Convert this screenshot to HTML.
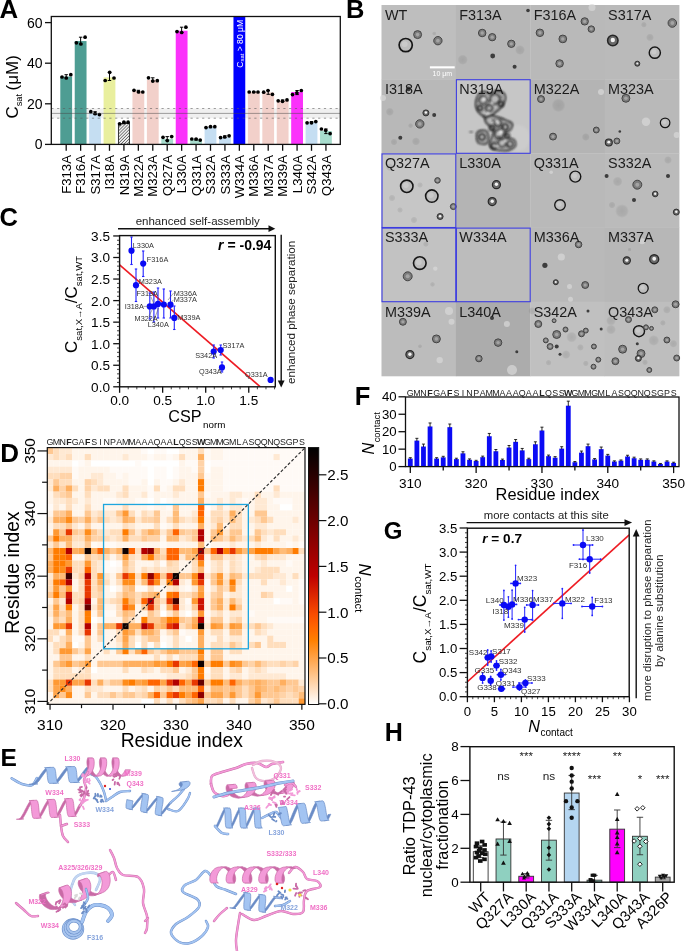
<!DOCTYPE html>
<html><head><meta charset="utf-8"><style>
html,body{margin:0;padding:0;background:#fff;}
body{width:685px;height:951px;overflow:hidden;}
svg{display:block;font-family:"Liberation Sans", sans-serif;will-change:transform;}
</style></head><body>
<svg width="685" height="951" viewBox="0 0 685 951">
<rect width="685" height="951" fill="#fff"/>
<text x="-0.60" y="17.80" font-size="25.8" font-weight="bold" fill="#000">A</text>
<rect x="51.30" y="108.50" width="289.00" height="9.70" fill="#f0f0f0"/>
<defs><pattern id="hatch" width="2.2" height="2.2" patternUnits="userSpaceOnUse" patternTransform="rotate(45)"><rect width="2.2" height="2.2" fill="#eeeeee"/><line x1="0" y1="0" x2="0" y2="2.2" stroke="#2a2a2a" stroke-width="1.05"/></pattern></defs>
<rect x="60.30" y="76.60" width="11.80" height="67.80" fill="#4e9d93"/>
<line x1="66.20" y1="74.70" x2="66.20" y2="78.00" stroke="#000" stroke-width="1.0"/>
<line x1="64.50" y1="74.70" x2="67.90" y2="74.70" stroke="#000" stroke-width="1.0"/>
<line x1="64.50" y1="78.00" x2="67.90" y2="78.00" stroke="#000" stroke-width="1.0"/>
<circle cx="62.00" cy="77.00" r="1.85" fill="#000"/>
<circle cx="66.30" cy="78.00" r="1.85" fill="#000"/>
<circle cx="70.80" cy="74.70" r="1.85" fill="#000"/>
<rect x="74.73" y="41.07" width="11.80" height="103.33" fill="#4e9d93"/>
<line x1="80.63" y1="37.20" x2="80.63" y2="44.00" stroke="#000" stroke-width="1.0"/>
<line x1="78.93" y1="37.20" x2="82.33" y2="37.20" stroke="#000" stroke-width="1.0"/>
<line x1="78.93" y1="44.00" x2="82.33" y2="44.00" stroke="#000" stroke-width="1.0"/>
<circle cx="76.40" cy="42.80" r="1.85" fill="#000"/>
<circle cx="80.90" cy="44.00" r="1.85" fill="#000"/>
<circle cx="85.10" cy="37.20" r="1.85" fill="#000"/>
<rect x="89.16" y="113.14" width="11.80" height="31.26" fill="#c5def2"/>
<line x1="95.06" y1="111.70" x2="95.06" y2="114.60" stroke="#000" stroke-width="1.0"/>
<line x1="93.36" y1="111.70" x2="96.76" y2="111.70" stroke="#000" stroke-width="1.0"/>
<line x1="93.36" y1="114.60" x2="96.76" y2="114.60" stroke="#000" stroke-width="1.0"/>
<circle cx="90.80" cy="111.70" r="1.85" fill="#000"/>
<circle cx="95.10" cy="113.60" r="1.85" fill="#000"/>
<circle cx="99.40" cy="114.60" r="1.85" fill="#000"/>
<rect x="103.59" y="77.41" width="11.80" height="66.99" fill="#e9ef9e"/>
<line x1="109.49" y1="72.30" x2="109.49" y2="80.50" stroke="#000" stroke-width="1.0"/>
<line x1="107.79" y1="72.30" x2="111.19" y2="72.30" stroke="#000" stroke-width="1.0"/>
<line x1="107.79" y1="80.50" x2="111.19" y2="80.50" stroke="#000" stroke-width="1.0"/>
<circle cx="105.20" cy="80.50" r="1.85" fill="#000"/>
<circle cx="109.70" cy="72.30" r="1.85" fill="#000"/>
<circle cx="114.00" cy="78.00" r="1.85" fill="#000"/>
<rect x="118.42" y="123.49" width="11.00" height="20.91" fill="url(#hatch)" stroke="#222" stroke-width="0.9"/>
<line x1="123.92" y1="122.20" x2="123.92" y2="123.80" stroke="#000" stroke-width="1.0"/>
<line x1="122.22" y1="122.20" x2="125.62" y2="122.20" stroke="#000" stroke-width="1.0"/>
<line x1="122.22" y1="123.80" x2="125.62" y2="123.80" stroke="#000" stroke-width="1.0"/>
<circle cx="119.60" cy="123.80" r="1.85" fill="#000"/>
<circle cx="123.90" cy="122.20" r="1.85" fill="#000"/>
<circle cx="128.10" cy="122.20" r="1.85" fill="#000"/>
<rect x="132.45" y="91.01" width="11.80" height="53.39" fill="#f2d0ca"/>
<line x1="138.35" y1="90.30" x2="138.35" y2="92.00" stroke="#000" stroke-width="1.0"/>
<line x1="136.65" y1="90.30" x2="140.05" y2="90.30" stroke="#000" stroke-width="1.0"/>
<line x1="136.65" y1="92.00" x2="140.05" y2="92.00" stroke="#000" stroke-width="1.0"/>
<circle cx="134.00" cy="90.30" r="1.85" fill="#000"/>
<circle cx="138.60" cy="92.00" r="1.85" fill="#000"/>
<circle cx="142.80" cy="92.00" r="1.85" fill="#000"/>
<rect x="146.88" y="79.85" width="11.80" height="64.55" fill="#f2d0ca"/>
<line x1="152.78" y1="77.80" x2="152.78" y2="81.10" stroke="#000" stroke-width="1.0"/>
<line x1="151.08" y1="77.80" x2="154.48" y2="77.80" stroke="#000" stroke-width="1.0"/>
<line x1="151.08" y1="81.10" x2="154.48" y2="81.10" stroke="#000" stroke-width="1.0"/>
<circle cx="148.50" cy="77.80" r="1.85" fill="#000"/>
<circle cx="152.80" cy="81.10" r="1.85" fill="#000"/>
<circle cx="157.30" cy="80.70" r="1.85" fill="#000"/>
<rect x="161.31" y="138.92" width="11.80" height="5.48" fill="#a7dccd"/>
<line x1="167.21" y1="136.60" x2="167.21" y2="140.60" stroke="#000" stroke-width="1.0"/>
<line x1="165.51" y1="136.60" x2="168.91" y2="136.60" stroke="#000" stroke-width="1.0"/>
<line x1="165.51" y1="140.60" x2="168.91" y2="140.60" stroke="#000" stroke-width="1.0"/>
<circle cx="163.00" cy="137.30" r="1.85" fill="#000"/>
<circle cx="167.30" cy="140.60" r="1.85" fill="#000"/>
<circle cx="171.70" cy="136.60" r="1.85" fill="#000"/>
<rect x="175.74" y="30.72" width="11.80" height="113.68" fill="#fb32fb"/>
<line x1="181.64" y1="27.20" x2="181.64" y2="32.50" stroke="#000" stroke-width="1.0"/>
<line x1="179.94" y1="27.20" x2="183.34" y2="27.20" stroke="#000" stroke-width="1.0"/>
<line x1="179.94" y1="32.50" x2="183.34" y2="32.50" stroke="#000" stroke-width="1.0"/>
<circle cx="177.00" cy="31.60" r="1.85" fill="#000"/>
<circle cx="181.70" cy="32.50" r="1.85" fill="#000"/>
<circle cx="185.90" cy="27.20" r="1.85" fill="#000"/>
<rect x="190.17" y="139.33" width="11.80" height="5.07" fill="#a7dccd"/>
<line x1="196.07" y1="139.00" x2="196.07" y2="140.10" stroke="#000" stroke-width="1.0"/>
<line x1="194.37" y1="139.00" x2="197.77" y2="139.00" stroke="#000" stroke-width="1.0"/>
<line x1="194.37" y1="140.10" x2="197.77" y2="140.10" stroke="#000" stroke-width="1.0"/>
<circle cx="191.80" cy="139.00" r="1.85" fill="#000"/>
<circle cx="196.10" cy="139.00" r="1.85" fill="#000"/>
<circle cx="200.20" cy="140.10" r="1.85" fill="#000"/>
<rect x="204.60" y="127.35" width="11.80" height="17.05" fill="#c5def2"/>
<line x1="210.50" y1="126.70" x2="210.50" y2="127.60" stroke="#000" stroke-width="1.0"/>
<line x1="208.80" y1="126.70" x2="212.20" y2="126.70" stroke="#000" stroke-width="1.0"/>
<line x1="208.80" y1="127.60" x2="212.20" y2="127.60" stroke="#000" stroke-width="1.0"/>
<circle cx="206.00" cy="127.60" r="1.85" fill="#000"/>
<circle cx="210.50" cy="126.70" r="1.85" fill="#000"/>
<circle cx="214.80" cy="126.70" r="1.85" fill="#000"/>
<rect x="219.03" y="137.30" width="11.80" height="7.10" fill="#c5def2"/>
<line x1="224.93" y1="135.80" x2="224.93" y2="137.60" stroke="#000" stroke-width="1.0"/>
<line x1="223.23" y1="135.80" x2="226.63" y2="135.80" stroke="#000" stroke-width="1.0"/>
<line x1="223.23" y1="137.60" x2="226.63" y2="137.60" stroke="#000" stroke-width="1.0"/>
<circle cx="220.60" cy="137.60" r="1.85" fill="#000"/>
<circle cx="224.70" cy="137.00" r="1.85" fill="#000"/>
<circle cx="229.10" cy="135.80" r="1.85" fill="#000"/>
<rect x="233.46" y="16.50" width="11.80" height="127.90" fill="#0000ff"/>
<text x="242.56" y="19.80" font-size="8.6" text-anchor="end" fill="#fff" transform="rotate(-90 242.55999999999997 19.8)">C<tspan font-size="5.8" dy="1.6">sat</tspan><tspan dy="-1.6"> &gt; 80 μM</tspan></text>
<rect x="247.89" y="92.03" width="11.80" height="52.37" fill="#f2d0ca"/>
<line x1="253.79" y1="92.00" x2="253.79" y2="92.00" stroke="#000" stroke-width="1.0"/>
<line x1="252.09" y1="92.00" x2="255.49" y2="92.00" stroke="#000" stroke-width="1.0"/>
<line x1="252.09" y1="92.00" x2="255.49" y2="92.00" stroke="#000" stroke-width="1.0"/>
<circle cx="249.20" cy="92.00" r="1.85" fill="#000"/>
<circle cx="253.70" cy="92.00" r="1.85" fill="#000"/>
<circle cx="258.00" cy="92.00" r="1.85" fill="#000"/>
<rect x="262.32" y="92.43" width="11.80" height="51.97" fill="#f2d0ca"/>
<line x1="268.22" y1="90.50" x2="268.22" y2="94.30" stroke="#000" stroke-width="1.0"/>
<line x1="266.52" y1="90.50" x2="269.92" y2="90.50" stroke="#000" stroke-width="1.0"/>
<line x1="266.52" y1="94.30" x2="269.92" y2="94.30" stroke="#000" stroke-width="1.0"/>
<circle cx="263.70" cy="92.20" r="1.85" fill="#000"/>
<circle cx="268.00" cy="90.50" r="1.85" fill="#000"/>
<circle cx="272.40" cy="94.30" r="1.85" fill="#000"/>
<rect x="276.75" y="100.55" width="11.80" height="43.85" fill="#f2d0ca"/>
<line x1="282.65" y1="99.90" x2="282.65" y2="101.30" stroke="#000" stroke-width="1.0"/>
<line x1="280.95" y1="99.90" x2="284.35" y2="99.90" stroke="#000" stroke-width="1.0"/>
<line x1="280.95" y1="101.30" x2="284.35" y2="101.30" stroke="#000" stroke-width="1.0"/>
<circle cx="278.20" cy="100.80" r="1.85" fill="#000"/>
<circle cx="282.50" cy="101.30" r="1.85" fill="#000"/>
<circle cx="287.00" cy="99.90" r="1.85" fill="#000"/>
<rect x="291.18" y="92.03" width="11.80" height="52.37" fill="#fb32fb"/>
<line x1="297.08" y1="90.50" x2="297.08" y2="94.60" stroke="#000" stroke-width="1.0"/>
<line x1="295.38" y1="90.50" x2="298.78" y2="90.50" stroke="#000" stroke-width="1.0"/>
<line x1="295.38" y1="94.60" x2="298.78" y2="94.60" stroke="#000" stroke-width="1.0"/>
<circle cx="292.50" cy="94.60" r="1.85" fill="#000"/>
<circle cx="296.90" cy="92.80" r="1.85" fill="#000"/>
<circle cx="301.30" cy="90.50" r="1.85" fill="#000"/>
<rect x="305.61" y="122.27" width="11.80" height="22.13" fill="#c5def2"/>
<line x1="311.51" y1="121.60" x2="311.51" y2="122.80" stroke="#000" stroke-width="1.0"/>
<line x1="309.81" y1="121.60" x2="313.21" y2="121.60" stroke="#000" stroke-width="1.0"/>
<line x1="309.81" y1="122.80" x2="313.21" y2="122.80" stroke="#000" stroke-width="1.0"/>
<circle cx="307.10" cy="122.80" r="1.85" fill="#000"/>
<circle cx="311.50" cy="122.80" r="1.85" fill="#000"/>
<circle cx="315.80" cy="121.60" r="1.85" fill="#000"/>
<rect x="320.04" y="131.00" width="11.80" height="13.40" fill="#a7dccd"/>
<line x1="325.94" y1="129.00" x2="325.94" y2="133.60" stroke="#000" stroke-width="1.0"/>
<line x1="324.24" y1="129.00" x2="327.64" y2="129.00" stroke="#000" stroke-width="1.0"/>
<line x1="324.24" y1="133.60" x2="327.64" y2="133.60" stroke="#000" stroke-width="1.0"/>
<circle cx="321.40" cy="129.00" r="1.85" fill="#000"/>
<circle cx="325.70" cy="130.30" r="1.85" fill="#000"/>
<circle cx="330.10" cy="133.60" r="1.85" fill="#000"/>
<line x1="51.30" y1="108.50" x2="340.30" y2="108.50" stroke="rgba(90,90,90,0.65)" stroke-width="0.9" stroke-dasharray="2.2 3.6"/>
<line x1="51.30" y1="118.20" x2="340.30" y2="118.20" stroke="rgba(90,90,90,0.65)" stroke-width="0.9" stroke-dasharray="2.2 3.6"/>
<line x1="51.30" y1="113.40" x2="340.30" y2="113.40" stroke="rgba(70,70,70,0.55)" stroke-width="0.9"/>
<rect x="51.3" y="16.5" width="289.0" height="127.9" fill="none" stroke="#111" stroke-width="1.3"/>
<line x1="45.00" y1="144.40" x2="51.30" y2="144.40" stroke="#111" stroke-width="1.3"/>
<text x="42.60" y="149.40" font-size="14" text-anchor="end" fill="#000">0</text>
<line x1="45.00" y1="103.80" x2="51.30" y2="103.80" stroke="#111" stroke-width="1.3"/>
<text x="42.60" y="108.80" font-size="14" text-anchor="end" fill="#000">20</text>
<line x1="45.00" y1="63.20" x2="51.30" y2="63.20" stroke="#111" stroke-width="1.3"/>
<text x="42.60" y="68.20" font-size="14" text-anchor="end" fill="#000">40</text>
<line x1="45.00" y1="22.60" x2="51.30" y2="22.60" stroke="#111" stroke-width="1.3"/>
<text x="42.60" y="27.60" font-size="14" text-anchor="end" fill="#000">60</text>
<line x1="66.20" y1="144.40" x2="66.20" y2="150.80" stroke="#111" stroke-width="1.3"/>
<text x="70.90" y="155.00" font-size="13.2" text-anchor="end" fill="#000" transform="rotate(-90 70.9 155.0)">F313A</text>
<line x1="80.63" y1="144.40" x2="80.63" y2="150.80" stroke="#111" stroke-width="1.3"/>
<text x="85.33" y="155.00" font-size="13.2" text-anchor="end" fill="#000" transform="rotate(-90 85.33 155.0)">F316A</text>
<line x1="95.06" y1="144.40" x2="95.06" y2="150.80" stroke="#111" stroke-width="1.3"/>
<text x="99.76" y="155.00" font-size="13.2" text-anchor="end" fill="#000" transform="rotate(-90 99.76 155.0)">S317A</text>
<line x1="109.49" y1="144.40" x2="109.49" y2="150.80" stroke="#111" stroke-width="1.3"/>
<text x="114.19" y="155.00" font-size="13.2" text-anchor="end" fill="#000" transform="rotate(-90 114.19000000000001 155.0)">I318A</text>
<line x1="123.92" y1="144.40" x2="123.92" y2="150.80" stroke="#111" stroke-width="1.3"/>
<text x="128.62" y="155.00" font-size="13.2" text-anchor="end" fill="#000" transform="rotate(-90 128.62 155.0)">N319A</text>
<line x1="138.35" y1="144.40" x2="138.35" y2="150.80" stroke="#111" stroke-width="1.3"/>
<text x="143.05" y="155.00" font-size="13.2" text-anchor="end" fill="#000" transform="rotate(-90 143.04999999999998 155.0)">M322A</text>
<line x1="152.78" y1="144.40" x2="152.78" y2="150.80" stroke="#111" stroke-width="1.3"/>
<text x="157.48" y="155.00" font-size="13.2" text-anchor="end" fill="#000" transform="rotate(-90 157.48 155.0)">M323A</text>
<line x1="167.21" y1="144.40" x2="167.21" y2="150.80" stroke="#111" stroke-width="1.3"/>
<text x="171.91" y="155.00" font-size="13.2" text-anchor="end" fill="#000" transform="rotate(-90 171.91 155.0)">Q327A</text>
<line x1="181.64" y1="144.40" x2="181.64" y2="150.80" stroke="#111" stroke-width="1.3"/>
<text x="186.34" y="155.00" font-size="13.2" text-anchor="end" fill="#000" transform="rotate(-90 186.34 155.0)">L330A</text>
<line x1="196.07" y1="144.40" x2="196.07" y2="150.80" stroke="#111" stroke-width="1.3"/>
<text x="200.77" y="155.00" font-size="13.2" text-anchor="end" fill="#000" transform="rotate(-90 200.77 155.0)">Q331A</text>
<line x1="210.50" y1="144.40" x2="210.50" y2="150.80" stroke="#111" stroke-width="1.3"/>
<text x="215.20" y="155.00" font-size="13.2" text-anchor="end" fill="#000" transform="rotate(-90 215.20000000000002 155.0)">S332A</text>
<line x1="224.93" y1="144.40" x2="224.93" y2="150.80" stroke="#111" stroke-width="1.3"/>
<text x="229.63" y="155.00" font-size="13.2" text-anchor="end" fill="#000" transform="rotate(-90 229.62999999999997 155.0)">S333A</text>
<line x1="239.36" y1="144.40" x2="239.36" y2="150.80" stroke="#111" stroke-width="1.3"/>
<text x="244.06" y="155.00" font-size="13.2" text-anchor="end" fill="#000" transform="rotate(-90 244.05999999999997 155.0)">W334A</text>
<line x1="253.79" y1="144.40" x2="253.79" y2="150.80" stroke="#111" stroke-width="1.3"/>
<text x="258.49" y="155.00" font-size="13.2" text-anchor="end" fill="#000" transform="rotate(-90 258.49 155.0)">M336A</text>
<line x1="268.22" y1="144.40" x2="268.22" y2="150.80" stroke="#111" stroke-width="1.3"/>
<text x="272.92" y="155.00" font-size="13.2" text-anchor="end" fill="#000" transform="rotate(-90 272.91999999999996 155.0)">M337A</text>
<line x1="282.65" y1="144.40" x2="282.65" y2="150.80" stroke="#111" stroke-width="1.3"/>
<text x="287.35" y="155.00" font-size="13.2" text-anchor="end" fill="#000" transform="rotate(-90 287.34999999999997 155.0)">M339A</text>
<line x1="297.08" y1="144.40" x2="297.08" y2="150.80" stroke="#111" stroke-width="1.3"/>
<text x="301.78" y="155.00" font-size="13.2" text-anchor="end" fill="#000" transform="rotate(-90 301.78 155.0)">L340A</text>
<line x1="311.51" y1="144.40" x2="311.51" y2="150.80" stroke="#111" stroke-width="1.3"/>
<text x="316.21" y="155.00" font-size="13.2" text-anchor="end" fill="#000" transform="rotate(-90 316.21 155.0)">S342A</text>
<line x1="325.94" y1="144.40" x2="325.94" y2="150.80" stroke="#111" stroke-width="1.3"/>
<text x="330.64" y="155.00" font-size="13.2" text-anchor="end" fill="#000" transform="rotate(-90 330.64 155.0)">Q343A</text>
<text x="17.5" y="118.5" font-size="17" transform="rotate(-90 17.5 118.5)">C<tspan font-size="9.2" dy="4.6">sat</tspan><tspan dy="-4.6" dx="3.5">(μM)</tspan></text>
<text x="346.00" y="17.90" font-size="25.5" font-weight="bold" fill="#000">B</text>
<defs><radialGradient id="blob"><stop offset="0" stop-color="#000" stop-opacity="0.10"/><stop offset="0.7" stop-color="#000" stop-opacity="0.07"/><stop offset="1" stop-color="#000" stop-opacity="0"/></radialGradient><radialGradient id="blobL"><stop offset="0" stop-color="#fff" stop-opacity="0.25"/><stop offset="1" stop-color="#fff" stop-opacity="0"/></radialGradient><filter id="soft" x="-50%" y="-50%" width="200%" height="200%"><feGaussianBlur stdDeviation="0.5"/></filter><filter id="soft2" x="-50%" y="-50%" width="200%" height="200%"><feGaussianBlur stdDeviation="0.8"/></filter></defs>
<rect x="381.50" y="5.00" width="74.70" height="74.50" fill="#bebebe"/>
<rect x="455.90" y="5.00" width="74.70" height="74.50" fill="#b7b7b7"/>
<rect x="530.30" y="5.00" width="74.70" height="74.50" fill="#b9b9b9"/>
<rect x="604.70" y="5.00" width="74.70" height="74.50" fill="#bababa"/>
<rect x="381.50" y="79.20" width="74.70" height="74.50" fill="#b8b8b8"/>
<rect x="455.90" y="79.20" width="74.70" height="74.50" fill="#c6c6c6"/>
<rect x="530.30" y="79.20" width="74.70" height="74.50" fill="#b4b4b4"/>
<rect x="604.70" y="79.20" width="74.70" height="74.50" fill="#b9b9b9"/>
<rect x="381.50" y="153.40" width="74.70" height="74.50" fill="#c6c6c6"/>
<rect x="455.90" y="153.40" width="74.70" height="74.50" fill="#b4b4b4"/>
<rect x="530.30" y="153.40" width="74.70" height="74.50" fill="#b9b9b9"/>
<rect x="604.70" y="153.40" width="74.70" height="74.50" fill="#bbbbbb"/>
<rect x="381.50" y="227.60" width="74.70" height="74.50" fill="#c2c2c2"/>
<rect x="455.90" y="227.60" width="74.70" height="74.50" fill="#bcbcbc"/>
<rect x="530.30" y="227.60" width="74.70" height="74.50" fill="#b9b9b9"/>
<rect x="604.70" y="227.60" width="74.70" height="74.50" fill="#b7b7b7"/>
<rect x="381.50" y="301.80" width="74.70" height="74.50" fill="#bcbcbc"/>
<rect x="455.90" y="301.80" width="74.70" height="74.50" fill="#acacac"/>
<rect x="530.30" y="301.80" width="74.70" height="74.50" fill="#c0c0c0"/>
<rect x="604.70" y="301.80" width="74.70" height="74.50" fill="#bebebe"/>
<circle cx="405.70" cy="45.10" r="7.50" fill="rgba(255,255,255,0.15)" filter="url(#soft)"/>
<circle cx="405.70" cy="45.10" r="6.60" fill="#bdbdbd" stroke="#181818" stroke-width="1.72" filter="url(#soft)"/>
<circle cx="404.71" cy="44.11" r="2.97" fill="rgba(255,255,255,0.2)" filter="url(#soft)"/>
<circle cx="417.60" cy="34.60" r="4.80" fill="rgba(255,255,255,0.15)" filter="url(#soft)"/>
<circle cx="417.60" cy="34.60" r="4.00" fill="#7c7c7c" stroke="#3a3a3a" stroke-width="0.9" filter="url(#soft)"/>
<circle cx="417.60" cy="34.60" r="1.80" fill="#a4a4a4" filter="url(#soft)"/>
<circle cx="437.90" cy="40.70" r="5.00" fill="rgba(255,255,255,0.15)" filter="url(#soft)"/>
<circle cx="437.90" cy="40.70" r="4.20" fill="#7c7c7c" stroke="#3a3a3a" stroke-width="0.9" filter="url(#soft)"/>
<circle cx="437.90" cy="40.70" r="1.89" fill="#a4a4a4" filter="url(#soft)"/>
<circle cx="434.20" cy="33.50" r="2.20" fill="url(#blob)"/>
<circle cx="482.20" cy="33.00" r="4.60" fill="rgba(255,255,255,0.15)" filter="url(#soft)"/>
<circle cx="482.20" cy="33.00" r="3.80" fill="#7c7c7c" stroke="#3a3a3a" stroke-width="0.9" filter="url(#soft)"/>
<circle cx="482.20" cy="33.00" r="1.71" fill="#a4a4a4" filter="url(#soft)"/>
<circle cx="492.20" cy="37.20" r="4.50" fill="rgba(255,255,255,0.15)" filter="url(#soft)"/>
<circle cx="492.20" cy="37.20" r="3.70" fill="#7c7c7c" stroke="#3a3a3a" stroke-width="0.9" filter="url(#soft)"/>
<circle cx="492.20" cy="37.20" r="1.67" fill="#a4a4a4" filter="url(#soft)"/>
<circle cx="511.30" cy="43.80" r="4.50" fill="rgba(255,255,255,0.15)" filter="url(#soft)"/>
<circle cx="511.30" cy="43.80" r="3.70" fill="#7c7c7c" stroke="#3a3a3a" stroke-width="0.9" filter="url(#soft)"/>
<circle cx="511.30" cy="43.80" r="1.67" fill="#a4a4a4" filter="url(#soft)"/>
<circle cx="492.70" cy="56.00" r="2.40" fill="#3c3c3c" filter="url(#soft)"/>
<circle cx="514.60" cy="66.70" r="2.00" fill="#3c3c3c" filter="url(#soft)"/>
<circle cx="462.70" cy="59.70" r="5.20" fill="url(#blob)"/>
<circle cx="528.00" cy="10.50" r="1.80" fill="#3c3c3c" filter="url(#soft)"/>
<circle cx="520.00" cy="50.00" r="5.00" fill="url(#blob)"/>
<circle cx="539.90" cy="32.80" r="4.60" fill="rgba(255,255,255,0.15)" filter="url(#soft)"/>
<circle cx="539.90" cy="32.80" r="3.80" fill="#7c7c7c" stroke="#3a3a3a" stroke-width="0.9" filter="url(#soft)"/>
<circle cx="539.90" cy="32.80" r="1.71" fill="#a4a4a4" filter="url(#soft)"/>
<circle cx="562.80" cy="38.90" r="4.70" fill="rgba(255,255,255,0.15)" filter="url(#soft)"/>
<circle cx="562.80" cy="38.90" r="3.90" fill="#7c7c7c" stroke="#3a3a3a" stroke-width="0.9" filter="url(#soft)"/>
<circle cx="562.80" cy="38.90" r="1.75" fill="#a4a4a4" filter="url(#soft)"/>
<circle cx="584.70" cy="21.40" r="4.50" fill="rgba(255,255,255,0.15)" filter="url(#soft)"/>
<circle cx="584.70" cy="21.40" r="3.70" fill="#7c7c7c" stroke="#3a3a3a" stroke-width="0.9" filter="url(#soft)"/>
<circle cx="584.70" cy="21.40" r="1.67" fill="#a4a4a4" filter="url(#soft)"/>
<circle cx="591.30" cy="29.10" r="4.10" fill="rgba(255,255,255,0.15)" filter="url(#soft)"/>
<circle cx="591.30" cy="29.10" r="3.30" fill="#7c7c7c" stroke="#3a3a3a" stroke-width="0.9" filter="url(#soft)"/>
<circle cx="591.30" cy="29.10" r="1.48" fill="#a4a4a4" filter="url(#soft)"/>
<circle cx="559.60" cy="63.50" r="4.60" fill="rgba(255,255,255,0.15)" filter="url(#soft)"/>
<circle cx="559.60" cy="63.50" r="3.80" fill="#7c7c7c" stroke="#3a3a3a" stroke-width="0.9" filter="url(#soft)"/>
<circle cx="559.60" cy="63.50" r="1.71" fill="#a4a4a4" filter="url(#soft)"/>
<circle cx="592.00" cy="7.50" r="3.50" fill="#d8d8d8" fill-opacity="0.7" filter="url(#soft)"/>
<circle cx="612.80" cy="40.50" r="5.20" fill="#6a6a6a" stroke="#262626" stroke-width="1.56" filter="url(#soft)"/>
<circle cx="612.80" cy="39.98" r="2.18" fill="#f2f2f2" filter="url(#soft)"/>
<circle cx="654.80" cy="52.70" r="6.50" fill="rgba(255,255,255,0.15)" filter="url(#soft)"/>
<circle cx="654.80" cy="52.70" r="5.60" fill="#bdbdbd" stroke="#181818" stroke-width="1.46" filter="url(#soft)"/>
<circle cx="653.96" cy="51.86" r="2.52" fill="rgba(255,255,255,0.2)" filter="url(#soft)"/>
<circle cx="672.30" cy="23.00" r="5.10" fill="rgba(255,255,255,0.15)" filter="url(#soft)"/>
<circle cx="672.30" cy="23.00" r="4.30" fill="#7c7c7c" stroke="#3a3a3a" stroke-width="0.9" filter="url(#soft)"/>
<circle cx="672.30" cy="23.00" r="1.94" fill="#a4a4a4" filter="url(#soft)"/>
<circle cx="643.90" cy="24.70" r="3.00" fill="url(#blob)"/>
<circle cx="650.00" cy="37.40" r="4.00" fill="url(#blob)"/>
<circle cx="637.30" cy="63.70" r="2.50" fill="#6a6a6a" stroke="#262626" stroke-width="0.90" filter="url(#soft)"/>
<circle cx="637.30" cy="63.45" r="1.05" fill="#f2f2f2" filter="url(#soft)"/>
<circle cx="419.80" cy="123.90" r="5.00" fill="rgba(255,255,255,0.15)" filter="url(#soft)"/>
<circle cx="419.80" cy="123.90" r="4.20" fill="#7c7c7c" stroke="#3a3a3a" stroke-width="0.9" filter="url(#soft)"/>
<circle cx="419.80" cy="123.90" r="1.89" fill="#a4a4a4" filter="url(#soft)"/>
<circle cx="425.90" cy="112.90" r="3.00" fill="#6a6a6a" stroke="#262626" stroke-width="0.90" filter="url(#soft)"/>
<circle cx="425.90" cy="112.60" r="1.26" fill="#f2f2f2" filter="url(#soft)"/>
<circle cx="434.20" cy="115.10" r="2.00" fill="#3c3c3c" filter="url(#soft)"/>
<circle cx="410.60" cy="125.60" r="2.60" fill="url(#blob)"/>
<circle cx="400.30" cy="137.70" r="2.00" fill="#3c3c3c" filter="url(#soft)"/>
<circle cx="408.40" cy="88.90" r="2.40" fill="#3c3c3c" filter="url(#soft)"/>
<circle cx="389.80" cy="111.80" r="4.20" fill="url(#blob)"/>
<circle cx="416.00" cy="141.40" r="4.20" fill="url(#blob)"/>
<circle cx="394.00" cy="142.00" r="3.50" fill="url(#blob)"/>
<circle cx="383.00" cy="98.00" r="3.00" fill="#d8d8d8" fill-opacity="0.7" filter="url(#soft)"/>
<circle cx="541.00" cy="99.10" r="4.30" fill="rgba(255,255,255,0.15)" filter="url(#soft)"/>
<circle cx="541.00" cy="99.10" r="3.50" fill="#7c7c7c" stroke="#3a3a3a" stroke-width="0.9" filter="url(#soft)"/>
<circle cx="541.00" cy="99.10" r="1.57" fill="#a4a4a4" filter="url(#soft)"/>
<circle cx="553.00" cy="136.60" r="4.30" fill="rgba(255,255,255,0.15)" filter="url(#soft)"/>
<circle cx="553.00" cy="136.60" r="3.50" fill="#7c7c7c" stroke="#3a3a3a" stroke-width="0.9" filter="url(#soft)"/>
<circle cx="553.00" cy="136.60" r="1.57" fill="#a4a4a4" filter="url(#soft)"/>
<circle cx="596.30" cy="130.00" r="3.80" fill="rgba(255,255,255,0.15)" filter="url(#soft)"/>
<circle cx="596.30" cy="130.00" r="3.00" fill="#7c7c7c" stroke="#3a3a3a" stroke-width="0.9" filter="url(#soft)"/>
<circle cx="596.30" cy="130.00" r="1.35" fill="#a4a4a4" filter="url(#soft)"/>
<circle cx="558.50" cy="105.30" r="7.00" fill="url(#blob)"/>
<circle cx="585.80" cy="137.00" r="4.00" fill="url(#blob)"/>
<circle cx="601.00" cy="92.00" r="3.00" fill="#d8d8d8" fill-opacity="0.7" filter="url(#soft)"/>
<circle cx="625.90" cy="98.30" r="4.80" fill="rgba(255,255,255,0.15)" filter="url(#soft)"/>
<circle cx="625.90" cy="98.30" r="4.00" fill="#7c7c7c" stroke="#3a3a3a" stroke-width="0.9" filter="url(#soft)"/>
<circle cx="625.90" cy="98.30" r="1.80" fill="#a4a4a4" filter="url(#soft)"/>
<circle cx="665.10" cy="122.80" r="5.70" fill="rgba(255,255,255,0.15)" filter="url(#soft)"/>
<circle cx="665.10" cy="122.80" r="4.80" fill="#bdbdbd" stroke="#181818" stroke-width="1.25" filter="url(#soft)"/>
<circle cx="664.38" cy="122.08" r="2.16" fill="rgba(255,255,255,0.2)" filter="url(#soft)"/>
<circle cx="646.00" cy="121.70" r="4.20" fill="#d8d8d8" fill-opacity="0.7" filter="url(#soft)"/>
<circle cx="608.80" cy="142.50" r="3.50" fill="#6a6a6a" stroke="#262626" stroke-width="1.05" filter="url(#soft)"/>
<circle cx="608.80" cy="142.15" r="1.47" fill="#f2f2f2" filter="url(#soft)"/>
<circle cx="616.90" cy="141.00" r="3.80" fill="rgba(255,255,255,0.15)" filter="url(#soft)"/>
<circle cx="616.90" cy="141.00" r="3.00" fill="#7c7c7c" stroke="#3a3a3a" stroke-width="0.9" filter="url(#soft)"/>
<circle cx="616.90" cy="141.00" r="1.35" fill="#a4a4a4" filter="url(#soft)"/>
<circle cx="619.80" cy="131.50" r="1.30" fill="#3c3c3c" filter="url(#soft)"/>
<circle cx="676.70" cy="135.00" r="3.00" fill="#d8d8d8" fill-opacity="0.7" filter="url(#soft)"/>
<circle cx="406.80" cy="186.30" r="7.10" fill="rgba(255,255,255,0.15)" filter="url(#soft)"/>
<circle cx="406.80" cy="186.30" r="6.20" fill="#bdbdbd" stroke="#181818" stroke-width="1.61" filter="url(#soft)"/>
<circle cx="405.87" cy="185.37" r="2.79" fill="rgba(255,255,255,0.2)" filter="url(#soft)"/>
<circle cx="431.80" cy="196.10" r="7.10" fill="rgba(255,255,255,0.15)" filter="url(#soft)"/>
<circle cx="431.80" cy="196.10" r="6.20" fill="#bdbdbd" stroke="#181818" stroke-width="1.61" filter="url(#soft)"/>
<circle cx="430.87" cy="195.17" r="2.79" fill="rgba(255,255,255,0.2)" filter="url(#soft)"/>
<circle cx="437.50" cy="180.40" r="3.60" fill="rgba(255,255,255,0.15)" filter="url(#soft)"/>
<circle cx="437.50" cy="180.40" r="2.80" fill="#7c7c7c" stroke="#3a3a3a" stroke-width="0.9" filter="url(#soft)"/>
<circle cx="437.50" cy="180.40" r="1.26" fill="#a4a4a4" filter="url(#soft)"/>
<circle cx="440.10" cy="216.50" r="3.00" fill="#6a6a6a" stroke="#262626" stroke-width="0.90" filter="url(#soft)"/>
<circle cx="440.10" cy="216.20" r="1.26" fill="#f2f2f2" filter="url(#soft)"/>
<circle cx="453.30" cy="206.60" r="3.80" fill="rgba(255,255,255,0.15)" filter="url(#soft)"/>
<circle cx="453.30" cy="206.60" r="3.00" fill="#7c7c7c" stroke="#3a3a3a" stroke-width="0.9" filter="url(#soft)"/>
<circle cx="453.30" cy="206.60" r="1.35" fill="#a4a4a4" filter="url(#soft)"/>
<circle cx="389.80" cy="167.20" r="4.00" fill="url(#blob)"/>
<circle cx="392.00" cy="198.00" r="3.50" fill="url(#blob)"/>
<circle cx="414.00" cy="220.00" r="3.50" fill="url(#blob)"/>
<circle cx="420.00" cy="185.00" r="3.00" fill="url(#blob)"/>
<circle cx="400.00" cy="210.00" r="3.00" fill="url(#blob)"/>
<circle cx="496.40" cy="184.70" r="4.00" fill="#6a6a6a" stroke="#262626" stroke-width="1.20" filter="url(#soft)"/>
<circle cx="496.40" cy="184.30" r="1.68" fill="#f2f2f2" filter="url(#soft)"/>
<circle cx="492.20" cy="201.60" r="4.00" fill="#6a6a6a" stroke="#262626" stroke-width="1.20" filter="url(#soft)"/>
<circle cx="492.20" cy="201.20" r="1.68" fill="#f2f2f2" filter="url(#soft)"/>
<circle cx="575.30" cy="176.60" r="6.40" fill="rgba(255,255,255,0.15)" filter="url(#soft)"/>
<circle cx="575.30" cy="176.60" r="5.50" fill="#bdbdbd" stroke="#181818" stroke-width="1.43" filter="url(#soft)"/>
<circle cx="574.47" cy="175.78" r="2.48" fill="rgba(255,255,255,0.2)" filter="url(#soft)"/>
<circle cx="560.00" cy="205.10" r="6.20" fill="rgba(255,255,255,0.15)" filter="url(#soft)"/>
<circle cx="560.00" cy="205.10" r="5.30" fill="#bdbdbd" stroke="#181818" stroke-width="1.38" filter="url(#soft)"/>
<circle cx="559.21" cy="204.31" r="2.38" fill="rgba(255,255,255,0.2)" filter="url(#soft)"/>
<circle cx="551.20" cy="172.30" r="1.80" fill="#d8d8d8" fill-opacity="0.7" filter="url(#soft)"/>
<circle cx="637.30" cy="184.70" r="5.30" fill="rgba(255,255,255,0.15)" filter="url(#soft)"/>
<circle cx="637.30" cy="184.70" r="4.50" fill="#7c7c7c" stroke="#3a3a3a" stroke-width="0.9" filter="url(#soft)"/>
<circle cx="637.30" cy="184.70" r="2.02" fill="#a4a4a4" filter="url(#soft)"/>
<circle cx="655.20" cy="194.00" r="2.80" fill="#6a6a6a" stroke="#262626" stroke-width="0.90" filter="url(#soft)"/>
<circle cx="655.20" cy="193.72" r="1.18" fill="#f2f2f2" filter="url(#soft)"/>
<circle cx="606.60" cy="176.00" r="2.00" fill="#3c3c3c" filter="url(#soft)"/>
<circle cx="668.00" cy="176.00" r="2.00" fill="#3c3c3c" filter="url(#soft)"/>
<circle cx="634.00" cy="200.00" r="2.00" fill="#3c3c3c" filter="url(#soft)"/>
<circle cx="676.30" cy="212.10" r="3.00" fill="#6a6a6a" stroke="#262626" stroke-width="0.90" filter="url(#soft)"/>
<circle cx="676.30" cy="211.80" r="1.26" fill="#f2f2f2" filter="url(#soft)"/>
<circle cx="617.60" cy="181.50" r="5.00" fill="url(#blob)"/>
<circle cx="622.00" cy="211.00" r="7.00" fill="url(#blob)"/>
<circle cx="612.00" cy="205.00" r="3.50" fill="url(#blob)"/>
<circle cx="668.00" cy="160.00" r="4.00" fill="url(#blob)"/>
<circle cx="419.80" cy="263.10" r="7.20" fill="rgba(255,255,255,0.15)" filter="url(#soft)"/>
<circle cx="419.80" cy="263.10" r="6.30" fill="#bdbdbd" stroke="#181818" stroke-width="1.64" filter="url(#soft)"/>
<circle cx="418.86" cy="262.16" r="2.83" fill="rgba(255,255,255,0.2)" filter="url(#soft)"/>
<circle cx="407.70" cy="276.30" r="5.30" fill="rgba(255,255,255,0.15)" filter="url(#soft)"/>
<circle cx="407.70" cy="276.30" r="4.50" fill="#7c7c7c" stroke="#3a3a3a" stroke-width="0.9" filter="url(#soft)"/>
<circle cx="407.70" cy="276.30" r="2.02" fill="#a4a4a4" filter="url(#soft)"/>
<circle cx="435.30" cy="268.60" r="2.20" fill="#d8d8d8" fill-opacity="0.7" filter="url(#soft)"/>
<circle cx="432.50" cy="284.40" r="2.60" fill="url(#blob)"/>
<circle cx="425.90" cy="244.10" r="3.00" fill="url(#blob)"/>
<circle cx="578.60" cy="244.50" r="4.10" fill="rgba(255,255,255,0.15)" filter="url(#soft)"/>
<circle cx="578.60" cy="244.50" r="3.30" fill="#7c7c7c" stroke="#3a3a3a" stroke-width="0.9" filter="url(#soft)"/>
<circle cx="578.60" cy="244.50" r="1.48" fill="#a4a4a4" filter="url(#soft)"/>
<circle cx="544.90" cy="265.30" r="2.60" fill="#3c3c3c" filter="url(#soft)"/>
<circle cx="585.20" cy="285.00" r="4.30" fill="rgba(255,255,255,0.15)" filter="url(#soft)"/>
<circle cx="585.20" cy="285.00" r="3.50" fill="#7c7c7c" stroke="#3a3a3a" stroke-width="0.9" filter="url(#soft)"/>
<circle cx="585.20" cy="285.00" r="1.57" fill="#a4a4a4" filter="url(#soft)"/>
<circle cx="561.30" cy="257.00" r="3.60" fill="#d8d8d8" fill-opacity="0.7" filter="url(#soft)"/>
<circle cx="555.80" cy="282.20" r="2.50" fill="#6a6a6a" stroke="#262626" stroke-width="0.90" filter="url(#soft)"/>
<circle cx="555.80" cy="281.95" r="1.05" fill="#f2f2f2" filter="url(#soft)"/>
<circle cx="570.50" cy="299.30" r="2.50" fill="#d8d8d8" fill-opacity="0.7" filter="url(#soft)"/>
<circle cx="569.50" cy="286.50" r="2.50" fill="#d8d8d8" fill-opacity="0.7" filter="url(#soft)"/>
<circle cx="626.80" cy="260.50" r="3.60" fill="#6a6a6a" stroke="#262626" stroke-width="1.08" filter="url(#soft)"/>
<circle cx="626.80" cy="260.14" r="1.51" fill="#f2f2f2" filter="url(#soft)"/>
<circle cx="654.20" cy="259.20" r="4.50" fill="#6a6a6a" stroke="#262626" stroke-width="1.35" filter="url(#soft)"/>
<circle cx="654.20" cy="258.75" r="1.89" fill="#f2f2f2" filter="url(#soft)"/>
<circle cx="643.20" cy="288.30" r="5.90" fill="rgba(255,255,255,0.15)" filter="url(#soft)"/>
<circle cx="643.20" cy="288.30" r="5.00" fill="#bdbdbd" stroke="#181818" stroke-width="1.30" filter="url(#soft)"/>
<circle cx="642.45" cy="287.55" r="2.25" fill="rgba(255,255,255,0.2)" filter="url(#soft)"/>
<circle cx="629.60" cy="249.60" r="2.00" fill="url(#blob)"/>
<circle cx="642.10" cy="241.20" r="3.00" fill="#d8d8d8" fill-opacity="0.7" filter="url(#soft)"/>
<circle cx="402.90" cy="321.80" r="4.30" fill="rgba(255,255,255,0.15)" filter="url(#soft)"/>
<circle cx="402.90" cy="321.80" r="3.50" fill="#7c7c7c" stroke="#3a3a3a" stroke-width="0.9" filter="url(#soft)"/>
<circle cx="402.90" cy="321.80" r="1.57" fill="#a4a4a4" filter="url(#soft)"/>
<circle cx="436.40" cy="338.90" r="4.80" fill="rgba(255,255,255,0.15)" filter="url(#soft)"/>
<circle cx="436.40" cy="338.90" r="4.00" fill="#7c7c7c" stroke="#3a3a3a" stroke-width="0.9" filter="url(#soft)"/>
<circle cx="436.40" cy="338.90" r="1.80" fill="#a4a4a4" filter="url(#soft)"/>
<circle cx="409.90" cy="354.60" r="4.00" fill="#6a6a6a" stroke="#262626" stroke-width="1.20" filter="url(#soft)"/>
<circle cx="409.90" cy="354.20" r="1.68" fill="#f2f2f2" filter="url(#soft)"/>
<circle cx="439.70" cy="360.10" r="3.20" fill="#d8d8d8" fill-opacity="0.7" filter="url(#soft)"/>
<circle cx="420.00" cy="346.30" r="2.20" fill="url(#blob)"/>
<circle cx="451.50" cy="321.80" r="3.00" fill="#d8d8d8" fill-opacity="0.7" filter="url(#soft)"/>
<circle cx="449.00" cy="311.00" r="4.00" fill="#d8d8d8" fill-opacity="0.7" filter="url(#soft)"/>
<circle cx="498.10" cy="342.60" r="4.60" fill="rgba(255,255,255,0.15)" filter="url(#soft)"/>
<circle cx="498.10" cy="342.60" r="3.80" fill="#7c7c7c" stroke="#3a3a3a" stroke-width="0.9" filter="url(#soft)"/>
<circle cx="498.10" cy="342.60" r="1.71" fill="#a4a4a4" filter="url(#soft)"/>
<circle cx="478.90" cy="358.60" r="4.10" fill="rgba(255,255,255,0.15)" filter="url(#soft)"/>
<circle cx="478.90" cy="358.60" r="3.30" fill="#7c7c7c" stroke="#3a3a3a" stroke-width="0.9" filter="url(#soft)"/>
<circle cx="478.90" cy="358.60" r="1.48" fill="#a4a4a4" filter="url(#soft)"/>
<circle cx="506.90" cy="324.00" r="3.00" fill="#d8d8d8" fill-opacity="0.7" filter="url(#soft)"/>
<circle cx="492.00" cy="318.10" r="2.00" fill="#3c3c3c" filter="url(#soft)"/>
<circle cx="516.80" cy="351.80" r="1.50" fill="#3c3c3c" filter="url(#soft)"/>
<circle cx="512.00" cy="370.00" r="5.00" fill="#d8d8d8" fill-opacity="0.7" filter="url(#soft)"/>
<circle cx="538.30" cy="324.00" r="4.30" fill="rgba(255,255,255,0.15)" filter="url(#soft)"/>
<circle cx="538.30" cy="324.00" r="3.50" fill="#7c7c7c" stroke="#3a3a3a" stroke-width="0.9" filter="url(#soft)"/>
<circle cx="538.30" cy="324.00" r="1.57" fill="#a4a4a4" filter="url(#soft)"/>
<circle cx="556.70" cy="334.50" r="4.80" fill="rgba(255,255,255,0.15)" filter="url(#soft)"/>
<circle cx="556.70" cy="334.50" r="4.00" fill="#7c7c7c" stroke="#3a3a3a" stroke-width="0.9" filter="url(#soft)"/>
<circle cx="556.70" cy="334.50" r="1.80" fill="#a4a4a4" filter="url(#soft)"/>
<circle cx="545.80" cy="340.40" r="3.30" fill="rgba(255,255,255,0.15)" filter="url(#soft)"/>
<circle cx="545.80" cy="340.40" r="2.50" fill="#7c7c7c" stroke="#3a3a3a" stroke-width="0.9" filter="url(#soft)"/>
<circle cx="545.80" cy="340.40" r="1.12" fill="#a4a4a4" filter="url(#soft)"/>
<circle cx="550.10" cy="346.50" r="3.80" fill="rgba(255,255,255,0.15)" filter="url(#soft)"/>
<circle cx="550.10" cy="346.50" r="3.00" fill="#7c7c7c" stroke="#3a3a3a" stroke-width="0.9" filter="url(#soft)"/>
<circle cx="550.10" cy="346.50" r="1.35" fill="#a4a4a4" filter="url(#soft)"/>
<circle cx="556.70" cy="346.50" r="2.00" fill="#3c3c3c" filter="url(#soft)"/>
<circle cx="565.50" cy="329.50" r="3.30" fill="rgba(255,255,255,0.15)" filter="url(#soft)"/>
<circle cx="565.50" cy="329.50" r="2.50" fill="#7c7c7c" stroke="#3a3a3a" stroke-width="0.9" filter="url(#soft)"/>
<circle cx="565.50" cy="329.50" r="1.12" fill="#a4a4a4" filter="url(#soft)"/>
<circle cx="571.60" cy="337.10" r="5.50" fill="url(#blob)"/>
<circle cx="581.50" cy="333.80" r="3.80" fill="rgba(255,255,255,0.15)" filter="url(#soft)"/>
<circle cx="581.50" cy="333.80" r="3.00" fill="#7c7c7c" stroke="#3a3a3a" stroke-width="0.9" filter="url(#soft)"/>
<circle cx="581.50" cy="333.80" r="1.35" fill="#a4a4a4" filter="url(#soft)"/>
<circle cx="585.80" cy="330.60" r="3.30" fill="rgba(255,255,255,0.15)" filter="url(#soft)"/>
<circle cx="585.80" cy="330.60" r="2.50" fill="#7c7c7c" stroke="#3a3a3a" stroke-width="0.9" filter="url(#soft)"/>
<circle cx="585.80" cy="330.60" r="1.12" fill="#a4a4a4" filter="url(#soft)"/>
<circle cx="580.40" cy="347.40" r="3.50" fill="url(#blob)"/>
<circle cx="593.90" cy="346.50" r="3.30" fill="rgba(255,255,255,0.15)" filter="url(#soft)"/>
<circle cx="593.90" cy="346.50" r="2.50" fill="#7c7c7c" stroke="#3a3a3a" stroke-width="0.9" filter="url(#soft)"/>
<circle cx="593.90" cy="346.50" r="1.12" fill="#a4a4a4" filter="url(#soft)"/>
<circle cx="566.10" cy="354.60" r="4.50" fill="url(#blob)"/>
<circle cx="560.00" cy="354.20" r="1.50" fill="#3c3c3c" filter="url(#soft)"/>
<circle cx="598.30" cy="359.70" r="3.30" fill="rgba(255,255,255,0.15)" filter="url(#soft)"/>
<circle cx="598.30" cy="359.70" r="2.50" fill="#7c7c7c" stroke="#3a3a3a" stroke-width="0.9" filter="url(#soft)"/>
<circle cx="598.30" cy="359.70" r="1.12" fill="#a4a4a4" filter="url(#soft)"/>
<circle cx="593.50" cy="366.70" r="3.30" fill="rgba(255,255,255,0.15)" filter="url(#soft)"/>
<circle cx="593.50" cy="366.70" r="2.50" fill="#7c7c7c" stroke="#3a3a3a" stroke-width="0.9" filter="url(#soft)"/>
<circle cx="593.50" cy="366.70" r="1.12" fill="#a4a4a4" filter="url(#soft)"/>
<circle cx="548.60" cy="362.70" r="3.00" fill="url(#blob)"/>
<circle cx="585.80" cy="363.40" r="3.00" fill="url(#blob)"/>
<circle cx="554.10" cy="320.70" r="2.80" fill="rgba(255,255,255,0.15)" filter="url(#soft)"/>
<circle cx="554.10" cy="320.70" r="2.00" fill="#7c7c7c" stroke="#3a3a3a" stroke-width="0.9" filter="url(#soft)"/>
<circle cx="554.10" cy="320.70" r="0.90" fill="#a4a4a4" filter="url(#soft)"/>
<circle cx="601.20" cy="329.00" r="1.50" fill="#3c3c3c" filter="url(#soft)"/>
<circle cx="588.00" cy="310.90" r="1.50" fill="#3c3c3c" filter="url(#soft)"/>
<circle cx="532.20" cy="310.90" r="4.00" fill="url(#blob)"/>
<circle cx="639.00" cy="331.20" r="6.40" fill="rgba(255,255,255,0.15)" filter="url(#soft)"/>
<circle cx="639.00" cy="331.20" r="5.50" fill="#bdbdbd" stroke="#181818" stroke-width="1.43" filter="url(#soft)"/>
<circle cx="638.17" cy="330.38" r="2.48" fill="rgba(255,255,255,0.2)" filter="url(#soft)"/>
<circle cx="622.60" cy="349.20" r="4.80" fill="rgba(255,255,255,0.15)" filter="url(#soft)"/>
<circle cx="622.60" cy="349.20" r="4.00" fill="#7c7c7c" stroke="#3a3a3a" stroke-width="0.9" filter="url(#soft)"/>
<circle cx="622.60" cy="349.20" r="1.80" fill="#a4a4a4" filter="url(#soft)"/>
<circle cx="641.00" cy="353.60" r="4.80" fill="rgba(255,255,255,0.15)" filter="url(#soft)"/>
<circle cx="641.00" cy="353.60" r="4.00" fill="#7c7c7c" stroke="#3a3a3a" stroke-width="0.9" filter="url(#soft)"/>
<circle cx="641.00" cy="353.60" r="1.80" fill="#a4a4a4" filter="url(#soft)"/>
<circle cx="638.40" cy="358.40" r="3.00" fill="#6a6a6a" stroke="#262626" stroke-width="0.90" filter="url(#soft)"/>
<circle cx="638.40" cy="358.10" r="1.26" fill="#f2f2f2" filter="url(#soft)"/>
<circle cx="615.40" cy="361.20" r="4.30" fill="rgba(255,255,255,0.15)" filter="url(#soft)"/>
<circle cx="615.40" cy="361.20" r="3.50" fill="#7c7c7c" stroke="#3a3a3a" stroke-width="0.9" filter="url(#soft)"/>
<circle cx="615.40" cy="361.20" r="1.57" fill="#a4a4a4" filter="url(#soft)"/>
<circle cx="646.00" cy="327.30" r="3.30" fill="rgba(255,255,255,0.15)" filter="url(#soft)"/>
<circle cx="646.00" cy="327.30" r="2.50" fill="#7c7c7c" stroke="#3a3a3a" stroke-width="0.9" filter="url(#soft)"/>
<circle cx="646.00" cy="327.30" r="1.12" fill="#a4a4a4" filter="url(#soft)"/>
<circle cx="651.50" cy="328.40" r="2.80" fill="rgba(255,255,255,0.15)" filter="url(#soft)"/>
<circle cx="651.50" cy="328.40" r="2.00" fill="#7c7c7c" stroke="#3a3a3a" stroke-width="0.9" filter="url(#soft)"/>
<circle cx="651.50" cy="328.40" r="0.90" fill="#a4a4a4" filter="url(#soft)"/>
<circle cx="666.90" cy="340.00" r="3.80" fill="rgba(255,255,255,0.15)" filter="url(#soft)"/>
<circle cx="666.90" cy="340.00" r="3.00" fill="#7c7c7c" stroke="#3a3a3a" stroke-width="0.9" filter="url(#soft)"/>
<circle cx="666.90" cy="340.00" r="1.35" fill="#a4a4a4" filter="url(#soft)"/>
<circle cx="662.90" cy="322.90" r="3.00" fill="url(#blob)"/>
<circle cx="653.70" cy="340.40" r="5.50" fill="url(#blob)"/>
<circle cx="675.60" cy="304.30" r="4.30" fill="rgba(255,255,255,0.15)" filter="url(#soft)"/>
<circle cx="675.60" cy="304.30" r="3.50" fill="#7c7c7c" stroke="#3a3a3a" stroke-width="0.9" filter="url(#soft)"/>
<circle cx="675.60" cy="304.30" r="1.57" fill="#a4a4a4" filter="url(#soft)"/>
<circle cx="666.90" cy="309.80" r="4.00" fill="url(#blob)"/>
<circle cx="654.80" cy="309.80" r="3.80" fill="rgba(255,255,255,0.15)" filter="url(#soft)"/>
<circle cx="654.80" cy="309.80" r="3.00" fill="#7c7c7c" stroke="#3a3a3a" stroke-width="0.9" filter="url(#soft)"/>
<circle cx="654.80" cy="309.80" r="1.35" fill="#a4a4a4" filter="url(#soft)"/>
<circle cx="628.50" cy="319.60" r="3.80" fill="rgba(255,255,255,0.15)" filter="url(#soft)"/>
<circle cx="628.50" cy="319.60" r="3.00" fill="#7c7c7c" stroke="#3a3a3a" stroke-width="0.9" filter="url(#soft)"/>
<circle cx="628.50" cy="319.60" r="1.35" fill="#a4a4a4" filter="url(#soft)"/>
<circle cx="611.00" cy="320.70" r="5.00" fill="url(#blob)"/>
<circle cx="611.00" cy="329.50" r="5.00" fill="url(#blob)"/>
<circle cx="645.00" cy="362.30" r="3.00" fill="url(#blob)"/>
<circle cx="649.30" cy="370.00" r="3.30" fill="rgba(255,255,255,0.15)" filter="url(#soft)"/>
<circle cx="649.30" cy="370.00" r="2.50" fill="#7c7c7c" stroke="#3a3a3a" stroke-width="0.9" filter="url(#soft)"/>
<circle cx="649.30" cy="370.00" r="1.12" fill="#a4a4a4" filter="url(#soft)"/>
<circle cx="673.40" cy="343.70" r="4.00" fill="url(#blob)"/>
<circle cx="676.70" cy="358.00" r="3.80" fill="rgba(255,255,255,0.15)" filter="url(#soft)"/>
<circle cx="676.70" cy="358.00" r="3.00" fill="#7c7c7c" stroke="#3a3a3a" stroke-width="0.9" filter="url(#soft)"/>
<circle cx="676.70" cy="358.00" r="1.35" fill="#a4a4a4" filter="url(#soft)"/>
<circle cx="637.30" cy="343.70" r="1.50" fill="#3c3c3c" filter="url(#soft)"/>
<path d="M478,96 C479.3,93.8 481.8,92.3 484.0,92.0 C486.2,91.7 489.0,94.2 491.0,94.0 C493.0,93.8 494.0,91.2 496.0,91.0 C498.0,90.8 501.5,91.7 503.0,93.0 C504.5,94.3 505.2,96.8 505.0,99.0 C504.8,101.2 503.2,104.2 502.0,106.0 C500.8,107.8 499.3,108.8 498.0,110.0 C496.7,111.2 495.3,111.7 494.0,113.0 C492.7,114.3 491.3,117.2 490.0,118.0 C488.7,118.8 487.3,118.5 486.0,118.0 C484.7,117.5 483.3,116.2 482.0,115.0 C480.7,113.8 479.0,112.7 478.0,111.0 C477.0,109.3 476.0,107.5 476.0,105.0 C476.0,102.5 476.7,98.2 478.0,96.0 Z" fill="#b8b8b8" stroke="#111" stroke-width="1.9" filter="url(#soft2)"/>
<path d="M486,118 C487.0,117.0 489.7,116.0 492.0,116.0 C494.3,116.0 497.5,117.2 500.0,118.0 C502.5,118.8 505.0,120.0 507.0,121.0 C509.0,122.0 511.5,122.5 512.0,124.0 C512.5,125.5 511.2,128.7 510.0,130.0 C508.8,131.3 505.3,130.7 505.0,132.0 C504.7,133.3 506.5,136.7 508.0,138.0 C509.5,139.3 512.8,138.7 514.0,140.0 C515.2,141.3 516.0,144.3 515.0,146.0 C514.0,147.7 510.5,149.3 508.0,150.0 C505.5,150.7 502.3,150.2 500.0,150.0 C497.7,149.8 495.7,149.8 494.0,149.0 C492.3,148.2 490.3,146.8 490.0,145.0 C489.7,143.2 491.3,140.3 492.0,138.0 C492.7,135.7 494.3,133.0 494.0,131.0 C493.7,129.0 491.3,127.5 490.0,126.0 C488.7,124.5 486.7,123.3 486.0,122.0 C485.3,120.7 485.0,119.0 486.0,118.0 Z" fill="#b8b8b8" stroke="#111" stroke-width="1.9" filter="url(#soft2)"/>
<path d="M478,132 C479.5,130.8 484.3,130.2 486.0,131.0 C487.7,131.8 487.8,135.0 488.0,137.0 C488.2,139.0 488.5,142.0 487.0,143.0 C485.5,144.0 480.7,143.8 479.0,143.0 C477.3,142.2 477.2,139.8 477.0,138.0 C476.8,136.2 476.5,133.2 478.0,132.0 Z" fill="#b8b8b8" stroke="#111" stroke-width="1.9" filter="url(#soft2)"/>
<circle cx="487.00" cy="106.00" r="3.00" fill="#9a9a9a" filter="url(#soft2)"/>
<circle cx="500.00" cy="128.00" r="3.00" fill="#9a9a9a" filter="url(#soft2)"/>
<circle cx="496.00" cy="140.00" r="2.50" fill="#9a9a9a" filter="url(#soft2)"/>
<circle cx="508.00" cy="146.00" r="2.20" fill="#9a9a9a" filter="url(#soft2)"/>
<circle cx="480.00" cy="97.00" r="2.20" fill="#9a9a9a" filter="url(#soft2)"/>
<circle cx="502.00" cy="97.00" r="2.50" fill="#9a9a9a" filter="url(#soft2)"/>
<circle cx="483" cy="100" r="4" fill="none" stroke="#1a1a1a" stroke-width="1.5" filter="url(#soft2)"/>
<circle cx="495" cy="99" r="5" fill="none" stroke="#1a1a1a" stroke-width="1.5" filter="url(#soft2)"/>
<circle cx="489" cy="108" r="3.5" fill="none" stroke="#1a1a1a" stroke-width="1.5" filter="url(#soft2)"/>
<circle cx="498" cy="123" r="3.5" fill="none" stroke="#1a1a1a" stroke-width="1.5" filter="url(#soft2)"/>
<circle cx="505" cy="127" r="3" fill="none" stroke="#1a1a1a" stroke-width="1.5" filter="url(#soft2)"/>
<circle cx="499" cy="134" r="4.5" fill="none" stroke="#1a1a1a" stroke-width="1.5" filter="url(#soft2)"/>
<circle cx="502" cy="143" r="4" fill="none" stroke="#1a1a1a" stroke-width="1.5" filter="url(#soft2)"/>
<circle cx="510" cy="144" r="3" fill="none" stroke="#1a1a1a" stroke-width="1.5" filter="url(#soft2)"/>
<circle cx="494" cy="146" r="3" fill="none" stroke="#1a1a1a" stroke-width="1.5" filter="url(#soft2)"/>
<circle cx="482" cy="137" r="3" fill="none" stroke="#1a1a1a" stroke-width="1.5" filter="url(#soft2)"/>
<circle cx="480" cy="108" r="2.5" fill="none" stroke="#1a1a1a" stroke-width="1.5" filter="url(#soft2)"/>
<circle cx="501" cy="104" r="2.5" fill="none" stroke="#1a1a1a" stroke-width="1.5" filter="url(#soft2)"/>
<circle cx="492" cy="128" r="2.5" fill="none" stroke="#1a1a1a" stroke-width="1.5" filter="url(#soft2)"/>
<circle cx="507" cy="136" r="2.5" fill="none" stroke="#1a1a1a" stroke-width="1.5" filter="url(#soft2)"/>
<circle cx="484.00" cy="99.00" r="1.60" fill="#f4f4f4" filter="url(#soft2)"/>
<circle cx="492.00" cy="103.00" r="1.40" fill="#f4f4f4" filter="url(#soft2)"/>
<circle cx="497.00" cy="121.00" r="1.60" fill="#f4f4f4" filter="url(#soft2)"/>
<circle cx="501.00" cy="132.00" r="2.00" fill="#f4f4f4" filter="url(#soft2)"/>
<circle cx="505.00" cy="141.00" r="1.60" fill="#f4f4f4" filter="url(#soft2)"/>
<circle cx="497.00" cy="146.00" r="1.50" fill="#f4f4f4" filter="url(#soft2)"/>
<circle cx="488.00" cy="113.00" r="1.20" fill="#f4f4f4" filter="url(#soft2)"/>
<circle cx="489.00" cy="101.00" r="1.00" fill="#2a2a2a" filter="url(#soft2)"/>
<circle cx="493.00" cy="120.00" r="1.00" fill="#2a2a2a" filter="url(#soft2)"/>
<circle cx="503.00" cy="127.00" r="1.00" fill="#2a2a2a" filter="url(#soft2)"/>
<circle cx="499.00" cy="137.00" r="1.00" fill="#2a2a2a" filter="url(#soft2)"/>
<circle cx="484.00" cy="116.00" r="1.00" fill="#2a2a2a" filter="url(#soft2)"/>
<rect x="469.5" y="131.2" width="3.2" height="1.4" fill="#444" filter="url(#soft2)"/>
<ellipse cx="518" cy="138" rx="12" ry="13" fill="#fff" fill-opacity="0.10" filter="url(#soft2)"/>
<rect x="429.90" y="66.30" width="24.80" height="2.10" fill="#fff"/>
<text x="442.30" y="75.60" font-size="7" text-anchor="middle" fill="#fff">10 μm</text>
<text x="384.90" y="19.80" font-size="14.4" fill="#1c1c1c">WT</text>
<text x="459.30" y="19.80" font-size="14.4" fill="#1c1c1c">F313A</text>
<text x="533.70" y="19.80" font-size="14.4" fill="#1c1c1c">F316A</text>
<text x="608.10" y="19.80" font-size="14.4" fill="#1c1c1c">S317A</text>
<text x="384.90" y="94.00" font-size="14.4" fill="#1c1c1c">I318A</text>
<text x="459.30" y="94.00" font-size="14.4" fill="#1c1c1c">N319A</text>
<text x="533.70" y="94.00" font-size="14.4" fill="#1c1c1c">M322A</text>
<text x="608.10" y="94.00" font-size="14.4" fill="#1c1c1c">M323A</text>
<text x="384.90" y="168.20" font-size="14.4" fill="#1c1c1c">Q327A</text>
<text x="459.30" y="168.20" font-size="14.4" fill="#1c1c1c">L330A</text>
<text x="533.70" y="168.20" font-size="14.4" fill="#1c1c1c">Q331A</text>
<text x="608.10" y="168.20" font-size="14.4" fill="#1c1c1c">S332A</text>
<text x="384.90" y="242.40" font-size="14.4" fill="#1c1c1c">S333A</text>
<text x="459.30" y="242.40" font-size="14.4" fill="#1c1c1c">W334A</text>
<text x="533.70" y="242.40" font-size="14.4" fill="#1c1c1c">M336A</text>
<text x="608.10" y="242.40" font-size="14.4" fill="#1c1c1c">M337A</text>
<text x="384.90" y="316.60" font-size="14.4" fill="#1c1c1c">M339A</text>
<text x="459.30" y="316.60" font-size="14.4" fill="#1c1c1c">L340A</text>
<text x="533.70" y="316.60" font-size="14.4" fill="#1c1c1c">S342A</text>
<text x="608.10" y="316.60" font-size="14.4" fill="#1c1c1c">Q343A</text>
<rect x="456.40" y="79.70" width="73.80" height="73.60" fill="none" stroke="#3d3de0" stroke-width="1.1"/>
<rect x="382.00" y="153.90" width="73.80" height="73.60" fill="none" stroke="#3d3de0" stroke-width="1.1"/>
<rect x="382.00" y="228.10" width="73.80" height="73.60" fill="none" stroke="#3d3de0" stroke-width="1.1"/>
<rect x="456.40" y="228.10" width="73.80" height="73.60" fill="none" stroke="#3d3de0" stroke-width="1.1"/>
<text x="-0.60" y="226.00" font-size="25.5" font-weight="bold" fill="#000">C</text>
<clipPath id="clipC"><rect x="119.6" y="235.6" width="155.70000000000002" height="151.20000000000002"/></clipPath>
<line x1="119.60" y1="264.90" x2="260.30" y2="386.80" stroke="#ee1c24" stroke-width="1.6" clip-path="url(#clipC)"/>
<line x1="131.50" y1="237.00" x2="131.50" y2="264.50" stroke="#2222ff" stroke-width="1.1"/>
<line x1="130.30" y1="237.00" x2="132.70" y2="237.00" stroke="#2222ff" stroke-width="1.1"/>
<line x1="130.30" y1="264.50" x2="132.70" y2="264.50" stroke="#2222ff" stroke-width="1.1"/>
<line x1="143.20" y1="251.00" x2="143.20" y2="276.50" stroke="#2222ff" stroke-width="1.1"/>
<line x1="142.00" y1="251.00" x2="144.40" y2="251.00" stroke="#2222ff" stroke-width="1.1"/>
<line x1="142.00" y1="276.50" x2="144.40" y2="276.50" stroke="#2222ff" stroke-width="1.1"/>
<line x1="136.00" y1="269.00" x2="136.00" y2="301.50" stroke="#2222ff" stroke-width="1.1"/>
<line x1="134.80" y1="269.00" x2="137.20" y2="269.00" stroke="#2222ff" stroke-width="1.1"/>
<line x1="134.80" y1="301.50" x2="137.20" y2="301.50" stroke="#2222ff" stroke-width="1.1"/>
<line x1="149.80" y1="293.00" x2="149.80" y2="319.00" stroke="#2222ff" stroke-width="1.1"/>
<line x1="148.60" y1="293.00" x2="151.00" y2="293.00" stroke="#2222ff" stroke-width="1.1"/>
<line x1="148.60" y1="319.00" x2="151.00" y2="319.00" stroke="#2222ff" stroke-width="1.1"/>
<line x1="153.90" y1="292.00" x2="153.90" y2="322.00" stroke="#2222ff" stroke-width="1.1"/>
<line x1="152.70" y1="292.00" x2="155.10" y2="292.00" stroke="#2222ff" stroke-width="1.1"/>
<line x1="152.70" y1="322.00" x2="155.10" y2="322.00" stroke="#2222ff" stroke-width="1.1"/>
<line x1="158.00" y1="288.00" x2="158.00" y2="318.00" stroke="#2222ff" stroke-width="1.1"/>
<line x1="156.80" y1="288.00" x2="159.20" y2="288.00" stroke="#2222ff" stroke-width="1.1"/>
<line x1="156.80" y1="318.00" x2="159.20" y2="318.00" stroke="#2222ff" stroke-width="1.1"/>
<line x1="163.80" y1="289.00" x2="163.80" y2="318.00" stroke="#2222ff" stroke-width="1.1"/>
<line x1="162.60" y1="289.00" x2="165.00" y2="289.00" stroke="#2222ff" stroke-width="1.1"/>
<line x1="162.60" y1="318.00" x2="165.00" y2="318.00" stroke="#2222ff" stroke-width="1.1"/>
<line x1="170.50" y1="291.00" x2="170.50" y2="318.00" stroke="#2222ff" stroke-width="1.1"/>
<line x1="169.30" y1="291.00" x2="171.70" y2="291.00" stroke="#2222ff" stroke-width="1.1"/>
<line x1="169.30" y1="318.00" x2="171.70" y2="318.00" stroke="#2222ff" stroke-width="1.1"/>
<line x1="174.30" y1="306.00" x2="174.30" y2="329.50" stroke="#2222ff" stroke-width="1.1"/>
<line x1="173.10" y1="306.00" x2="175.50" y2="306.00" stroke="#2222ff" stroke-width="1.1"/>
<line x1="173.10" y1="329.50" x2="175.50" y2="329.50" stroke="#2222ff" stroke-width="1.1"/>
<line x1="220.70" y1="345.00" x2="220.70" y2="355.00" stroke="#2222ff" stroke-width="1.1"/>
<line x1="219.50" y1="345.00" x2="221.90" y2="345.00" stroke="#2222ff" stroke-width="1.1"/>
<line x1="219.50" y1="355.00" x2="221.90" y2="355.00" stroke="#2222ff" stroke-width="1.1"/>
<line x1="213.70" y1="345.00" x2="213.70" y2="358.00" stroke="#2222ff" stroke-width="1.1"/>
<line x1="212.50" y1="345.00" x2="214.90" y2="345.00" stroke="#2222ff" stroke-width="1.1"/>
<line x1="212.50" y1="358.00" x2="214.90" y2="358.00" stroke="#2222ff" stroke-width="1.1"/>
<line x1="222.00" y1="362.00" x2="222.00" y2="372.00" stroke="#2222ff" stroke-width="1.1"/>
<line x1="220.80" y1="362.00" x2="223.20" y2="362.00" stroke="#2222ff" stroke-width="1.1"/>
<line x1="220.80" y1="372.00" x2="223.20" y2="372.00" stroke="#2222ff" stroke-width="1.1"/>
<line x1="270.60" y1="379.00" x2="270.60" y2="381.00" stroke="#2222ff" stroke-width="1.1"/>
<line x1="269.40" y1="379.00" x2="271.80" y2="379.00" stroke="#2222ff" stroke-width="1.1"/>
<line x1="269.40" y1="381.00" x2="271.80" y2="381.00" stroke="#2222ff" stroke-width="1.1"/>
<circle cx="131.50" cy="250.70" r="3.10" fill="#0a0af5"/>
<circle cx="143.20" cy="263.60" r="3.10" fill="#0a0af5"/>
<circle cx="136.00" cy="285.20" r="3.10" fill="#0a0af5"/>
<circle cx="149.80" cy="306.40" r="3.10" fill="#0a0af5"/>
<circle cx="153.90" cy="306.40" r="3.10" fill="#0a0af5"/>
<circle cx="158.00" cy="303.90" r="3.10" fill="#0a0af5"/>
<circle cx="163.80" cy="304.50" r="3.10" fill="#0a0af5"/>
<circle cx="170.50" cy="304.70" r="3.10" fill="#0a0af5"/>
<circle cx="174.30" cy="317.90" r="3.10" fill="#0a0af5"/>
<circle cx="220.70" cy="350.00" r="3.10" fill="#0a0af5"/>
<circle cx="213.70" cy="351.60" r="3.10" fill="#0a0af5"/>
<circle cx="222.00" cy="367.40" r="3.10" fill="#0a0af5"/>
<circle cx="270.60" cy="379.90" r="3.10" fill="#0a0af5"/>
<line x1="143.40" y1="306.40" x2="149.00" y2="306.40" stroke="#555" stroke-width="0.5"/>
<line x1="151.00" y1="297.00" x2="153.50" y2="303.00" stroke="#555" stroke-width="0.5"/>
<line x1="149.00" y1="316.00" x2="152.50" y2="309.00" stroke="#555" stroke-width="0.5"/>
<line x1="154.00" y1="320.00" x2="158.50" y2="308.00" stroke="#555" stroke-width="0.5"/>
<line x1="173.50" y1="293.10" x2="168.00" y2="300.00" stroke="#555" stroke-width="0.5"/>
<line x1="173.50" y1="299.80" x2="171.50" y2="302.00" stroke="#555" stroke-width="0.5"/>
<text x="132.80" y="247.90" font-size="7.3" fill="#333">L330A</text>
<text x="146.80" y="262.30" font-size="7.3" fill="#333">F316A</text>
<text x="138.70" y="284.20" font-size="7.3" fill="#333">M323A</text>
<text x="136.40" y="295.90" font-size="7.3" fill="#333">F313A</text>
<text x="173.70" y="295.60" font-size="7.3" fill="#333">M336A</text>
<text x="173.70" y="302.30" font-size="7.3" fill="#333">M337A</text>
<text x="124.70" y="308.90" font-size="7.3" fill="#333">I318A</text>
<text x="134.60" y="321.00" font-size="7.3" fill="#333">M322A</text>
<text x="147.70" y="327.40" font-size="7.3" fill="#333">L340A</text>
<text x="177.20" y="320.40" font-size="7.3" fill="#333">M339A</text>
<text x="222.50" y="347.60" font-size="7.3" fill="#333">S317A</text>
<text x="195.20" y="357.50" font-size="7.3" fill="#333">S342A</text>
<text x="199.00" y="373.50" font-size="7.3" fill="#333">Q343A</text>
<text x="245.00" y="376.60" font-size="7.3" fill="#333">Q331A</text>
<rect x="119.6" y="235.6" width="155.70000000000002" height="151.20000000000002" fill="none" stroke="#111" stroke-width="1.4"/>
<line x1="113.20" y1="386.80" x2="119.60" y2="386.80" stroke="#111" stroke-width="1.3"/>
<text x="110.00" y="391.70" font-size="13.6" text-anchor="end" fill="#000">0.0</text>
<line x1="117.00" y1="382.49" x2="119.60" y2="382.49" stroke="#111" stroke-width="0.8"/>
<line x1="117.00" y1="378.18" x2="119.60" y2="378.18" stroke="#111" stroke-width="0.8"/>
<line x1="117.00" y1="373.87" x2="119.60" y2="373.87" stroke="#111" stroke-width="0.8"/>
<line x1="117.00" y1="369.56" x2="119.60" y2="369.56" stroke="#111" stroke-width="0.8"/>
<line x1="113.20" y1="365.25" x2="119.60" y2="365.25" stroke="#111" stroke-width="1.3"/>
<text x="110.00" y="370.15" font-size="13.6" text-anchor="end" fill="#000">0.5</text>
<line x1="117.00" y1="360.94" x2="119.60" y2="360.94" stroke="#111" stroke-width="0.8"/>
<line x1="117.00" y1="356.63" x2="119.60" y2="356.63" stroke="#111" stroke-width="0.8"/>
<line x1="117.00" y1="352.32" x2="119.60" y2="352.32" stroke="#111" stroke-width="0.8"/>
<line x1="117.00" y1="348.01" x2="119.60" y2="348.01" stroke="#111" stroke-width="0.8"/>
<line x1="113.20" y1="343.70" x2="119.60" y2="343.70" stroke="#111" stroke-width="1.3"/>
<text x="110.00" y="348.60" font-size="13.6" text-anchor="end" fill="#000">1.0</text>
<line x1="117.00" y1="339.39" x2="119.60" y2="339.39" stroke="#111" stroke-width="0.8"/>
<line x1="117.00" y1="335.08" x2="119.60" y2="335.08" stroke="#111" stroke-width="0.8"/>
<line x1="117.00" y1="330.77" x2="119.60" y2="330.77" stroke="#111" stroke-width="0.8"/>
<line x1="117.00" y1="326.46" x2="119.60" y2="326.46" stroke="#111" stroke-width="0.8"/>
<line x1="113.20" y1="322.15" x2="119.60" y2="322.15" stroke="#111" stroke-width="1.3"/>
<text x="110.00" y="327.05" font-size="13.6" text-anchor="end" fill="#000">1.5</text>
<line x1="117.00" y1="317.84" x2="119.60" y2="317.84" stroke="#111" stroke-width="0.8"/>
<line x1="117.00" y1="313.53" x2="119.60" y2="313.53" stroke="#111" stroke-width="0.8"/>
<line x1="117.00" y1="309.22" x2="119.60" y2="309.22" stroke="#111" stroke-width="0.8"/>
<line x1="117.00" y1="304.91" x2="119.60" y2="304.91" stroke="#111" stroke-width="0.8"/>
<line x1="113.20" y1="300.60" x2="119.60" y2="300.60" stroke="#111" stroke-width="1.3"/>
<text x="110.00" y="305.50" font-size="13.6" text-anchor="end" fill="#000">2.0</text>
<line x1="117.00" y1="296.29" x2="119.60" y2="296.29" stroke="#111" stroke-width="0.8"/>
<line x1="117.00" y1="291.98" x2="119.60" y2="291.98" stroke="#111" stroke-width="0.8"/>
<line x1="117.00" y1="287.67" x2="119.60" y2="287.67" stroke="#111" stroke-width="0.8"/>
<line x1="117.00" y1="283.36" x2="119.60" y2="283.36" stroke="#111" stroke-width="0.8"/>
<line x1="113.20" y1="279.05" x2="119.60" y2="279.05" stroke="#111" stroke-width="1.3"/>
<text x="110.00" y="283.95" font-size="13.6" text-anchor="end" fill="#000">2.5</text>
<line x1="117.00" y1="274.74" x2="119.60" y2="274.74" stroke="#111" stroke-width="0.8"/>
<line x1="117.00" y1="270.43" x2="119.60" y2="270.43" stroke="#111" stroke-width="0.8"/>
<line x1="117.00" y1="266.12" x2="119.60" y2="266.12" stroke="#111" stroke-width="0.8"/>
<line x1="117.00" y1="261.81" x2="119.60" y2="261.81" stroke="#111" stroke-width="0.8"/>
<line x1="113.20" y1="257.50" x2="119.60" y2="257.50" stroke="#111" stroke-width="1.3"/>
<text x="110.00" y="262.40" font-size="13.6" text-anchor="end" fill="#000">3.0</text>
<line x1="117.00" y1="253.19" x2="119.60" y2="253.19" stroke="#111" stroke-width="0.8"/>
<line x1="117.00" y1="248.88" x2="119.60" y2="248.88" stroke="#111" stroke-width="0.8"/>
<line x1="117.00" y1="244.57" x2="119.60" y2="244.57" stroke="#111" stroke-width="0.8"/>
<line x1="117.00" y1="240.26" x2="119.60" y2="240.26" stroke="#111" stroke-width="0.8"/>
<line x1="113.20" y1="235.95" x2="119.60" y2="235.95" stroke="#111" stroke-width="1.3"/>
<text x="110.00" y="240.85" font-size="13.6" text-anchor="end" fill="#000">3.5</text>
<line x1="119.60" y1="386.80" x2="119.60" y2="392.80" stroke="#111" stroke-width="1.3"/>
<text x="119.60" y="404.90" font-size="13.6" text-anchor="middle" fill="#000">0.0</text>
<line x1="128.21" y1="386.80" x2="128.21" y2="389.30" stroke="#111" stroke-width="0.8"/>
<line x1="136.82" y1="386.80" x2="136.82" y2="389.30" stroke="#111" stroke-width="0.8"/>
<line x1="145.43" y1="386.80" x2="145.43" y2="389.30" stroke="#111" stroke-width="0.8"/>
<line x1="154.04" y1="386.80" x2="154.04" y2="389.30" stroke="#111" stroke-width="0.8"/>
<line x1="162.65" y1="386.80" x2="162.65" y2="392.80" stroke="#111" stroke-width="1.3"/>
<text x="162.65" y="404.90" font-size="13.6" text-anchor="middle" fill="#000">0.5</text>
<line x1="171.26" y1="386.80" x2="171.26" y2="389.30" stroke="#111" stroke-width="0.8"/>
<line x1="179.87" y1="386.80" x2="179.87" y2="389.30" stroke="#111" stroke-width="0.8"/>
<line x1="188.48" y1="386.80" x2="188.48" y2="389.30" stroke="#111" stroke-width="0.8"/>
<line x1="197.09" y1="386.80" x2="197.09" y2="389.30" stroke="#111" stroke-width="0.8"/>
<line x1="205.70" y1="386.80" x2="205.70" y2="392.80" stroke="#111" stroke-width="1.3"/>
<text x="205.70" y="404.90" font-size="13.6" text-anchor="middle" fill="#000">1.0</text>
<line x1="214.31" y1="386.80" x2="214.31" y2="389.30" stroke="#111" stroke-width="0.8"/>
<line x1="222.92" y1="386.80" x2="222.92" y2="389.30" stroke="#111" stroke-width="0.8"/>
<line x1="231.53" y1="386.80" x2="231.53" y2="389.30" stroke="#111" stroke-width="0.8"/>
<line x1="240.14" y1="386.80" x2="240.14" y2="389.30" stroke="#111" stroke-width="0.8"/>
<line x1="248.75" y1="386.80" x2="248.75" y2="392.80" stroke="#111" stroke-width="1.3"/>
<text x="248.75" y="404.90" font-size="13.6" text-anchor="middle" fill="#000">1.5</text>
<line x1="257.36" y1="386.80" x2="257.36" y2="389.30" stroke="#111" stroke-width="0.8"/>
<line x1="265.97" y1="386.80" x2="265.97" y2="389.30" stroke="#111" stroke-width="0.8"/>
<line x1="274.58" y1="386.80" x2="274.58" y2="389.30" stroke="#111" stroke-width="0.8"/>
<text x="168.30" y="422.30" font-size="16.2" fill="#000">CSP<tspan font-size="9.8" dy="6.0" dx="1.4">norm</tspan></text>
<text x="77.2" y="352.9" font-size="17" transform="rotate(-90 77.2 352.9)">C<tspan font-size="9.5" dy="4.5">sat,X→A</tspan><tspan dy="-4.5">/C</tspan><tspan font-size="9.5" dy="4.5">sat,WT</tspan></text>
<line x1="118.00" y1="228.70" x2="270.00" y2="228.70" stroke="#111" stroke-width="1.4"/>
<path d="M268.5,225.3 L275.3,228.7 L268.5,232.1 Z" fill="#111"/>
<text x="197.70" y="224.80" font-size="11.5" text-anchor="middle" fill="#222">enhanced self-assembly</text>
<line x1="281.20" y1="234.70" x2="281.20" y2="382.00" stroke="#111" stroke-width="1.4"/>
<path d="M277.8,380.5 L281.2,387.4 L284.6,380.5 Z" fill="#111"/>
<text x="295.30" y="312.40" font-size="11.6" text-anchor="middle" fill="#222" transform="rotate(-90 295.3 312.4)">enhanced phase separation</text>
<text x="271.4" y="249.8" font-size="14" font-weight="bold" text-anchor="end"><tspan font-style="italic">r</tspan> = -0.94</text>
<text x="0.20" y="461.60" font-size="26.0" font-weight="bold" fill="#000">D</text>
<rect x="46.90" y="447.80" width="6.34" height="6.31" fill="#ffc892"/>
<rect x="53.20" y="447.80" width="6.34" height="6.31" fill="#ffdebd"/>
<rect x="59.49" y="447.80" width="6.34" height="6.31" fill="#ffe9d3"/>
<rect x="65.78" y="447.80" width="6.34" height="6.31" fill="#ffe9d3"/>
<rect x="72.08" y="447.80" width="6.34" height="6.31" fill="#fff5eb"/>
<rect x="78.38" y="447.80" width="6.34" height="6.31" fill="#fff5eb"/>
<rect x="84.67" y="447.80" width="6.34" height="6.31" fill="#fff5eb"/>
<rect x="90.97" y="447.80" width="6.34" height="6.31" fill="#fff5eb"/>
<rect x="97.26" y="447.80" width="6.34" height="6.31" fill="#fff5eb"/>
<rect x="103.56" y="447.80" width="6.34" height="6.31" fill="#fff5eb"/>
<rect x="109.85" y="447.80" width="6.34" height="6.31" fill="#fff5eb"/>
<rect x="116.15" y="447.80" width="6.34" height="6.31" fill="#fff5eb"/>
<rect x="122.44" y="447.80" width="6.34" height="6.31" fill="#fff5eb"/>
<rect x="128.73" y="447.80" width="6.34" height="6.31" fill="#fff5eb"/>
<rect x="135.03" y="447.80" width="6.34" height="6.31" fill="#fff5eb"/>
<rect x="141.32" y="447.80" width="6.34" height="6.31" fill="#fffaf6"/>
<rect x="153.91" y="447.80" width="6.34" height="6.31" fill="#fffaf6"/>
<rect x="160.21" y="447.80" width="6.34" height="6.31" fill="#fffaf6"/>
<rect x="179.09" y="447.80" width="6.34" height="6.31" fill="#fff5eb"/>
<rect x="185.39" y="447.80" width="6.34" height="6.31" fill="#fff5eb"/>
<rect x="191.69" y="447.80" width="6.34" height="6.31" fill="#fff5eb"/>
<rect x="197.98" y="447.80" width="6.34" height="6.31" fill="#ffdebd"/>
<rect x="204.28" y="447.80" width="6.34" height="6.31" fill="#fffaf6"/>
<rect x="210.57" y="447.80" width="6.34" height="6.31" fill="#fff5eb"/>
<rect x="216.87" y="447.80" width="6.34" height="6.31" fill="#fff5eb"/>
<rect x="223.16" y="447.80" width="6.34" height="6.31" fill="#fffaf6"/>
<rect x="229.46" y="447.80" width="6.34" height="6.31" fill="#fffaf6"/>
<rect x="235.75" y="447.80" width="6.34" height="6.31" fill="#fffaf6"/>
<rect x="242.05" y="447.80" width="6.34" height="6.31" fill="#fffaf6"/>
<rect x="248.34" y="447.80" width="6.34" height="6.31" fill="#fffaf6"/>
<rect x="254.63" y="447.80" width="6.34" height="6.31" fill="#fffaf6"/>
<rect x="260.93" y="447.80" width="6.34" height="6.31" fill="#fffaf6"/>
<rect x="267.22" y="447.80" width="6.34" height="6.31" fill="#fffaf6"/>
<rect x="273.52" y="447.80" width="6.34" height="6.31" fill="#fffaf6"/>
<rect x="279.81" y="447.80" width="6.34" height="6.31" fill="#fffaf6"/>
<rect x="286.11" y="447.80" width="6.34" height="6.31" fill="#fffaf6"/>
<rect x="292.40" y="447.80" width="6.34" height="6.31" fill="#fffaf6"/>
<rect x="298.70" y="447.80" width="6.34" height="6.31" fill="#fffaf6"/>
<rect x="46.90" y="454.06" width="6.34" height="6.31" fill="#ffe9d3"/>
<rect x="53.20" y="454.06" width="6.34" height="6.31" fill="#ffdebd"/>
<rect x="59.49" y="454.06" width="6.34" height="6.31" fill="#ffe9d3"/>
<rect x="65.78" y="454.06" width="6.34" height="6.31" fill="#ffdebd"/>
<rect x="72.08" y="454.06" width="6.34" height="6.31" fill="#fff5eb"/>
<rect x="78.38" y="454.06" width="6.34" height="6.31" fill="#fff5eb"/>
<rect x="84.67" y="454.06" width="6.34" height="6.31" fill="#ffdebd"/>
<rect x="90.97" y="454.06" width="6.34" height="6.31" fill="#fff5eb"/>
<rect x="97.26" y="454.06" width="6.34" height="6.31" fill="#fff5eb"/>
<rect x="103.56" y="454.06" width="6.34" height="6.31" fill="#fff5eb"/>
<rect x="109.85" y="454.06" width="6.34" height="6.31" fill="#fff5eb"/>
<rect x="116.15" y="454.06" width="6.34" height="6.31" fill="#fff5eb"/>
<rect x="122.44" y="454.06" width="6.34" height="6.31" fill="#ffe9d3"/>
<rect x="128.73" y="454.06" width="6.34" height="6.31" fill="#fff5eb"/>
<rect x="135.03" y="454.06" width="6.34" height="6.31" fill="#fff5eb"/>
<rect x="141.32" y="454.06" width="6.34" height="6.31" fill="#fff5eb"/>
<rect x="147.62" y="454.06" width="6.34" height="6.31" fill="#fffaf6"/>
<rect x="153.91" y="454.06" width="6.34" height="6.31" fill="#fff5eb"/>
<rect x="160.21" y="454.06" width="6.34" height="6.31" fill="#fff5eb"/>
<rect x="166.50" y="454.06" width="6.34" height="6.31" fill="#fffaf6"/>
<rect x="172.80" y="454.06" width="6.34" height="6.31" fill="#fff5eb"/>
<rect x="179.09" y="454.06" width="6.34" height="6.31" fill="#ffdebd"/>
<rect x="185.39" y="454.06" width="6.34" height="6.31" fill="#fff5eb"/>
<rect x="191.69" y="454.06" width="6.34" height="6.31" fill="#fff5eb"/>
<rect x="197.98" y="454.06" width="6.34" height="6.31" fill="#ffaf5f"/>
<rect x="204.28" y="454.06" width="6.34" height="6.31" fill="#fffaf6"/>
<rect x="210.57" y="454.06" width="6.34" height="6.31" fill="#fff5eb"/>
<rect x="216.87" y="454.06" width="6.34" height="6.31" fill="#fff5eb"/>
<rect x="223.16" y="454.06" width="6.34" height="6.31" fill="#fffaf6"/>
<rect x="229.46" y="454.06" width="6.34" height="6.31" fill="#fffaf6"/>
<rect x="235.75" y="454.06" width="6.34" height="6.31" fill="#fffaf6"/>
<rect x="242.05" y="454.06" width="6.34" height="6.31" fill="#fffaf6"/>
<rect x="248.34" y="454.06" width="6.34" height="6.31" fill="#fffaf6"/>
<rect x="254.63" y="454.06" width="6.34" height="6.31" fill="#fffaf6"/>
<rect x="260.93" y="454.06" width="6.34" height="6.31" fill="#fffaf6"/>
<rect x="267.22" y="454.06" width="6.34" height="6.31" fill="#fffaf6"/>
<rect x="273.52" y="454.06" width="6.34" height="6.31" fill="#ffe9d3"/>
<rect x="279.81" y="454.06" width="6.34" height="6.31" fill="#fffaf6"/>
<rect x="286.11" y="454.06" width="6.34" height="6.31" fill="#fffaf6"/>
<rect x="292.40" y="454.06" width="6.34" height="6.31" fill="#fffaf6"/>
<rect x="298.70" y="454.06" width="6.34" height="6.31" fill="#fffaf6"/>
<rect x="46.90" y="460.32" width="6.34" height="6.31" fill="#fff5eb"/>
<rect x="53.20" y="460.32" width="6.34" height="6.31" fill="#fff5eb"/>
<rect x="59.49" y="460.32" width="6.34" height="6.31" fill="#fff5eb"/>
<rect x="65.78" y="460.32" width="6.34" height="6.31" fill="#fff5eb"/>
<rect x="78.38" y="460.32" width="6.34" height="6.31" fill="#fffaf6"/>
<rect x="84.67" y="460.32" width="6.34" height="6.31" fill="#fff5eb"/>
<rect x="135.03" y="460.32" width="6.34" height="6.31" fill="#fffaf6"/>
<rect x="179.09" y="460.32" width="6.34" height="6.31" fill="#fff5eb"/>
<rect x="185.39" y="460.32" width="6.34" height="6.31" fill="#fffaf6"/>
<rect x="191.69" y="460.32" width="6.34" height="6.31" fill="#fffaf6"/>
<rect x="197.98" y="460.32" width="6.34" height="6.31" fill="#ffd3a8"/>
<rect x="210.57" y="460.32" width="6.34" height="6.31" fill="#fffaf6"/>
<rect x="216.87" y="460.32" width="6.34" height="6.31" fill="#fffaf6"/>
<rect x="223.16" y="460.32" width="6.34" height="6.31" fill="#fffaf6"/>
<rect x="229.46" y="460.32" width="6.34" height="6.31" fill="#fffaf6"/>
<rect x="235.75" y="460.32" width="6.34" height="6.31" fill="#fffaf6"/>
<rect x="242.05" y="460.32" width="6.34" height="6.31" fill="#fffaf6"/>
<rect x="248.34" y="460.32" width="6.34" height="6.31" fill="#fffaf6"/>
<rect x="254.63" y="460.32" width="6.34" height="6.31" fill="#fffaf6"/>
<rect x="260.93" y="460.32" width="6.34" height="6.31" fill="#fffaf6"/>
<rect x="267.22" y="460.32" width="6.34" height="6.31" fill="#fffaf6"/>
<rect x="273.52" y="460.32" width="6.34" height="6.31" fill="#fffaf6"/>
<rect x="279.81" y="460.32" width="6.34" height="6.31" fill="#fffaf6"/>
<rect x="286.11" y="460.32" width="6.34" height="6.31" fill="#fffaf6"/>
<rect x="292.40" y="460.32" width="6.34" height="6.31" fill="#fffaf6"/>
<rect x="298.70" y="460.32" width="6.34" height="6.31" fill="#fffaf6"/>
<rect x="46.90" y="466.59" width="6.34" height="6.31" fill="#ffe9d3"/>
<rect x="53.20" y="466.59" width="6.34" height="6.31" fill="#ffe9d3"/>
<rect x="59.49" y="466.59" width="6.34" height="6.31" fill="#ffe9d3"/>
<rect x="65.78" y="466.59" width="6.34" height="6.31" fill="#ffe9d3"/>
<rect x="72.08" y="466.59" width="6.34" height="6.31" fill="#fffaf6"/>
<rect x="78.38" y="466.59" width="6.34" height="6.31" fill="#fff5eb"/>
<rect x="84.67" y="466.59" width="6.34" height="6.31" fill="#fff5eb"/>
<rect x="90.97" y="466.59" width="6.34" height="6.31" fill="#fff5eb"/>
<rect x="97.26" y="466.59" width="6.34" height="6.31" fill="#fff5eb"/>
<rect x="103.56" y="466.59" width="6.34" height="6.31" fill="#fff5eb"/>
<rect x="109.85" y="466.59" width="6.34" height="6.31" fill="#fffaf6"/>
<rect x="116.15" y="466.59" width="6.34" height="6.31" fill="#fffaf6"/>
<rect x="122.44" y="466.59" width="6.34" height="6.31" fill="#fffaf6"/>
<rect x="128.73" y="466.59" width="6.34" height="6.31" fill="#fffaf6"/>
<rect x="135.03" y="466.59" width="6.34" height="6.31" fill="#fffaf6"/>
<rect x="141.32" y="466.59" width="6.34" height="6.31" fill="#fffaf6"/>
<rect x="153.91" y="466.59" width="6.34" height="6.31" fill="#fffaf6"/>
<rect x="160.21" y="466.59" width="6.34" height="6.31" fill="#fffaf6"/>
<rect x="172.80" y="466.59" width="6.34" height="6.31" fill="#fffaf6"/>
<rect x="179.09" y="466.59" width="6.34" height="6.31" fill="#fff5eb"/>
<rect x="185.39" y="466.59" width="6.34" height="6.31" fill="#fff5eb"/>
<rect x="191.69" y="466.59" width="6.34" height="6.31" fill="#fffaf6"/>
<rect x="197.98" y="466.59" width="6.34" height="6.31" fill="#ffd3a8"/>
<rect x="210.57" y="466.59" width="6.34" height="6.31" fill="#fff5eb"/>
<rect x="216.87" y="466.59" width="6.34" height="6.31" fill="#fff5eb"/>
<rect x="223.16" y="466.59" width="6.34" height="6.31" fill="#fffaf6"/>
<rect x="229.46" y="466.59" width="6.34" height="6.31" fill="#fffaf6"/>
<rect x="235.75" y="466.59" width="6.34" height="6.31" fill="#fffaf6"/>
<rect x="242.05" y="466.59" width="6.34" height="6.31" fill="#fffaf6"/>
<rect x="248.34" y="466.59" width="6.34" height="6.31" fill="#fffaf6"/>
<rect x="254.63" y="466.59" width="6.34" height="6.31" fill="#fffaf6"/>
<rect x="260.93" y="466.59" width="6.34" height="6.31" fill="#fffaf6"/>
<rect x="267.22" y="466.59" width="6.34" height="6.31" fill="#fffaf6"/>
<rect x="273.52" y="466.59" width="6.34" height="6.31" fill="#fffaf6"/>
<rect x="279.81" y="466.59" width="6.34" height="6.31" fill="#fffaf6"/>
<rect x="286.11" y="466.59" width="6.34" height="6.31" fill="#fffaf6"/>
<rect x="292.40" y="466.59" width="6.34" height="6.31" fill="#fffaf6"/>
<rect x="298.70" y="466.59" width="6.34" height="6.31" fill="#fffaf6"/>
<rect x="46.90" y="472.85" width="6.34" height="6.31" fill="#ffdebd"/>
<rect x="53.20" y="472.85" width="6.34" height="6.31" fill="#ffdebd"/>
<rect x="59.49" y="472.85" width="6.34" height="6.31" fill="#ffd3a8"/>
<rect x="65.78" y="472.85" width="6.34" height="6.31" fill="#ffd3a8"/>
<rect x="72.08" y="472.85" width="6.34" height="6.31" fill="#fffaf6"/>
<rect x="78.38" y="472.85" width="6.34" height="6.31" fill="#fff5eb"/>
<rect x="84.67" y="472.85" width="6.34" height="6.31" fill="#fff5eb"/>
<rect x="90.97" y="472.85" width="6.34" height="6.31" fill="#ffe9d3"/>
<rect x="97.26" y="472.85" width="6.34" height="6.31" fill="#ffe9d3"/>
<rect x="103.56" y="472.85" width="6.34" height="6.31" fill="#fff5eb"/>
<rect x="109.85" y="472.85" width="6.34" height="6.31" fill="#fff5eb"/>
<rect x="116.15" y="472.85" width="6.34" height="6.31" fill="#fffaf6"/>
<rect x="122.44" y="472.85" width="6.34" height="6.31" fill="#fff5eb"/>
<rect x="128.73" y="472.85" width="6.34" height="6.31" fill="#fffaf6"/>
<rect x="135.03" y="472.85" width="6.34" height="6.31" fill="#fffaf6"/>
<rect x="141.32" y="472.85" width="6.34" height="6.31" fill="#fffaf6"/>
<rect x="153.91" y="472.85" width="6.34" height="6.31" fill="#fffaf6"/>
<rect x="160.21" y="472.85" width="6.34" height="6.31" fill="#fffaf6"/>
<rect x="172.80" y="472.85" width="6.34" height="6.31" fill="#fffaf6"/>
<rect x="179.09" y="472.85" width="6.34" height="6.31" fill="#fff5eb"/>
<rect x="185.39" y="472.85" width="6.34" height="6.31" fill="#fff5eb"/>
<rect x="191.69" y="472.85" width="6.34" height="6.31" fill="#fff5eb"/>
<rect x="197.98" y="472.85" width="6.34" height="6.31" fill="#ffc892"/>
<rect x="204.28" y="472.85" width="6.34" height="6.31" fill="#fffaf6"/>
<rect x="210.57" y="472.85" width="6.34" height="6.31" fill="#fff5eb"/>
<rect x="216.87" y="472.85" width="6.34" height="6.31" fill="#fff5eb"/>
<rect x="223.16" y="472.85" width="6.34" height="6.31" fill="#fffaf6"/>
<rect x="229.46" y="472.85" width="6.34" height="6.31" fill="#fffaf6"/>
<rect x="235.75" y="472.85" width="6.34" height="6.31" fill="#fffaf6"/>
<rect x="242.05" y="472.85" width="6.34" height="6.31" fill="#fffaf6"/>
<rect x="248.34" y="472.85" width="6.34" height="6.31" fill="#fffaf6"/>
<rect x="254.63" y="472.85" width="6.34" height="6.31" fill="#fffaf6"/>
<rect x="260.93" y="472.85" width="6.34" height="6.31" fill="#fffaf6"/>
<rect x="267.22" y="472.85" width="6.34" height="6.31" fill="#fffaf6"/>
<rect x="273.52" y="472.85" width="6.34" height="6.31" fill="#fffaf6"/>
<rect x="279.81" y="472.85" width="6.34" height="6.31" fill="#fffaf6"/>
<rect x="286.11" y="472.85" width="6.34" height="6.31" fill="#fffaf6"/>
<rect x="292.40" y="472.85" width="6.34" height="6.31" fill="#fffaf6"/>
<rect x="298.70" y="472.85" width="6.34" height="6.31" fill="#fffaf6"/>
<rect x="46.90" y="479.11" width="6.34" height="6.31" fill="#ffe9d3"/>
<rect x="53.20" y="479.11" width="6.34" height="6.31" fill="#ffc892"/>
<rect x="59.49" y="479.11" width="6.34" height="6.31" fill="#ffdebd"/>
<rect x="65.78" y="479.11" width="6.34" height="6.31" fill="#ffdebd"/>
<rect x="72.08" y="479.11" width="6.34" height="6.31" fill="#fff5eb"/>
<rect x="78.38" y="479.11" width="6.34" height="6.31" fill="#fff5eb"/>
<rect x="84.67" y="479.11" width="6.34" height="6.31" fill="#ffd3a8"/>
<rect x="90.97" y="479.11" width="6.34" height="6.31" fill="#ffdebd"/>
<rect x="97.26" y="479.11" width="6.34" height="6.31" fill="#ffe9d3"/>
<rect x="103.56" y="479.11" width="6.34" height="6.31" fill="#fff5eb"/>
<rect x="109.85" y="479.11" width="6.34" height="6.31" fill="#fff5eb"/>
<rect x="116.15" y="479.11" width="6.34" height="6.31" fill="#fff5eb"/>
<rect x="122.44" y="479.11" width="6.34" height="6.31" fill="#fff5eb"/>
<rect x="128.73" y="479.11" width="6.34" height="6.31" fill="#fffaf6"/>
<rect x="135.03" y="479.11" width="6.34" height="6.31" fill="#fffaf6"/>
<rect x="141.32" y="479.11" width="6.34" height="6.31" fill="#fff5eb"/>
<rect x="153.91" y="479.11" width="6.34" height="6.31" fill="#fff5eb"/>
<rect x="160.21" y="479.11" width="6.34" height="6.31" fill="#fffaf6"/>
<rect x="166.50" y="479.11" width="6.34" height="6.31" fill="#fffaf6"/>
<rect x="172.80" y="479.11" width="6.34" height="6.31" fill="#fff5eb"/>
<rect x="179.09" y="479.11" width="6.34" height="6.31" fill="#ffe9d3"/>
<rect x="185.39" y="479.11" width="6.34" height="6.31" fill="#fff5eb"/>
<rect x="191.69" y="479.11" width="6.34" height="6.31" fill="#fff5eb"/>
<rect x="197.98" y="479.11" width="6.34" height="6.31" fill="#ff7c00"/>
<rect x="204.28" y="479.11" width="6.34" height="6.31" fill="#fff5eb"/>
<rect x="210.57" y="479.11" width="6.34" height="6.31" fill="#fff5eb"/>
<rect x="216.87" y="479.11" width="6.34" height="6.31" fill="#fff5eb"/>
<rect x="223.16" y="479.11" width="6.34" height="6.31" fill="#fffaf6"/>
<rect x="229.46" y="479.11" width="6.34" height="6.31" fill="#fffaf6"/>
<rect x="235.75" y="479.11" width="6.34" height="6.31" fill="#fffaf6"/>
<rect x="242.05" y="479.11" width="6.34" height="6.31" fill="#fffaf6"/>
<rect x="248.34" y="479.11" width="6.34" height="6.31" fill="#fffaf6"/>
<rect x="254.63" y="479.11" width="6.34" height="6.31" fill="#fffaf6"/>
<rect x="260.93" y="479.11" width="6.34" height="6.31" fill="#fffaf6"/>
<rect x="267.22" y="479.11" width="6.34" height="6.31" fill="#fffaf6"/>
<rect x="273.52" y="479.11" width="6.34" height="6.31" fill="#fffaf6"/>
<rect x="279.81" y="479.11" width="6.34" height="6.31" fill="#fffaf6"/>
<rect x="286.11" y="479.11" width="6.34" height="6.31" fill="#fffaf6"/>
<rect x="292.40" y="479.11" width="6.34" height="6.31" fill="#fffaf6"/>
<rect x="298.70" y="479.11" width="6.34" height="6.31" fill="#fffaf6"/>
<rect x="46.90" y="485.38" width="6.34" height="6.31" fill="#ffe9d3"/>
<rect x="53.20" y="485.38" width="6.34" height="6.31" fill="#ffaf5f"/>
<rect x="59.49" y="485.38" width="6.34" height="6.31" fill="#ffd3a8"/>
<rect x="65.78" y="485.38" width="6.34" height="6.31" fill="#ffaf5f"/>
<rect x="72.08" y="485.38" width="6.34" height="6.31" fill="#ffdebd"/>
<rect x="78.38" y="485.38" width="6.34" height="6.31" fill="#fff5eb"/>
<rect x="84.67" y="485.38" width="6.34" height="6.31" fill="#ffd3a8"/>
<rect x="90.97" y="485.38" width="6.34" height="6.31" fill="#ffe9d3"/>
<rect x="97.26" y="485.38" width="6.34" height="6.31" fill="#ffdebd"/>
<rect x="103.56" y="485.38" width="6.34" height="6.31" fill="#ffdebd"/>
<rect x="109.85" y="485.38" width="6.34" height="6.31" fill="#fff5eb"/>
<rect x="116.15" y="485.38" width="6.34" height="6.31" fill="#fff5eb"/>
<rect x="122.44" y="485.38" width="6.34" height="6.31" fill="#ffdebd"/>
<rect x="128.73" y="485.38" width="6.34" height="6.31" fill="#fff5eb"/>
<rect x="135.03" y="485.38" width="6.34" height="6.31" fill="#fff5eb"/>
<rect x="141.32" y="485.38" width="6.34" height="6.31" fill="#fff5eb"/>
<rect x="147.62" y="485.38" width="6.34" height="6.31" fill="#fffaf6"/>
<rect x="153.91" y="485.38" width="6.34" height="6.31" fill="#ffdebd"/>
<rect x="160.21" y="485.38" width="6.34" height="6.31" fill="#fffaf6"/>
<rect x="166.50" y="485.38" width="6.34" height="6.31" fill="#fff5eb"/>
<rect x="172.80" y="485.38" width="6.34" height="6.31" fill="#ffdebd"/>
<rect x="179.09" y="485.38" width="6.34" height="6.31" fill="#ffdebd"/>
<rect x="185.39" y="485.38" width="6.34" height="6.31" fill="#fff5eb"/>
<rect x="191.69" y="485.38" width="6.34" height="6.31" fill="#fff5eb"/>
<rect x="197.98" y="485.38" width="6.34" height="6.31" fill="#ff7c00"/>
<rect x="204.28" y="485.38" width="6.34" height="6.31" fill="#fff5eb"/>
<rect x="210.57" y="485.38" width="6.34" height="6.31" fill="#fff5eb"/>
<rect x="216.87" y="485.38" width="6.34" height="6.31" fill="#fff5eb"/>
<rect x="223.16" y="485.38" width="6.34" height="6.31" fill="#fffaf6"/>
<rect x="229.46" y="485.38" width="6.34" height="6.31" fill="#fffaf6"/>
<rect x="235.75" y="485.38" width="6.34" height="6.31" fill="#fffaf6"/>
<rect x="242.05" y="485.38" width="6.34" height="6.31" fill="#fffaf6"/>
<rect x="248.34" y="485.38" width="6.34" height="6.31" fill="#fffaf6"/>
<rect x="254.63" y="485.38" width="6.34" height="6.31" fill="#fffaf6"/>
<rect x="260.93" y="485.38" width="6.34" height="6.31" fill="#fffaf6"/>
<rect x="267.22" y="485.38" width="6.34" height="6.31" fill="#fffaf6"/>
<rect x="273.52" y="485.38" width="6.34" height="6.31" fill="#ffdebd"/>
<rect x="279.81" y="485.38" width="6.34" height="6.31" fill="#fffaf6"/>
<rect x="286.11" y="485.38" width="6.34" height="6.31" fill="#fffaf6"/>
<rect x="292.40" y="485.38" width="6.34" height="6.31" fill="#fffaf6"/>
<rect x="298.70" y="485.38" width="6.34" height="6.31" fill="#fffaf6"/>
<rect x="46.90" y="491.64" width="6.34" height="6.31" fill="#fff5eb"/>
<rect x="53.20" y="491.64" width="6.34" height="6.31" fill="#ffdebd"/>
<rect x="59.49" y="491.64" width="6.34" height="6.31" fill="#ffd3a8"/>
<rect x="65.78" y="491.64" width="6.34" height="6.31" fill="#ffc892"/>
<rect x="72.08" y="491.64" width="6.34" height="6.31" fill="#fff5eb"/>
<rect x="78.38" y="491.64" width="6.34" height="6.31" fill="#fff5eb"/>
<rect x="84.67" y="491.64" width="6.34" height="6.31" fill="#ffdebd"/>
<rect x="90.97" y="491.64" width="6.34" height="6.31" fill="#fff5eb"/>
<rect x="97.26" y="491.64" width="6.34" height="6.31" fill="#fff5eb"/>
<rect x="103.56" y="491.64" width="6.34" height="6.31" fill="#fff5eb"/>
<rect x="109.85" y="491.64" width="6.34" height="6.31" fill="#fff5eb"/>
<rect x="116.15" y="491.64" width="6.34" height="6.31" fill="#ffe9d3"/>
<rect x="122.44" y="491.64" width="6.34" height="6.31" fill="#ffdebd"/>
<rect x="128.73" y="491.64" width="6.34" height="6.31" fill="#fff5eb"/>
<rect x="135.03" y="491.64" width="6.34" height="6.31" fill="#fff5eb"/>
<rect x="141.32" y="491.64" width="6.34" height="6.31" fill="#ffe9d3"/>
<rect x="147.62" y="491.64" width="6.34" height="6.31" fill="#fffaf6"/>
<rect x="153.91" y="491.64" width="6.34" height="6.31" fill="#fff5eb"/>
<rect x="160.21" y="491.64" width="6.34" height="6.31" fill="#fff5eb"/>
<rect x="166.50" y="491.64" width="6.34" height="6.31" fill="#fff5eb"/>
<rect x="172.80" y="491.64" width="6.34" height="6.31" fill="#ffe9d3"/>
<rect x="179.09" y="491.64" width="6.34" height="6.31" fill="#fff5eb"/>
<rect x="185.39" y="491.64" width="6.34" height="6.31" fill="#fff5eb"/>
<rect x="191.69" y="491.64" width="6.34" height="6.31" fill="#fff5eb"/>
<rect x="197.98" y="491.64" width="6.34" height="6.31" fill="#ffc892"/>
<rect x="204.28" y="491.64" width="6.34" height="6.31" fill="#fffaf6"/>
<rect x="210.57" y="491.64" width="6.34" height="6.31" fill="#fff5eb"/>
<rect x="216.87" y="491.64" width="6.34" height="6.31" fill="#fff5eb"/>
<rect x="223.16" y="491.64" width="6.34" height="6.31" fill="#fff5eb"/>
<rect x="229.46" y="491.64" width="6.34" height="6.31" fill="#ffe9d3"/>
<rect x="235.75" y="491.64" width="6.34" height="6.31" fill="#ffe9d3"/>
<rect x="242.05" y="491.64" width="6.34" height="6.31" fill="#fff5eb"/>
<rect x="248.34" y="491.64" width="6.34" height="6.31" fill="#fff5eb"/>
<rect x="254.63" y="491.64" width="6.34" height="6.31" fill="#ffdebd"/>
<rect x="260.93" y="491.64" width="6.34" height="6.31" fill="#fff5eb"/>
<rect x="267.22" y="491.64" width="6.34" height="6.31" fill="#fff5eb"/>
<rect x="273.52" y="491.64" width="6.34" height="6.31" fill="#ffe9d3"/>
<rect x="279.81" y="491.64" width="6.34" height="6.31" fill="#fff5eb"/>
<rect x="286.11" y="491.64" width="6.34" height="6.31" fill="#fff5eb"/>
<rect x="292.40" y="491.64" width="6.34" height="6.31" fill="#fff5eb"/>
<rect x="298.70" y="491.64" width="6.34" height="6.31" fill="#fff5eb"/>
<rect x="46.90" y="497.90" width="6.34" height="6.31" fill="#fff5eb"/>
<rect x="53.20" y="497.90" width="6.34" height="6.31" fill="#ffe9d3"/>
<rect x="59.49" y="497.90" width="6.34" height="6.31" fill="#ffe9d3"/>
<rect x="65.78" y="497.90" width="6.34" height="6.31" fill="#ffdebd"/>
<rect x="72.08" y="497.90" width="6.34" height="6.31" fill="#ffe9d3"/>
<rect x="78.38" y="497.90" width="6.34" height="6.31" fill="#fff5eb"/>
<rect x="84.67" y="497.90" width="6.34" height="6.31" fill="#ffe9d3"/>
<rect x="90.97" y="497.90" width="6.34" height="6.31" fill="#fff5eb"/>
<rect x="97.26" y="497.90" width="6.34" height="6.31" fill="#fff5eb"/>
<rect x="103.56" y="497.90" width="6.34" height="6.31" fill="#fffaf6"/>
<rect x="109.85" y="497.90" width="6.34" height="6.31" fill="#fffaf6"/>
<rect x="116.15" y="497.90" width="6.34" height="6.31" fill="#fff5eb"/>
<rect x="122.44" y="497.90" width="6.34" height="6.31" fill="#fff5eb"/>
<rect x="128.73" y="497.90" width="6.34" height="6.31" fill="#fff5eb"/>
<rect x="135.03" y="497.90" width="6.34" height="6.31" fill="#fffaf6"/>
<rect x="141.32" y="497.90" width="6.34" height="6.31" fill="#fffaf6"/>
<rect x="153.91" y="497.90" width="6.34" height="6.31" fill="#fff5eb"/>
<rect x="166.50" y="497.90" width="6.34" height="6.31" fill="#fffaf6"/>
<rect x="172.80" y="497.90" width="6.34" height="6.31" fill="#fff5eb"/>
<rect x="179.09" y="497.90" width="6.34" height="6.31" fill="#fff5eb"/>
<rect x="185.39" y="497.90" width="6.34" height="6.31" fill="#fff5eb"/>
<rect x="191.69" y="497.90" width="6.34" height="6.31" fill="#fff5eb"/>
<rect x="197.98" y="497.90" width="6.34" height="6.31" fill="#ffaf5f"/>
<rect x="204.28" y="497.90" width="6.34" height="6.31" fill="#fff5eb"/>
<rect x="210.57" y="497.90" width="6.34" height="6.31" fill="#fff5eb"/>
<rect x="216.87" y="497.90" width="6.34" height="6.31" fill="#ffe9d3"/>
<rect x="223.16" y="497.90" width="6.34" height="6.31" fill="#fff5eb"/>
<rect x="229.46" y="497.90" width="6.34" height="6.31" fill="#ffe9d3"/>
<rect x="235.75" y="497.90" width="6.34" height="6.31" fill="#fff5eb"/>
<rect x="242.05" y="497.90" width="6.34" height="6.31" fill="#fffaf6"/>
<rect x="248.34" y="497.90" width="6.34" height="6.31" fill="#fff5eb"/>
<rect x="254.63" y="497.90" width="6.34" height="6.31" fill="#ffe9d3"/>
<rect x="260.93" y="497.90" width="6.34" height="6.31" fill="#ffe9d3"/>
<rect x="267.22" y="497.90" width="6.34" height="6.31" fill="#fff5eb"/>
<rect x="273.52" y="497.90" width="6.34" height="6.31" fill="#fffaf6"/>
<rect x="279.81" y="497.90" width="6.34" height="6.31" fill="#fffaf6"/>
<rect x="286.11" y="497.90" width="6.34" height="6.31" fill="#fffaf6"/>
<rect x="292.40" y="497.90" width="6.34" height="6.31" fill="#fff5eb"/>
<rect x="298.70" y="497.90" width="6.34" height="6.31" fill="#fff5eb"/>
<rect x="46.90" y="504.16" width="6.34" height="6.31" fill="#fffaf6"/>
<rect x="53.20" y="504.16" width="6.34" height="6.31" fill="#ffe9d3"/>
<rect x="59.49" y="504.16" width="6.34" height="6.31" fill="#fff5eb"/>
<rect x="65.78" y="504.16" width="6.34" height="6.31" fill="#ffdebd"/>
<rect x="72.08" y="504.16" width="6.34" height="6.31" fill="#fff5eb"/>
<rect x="78.38" y="504.16" width="6.34" height="6.31" fill="#fff5eb"/>
<rect x="84.67" y="504.16" width="6.34" height="6.31" fill="#ffdebd"/>
<rect x="90.97" y="504.16" width="6.34" height="6.31" fill="#fff5eb"/>
<rect x="97.26" y="504.16" width="6.34" height="6.31" fill="#fff5eb"/>
<rect x="103.56" y="504.16" width="6.34" height="6.31" fill="#fff5eb"/>
<rect x="109.85" y="504.16" width="6.34" height="6.31" fill="#fff5eb"/>
<rect x="116.15" y="504.16" width="6.34" height="6.31" fill="#fff5eb"/>
<rect x="122.44" y="504.16" width="6.34" height="6.31" fill="#ffdebd"/>
<rect x="128.73" y="504.16" width="6.34" height="6.31" fill="#fff5eb"/>
<rect x="135.03" y="504.16" width="6.34" height="6.31" fill="#fff5eb"/>
<rect x="141.32" y="504.16" width="6.34" height="6.31" fill="#fff5eb"/>
<rect x="147.62" y="504.16" width="6.34" height="6.31" fill="#fffaf6"/>
<rect x="153.91" y="504.16" width="6.34" height="6.31" fill="#fff5eb"/>
<rect x="160.21" y="504.16" width="6.34" height="6.31" fill="#fff5eb"/>
<rect x="166.50" y="504.16" width="6.34" height="6.31" fill="#fffaf6"/>
<rect x="172.80" y="504.16" width="6.34" height="6.31" fill="#ffc892"/>
<rect x="179.09" y="504.16" width="6.34" height="6.31" fill="#fff5eb"/>
<rect x="185.39" y="504.16" width="6.34" height="6.31" fill="#fff5eb"/>
<rect x="191.69" y="504.16" width="6.34" height="6.31" fill="#fff5eb"/>
<rect x="197.98" y="504.16" width="6.34" height="6.31" fill="#ff6400"/>
<rect x="210.57" y="504.16" width="6.34" height="6.31" fill="#fff5eb"/>
<rect x="216.87" y="504.16" width="6.34" height="6.31" fill="#ffdebd"/>
<rect x="223.16" y="504.16" width="6.34" height="6.31" fill="#fff5eb"/>
<rect x="229.46" y="504.16" width="6.34" height="6.31" fill="#ffe9d3"/>
<rect x="235.75" y="504.16" width="6.34" height="6.31" fill="#ffe9d3"/>
<rect x="242.05" y="504.16" width="6.34" height="6.31" fill="#fff5eb"/>
<rect x="248.34" y="504.16" width="6.34" height="6.31" fill="#fff5eb"/>
<rect x="254.63" y="504.16" width="6.34" height="6.31" fill="#ffe9d3"/>
<rect x="260.93" y="504.16" width="6.34" height="6.31" fill="#ffe9d3"/>
<rect x="267.22" y="504.16" width="6.34" height="6.31" fill="#fff5eb"/>
<rect x="273.52" y="504.16" width="6.34" height="6.31" fill="#fff5eb"/>
<rect x="292.40" y="504.16" width="6.34" height="6.31" fill="#fff5eb"/>
<rect x="298.70" y="504.16" width="6.34" height="6.31" fill="#fff5eb"/>
<rect x="46.90" y="510.43" width="6.34" height="6.31" fill="#fff5eb"/>
<rect x="53.20" y="510.43" width="6.34" height="6.31" fill="#ffc892"/>
<rect x="59.49" y="510.43" width="6.34" height="6.31" fill="#ffc892"/>
<rect x="65.78" y="510.43" width="6.34" height="6.31" fill="#ffaf5f"/>
<rect x="72.08" y="510.43" width="6.34" height="6.31" fill="#fff5eb"/>
<rect x="78.38" y="510.43" width="6.34" height="6.31" fill="#fff5eb"/>
<rect x="84.67" y="510.43" width="6.34" height="6.31" fill="#ffc892"/>
<rect x="90.97" y="510.43" width="6.34" height="6.31" fill="#ffe9d3"/>
<rect x="97.26" y="510.43" width="6.34" height="6.31" fill="#ffdebd"/>
<rect x="103.56" y="510.43" width="6.34" height="6.31" fill="#ffe9d3"/>
<rect x="109.85" y="510.43" width="6.34" height="6.31" fill="#ffe9d3"/>
<rect x="116.15" y="510.43" width="6.34" height="6.31" fill="#ffc892"/>
<rect x="122.44" y="510.43" width="6.34" height="6.31" fill="#ff9933"/>
<rect x="128.73" y="510.43" width="6.34" height="6.31" fill="#ffdebd"/>
<rect x="135.03" y="510.43" width="6.34" height="6.31" fill="#fff5eb"/>
<rect x="141.32" y="510.43" width="6.34" height="6.31" fill="#ffdebd"/>
<rect x="147.62" y="510.43" width="6.34" height="6.31" fill="#ffe9d3"/>
<rect x="153.91" y="510.43" width="6.34" height="6.31" fill="#ffc892"/>
<rect x="160.21" y="510.43" width="6.34" height="6.31" fill="#fff5eb"/>
<rect x="166.50" y="510.43" width="6.34" height="6.31" fill="#fff5eb"/>
<rect x="172.80" y="510.43" width="6.34" height="6.31" fill="#ffbc78"/>
<rect x="179.09" y="510.43" width="6.34" height="6.31" fill="#fff5eb"/>
<rect x="185.39" y="510.43" width="6.34" height="6.31" fill="#fff5eb"/>
<rect x="191.69" y="510.43" width="6.34" height="6.31" fill="#ffe9d3"/>
<rect x="197.98" y="510.43" width="6.34" height="6.31" fill="#ff6400"/>
<rect x="204.28" y="510.43" width="6.34" height="6.31" fill="#fffaf6"/>
<rect x="210.57" y="510.43" width="6.34" height="6.31" fill="#ffdebd"/>
<rect x="216.87" y="510.43" width="6.34" height="6.31" fill="#ffdebd"/>
<rect x="223.16" y="510.43" width="6.34" height="6.31" fill="#ffe9d3"/>
<rect x="229.46" y="510.43" width="6.34" height="6.31" fill="#ffaf5f"/>
<rect x="235.75" y="510.43" width="6.34" height="6.31" fill="#ffdebd"/>
<rect x="242.05" y="510.43" width="6.34" height="6.31" fill="#fff5eb"/>
<rect x="248.34" y="510.43" width="6.34" height="6.31" fill="#fff5eb"/>
<rect x="254.63" y="510.43" width="6.34" height="6.31" fill="#ffc892"/>
<rect x="260.93" y="510.43" width="6.34" height="6.31" fill="#ffc892"/>
<rect x="267.22" y="510.43" width="6.34" height="6.31" fill="#fff5eb"/>
<rect x="273.52" y="510.43" width="6.34" height="6.31" fill="#fff5eb"/>
<rect x="279.81" y="510.43" width="6.34" height="6.31" fill="#fff5eb"/>
<rect x="286.11" y="510.43" width="6.34" height="6.31" fill="#fff5eb"/>
<rect x="292.40" y="510.43" width="6.34" height="6.31" fill="#fff5eb"/>
<rect x="298.70" y="510.43" width="6.34" height="6.31" fill="#fff5eb"/>
<rect x="46.90" y="516.69" width="6.34" height="6.31" fill="#ffe9d3"/>
<rect x="53.20" y="516.69" width="6.34" height="6.31" fill="#ffaf5f"/>
<rect x="59.49" y="516.69" width="6.34" height="6.31" fill="#ffaf5f"/>
<rect x="65.78" y="516.69" width="6.34" height="6.31" fill="#ff8c1a"/>
<rect x="72.08" y="516.69" width="6.34" height="6.31" fill="#ffc892"/>
<rect x="78.38" y="516.69" width="6.34" height="6.31" fill="#ffd3a8"/>
<rect x="84.67" y="516.69" width="6.34" height="6.31" fill="#ffaf5f"/>
<rect x="90.97" y="516.69" width="6.34" height="6.31" fill="#ffdebd"/>
<rect x="97.26" y="516.69" width="6.34" height="6.31" fill="#ffc892"/>
<rect x="103.56" y="516.69" width="6.34" height="6.31" fill="#ffdebd"/>
<rect x="109.85" y="516.69" width="6.34" height="6.31" fill="#ffe9d3"/>
<rect x="116.15" y="516.69" width="6.34" height="6.31" fill="#ffdebd"/>
<rect x="122.44" y="516.69" width="6.34" height="6.31" fill="#ffaf5f"/>
<rect x="128.73" y="516.69" width="6.34" height="6.31" fill="#ffbc78"/>
<rect x="135.03" y="516.69" width="6.34" height="6.31" fill="#ffe9d3"/>
<rect x="141.32" y="516.69" width="6.34" height="6.31" fill="#ffd3a8"/>
<rect x="147.62" y="516.69" width="6.34" height="6.31" fill="#ffd3a8"/>
<rect x="153.91" y="516.69" width="6.34" height="6.31" fill="#ffc892"/>
<rect x="160.21" y="516.69" width="6.34" height="6.31" fill="#fff5eb"/>
<rect x="166.50" y="516.69" width="6.34" height="6.31" fill="#ffdebd"/>
<rect x="172.80" y="516.69" width="6.34" height="6.31" fill="#ffbc78"/>
<rect x="179.09" y="516.69" width="6.34" height="6.31" fill="#ffdebd"/>
<rect x="185.39" y="516.69" width="6.34" height="6.31" fill="#ffe9d3"/>
<rect x="191.69" y="516.69" width="6.34" height="6.31" fill="#ffdebd"/>
<rect x="197.98" y="516.69" width="6.34" height="6.31" fill="#ff7c00"/>
<rect x="204.28" y="516.69" width="6.34" height="6.31" fill="#fff5eb"/>
<rect x="210.57" y="516.69" width="6.34" height="6.31" fill="#ffdebd"/>
<rect x="216.87" y="516.69" width="6.34" height="6.31" fill="#ffd3a8"/>
<rect x="223.16" y="516.69" width="6.34" height="6.31" fill="#ffe9d3"/>
<rect x="229.46" y="516.69" width="6.34" height="6.31" fill="#ffbc78"/>
<rect x="235.75" y="516.69" width="6.34" height="6.31" fill="#ffdebd"/>
<rect x="242.05" y="516.69" width="6.34" height="6.31" fill="#fff5eb"/>
<rect x="248.34" y="516.69" width="6.34" height="6.31" fill="#ffe9d3"/>
<rect x="254.63" y="516.69" width="6.34" height="6.31" fill="#ffdebd"/>
<rect x="260.93" y="516.69" width="6.34" height="6.31" fill="#ffc892"/>
<rect x="267.22" y="516.69" width="6.34" height="6.31" fill="#ffdebd"/>
<rect x="273.52" y="516.69" width="6.34" height="6.31" fill="#fff5eb"/>
<rect x="279.81" y="516.69" width="6.34" height="6.31" fill="#fff5eb"/>
<rect x="286.11" y="516.69" width="6.34" height="6.31" fill="#fff5eb"/>
<rect x="292.40" y="516.69" width="6.34" height="6.31" fill="#ffe9d3"/>
<rect x="298.70" y="516.69" width="6.34" height="6.31" fill="#fff5eb"/>
<rect x="46.90" y="522.95" width="6.34" height="6.31" fill="#fff5eb"/>
<rect x="53.20" y="522.95" width="6.34" height="6.31" fill="#ffdebd"/>
<rect x="59.49" y="522.95" width="6.34" height="6.31" fill="#ffdebd"/>
<rect x="65.78" y="522.95" width="6.34" height="6.31" fill="#ffc892"/>
<rect x="72.08" y="522.95" width="6.34" height="6.31" fill="#ffe9d3"/>
<rect x="78.38" y="522.95" width="6.34" height="6.31" fill="#fff5eb"/>
<rect x="84.67" y="522.95" width="6.34" height="6.31" fill="#ffd3a8"/>
<rect x="90.97" y="522.95" width="6.34" height="6.31" fill="#fff5eb"/>
<rect x="97.26" y="522.95" width="6.34" height="6.31" fill="#fff5eb"/>
<rect x="103.56" y="522.95" width="6.34" height="6.31" fill="#fff5eb"/>
<rect x="109.85" y="522.95" width="6.34" height="6.31" fill="#fff5eb"/>
<rect x="116.15" y="522.95" width="6.34" height="6.31" fill="#fff5eb"/>
<rect x="122.44" y="522.95" width="6.34" height="6.31" fill="#ffdebd"/>
<rect x="128.73" y="522.95" width="6.34" height="6.31" fill="#ffe9d3"/>
<rect x="135.03" y="522.95" width="6.34" height="6.31" fill="#fff5eb"/>
<rect x="141.32" y="522.95" width="6.34" height="6.31" fill="#fff5eb"/>
<rect x="147.62" y="522.95" width="6.34" height="6.31" fill="#fff5eb"/>
<rect x="153.91" y="522.95" width="6.34" height="6.31" fill="#ffdebd"/>
<rect x="160.21" y="522.95" width="6.34" height="6.31" fill="#fffaf6"/>
<rect x="166.50" y="522.95" width="6.34" height="6.31" fill="#fff5eb"/>
<rect x="172.80" y="522.95" width="6.34" height="6.31" fill="#ffdebd"/>
<rect x="179.09" y="522.95" width="6.34" height="6.31" fill="#fff5eb"/>
<rect x="185.39" y="522.95" width="6.34" height="6.31" fill="#fff5eb"/>
<rect x="191.69" y="522.95" width="6.34" height="6.31" fill="#fff5eb"/>
<rect x="197.98" y="522.95" width="6.34" height="6.31" fill="#ffaf5f"/>
<rect x="204.28" y="522.95" width="6.34" height="6.31" fill="#fff5eb"/>
<rect x="210.57" y="522.95" width="6.34" height="6.31" fill="#ffe9d3"/>
<rect x="216.87" y="522.95" width="6.34" height="6.31" fill="#ffbc78"/>
<rect x="223.16" y="522.95" width="6.34" height="6.31" fill="#fff5eb"/>
<rect x="229.46" y="522.95" width="6.34" height="6.31" fill="#ffdebd"/>
<rect x="235.75" y="522.95" width="6.34" height="6.31" fill="#ffdebd"/>
<rect x="242.05" y="522.95" width="6.34" height="6.31" fill="#fff5eb"/>
<rect x="248.34" y="522.95" width="6.34" height="6.31" fill="#fff5eb"/>
<rect x="254.63" y="522.95" width="6.34" height="6.31" fill="#ffe9d3"/>
<rect x="260.93" y="522.95" width="6.34" height="6.31" fill="#ffe9d3"/>
<rect x="267.22" y="522.95" width="6.34" height="6.31" fill="#fff5eb"/>
<rect x="273.52" y="522.95" width="6.34" height="6.31" fill="#fff5eb"/>
<rect x="279.81" y="522.95" width="6.34" height="6.31" fill="#fff5eb"/>
<rect x="286.11" y="522.95" width="6.34" height="6.31" fill="#fff5eb"/>
<rect x="292.40" y="522.95" width="6.34" height="6.31" fill="#fff5eb"/>
<rect x="298.70" y="522.95" width="6.34" height="6.31" fill="#fff5eb"/>
<rect x="46.90" y="529.21" width="6.34" height="6.31" fill="#fff5eb"/>
<rect x="53.20" y="529.21" width="6.34" height="6.31" fill="#ff9933"/>
<rect x="59.49" y="529.21" width="6.34" height="6.31" fill="#ffc892"/>
<rect x="65.78" y="529.21" width="6.34" height="6.31" fill="#e83700"/>
<rect x="72.08" y="529.21" width="6.34" height="6.31" fill="#ffc892"/>
<rect x="78.38" y="529.21" width="6.34" height="6.31" fill="#ffd3a8"/>
<rect x="84.67" y="529.21" width="6.34" height="6.31" fill="#ff8c1a"/>
<rect x="90.97" y="529.21" width="6.34" height="6.31" fill="#ffc892"/>
<rect x="97.26" y="529.21" width="6.34" height="6.31" fill="#ffdebd"/>
<rect x="103.56" y="529.21" width="6.34" height="6.31" fill="#ffe9d3"/>
<rect x="109.85" y="529.21" width="6.34" height="6.31" fill="#ffdebd"/>
<rect x="116.15" y="529.21" width="6.34" height="6.31" fill="#ffdebd"/>
<rect x="122.44" y="529.21" width="6.34" height="6.31" fill="#ff7c00"/>
<rect x="128.73" y="529.21" width="6.34" height="6.31" fill="#ffc892"/>
<rect x="135.03" y="529.21" width="6.34" height="6.31" fill="#ffe9d3"/>
<rect x="141.32" y="529.21" width="6.34" height="6.31" fill="#ffc892"/>
<rect x="147.62" y="529.21" width="6.34" height="6.31" fill="#ffaf5f"/>
<rect x="153.91" y="529.21" width="6.34" height="6.31" fill="#ffbc78"/>
<rect x="160.21" y="529.21" width="6.34" height="6.31" fill="#ffe9d3"/>
<rect x="166.50" y="529.21" width="6.34" height="6.31" fill="#ffc892"/>
<rect x="172.80" y="529.21" width="6.34" height="6.31" fill="#ff6400"/>
<rect x="179.09" y="529.21" width="6.34" height="6.31" fill="#ffc892"/>
<rect x="185.39" y="529.21" width="6.34" height="6.31" fill="#ffd3a8"/>
<rect x="191.69" y="529.21" width="6.34" height="6.31" fill="#ffc892"/>
<rect x="197.98" y="529.21" width="6.34" height="6.31" fill="#b20000"/>
<rect x="204.28" y="529.21" width="6.34" height="6.31" fill="#fff5eb"/>
<rect x="210.57" y="529.21" width="6.34" height="6.31" fill="#ffc892"/>
<rect x="216.87" y="529.21" width="6.34" height="6.31" fill="#ff9933"/>
<rect x="223.16" y="529.21" width="6.34" height="6.31" fill="#ffe9d3"/>
<rect x="229.46" y="529.21" width="6.34" height="6.31" fill="#ffc892"/>
<rect x="235.75" y="529.21" width="6.34" height="6.31" fill="#ffc892"/>
<rect x="242.05" y="529.21" width="6.34" height="6.31" fill="#fff5eb"/>
<rect x="248.34" y="529.21" width="6.34" height="6.31" fill="#fff5eb"/>
<rect x="254.63" y="529.21" width="6.34" height="6.31" fill="#ffc892"/>
<rect x="260.93" y="529.21" width="6.34" height="6.31" fill="#ffdebd"/>
<rect x="267.22" y="529.21" width="6.34" height="6.31" fill="#ffe9d3"/>
<rect x="273.52" y="529.21" width="6.34" height="6.31" fill="#ffdebd"/>
<rect x="279.81" y="529.21" width="6.34" height="6.31" fill="#ffdebd"/>
<rect x="286.11" y="529.21" width="6.34" height="6.31" fill="#fff5eb"/>
<rect x="292.40" y="529.21" width="6.34" height="6.31" fill="#fff5eb"/>
<rect x="298.70" y="529.21" width="6.34" height="6.31" fill="#fff5eb"/>
<rect x="46.90" y="535.48" width="6.34" height="6.31" fill="#ffc892"/>
<rect x="53.20" y="535.48" width="6.34" height="6.31" fill="#ff7c00"/>
<rect x="59.49" y="535.48" width="6.34" height="6.31" fill="#ffaf5f"/>
<rect x="65.78" y="535.48" width="6.34" height="6.31" fill="#ffaf5f"/>
<rect x="72.08" y="535.48" width="6.34" height="6.31" fill="#ffdebd"/>
<rect x="78.38" y="535.48" width="6.34" height="6.31" fill="#ffdebd"/>
<rect x="84.67" y="535.48" width="6.34" height="6.31" fill="#ffaf5f"/>
<rect x="90.97" y="535.48" width="6.34" height="6.31" fill="#ffd3a8"/>
<rect x="97.26" y="535.48" width="6.34" height="6.31" fill="#ffd3a8"/>
<rect x="103.56" y="535.48" width="6.34" height="6.31" fill="#ffdebd"/>
<rect x="109.85" y="535.48" width="6.34" height="6.31" fill="#ffe9d3"/>
<rect x="116.15" y="535.48" width="6.34" height="6.31" fill="#ffdebd"/>
<rect x="122.44" y="535.48" width="6.34" height="6.31" fill="#ffaf5f"/>
<rect x="128.73" y="535.48" width="6.34" height="6.31" fill="#ffdebd"/>
<rect x="135.03" y="535.48" width="6.34" height="6.31" fill="#ffdebd"/>
<rect x="141.32" y="535.48" width="6.34" height="6.31" fill="#ffc892"/>
<rect x="147.62" y="535.48" width="6.34" height="6.31" fill="#ffd3a8"/>
<rect x="153.91" y="535.48" width="6.34" height="6.31" fill="#ffd3a8"/>
<rect x="160.21" y="535.48" width="6.34" height="6.31" fill="#fff5eb"/>
<rect x="166.50" y="535.48" width="6.34" height="6.31" fill="#ffbc78"/>
<rect x="172.80" y="535.48" width="6.34" height="6.31" fill="#ffbc78"/>
<rect x="179.09" y="535.48" width="6.34" height="6.31" fill="#ffe9d3"/>
<rect x="185.39" y="535.48" width="6.34" height="6.31" fill="#ffdebd"/>
<rect x="191.69" y="535.48" width="6.34" height="6.31" fill="#ffc892"/>
<rect x="197.98" y="535.48" width="6.34" height="6.31" fill="#b20000"/>
<rect x="204.28" y="535.48" width="6.34" height="6.31" fill="#fff5eb"/>
<rect x="210.57" y="535.48" width="6.34" height="6.31" fill="#ffbc78"/>
<rect x="216.87" y="535.48" width="6.34" height="6.31" fill="#ffc892"/>
<rect x="223.16" y="535.48" width="6.34" height="6.31" fill="#ffdebd"/>
<rect x="229.46" y="535.48" width="6.34" height="6.31" fill="#ffbc78"/>
<rect x="235.75" y="535.48" width="6.34" height="6.31" fill="#ffd3a8"/>
<rect x="242.05" y="535.48" width="6.34" height="6.31" fill="#ffe9d3"/>
<rect x="248.34" y="535.48" width="6.34" height="6.31" fill="#ffdebd"/>
<rect x="254.63" y="535.48" width="6.34" height="6.31" fill="#ffbc78"/>
<rect x="260.93" y="535.48" width="6.34" height="6.31" fill="#ffe9d3"/>
<rect x="267.22" y="535.48" width="6.34" height="6.31" fill="#fff5eb"/>
<rect x="273.52" y="535.48" width="6.34" height="6.31" fill="#ffdebd"/>
<rect x="279.81" y="535.48" width="6.34" height="6.31" fill="#fff5eb"/>
<rect x="286.11" y="535.48" width="6.34" height="6.31" fill="#fff5eb"/>
<rect x="292.40" y="535.48" width="6.34" height="6.31" fill="#ffe9d3"/>
<rect x="298.70" y="535.48" width="6.34" height="6.31" fill="#fff5eb"/>
<rect x="46.90" y="541.74" width="6.34" height="6.31" fill="#ffe9d3"/>
<rect x="53.20" y="541.74" width="6.34" height="6.31" fill="#ffc892"/>
<rect x="59.49" y="541.74" width="6.34" height="6.31" fill="#ffe9d3"/>
<rect x="65.78" y="541.74" width="6.34" height="6.31" fill="#ffbc78"/>
<rect x="72.08" y="541.74" width="6.34" height="6.31" fill="#ffe9d3"/>
<rect x="78.38" y="541.74" width="6.34" height="6.31" fill="#ffe9d3"/>
<rect x="84.67" y="541.74" width="6.34" height="6.31" fill="#ffc892"/>
<rect x="90.97" y="541.74" width="6.34" height="6.31" fill="#fffaf6"/>
<rect x="97.26" y="541.74" width="6.34" height="6.31" fill="#fff5eb"/>
<rect x="103.56" y="541.74" width="6.34" height="6.31" fill="#fffaf6"/>
<rect x="109.85" y="541.74" width="6.34" height="6.31" fill="#fffaf6"/>
<rect x="116.15" y="541.74" width="6.34" height="6.31" fill="#fff5eb"/>
<rect x="122.44" y="541.74" width="6.34" height="6.31" fill="#fff5eb"/>
<rect x="128.73" y="541.74" width="6.34" height="6.31" fill="#fff5eb"/>
<rect x="135.03" y="541.74" width="6.34" height="6.31" fill="#fff5eb"/>
<rect x="141.32" y="541.74" width="6.34" height="6.31" fill="#fff5eb"/>
<rect x="147.62" y="541.74" width="6.34" height="6.31" fill="#fff5eb"/>
<rect x="153.91" y="541.74" width="6.34" height="6.31" fill="#fff5eb"/>
<rect x="160.21" y="541.74" width="6.34" height="6.31" fill="#fffaf6"/>
<rect x="166.50" y="541.74" width="6.34" height="6.31" fill="#fff5eb"/>
<rect x="172.80" y="541.74" width="6.34" height="6.31" fill="#fff5eb"/>
<rect x="179.09" y="541.74" width="6.34" height="6.31" fill="#fff5eb"/>
<rect x="185.39" y="541.74" width="6.34" height="6.31" fill="#fff5eb"/>
<rect x="191.69" y="541.74" width="6.34" height="6.31" fill="#fff5eb"/>
<rect x="197.98" y="541.74" width="6.34" height="6.31" fill="#ffbc78"/>
<rect x="210.57" y="541.74" width="6.34" height="6.31" fill="#fff5eb"/>
<rect x="216.87" y="541.74" width="6.34" height="6.31" fill="#fff5eb"/>
<rect x="223.16" y="541.74" width="6.34" height="6.31" fill="#fff5eb"/>
<rect x="229.46" y="541.74" width="6.34" height="6.31" fill="#ffe9d3"/>
<rect x="235.75" y="541.74" width="6.34" height="6.31" fill="#fff5eb"/>
<rect x="242.05" y="541.74" width="6.34" height="6.31" fill="#fff5eb"/>
<rect x="248.34" y="541.74" width="6.34" height="6.31" fill="#fff5eb"/>
<rect x="254.63" y="541.74" width="6.34" height="6.31" fill="#ffe9d3"/>
<rect x="260.93" y="541.74" width="6.34" height="6.31" fill="#fff5eb"/>
<rect x="267.22" y="541.74" width="6.34" height="6.31" fill="#fff5eb"/>
<rect x="273.52" y="541.74" width="6.34" height="6.31" fill="#fff5eb"/>
<rect x="279.81" y="541.74" width="6.34" height="6.31" fill="#fff5eb"/>
<rect x="286.11" y="541.74" width="6.34" height="6.31" fill="#fffaf6"/>
<rect x="292.40" y="541.74" width="6.34" height="6.31" fill="#fff5eb"/>
<rect x="298.70" y="541.74" width="6.34" height="6.31" fill="#fffaf6"/>
<rect x="46.90" y="548.00" width="6.34" height="6.31" fill="#ffbc78"/>
<rect x="53.20" y="548.00" width="6.34" height="6.31" fill="#ff7c00"/>
<rect x="59.49" y="548.00" width="6.34" height="6.31" fill="#ff7c00"/>
<rect x="65.78" y="548.00" width="6.34" height="6.31" fill="#b20000"/>
<rect x="72.08" y="548.00" width="6.34" height="6.31" fill="#ffaf5f"/>
<rect x="78.38" y="548.00" width="6.34" height="6.31" fill="#ffa449"/>
<rect x="84.67" y="548.00" width="6.34" height="6.31" fill="#0e0000"/>
<rect x="90.97" y="548.00" width="6.34" height="6.31" fill="#ffaf5f"/>
<rect x="97.26" y="548.00" width="6.34" height="6.31" fill="#ff6400"/>
<rect x="103.56" y="548.00" width="6.34" height="6.31" fill="#ffaf5f"/>
<rect x="109.85" y="548.00" width="6.34" height="6.31" fill="#ffc892"/>
<rect x="116.15" y="548.00" width="6.34" height="6.31" fill="#ffaf5f"/>
<rect x="122.44" y="548.00" width="6.34" height="6.31" fill="#0e0000"/>
<rect x="128.73" y="548.00" width="6.34" height="6.31" fill="#ff6400"/>
<rect x="135.03" y="548.00" width="6.34" height="6.31" fill="#ffdebd"/>
<rect x="141.32" y="548.00" width="6.34" height="6.31" fill="#b20000"/>
<rect x="147.62" y="548.00" width="6.34" height="6.31" fill="#8f0000"/>
<rect x="153.91" y="548.00" width="6.34" height="6.31" fill="#ffaf5f"/>
<rect x="160.21" y="548.00" width="6.34" height="6.31" fill="#ffdebd"/>
<rect x="166.50" y="548.00" width="6.34" height="6.31" fill="#ff6400"/>
<rect x="172.80" y="548.00" width="6.34" height="6.31" fill="#ff6400"/>
<rect x="179.09" y="548.00" width="6.34" height="6.31" fill="#ffbc78"/>
<rect x="185.39" y="548.00" width="6.34" height="6.31" fill="#ffbc78"/>
<rect x="191.69" y="548.00" width="6.34" height="6.31" fill="#ffa449"/>
<rect x="197.98" y="548.00" width="6.34" height="6.31" fill="#8f0000"/>
<rect x="204.28" y="548.00" width="6.34" height="6.31" fill="#ffc892"/>
<rect x="210.57" y="548.00" width="6.34" height="6.31" fill="#ff6400"/>
<rect x="216.87" y="548.00" width="6.34" height="6.31" fill="#b20000"/>
<rect x="223.16" y="548.00" width="6.34" height="6.31" fill="#ff7c00"/>
<rect x="229.46" y="548.00" width="6.34" height="6.31" fill="#e83700"/>
<rect x="235.75" y="548.00" width="6.34" height="6.31" fill="#ff9933"/>
<rect x="242.05" y="548.00" width="6.34" height="6.31" fill="#ffbc78"/>
<rect x="248.34" y="548.00" width="6.34" height="6.31" fill="#ffa449"/>
<rect x="254.63" y="548.00" width="6.34" height="6.31" fill="#ff7c00"/>
<rect x="260.93" y="548.00" width="6.34" height="6.31" fill="#ff7c00"/>
<rect x="267.22" y="548.00" width="6.34" height="6.31" fill="#ff7c00"/>
<rect x="273.52" y="548.00" width="6.34" height="6.31" fill="#ffa449"/>
<rect x="279.81" y="548.00" width="6.34" height="6.31" fill="#ffbc78"/>
<rect x="286.11" y="548.00" width="6.34" height="6.31" fill="#ffaf5f"/>
<rect x="292.40" y="548.00" width="6.34" height="6.31" fill="#ff7c00"/>
<rect x="298.70" y="548.00" width="6.34" height="6.31" fill="#ffdebd"/>
<rect x="46.90" y="554.26" width="6.34" height="6.31" fill="#ffc892"/>
<rect x="53.20" y="554.26" width="6.34" height="6.31" fill="#ff7c00"/>
<rect x="59.49" y="554.26" width="6.34" height="6.31" fill="#ff7c00"/>
<rect x="65.78" y="554.26" width="6.34" height="6.31" fill="#ff6400"/>
<rect x="72.08" y="554.26" width="6.34" height="6.31" fill="#fff5eb"/>
<rect x="78.38" y="554.26" width="6.34" height="6.31" fill="#fff5eb"/>
<rect x="84.67" y="554.26" width="6.34" height="6.31" fill="#ffc892"/>
<rect x="90.97" y="554.26" width="6.34" height="6.31" fill="#ffdebd"/>
<rect x="97.26" y="554.26" width="6.34" height="6.31" fill="#ffd3a8"/>
<rect x="103.56" y="554.26" width="6.34" height="6.31" fill="#ffdebd"/>
<rect x="109.85" y="554.26" width="6.34" height="6.31" fill="#fff5eb"/>
<rect x="116.15" y="554.26" width="6.34" height="6.31" fill="#ffdebd"/>
<rect x="122.44" y="554.26" width="6.34" height="6.31" fill="#ff9933"/>
<rect x="128.73" y="554.26" width="6.34" height="6.31" fill="#ffdebd"/>
<rect x="135.03" y="554.26" width="6.34" height="6.31" fill="#ffe9d3"/>
<rect x="141.32" y="554.26" width="6.34" height="6.31" fill="#ffaf5f"/>
<rect x="147.62" y="554.26" width="6.34" height="6.31" fill="#ff7c00"/>
<rect x="153.91" y="554.26" width="6.34" height="6.31" fill="#ffc892"/>
<rect x="160.21" y="554.26" width="6.34" height="6.31" fill="#ffd3a8"/>
<rect x="166.50" y="554.26" width="6.34" height="6.31" fill="#ff6400"/>
<rect x="172.80" y="554.26" width="6.34" height="6.31" fill="#ff6400"/>
<rect x="179.09" y="554.26" width="6.34" height="6.31" fill="#ffe9d3"/>
<rect x="185.39" y="554.26" width="6.34" height="6.31" fill="#ffbc78"/>
<rect x="191.69" y="554.26" width="6.34" height="6.31" fill="#ffbc78"/>
<rect x="197.98" y="554.26" width="6.34" height="6.31" fill="#e83700"/>
<rect x="204.28" y="554.26" width="6.34" height="6.31" fill="#fff5eb"/>
<rect x="210.57" y="554.26" width="6.34" height="6.31" fill="#ffc892"/>
<rect x="216.87" y="554.26" width="6.34" height="6.31" fill="#ffc892"/>
<rect x="223.16" y="554.26" width="6.34" height="6.31" fill="#ffe9d3"/>
<rect x="229.46" y="554.26" width="6.34" height="6.31" fill="#ffdebd"/>
<rect x="235.75" y="554.26" width="6.34" height="6.31" fill="#ffe9d3"/>
<rect x="242.05" y="554.26" width="6.34" height="6.31" fill="#fff5eb"/>
<rect x="248.34" y="554.26" width="6.34" height="6.31" fill="#fff5eb"/>
<rect x="254.63" y="554.26" width="6.34" height="6.31" fill="#ffdebd"/>
<rect x="260.93" y="554.26" width="6.34" height="6.31" fill="#ffd3a8"/>
<rect x="267.22" y="554.26" width="6.34" height="6.31" fill="#ffe9d3"/>
<rect x="273.52" y="554.26" width="6.34" height="6.31" fill="#ffe9d3"/>
<rect x="279.81" y="554.26" width="6.34" height="6.31" fill="#ffe9d3"/>
<rect x="286.11" y="554.26" width="6.34" height="6.31" fill="#fff5eb"/>
<rect x="292.40" y="554.26" width="6.34" height="6.31" fill="#fff5eb"/>
<rect x="298.70" y="554.26" width="6.34" height="6.31" fill="#fff5eb"/>
<rect x="46.90" y="560.52" width="6.34" height="6.31" fill="#ffaf5f"/>
<rect x="53.20" y="560.52" width="6.34" height="6.31" fill="#ff7c00"/>
<rect x="59.49" y="560.52" width="6.34" height="6.31" fill="#ff7c00"/>
<rect x="65.78" y="560.52" width="6.34" height="6.31" fill="#ff9933"/>
<rect x="72.08" y="560.52" width="6.34" height="6.31" fill="#ffdebd"/>
<rect x="78.38" y="560.52" width="6.34" height="6.31" fill="#ffdebd"/>
<rect x="84.67" y="560.52" width="6.34" height="6.31" fill="#ff9933"/>
<rect x="90.97" y="560.52" width="6.34" height="6.31" fill="#ffdebd"/>
<rect x="97.26" y="560.52" width="6.34" height="6.31" fill="#ffe9d3"/>
<rect x="103.56" y="560.52" width="6.34" height="6.31" fill="#fffaf6"/>
<rect x="116.15" y="560.52" width="6.34" height="6.31" fill="#fffaf6"/>
<rect x="122.44" y="560.52" width="6.34" height="6.31" fill="#ffbc78"/>
<rect x="128.73" y="560.52" width="6.34" height="6.31" fill="#ffdebd"/>
<rect x="135.03" y="560.52" width="6.34" height="6.31" fill="#fff5eb"/>
<rect x="141.32" y="560.52" width="6.34" height="6.31" fill="#fff5eb"/>
<rect x="147.62" y="560.52" width="6.34" height="6.31" fill="#fff5eb"/>
<rect x="153.91" y="560.52" width="6.34" height="6.31" fill="#ffe9d3"/>
<rect x="160.21" y="560.52" width="6.34" height="6.31" fill="#fffaf6"/>
<rect x="166.50" y="560.52" width="6.34" height="6.31" fill="#ffd3a8"/>
<rect x="172.80" y="560.52" width="6.34" height="6.31" fill="#ffdebd"/>
<rect x="179.09" y="560.52" width="6.34" height="6.31" fill="#fff5eb"/>
<rect x="185.39" y="560.52" width="6.34" height="6.31" fill="#fff5eb"/>
<rect x="191.69" y="560.52" width="6.34" height="6.31" fill="#ffdebd"/>
<rect x="197.98" y="560.52" width="6.34" height="6.31" fill="#ff8c1a"/>
<rect x="204.28" y="560.52" width="6.34" height="6.31" fill="#fffaf6"/>
<rect x="210.57" y="560.52" width="6.34" height="6.31" fill="#ffe9d3"/>
<rect x="216.87" y="560.52" width="6.34" height="6.31" fill="#ffdebd"/>
<rect x="223.16" y="560.52" width="6.34" height="6.31" fill="#fff5eb"/>
<rect x="229.46" y="560.52" width="6.34" height="6.31" fill="#ffdebd"/>
<rect x="235.75" y="560.52" width="6.34" height="6.31" fill="#ffe9d3"/>
<rect x="242.05" y="560.52" width="6.34" height="6.31" fill="#fff5eb"/>
<rect x="248.34" y="560.52" width="6.34" height="6.31" fill="#fff5eb"/>
<rect x="254.63" y="560.52" width="6.34" height="6.31" fill="#fff5eb"/>
<rect x="260.93" y="560.52" width="6.34" height="6.31" fill="#ffe9d3"/>
<rect x="267.22" y="560.52" width="6.34" height="6.31" fill="#fff5eb"/>
<rect x="273.52" y="560.52" width="6.34" height="6.31" fill="#fff5eb"/>
<rect x="279.81" y="560.52" width="6.34" height="6.31" fill="#fff5eb"/>
<rect x="286.11" y="560.52" width="6.34" height="6.31" fill="#fffaf6"/>
<rect x="292.40" y="560.52" width="6.34" height="6.31" fill="#fff5eb"/>
<rect x="298.70" y="560.52" width="6.34" height="6.31" fill="#fff5eb"/>
<rect x="46.90" y="566.79" width="6.34" height="6.31" fill="#ffaf5f"/>
<rect x="53.20" y="566.79" width="6.34" height="6.31" fill="#ff7c00"/>
<rect x="59.49" y="566.79" width="6.34" height="6.31" fill="#ff8c1a"/>
<rect x="65.78" y="566.79" width="6.34" height="6.31" fill="#e83700"/>
<rect x="72.08" y="566.79" width="6.34" height="6.31" fill="#ffdebd"/>
<rect x="78.38" y="566.79" width="6.34" height="6.31" fill="#ffdebd"/>
<rect x="84.67" y="566.79" width="6.34" height="6.31" fill="#ff6400"/>
<rect x="90.97" y="566.79" width="6.34" height="6.31" fill="#ffdebd"/>
<rect x="97.26" y="566.79" width="6.34" height="6.31" fill="#ffe9d3"/>
<rect x="103.56" y="566.79" width="6.34" height="6.31" fill="#fffaf6"/>
<rect x="109.85" y="566.79" width="6.34" height="6.31" fill="#fffaf6"/>
<rect x="116.15" y="566.79" width="6.34" height="6.31" fill="#fff5eb"/>
<rect x="122.44" y="566.79" width="6.34" height="6.31" fill="#ffc892"/>
<rect x="128.73" y="566.79" width="6.34" height="6.31" fill="#ffdebd"/>
<rect x="135.03" y="566.79" width="6.34" height="6.31" fill="#fff5eb"/>
<rect x="141.32" y="566.79" width="6.34" height="6.31" fill="#ffdebd"/>
<rect x="147.62" y="566.79" width="6.34" height="6.31" fill="#ffe9d3"/>
<rect x="153.91" y="566.79" width="6.34" height="6.31" fill="#ffdebd"/>
<rect x="160.21" y="566.79" width="6.34" height="6.31" fill="#ffe9d3"/>
<rect x="166.50" y="566.79" width="6.34" height="6.31" fill="#ffdebd"/>
<rect x="172.80" y="566.79" width="6.34" height="6.31" fill="#ffdebd"/>
<rect x="179.09" y="566.79" width="6.34" height="6.31" fill="#fff5eb"/>
<rect x="185.39" y="566.79" width="6.34" height="6.31" fill="#fff5eb"/>
<rect x="191.69" y="566.79" width="6.34" height="6.31" fill="#ffdebd"/>
<rect x="197.98" y="566.79" width="6.34" height="6.31" fill="#ffbc78"/>
<rect x="204.28" y="566.79" width="6.34" height="6.31" fill="#fffaf6"/>
<rect x="210.57" y="566.79" width="6.34" height="6.31" fill="#ffe9d3"/>
<rect x="216.87" y="566.79" width="6.34" height="6.31" fill="#ffdebd"/>
<rect x="223.16" y="566.79" width="6.34" height="6.31" fill="#fff5eb"/>
<rect x="229.46" y="566.79" width="6.34" height="6.31" fill="#ffdebd"/>
<rect x="235.75" y="566.79" width="6.34" height="6.31" fill="#ffe9d3"/>
<rect x="242.05" y="566.79" width="6.34" height="6.31" fill="#fff5eb"/>
<rect x="248.34" y="566.79" width="6.34" height="6.31" fill="#fff5eb"/>
<rect x="254.63" y="566.79" width="6.34" height="6.31" fill="#ffe9d3"/>
<rect x="260.93" y="566.79" width="6.34" height="6.31" fill="#ffdebd"/>
<rect x="267.22" y="566.79" width="6.34" height="6.31" fill="#ffdebd"/>
<rect x="273.52" y="566.79" width="6.34" height="6.31" fill="#ffdebd"/>
<rect x="279.81" y="566.79" width="6.34" height="6.31" fill="#fff5eb"/>
<rect x="286.11" y="566.79" width="6.34" height="6.31" fill="#fff5eb"/>
<rect x="292.40" y="566.79" width="6.34" height="6.31" fill="#fff5eb"/>
<rect x="298.70" y="566.79" width="6.34" height="6.31" fill="#fff5eb"/>
<rect x="46.90" y="573.05" width="6.34" height="6.31" fill="#ffe9d3"/>
<rect x="53.20" y="573.05" width="6.34" height="6.31" fill="#ffaf5f"/>
<rect x="59.49" y="573.05" width="6.34" height="6.31" fill="#ffbc78"/>
<rect x="65.78" y="573.05" width="6.34" height="6.31" fill="#3d0000"/>
<rect x="72.08" y="573.05" width="6.34" height="6.31" fill="#ffe9d3"/>
<rect x="78.38" y="573.05" width="6.34" height="6.31" fill="#ffd3a8"/>
<rect x="84.67" y="573.05" width="6.34" height="6.31" fill="#b20000"/>
<rect x="90.97" y="573.05" width="6.34" height="6.31" fill="#ffdebd"/>
<rect x="97.26" y="573.05" width="6.34" height="6.31" fill="#ff9933"/>
<rect x="103.56" y="573.05" width="6.34" height="6.31" fill="#ffe9d3"/>
<rect x="109.85" y="573.05" width="6.34" height="6.31" fill="#fff5eb"/>
<rect x="116.15" y="573.05" width="6.34" height="6.31" fill="#ffc892"/>
<rect x="122.44" y="573.05" width="6.34" height="6.31" fill="#e83700"/>
<rect x="128.73" y="573.05" width="6.34" height="6.31" fill="#ff7c00"/>
<rect x="135.03" y="573.05" width="6.34" height="6.31" fill="#ffdebd"/>
<rect x="141.32" y="573.05" width="6.34" height="6.31" fill="#ff7c00"/>
<rect x="147.62" y="573.05" width="6.34" height="6.31" fill="#8f0000"/>
<rect x="153.91" y="573.05" width="6.34" height="6.31" fill="#ff6400"/>
<rect x="160.21" y="573.05" width="6.34" height="6.31" fill="#ffc892"/>
<rect x="166.50" y="573.05" width="6.34" height="6.31" fill="#e83700"/>
<rect x="172.80" y="573.05" width="6.34" height="6.31" fill="#0e0000"/>
<rect x="179.09" y="573.05" width="6.34" height="6.31" fill="#ffc892"/>
<rect x="185.39" y="573.05" width="6.34" height="6.31" fill="#ffc892"/>
<rect x="191.69" y="573.05" width="6.34" height="6.31" fill="#ff8c1a"/>
<rect x="197.98" y="573.05" width="6.34" height="6.31" fill="#b20000"/>
<rect x="204.28" y="573.05" width="6.34" height="6.31" fill="#ffe9d3"/>
<rect x="210.57" y="573.05" width="6.34" height="6.31" fill="#ffc892"/>
<rect x="216.87" y="573.05" width="6.34" height="6.31" fill="#ff9933"/>
<rect x="223.16" y="573.05" width="6.34" height="6.31" fill="#ffe9d3"/>
<rect x="229.46" y="573.05" width="6.34" height="6.31" fill="#ffbc78"/>
<rect x="235.75" y="573.05" width="6.34" height="6.31" fill="#ffc892"/>
<rect x="242.05" y="573.05" width="6.34" height="6.31" fill="#ffe9d3"/>
<rect x="248.34" y="573.05" width="6.34" height="6.31" fill="#ffdebd"/>
<rect x="254.63" y="573.05" width="6.34" height="6.31" fill="#ffdebd"/>
<rect x="260.93" y="573.05" width="6.34" height="6.31" fill="#ffdebd"/>
<rect x="267.22" y="573.05" width="6.34" height="6.31" fill="#ffdebd"/>
<rect x="273.52" y="573.05" width="6.34" height="6.31" fill="#ffe9d3"/>
<rect x="279.81" y="573.05" width="6.34" height="6.31" fill="#ffe9d3"/>
<rect x="286.11" y="573.05" width="6.34" height="6.31" fill="#fff5eb"/>
<rect x="292.40" y="573.05" width="6.34" height="6.31" fill="#ffdebd"/>
<rect x="298.70" y="573.05" width="6.34" height="6.31" fill="#fff5eb"/>
<rect x="46.90" y="579.31" width="6.34" height="6.31" fill="#ffdebd"/>
<rect x="53.20" y="579.31" width="6.34" height="6.31" fill="#ff7c00"/>
<rect x="59.49" y="579.31" width="6.34" height="6.31" fill="#ff6400"/>
<rect x="65.78" y="579.31" width="6.34" height="6.31" fill="#b20000"/>
<rect x="72.08" y="579.31" width="6.34" height="6.31" fill="#fff5eb"/>
<rect x="78.38" y="579.31" width="6.34" height="6.31" fill="#ffdebd"/>
<rect x="84.67" y="579.31" width="6.34" height="6.31" fill="#e83700"/>
<rect x="90.97" y="579.31" width="6.34" height="6.31" fill="#ffdebd"/>
<rect x="97.26" y="579.31" width="6.34" height="6.31" fill="#ffaf5f"/>
<rect x="103.56" y="579.31" width="6.34" height="6.31" fill="#ffdebd"/>
<rect x="109.85" y="579.31" width="6.34" height="6.31" fill="#fff5eb"/>
<rect x="116.15" y="579.31" width="6.34" height="6.31" fill="#ffdebd"/>
<rect x="122.44" y="579.31" width="6.34" height="6.31" fill="#ff8c1a"/>
<rect x="128.73" y="579.31" width="6.34" height="6.31" fill="#ff8c1a"/>
<rect x="135.03" y="579.31" width="6.34" height="6.31" fill="#ffe9d3"/>
<rect x="141.32" y="579.31" width="6.34" height="6.31" fill="#ffbc78"/>
<rect x="147.62" y="579.31" width="6.34" height="6.31" fill="#e83700"/>
<rect x="153.91" y="579.31" width="6.34" height="6.31" fill="#ff8c1a"/>
<rect x="160.21" y="579.31" width="6.34" height="6.31" fill="#ffe9d3"/>
<rect x="166.50" y="579.31" width="6.34" height="6.31" fill="#ff7c00"/>
<rect x="172.80" y="579.31" width="6.34" height="6.31" fill="#b20000"/>
<rect x="179.09" y="579.31" width="6.34" height="6.31" fill="#ffe9d3"/>
<rect x="185.39" y="579.31" width="6.34" height="6.31" fill="#fff5eb"/>
<rect x="191.69" y="579.31" width="6.34" height="6.31" fill="#ff9933"/>
<rect x="197.98" y="579.31" width="6.34" height="6.31" fill="#e83700"/>
<rect x="204.28" y="579.31" width="6.34" height="6.31" fill="#fffaf6"/>
<rect x="210.57" y="579.31" width="6.34" height="6.31" fill="#ffc892"/>
<rect x="216.87" y="579.31" width="6.34" height="6.31" fill="#ff9933"/>
<rect x="223.16" y="579.31" width="6.34" height="6.31" fill="#ffdebd"/>
<rect x="229.46" y="579.31" width="6.34" height="6.31" fill="#ff7c00"/>
<rect x="235.75" y="579.31" width="6.34" height="6.31" fill="#ffdebd"/>
<rect x="242.05" y="579.31" width="6.34" height="6.31" fill="#fff5eb"/>
<rect x="248.34" y="579.31" width="6.34" height="6.31" fill="#fff5eb"/>
<rect x="254.63" y="579.31" width="6.34" height="6.31" fill="#fff5eb"/>
<rect x="260.93" y="579.31" width="6.34" height="6.31" fill="#ffdebd"/>
<rect x="267.22" y="579.31" width="6.34" height="6.31" fill="#fff5eb"/>
<rect x="273.52" y="579.31" width="6.34" height="6.31" fill="#fff5eb"/>
<rect x="279.81" y="579.31" width="6.34" height="6.31" fill="#ffe9d3"/>
<rect x="286.11" y="579.31" width="6.34" height="6.31" fill="#fff5eb"/>
<rect x="292.40" y="579.31" width="6.34" height="6.31" fill="#fff5eb"/>
<rect x="298.70" y="579.31" width="6.34" height="6.31" fill="#fffaf6"/>
<rect x="46.90" y="585.58" width="6.34" height="6.31" fill="#ffdebd"/>
<rect x="53.20" y="585.58" width="6.34" height="6.31" fill="#ff9933"/>
<rect x="59.49" y="585.58" width="6.34" height="6.31" fill="#ffc892"/>
<rect x="65.78" y="585.58" width="6.34" height="6.31" fill="#ff9933"/>
<rect x="72.08" y="585.58" width="6.34" height="6.31" fill="#fff5eb"/>
<rect x="78.38" y="585.58" width="6.34" height="6.31" fill="#ffdebd"/>
<rect x="84.67" y="585.58" width="6.34" height="6.31" fill="#e83700"/>
<rect x="90.97" y="585.58" width="6.34" height="6.31" fill="#ffdebd"/>
<rect x="97.26" y="585.58" width="6.34" height="6.31" fill="#ffc892"/>
<rect x="103.56" y="585.58" width="6.34" height="6.31" fill="#fff5eb"/>
<rect x="116.15" y="585.58" width="6.34" height="6.31" fill="#fff5eb"/>
<rect x="122.44" y="585.58" width="6.34" height="6.31" fill="#ffc892"/>
<rect x="128.73" y="585.58" width="6.34" height="6.31" fill="#ffbc78"/>
<rect x="135.03" y="585.58" width="6.34" height="6.31" fill="#fffaf6"/>
<rect x="141.32" y="585.58" width="6.34" height="6.31" fill="#fffaf6"/>
<rect x="147.62" y="585.58" width="6.34" height="6.31" fill="#ffdebd"/>
<rect x="153.91" y="585.58" width="6.34" height="6.31" fill="#fff5eb"/>
<rect x="160.21" y="585.58" width="6.34" height="6.31" fill="#fffaf6"/>
<rect x="166.50" y="585.58" width="6.34" height="6.31" fill="#ffe9d3"/>
<rect x="172.80" y="585.58" width="6.34" height="6.31" fill="#ffdebd"/>
<rect x="179.09" y="585.58" width="6.34" height="6.31" fill="#fff5eb"/>
<rect x="185.39" y="585.58" width="6.34" height="6.31" fill="#fffaf6"/>
<rect x="191.69" y="585.58" width="6.34" height="6.31" fill="#ffe9d3"/>
<rect x="197.98" y="585.58" width="6.34" height="6.31" fill="#ffa449"/>
<rect x="204.28" y="585.58" width="6.34" height="6.31" fill="#fffaf6"/>
<rect x="210.57" y="585.58" width="6.34" height="6.31" fill="#ffe9d3"/>
<rect x="216.87" y="585.58" width="6.34" height="6.31" fill="#ffc892"/>
<rect x="223.16" y="585.58" width="6.34" height="6.31" fill="#ffdebd"/>
<rect x="229.46" y="585.58" width="6.34" height="6.31" fill="#ff9933"/>
<rect x="235.75" y="585.58" width="6.34" height="6.31" fill="#ffe9d3"/>
<rect x="242.05" y="585.58" width="6.34" height="6.31" fill="#fff5eb"/>
<rect x="248.34" y="585.58" width="6.34" height="6.31" fill="#fff5eb"/>
<rect x="254.63" y="585.58" width="6.34" height="6.31" fill="#fff5eb"/>
<rect x="260.93" y="585.58" width="6.34" height="6.31" fill="#fff5eb"/>
<rect x="267.22" y="585.58" width="6.34" height="6.31" fill="#fff5eb"/>
<rect x="273.52" y="585.58" width="6.34" height="6.31" fill="#fff5eb"/>
<rect x="279.81" y="585.58" width="6.34" height="6.31" fill="#fff5eb"/>
<rect x="292.40" y="585.58" width="6.34" height="6.31" fill="#fff5eb"/>
<rect x="298.70" y="585.58" width="6.34" height="6.31" fill="#fffaf6"/>
<rect x="46.90" y="591.84" width="6.34" height="6.31" fill="#ffc892"/>
<rect x="53.20" y="591.84" width="6.34" height="6.31" fill="#ff7c00"/>
<rect x="59.49" y="591.84" width="6.34" height="6.31" fill="#ffbc78"/>
<rect x="65.78" y="591.84" width="6.34" height="6.31" fill="#cd1200"/>
<rect x="72.08" y="591.84" width="6.34" height="6.31" fill="#ffdebd"/>
<rect x="78.38" y="591.84" width="6.34" height="6.31" fill="#ffdebd"/>
<rect x="84.67" y="591.84" width="6.34" height="6.31" fill="#e83700"/>
<rect x="90.97" y="591.84" width="6.34" height="6.31" fill="#ffdebd"/>
<rect x="97.26" y="591.84" width="6.34" height="6.31" fill="#ffd3a8"/>
<rect x="103.56" y="591.84" width="6.34" height="6.31" fill="#fff5eb"/>
<rect x="109.85" y="591.84" width="6.34" height="6.31" fill="#fff5eb"/>
<rect x="116.15" y="591.84" width="6.34" height="6.31" fill="#ffdebd"/>
<rect x="122.44" y="591.84" width="6.34" height="6.31" fill="#ffbc78"/>
<rect x="128.73" y="591.84" width="6.34" height="6.31" fill="#ffc892"/>
<rect x="135.03" y="591.84" width="6.34" height="6.31" fill="#ffdebd"/>
<rect x="141.32" y="591.84" width="6.34" height="6.31" fill="#ffc892"/>
<rect x="147.62" y="591.84" width="6.34" height="6.31" fill="#ffbc78"/>
<rect x="153.91" y="591.84" width="6.34" height="6.31" fill="#ffaf5f"/>
<rect x="160.21" y="591.84" width="6.34" height="6.31" fill="#fff5eb"/>
<rect x="166.50" y="591.84" width="6.34" height="6.31" fill="#ff7c00"/>
<rect x="172.80" y="591.84" width="6.34" height="6.31" fill="#ff6400"/>
<rect x="179.09" y="591.84" width="6.34" height="6.31" fill="#ffdebd"/>
<rect x="185.39" y="591.84" width="6.34" height="6.31" fill="#ffdebd"/>
<rect x="191.69" y="591.84" width="6.34" height="6.31" fill="#ffc892"/>
<rect x="197.98" y="591.84" width="6.34" height="6.31" fill="#ff9933"/>
<rect x="204.28" y="591.84" width="6.34" height="6.31" fill="#fff5eb"/>
<rect x="210.57" y="591.84" width="6.34" height="6.31" fill="#ffd3a8"/>
<rect x="216.87" y="591.84" width="6.34" height="6.31" fill="#ffc892"/>
<rect x="223.16" y="591.84" width="6.34" height="6.31" fill="#fff5eb"/>
<rect x="229.46" y="591.84" width="6.34" height="6.31" fill="#ffe9d3"/>
<rect x="235.75" y="591.84" width="6.34" height="6.31" fill="#ffe9d3"/>
<rect x="242.05" y="591.84" width="6.34" height="6.31" fill="#fff5eb"/>
<rect x="248.34" y="591.84" width="6.34" height="6.31" fill="#fff5eb"/>
<rect x="254.63" y="591.84" width="6.34" height="6.31" fill="#fff5eb"/>
<rect x="260.93" y="591.84" width="6.34" height="6.31" fill="#ffd3a8"/>
<rect x="267.22" y="591.84" width="6.34" height="6.31" fill="#ffdebd"/>
<rect x="273.52" y="591.84" width="6.34" height="6.31" fill="#fff5eb"/>
<rect x="279.81" y="591.84" width="6.34" height="6.31" fill="#fff5eb"/>
<rect x="286.11" y="591.84" width="6.34" height="6.31" fill="#fff5eb"/>
<rect x="292.40" y="591.84" width="6.34" height="6.31" fill="#fff5eb"/>
<rect x="298.70" y="591.84" width="6.34" height="6.31" fill="#fffaf6"/>
<rect x="46.90" y="598.10" width="6.34" height="6.31" fill="#fff5eb"/>
<rect x="53.20" y="598.10" width="6.34" height="6.31" fill="#ffc892"/>
<rect x="59.49" y="598.10" width="6.34" height="6.31" fill="#ffe9d3"/>
<rect x="65.78" y="598.10" width="6.34" height="6.31" fill="#b20000"/>
<rect x="72.08" y="598.10" width="6.34" height="6.31" fill="#ffdebd"/>
<rect x="78.38" y="598.10" width="6.34" height="6.31" fill="#ffd3a8"/>
<rect x="84.67" y="598.10" width="6.34" height="6.31" fill="#b20000"/>
<rect x="90.97" y="598.10" width="6.34" height="6.31" fill="#fff5eb"/>
<rect x="97.26" y="598.10" width="6.34" height="6.31" fill="#ffbc78"/>
<rect x="103.56" y="598.10" width="6.34" height="6.31" fill="#ffe9d3"/>
<rect x="109.85" y="598.10" width="6.34" height="6.31" fill="#ffdebd"/>
<rect x="116.15" y="598.10" width="6.34" height="6.31" fill="#ffd3a8"/>
<rect x="122.44" y="598.10" width="6.34" height="6.31" fill="#ff7c00"/>
<rect x="128.73" y="598.10" width="6.34" height="6.31" fill="#ffbc78"/>
<rect x="135.03" y="598.10" width="6.34" height="6.31" fill="#ffdebd"/>
<rect x="141.32" y="598.10" width="6.34" height="6.31" fill="#ff6400"/>
<rect x="147.62" y="598.10" width="6.34" height="6.31" fill="#b20000"/>
<rect x="153.91" y="598.10" width="6.34" height="6.31" fill="#ffc892"/>
<rect x="160.21" y="598.10" width="6.34" height="6.31" fill="#ffdebd"/>
<rect x="166.50" y="598.10" width="6.34" height="6.31" fill="#e83700"/>
<rect x="172.80" y="598.10" width="6.34" height="6.31" fill="#3d0000"/>
<rect x="179.09" y="598.10" width="6.34" height="6.31" fill="#ffe9d3"/>
<rect x="185.39" y="598.10" width="6.34" height="6.31" fill="#fffaf6"/>
<rect x="191.69" y="598.10" width="6.34" height="6.31" fill="#ff9933"/>
<rect x="197.98" y="598.10" width="6.34" height="6.31" fill="#cd1200"/>
<rect x="204.28" y="598.10" width="6.34" height="6.31" fill="#fff5eb"/>
<rect x="210.57" y="598.10" width="6.34" height="6.31" fill="#ffc892"/>
<rect x="216.87" y="598.10" width="6.34" height="6.31" fill="#ffaf5f"/>
<rect x="223.16" y="598.10" width="6.34" height="6.31" fill="#ffe9d3"/>
<rect x="229.46" y="598.10" width="6.34" height="6.31" fill="#ffbc78"/>
<rect x="235.75" y="598.10" width="6.34" height="6.31" fill="#ffdebd"/>
<rect x="242.05" y="598.10" width="6.34" height="6.31" fill="#fff5eb"/>
<rect x="248.34" y="598.10" width="6.34" height="6.31" fill="#fff5eb"/>
<rect x="254.63" y="598.10" width="6.34" height="6.31" fill="#fff5eb"/>
<rect x="260.93" y="598.10" width="6.34" height="6.31" fill="#fff5eb"/>
<rect x="267.22" y="598.10" width="6.34" height="6.31" fill="#fff5eb"/>
<rect x="279.81" y="598.10" width="6.34" height="6.31" fill="#fffaf6"/>
<rect x="286.11" y="598.10" width="6.34" height="6.31" fill="#fffaf6"/>
<rect x="292.40" y="598.10" width="6.34" height="6.31" fill="#fff5eb"/>
<rect x="298.70" y="598.10" width="6.34" height="6.31" fill="#fffaf6"/>
<rect x="46.90" y="604.36" width="6.34" height="6.31" fill="#ffe9d3"/>
<rect x="53.20" y="604.36" width="6.34" height="6.31" fill="#ffa449"/>
<rect x="59.49" y="604.36" width="6.34" height="6.31" fill="#ffdebd"/>
<rect x="65.78" y="604.36" width="6.34" height="6.31" fill="#ff7c00"/>
<rect x="72.08" y="604.36" width="6.34" height="6.31" fill="#fff5eb"/>
<rect x="78.38" y="604.36" width="6.34" height="6.31" fill="#ffdebd"/>
<rect x="84.67" y="604.36" width="6.34" height="6.31" fill="#660000"/>
<rect x="90.97" y="604.36" width="6.34" height="6.31" fill="#ffe9d3"/>
<rect x="97.26" y="604.36" width="6.34" height="6.31" fill="#ffbc78"/>
<rect x="103.56" y="604.36" width="6.34" height="6.31" fill="#fff5eb"/>
<rect x="109.85" y="604.36" width="6.34" height="6.31" fill="#fff5eb"/>
<rect x="116.15" y="604.36" width="6.34" height="6.31" fill="#ffdebd"/>
<rect x="122.44" y="604.36" width="6.34" height="6.31" fill="#ff6400"/>
<rect x="128.73" y="604.36" width="6.34" height="6.31" fill="#ff8c1a"/>
<rect x="135.03" y="604.36" width="6.34" height="6.31" fill="#fff5eb"/>
<rect x="141.32" y="604.36" width="6.34" height="6.31" fill="#ffc892"/>
<rect x="147.62" y="604.36" width="6.34" height="6.31" fill="#e83700"/>
<rect x="153.91" y="604.36" width="6.34" height="6.31" fill="#ffc892"/>
<rect x="160.21" y="604.36" width="6.34" height="6.31" fill="#fff5eb"/>
<rect x="166.50" y="604.36" width="6.34" height="6.31" fill="#ffaf5f"/>
<rect x="172.80" y="604.36" width="6.34" height="6.31" fill="#e83700"/>
<rect x="179.09" y="604.36" width="6.34" height="6.31" fill="#ffe9d3"/>
<rect x="185.39" y="604.36" width="6.34" height="6.31" fill="#fff5eb"/>
<rect x="191.69" y="604.36" width="6.34" height="6.31" fill="#ffc892"/>
<rect x="197.98" y="604.36" width="6.34" height="6.31" fill="#cd1200"/>
<rect x="204.28" y="604.36" width="6.34" height="6.31" fill="#fff5eb"/>
<rect x="210.57" y="604.36" width="6.34" height="6.31" fill="#ffc892"/>
<rect x="216.87" y="604.36" width="6.34" height="6.31" fill="#ffaf5f"/>
<rect x="223.16" y="604.36" width="6.34" height="6.31" fill="#ffe9d3"/>
<rect x="229.46" y="604.36" width="6.34" height="6.31" fill="#ff7c00"/>
<rect x="235.75" y="604.36" width="6.34" height="6.31" fill="#ffc892"/>
<rect x="242.05" y="604.36" width="6.34" height="6.31" fill="#fff5eb"/>
<rect x="248.34" y="604.36" width="6.34" height="6.31" fill="#fff5eb"/>
<rect x="254.63" y="604.36" width="6.34" height="6.31" fill="#fff5eb"/>
<rect x="260.93" y="604.36" width="6.34" height="6.31" fill="#fff5eb"/>
<rect x="267.22" y="604.36" width="6.34" height="6.31" fill="#fff5eb"/>
<rect x="273.52" y="604.36" width="6.34" height="6.31" fill="#fff5eb"/>
<rect x="279.81" y="604.36" width="6.34" height="6.31" fill="#fff5eb"/>
<rect x="286.11" y="604.36" width="6.34" height="6.31" fill="#fff5eb"/>
<rect x="292.40" y="604.36" width="6.34" height="6.31" fill="#fff5eb"/>
<rect x="298.70" y="604.36" width="6.34" height="6.31" fill="#fff5eb"/>
<rect x="46.90" y="610.62" width="6.34" height="6.31" fill="#ffe9d3"/>
<rect x="53.20" y="610.62" width="6.34" height="6.31" fill="#ffaf5f"/>
<rect x="59.49" y="610.62" width="6.34" height="6.31" fill="#ffd3a8"/>
<rect x="65.78" y="610.62" width="6.34" height="6.31" fill="#ffbc78"/>
<rect x="72.08" y="610.62" width="6.34" height="6.31" fill="#fff5eb"/>
<rect x="78.38" y="610.62" width="6.34" height="6.31" fill="#ffdebd"/>
<rect x="84.67" y="610.62" width="6.34" height="6.31" fill="#ff7c00"/>
<rect x="90.97" y="610.62" width="6.34" height="6.31" fill="#fff5eb"/>
<rect x="97.26" y="610.62" width="6.34" height="6.31" fill="#ffc892"/>
<rect x="103.56" y="610.62" width="6.34" height="6.31" fill="#fffaf6"/>
<rect x="109.85" y="610.62" width="6.34" height="6.31" fill="#fffaf6"/>
<rect x="116.15" y="610.62" width="6.34" height="6.31" fill="#ffdebd"/>
<rect x="122.44" y="610.62" width="6.34" height="6.31" fill="#ffbc78"/>
<rect x="128.73" y="610.62" width="6.34" height="6.31" fill="#ffc892"/>
<rect x="135.03" y="610.62" width="6.34" height="6.31" fill="#fff5eb"/>
<rect x="141.32" y="610.62" width="6.34" height="6.31" fill="#fff5eb"/>
<rect x="147.62" y="610.62" width="6.34" height="6.31" fill="#ffc892"/>
<rect x="153.91" y="610.62" width="6.34" height="6.31" fill="#ffdebd"/>
<rect x="166.50" y="610.62" width="6.34" height="6.31" fill="#ffe9d3"/>
<rect x="172.80" y="610.62" width="6.34" height="6.31" fill="#ffc892"/>
<rect x="179.09" y="610.62" width="6.34" height="6.31" fill="#fff5eb"/>
<rect x="191.69" y="610.62" width="6.34" height="6.31" fill="#ffe9d3"/>
<rect x="197.98" y="610.62" width="6.34" height="6.31" fill="#ff9933"/>
<rect x="204.28" y="610.62" width="6.34" height="6.31" fill="#fffaf6"/>
<rect x="210.57" y="610.62" width="6.34" height="6.31" fill="#ffe9d3"/>
<rect x="216.87" y="610.62" width="6.34" height="6.31" fill="#ffdebd"/>
<rect x="223.16" y="610.62" width="6.34" height="6.31" fill="#fff5eb"/>
<rect x="229.46" y="610.62" width="6.34" height="6.31" fill="#ffe9d3"/>
<rect x="235.75" y="610.62" width="6.34" height="6.31" fill="#ffe9d3"/>
<rect x="242.05" y="610.62" width="6.34" height="6.31" fill="#fff5eb"/>
<rect x="248.34" y="610.62" width="6.34" height="6.31" fill="#fffaf6"/>
<rect x="254.63" y="610.62" width="6.34" height="6.31" fill="#fff5eb"/>
<rect x="260.93" y="610.62" width="6.34" height="6.31" fill="#fff5eb"/>
<rect x="267.22" y="610.62" width="6.34" height="6.31" fill="#fff5eb"/>
<rect x="273.52" y="610.62" width="6.34" height="6.31" fill="#fff5eb"/>
<rect x="279.81" y="610.62" width="6.34" height="6.31" fill="#fff5eb"/>
<rect x="286.11" y="610.62" width="6.34" height="6.31" fill="#fff5eb"/>
<rect x="292.40" y="610.62" width="6.34" height="6.31" fill="#fff5eb"/>
<rect x="298.70" y="610.62" width="6.34" height="6.31" fill="#fff5eb"/>
<rect x="46.90" y="616.89" width="6.34" height="6.31" fill="#fff5eb"/>
<rect x="53.20" y="616.89" width="6.34" height="6.31" fill="#ffc892"/>
<rect x="59.49" y="616.89" width="6.34" height="6.31" fill="#ffdebd"/>
<rect x="65.78" y="616.89" width="6.34" height="6.31" fill="#ffaf5f"/>
<rect x="72.08" y="616.89" width="6.34" height="6.31" fill="#fff5eb"/>
<rect x="78.38" y="616.89" width="6.34" height="6.31" fill="#ffdebd"/>
<rect x="84.67" y="616.89" width="6.34" height="6.31" fill="#ff7c00"/>
<rect x="97.26" y="616.89" width="6.34" height="6.31" fill="#fff5eb"/>
<rect x="103.56" y="616.89" width="6.34" height="6.31" fill="#fff5eb"/>
<rect x="109.85" y="616.89" width="6.34" height="6.31" fill="#fff5eb"/>
<rect x="116.15" y="616.89" width="6.34" height="6.31" fill="#fff5eb"/>
<rect x="122.44" y="616.89" width="6.34" height="6.31" fill="#ffc892"/>
<rect x="128.73" y="616.89" width="6.34" height="6.31" fill="#ffdebd"/>
<rect x="135.03" y="616.89" width="6.34" height="6.31" fill="#fff5eb"/>
<rect x="141.32" y="616.89" width="6.34" height="6.31" fill="#ff7c00"/>
<rect x="147.62" y="616.89" width="6.34" height="6.31" fill="#ffc892"/>
<rect x="153.91" y="616.89" width="6.34" height="6.31" fill="#ffc892"/>
<rect x="160.21" y="616.89" width="6.34" height="6.31" fill="#ffaf5f"/>
<rect x="166.50" y="616.89" width="6.34" height="6.31" fill="#ff7c00"/>
<rect x="172.80" y="616.89" width="6.34" height="6.31" fill="#ff7c00"/>
<rect x="179.09" y="616.89" width="6.34" height="6.31" fill="#ffc892"/>
<rect x="185.39" y="616.89" width="6.34" height="6.31" fill="#ffd3a8"/>
<rect x="191.69" y="616.89" width="6.34" height="6.31" fill="#ffaf5f"/>
<rect x="197.98" y="616.89" width="6.34" height="6.31" fill="#b20000"/>
<rect x="204.28" y="616.89" width="6.34" height="6.31" fill="#fff5eb"/>
<rect x="210.57" y="616.89" width="6.34" height="6.31" fill="#ffc892"/>
<rect x="216.87" y="616.89" width="6.34" height="6.31" fill="#ffc892"/>
<rect x="223.16" y="616.89" width="6.34" height="6.31" fill="#fff5eb"/>
<rect x="229.46" y="616.89" width="6.34" height="6.31" fill="#ffdebd"/>
<rect x="235.75" y="616.89" width="6.34" height="6.31" fill="#ffd3a8"/>
<rect x="242.05" y="616.89" width="6.34" height="6.31" fill="#fff5eb"/>
<rect x="248.34" y="616.89" width="6.34" height="6.31" fill="#fff5eb"/>
<rect x="254.63" y="616.89" width="6.34" height="6.31" fill="#fff5eb"/>
<rect x="260.93" y="616.89" width="6.34" height="6.31" fill="#fff5eb"/>
<rect x="267.22" y="616.89" width="6.34" height="6.31" fill="#fffaf6"/>
<rect x="273.52" y="616.89" width="6.34" height="6.31" fill="#fffaf6"/>
<rect x="279.81" y="616.89" width="6.34" height="6.31" fill="#fffaf6"/>
<rect x="286.11" y="616.89" width="6.34" height="6.31" fill="#fffaf6"/>
<rect x="292.40" y="616.89" width="6.34" height="6.31" fill="#fffaf6"/>
<rect x="298.70" y="616.89" width="6.34" height="6.31" fill="#fffaf6"/>
<rect x="46.90" y="623.15" width="6.34" height="6.31" fill="#fff5eb"/>
<rect x="53.20" y="623.15" width="6.34" height="6.31" fill="#ff9933"/>
<rect x="59.49" y="623.15" width="6.34" height="6.31" fill="#ff9933"/>
<rect x="65.78" y="623.15" width="6.34" height="6.31" fill="#e83700"/>
<rect x="72.08" y="623.15" width="6.34" height="6.31" fill="#fff5eb"/>
<rect x="78.38" y="623.15" width="6.34" height="6.31" fill="#ffdebd"/>
<rect x="84.67" y="623.15" width="6.34" height="6.31" fill="#b20000"/>
<rect x="90.97" y="623.15" width="6.34" height="6.31" fill="#fff5eb"/>
<rect x="97.26" y="623.15" width="6.34" height="6.31" fill="#ffc892"/>
<rect x="103.56" y="623.15" width="6.34" height="6.31" fill="#ffaf5f"/>
<rect x="109.85" y="623.15" width="6.34" height="6.31" fill="#ffaf5f"/>
<rect x="116.15" y="623.15" width="6.34" height="6.31" fill="#e83700"/>
<rect x="122.44" y="623.15" width="6.34" height="6.31" fill="#0e0000"/>
<rect x="128.73" y="623.15" width="6.34" height="6.31" fill="#ffaf5f"/>
<rect x="135.03" y="623.15" width="6.34" height="6.31" fill="#ffaf5f"/>
<rect x="141.32" y="623.15" width="6.34" height="6.31" fill="#b20000"/>
<rect x="147.62" y="623.15" width="6.34" height="6.31" fill="#e83700"/>
<rect x="153.91" y="623.15" width="6.34" height="6.31" fill="#ffbc78"/>
<rect x="160.21" y="623.15" width="6.34" height="6.31" fill="#ffaf5f"/>
<rect x="166.50" y="623.15" width="6.34" height="6.31" fill="#e83700"/>
<rect x="172.80" y="623.15" width="6.34" height="6.31" fill="#cd1200"/>
<rect x="179.09" y="623.15" width="6.34" height="6.31" fill="#ffdebd"/>
<rect x="185.39" y="623.15" width="6.34" height="6.31" fill="#ffc892"/>
<rect x="191.69" y="623.15" width="6.34" height="6.31" fill="#ffa449"/>
<rect x="197.98" y="623.15" width="6.34" height="6.31" fill="#0e0000"/>
<rect x="204.28" y="623.15" width="6.34" height="6.31" fill="#ffe9d3"/>
<rect x="210.57" y="623.15" width="6.34" height="6.31" fill="#ff9933"/>
<rect x="216.87" y="623.15" width="6.34" height="6.31" fill="#ffa449"/>
<rect x="223.16" y="623.15" width="6.34" height="6.31" fill="#ffdebd"/>
<rect x="229.46" y="623.15" width="6.34" height="6.31" fill="#ff9933"/>
<rect x="235.75" y="623.15" width="6.34" height="6.31" fill="#ffa449"/>
<rect x="242.05" y="623.15" width="6.34" height="6.31" fill="#ffe9d3"/>
<rect x="248.34" y="623.15" width="6.34" height="6.31" fill="#ffdebd"/>
<rect x="254.63" y="623.15" width="6.34" height="6.31" fill="#ffc892"/>
<rect x="260.93" y="623.15" width="6.34" height="6.31" fill="#ffdebd"/>
<rect x="267.22" y="623.15" width="6.34" height="6.31" fill="#ffe9d3"/>
<rect x="273.52" y="623.15" width="6.34" height="6.31" fill="#fff5eb"/>
<rect x="279.81" y="623.15" width="6.34" height="6.31" fill="#fff5eb"/>
<rect x="286.11" y="623.15" width="6.34" height="6.31" fill="#fff5eb"/>
<rect x="292.40" y="623.15" width="6.34" height="6.31" fill="#fff5eb"/>
<rect x="298.70" y="623.15" width="6.34" height="6.31" fill="#fff5eb"/>
<rect x="46.90" y="629.41" width="6.34" height="6.31" fill="#ffdebd"/>
<rect x="53.20" y="629.41" width="6.34" height="6.31" fill="#ffdebd"/>
<rect x="59.49" y="629.41" width="6.34" height="6.31" fill="#fff5eb"/>
<rect x="65.78" y="629.41" width="6.34" height="6.31" fill="#ffaf5f"/>
<rect x="72.08" y="629.41" width="6.34" height="6.31" fill="#fff5eb"/>
<rect x="78.38" y="629.41" width="6.34" height="6.31" fill="#ffdebd"/>
<rect x="84.67" y="629.41" width="6.34" height="6.31" fill="#e83700"/>
<rect x="90.97" y="629.41" width="6.34" height="6.31" fill="#fff5eb"/>
<rect x="97.26" y="629.41" width="6.34" height="6.31" fill="#ffc892"/>
<rect x="103.56" y="629.41" width="6.34" height="6.31" fill="#fff5eb"/>
<rect x="109.85" y="629.41" width="6.34" height="6.31" fill="#fff5eb"/>
<rect x="116.15" y="629.41" width="6.34" height="6.31" fill="#ffdebd"/>
<rect x="122.44" y="629.41" width="6.34" height="6.31" fill="#ff9933"/>
<rect x="128.73" y="629.41" width="6.34" height="6.31" fill="#ffaf5f"/>
<rect x="135.03" y="629.41" width="6.34" height="6.31" fill="#ffdebd"/>
<rect x="141.32" y="629.41" width="6.34" height="6.31" fill="#ffaf5f"/>
<rect x="147.62" y="629.41" width="6.34" height="6.31" fill="#ffaf5f"/>
<rect x="153.91" y="629.41" width="6.34" height="6.31" fill="#ffc892"/>
<rect x="160.21" y="629.41" width="6.34" height="6.31" fill="#fff5eb"/>
<rect x="166.50" y="629.41" width="6.34" height="6.31" fill="#ffdebd"/>
<rect x="172.80" y="629.41" width="6.34" height="6.31" fill="#ffc892"/>
<rect x="179.09" y="629.41" width="6.34" height="6.31" fill="#fffaf6"/>
<rect x="185.39" y="629.41" width="6.34" height="6.31" fill="#fff5eb"/>
<rect x="191.69" y="629.41" width="6.34" height="6.31" fill="#fff5eb"/>
<rect x="197.98" y="629.41" width="6.34" height="6.31" fill="#ff9933"/>
<rect x="204.28" y="629.41" width="6.34" height="6.31" fill="#fff5eb"/>
<rect x="210.57" y="629.41" width="6.34" height="6.31" fill="#ffdebd"/>
<rect x="216.87" y="629.41" width="6.34" height="6.31" fill="#ffdebd"/>
<rect x="223.16" y="629.41" width="6.34" height="6.31" fill="#fff5eb"/>
<rect x="229.46" y="629.41" width="6.34" height="6.31" fill="#ffc892"/>
<rect x="235.75" y="629.41" width="6.34" height="6.31" fill="#ffc892"/>
<rect x="242.05" y="629.41" width="6.34" height="6.31" fill="#fff5eb"/>
<rect x="248.34" y="629.41" width="6.34" height="6.31" fill="#fff5eb"/>
<rect x="254.63" y="629.41" width="6.34" height="6.31" fill="#ffdebd"/>
<rect x="260.93" y="629.41" width="6.34" height="6.31" fill="#ffe9d3"/>
<rect x="267.22" y="629.41" width="6.34" height="6.31" fill="#fff5eb"/>
<rect x="273.52" y="629.41" width="6.34" height="6.31" fill="#fff5eb"/>
<rect x="279.81" y="629.41" width="6.34" height="6.31" fill="#fff5eb"/>
<rect x="286.11" y="629.41" width="6.34" height="6.31" fill="#fff5eb"/>
<rect x="292.40" y="629.41" width="6.34" height="6.31" fill="#fff5eb"/>
<rect x="298.70" y="629.41" width="6.34" height="6.31" fill="#fff5eb"/>
<rect x="46.90" y="635.67" width="6.34" height="6.31" fill="#ffdebd"/>
<rect x="53.20" y="635.67" width="6.34" height="6.31" fill="#fff5eb"/>
<rect x="59.49" y="635.67" width="6.34" height="6.31" fill="#ffdebd"/>
<rect x="65.78" y="635.67" width="6.34" height="6.31" fill="#ffc892"/>
<rect x="72.08" y="635.67" width="6.34" height="6.31" fill="#fffaf6"/>
<rect x="78.38" y="635.67" width="6.34" height="6.31" fill="#fffaf6"/>
<rect x="84.67" y="635.67" width="6.34" height="6.31" fill="#ffc892"/>
<rect x="90.97" y="635.67" width="6.34" height="6.31" fill="#fff5eb"/>
<rect x="97.26" y="635.67" width="6.34" height="6.31" fill="#ffdebd"/>
<rect x="103.56" y="635.67" width="6.34" height="6.31" fill="#fff5eb"/>
<rect x="109.85" y="635.67" width="6.34" height="6.31" fill="#fff5eb"/>
<rect x="116.15" y="635.67" width="6.34" height="6.31" fill="#ffdebd"/>
<rect x="122.44" y="635.67" width="6.34" height="6.31" fill="#ffa449"/>
<rect x="128.73" y="635.67" width="6.34" height="6.31" fill="#ffdebd"/>
<rect x="135.03" y="635.67" width="6.34" height="6.31" fill="#fff5eb"/>
<rect x="141.32" y="635.67" width="6.34" height="6.31" fill="#ffdebd"/>
<rect x="147.62" y="635.67" width="6.34" height="6.31" fill="#ffc892"/>
<rect x="153.91" y="635.67" width="6.34" height="6.31" fill="#ffc892"/>
<rect x="160.21" y="635.67" width="6.34" height="6.31" fill="#fffaf6"/>
<rect x="166.50" y="635.67" width="6.34" height="6.31" fill="#fff5eb"/>
<rect x="172.80" y="635.67" width="6.34" height="6.31" fill="#ffdebd"/>
<rect x="179.09" y="635.67" width="6.34" height="6.31" fill="#fff5eb"/>
<rect x="191.69" y="635.67" width="6.34" height="6.31" fill="#fff5eb"/>
<rect x="197.98" y="635.67" width="6.34" height="6.31" fill="#ffaf5f"/>
<rect x="204.28" y="635.67" width="6.34" height="6.31" fill="#fff5eb"/>
<rect x="210.57" y="635.67" width="6.34" height="6.31" fill="#fff5eb"/>
<rect x="216.87" y="635.67" width="6.34" height="6.31" fill="#ffdebd"/>
<rect x="223.16" y="635.67" width="6.34" height="6.31" fill="#fff5eb"/>
<rect x="229.46" y="635.67" width="6.34" height="6.31" fill="#ffe9d3"/>
<rect x="235.75" y="635.67" width="6.34" height="6.31" fill="#ffe9d3"/>
<rect x="242.05" y="635.67" width="6.34" height="6.31" fill="#fff5eb"/>
<rect x="248.34" y="635.67" width="6.34" height="6.31" fill="#fff5eb"/>
<rect x="254.63" y="635.67" width="6.34" height="6.31" fill="#fff5eb"/>
<rect x="260.93" y="635.67" width="6.34" height="6.31" fill="#fff5eb"/>
<rect x="267.22" y="635.67" width="6.34" height="6.31" fill="#ffdebd"/>
<rect x="273.52" y="635.67" width="6.34" height="6.31" fill="#fff5eb"/>
<rect x="279.81" y="635.67" width="6.34" height="6.31" fill="#fff5eb"/>
<rect x="286.11" y="635.67" width="6.34" height="6.31" fill="#fff5eb"/>
<rect x="292.40" y="635.67" width="6.34" height="6.31" fill="#fff5eb"/>
<rect x="298.70" y="635.67" width="6.34" height="6.31" fill="#fff5eb"/>
<rect x="46.90" y="641.94" width="6.34" height="6.31" fill="#fff5eb"/>
<rect x="53.20" y="641.94" width="6.34" height="6.31" fill="#ffdebd"/>
<rect x="59.49" y="641.94" width="6.34" height="6.31" fill="#ffdebd"/>
<rect x="65.78" y="641.94" width="6.34" height="6.31" fill="#ffaf5f"/>
<rect x="78.38" y="641.94" width="6.34" height="6.31" fill="#fff5eb"/>
<rect x="84.67" y="641.94" width="6.34" height="6.31" fill="#ffc892"/>
<rect x="90.97" y="641.94" width="6.34" height="6.31" fill="#fff5eb"/>
<rect x="97.26" y="641.94" width="6.34" height="6.31" fill="#fff5eb"/>
<rect x="103.56" y="641.94" width="6.34" height="6.31" fill="#fff5eb"/>
<rect x="109.85" y="641.94" width="6.34" height="6.31" fill="#fff5eb"/>
<rect x="116.15" y="641.94" width="6.34" height="6.31" fill="#ffe9d3"/>
<rect x="122.44" y="641.94" width="6.34" height="6.31" fill="#ffaf5f"/>
<rect x="128.73" y="641.94" width="6.34" height="6.31" fill="#ffdebd"/>
<rect x="141.32" y="641.94" width="6.34" height="6.31" fill="#ffdebd"/>
<rect x="147.62" y="641.94" width="6.34" height="6.31" fill="#fffaf6"/>
<rect x="153.91" y="641.94" width="6.34" height="6.31" fill="#ffdebd"/>
<rect x="166.50" y="641.94" width="6.34" height="6.31" fill="#fff5eb"/>
<rect x="172.80" y="641.94" width="6.34" height="6.31" fill="#ffdebd"/>
<rect x="179.09" y="641.94" width="6.34" height="6.31" fill="#fff5eb"/>
<rect x="185.39" y="641.94" width="6.34" height="6.31" fill="#fff5eb"/>
<rect x="191.69" y="641.94" width="6.34" height="6.31" fill="#fff5eb"/>
<rect x="197.98" y="641.94" width="6.34" height="6.31" fill="#ffaf5f"/>
<rect x="204.28" y="641.94" width="6.34" height="6.31" fill="#fff5eb"/>
<rect x="210.57" y="641.94" width="6.34" height="6.31" fill="#ffdebd"/>
<rect x="216.87" y="641.94" width="6.34" height="6.31" fill="#ffdebd"/>
<rect x="223.16" y="641.94" width="6.34" height="6.31" fill="#ffe9d3"/>
<rect x="229.46" y="641.94" width="6.34" height="6.31" fill="#ffc892"/>
<rect x="235.75" y="641.94" width="6.34" height="6.31" fill="#ffdebd"/>
<rect x="242.05" y="641.94" width="6.34" height="6.31" fill="#fff5eb"/>
<rect x="248.34" y="641.94" width="6.34" height="6.31" fill="#ffdebd"/>
<rect x="254.63" y="641.94" width="6.34" height="6.31" fill="#ffc892"/>
<rect x="260.93" y="641.94" width="6.34" height="6.31" fill="#fff5eb"/>
<rect x="267.22" y="641.94" width="6.34" height="6.31" fill="#ffdebd"/>
<rect x="273.52" y="641.94" width="6.34" height="6.31" fill="#ffdebd"/>
<rect x="279.81" y="641.94" width="6.34" height="6.31" fill="#ffdebd"/>
<rect x="286.11" y="641.94" width="6.34" height="6.31" fill="#fff5eb"/>
<rect x="292.40" y="641.94" width="6.34" height="6.31" fill="#fff5eb"/>
<rect x="298.70" y="641.94" width="6.34" height="6.31" fill="#fff5eb"/>
<rect x="46.90" y="648.20" width="6.34" height="6.31" fill="#fff5eb"/>
<rect x="53.20" y="648.20" width="6.34" height="6.31" fill="#ffdebd"/>
<rect x="59.49" y="648.20" width="6.34" height="6.31" fill="#ff9933"/>
<rect x="65.78" y="648.20" width="6.34" height="6.31" fill="#ff9933"/>
<rect x="72.08" y="648.20" width="6.34" height="6.31" fill="#ffc892"/>
<rect x="78.38" y="648.20" width="6.34" height="6.31" fill="#ffdebd"/>
<rect x="84.67" y="648.20" width="6.34" height="6.31" fill="#ffa449"/>
<rect x="90.97" y="648.20" width="6.34" height="6.31" fill="#fff5eb"/>
<rect x="97.26" y="648.20" width="6.34" height="6.31" fill="#fff5eb"/>
<rect x="103.56" y="648.20" width="6.34" height="6.31" fill="#ffdebd"/>
<rect x="109.85" y="648.20" width="6.34" height="6.31" fill="#fff5eb"/>
<rect x="116.15" y="648.20" width="6.34" height="6.31" fill="#ffc892"/>
<rect x="122.44" y="648.20" width="6.34" height="6.31" fill="#ff7c00"/>
<rect x="128.73" y="648.20" width="6.34" height="6.31" fill="#ffdebd"/>
<rect x="135.03" y="648.20" width="6.34" height="6.31" fill="#ffaf5f"/>
<rect x="141.32" y="648.20" width="6.34" height="6.31" fill="#ff6400"/>
<rect x="147.62" y="648.20" width="6.34" height="6.31" fill="#ffc892"/>
<rect x="153.91" y="648.20" width="6.34" height="6.31" fill="#ffdebd"/>
<rect x="160.21" y="648.20" width="6.34" height="6.31" fill="#ffc892"/>
<rect x="166.50" y="648.20" width="6.34" height="6.31" fill="#ffaf5f"/>
<rect x="172.80" y="648.20" width="6.34" height="6.31" fill="#ffaf5f"/>
<rect x="179.09" y="648.20" width="6.34" height="6.31" fill="#ffc892"/>
<rect x="185.39" y="648.20" width="6.34" height="6.31" fill="#ffc892"/>
<rect x="191.69" y="648.20" width="6.34" height="6.31" fill="#ffc892"/>
<rect x="197.98" y="648.20" width="6.34" height="6.31" fill="#ff7c00"/>
<rect x="204.28" y="648.20" width="6.34" height="6.31" fill="#fff5eb"/>
<rect x="210.57" y="648.20" width="6.34" height="6.31" fill="#ffc892"/>
<rect x="216.87" y="648.20" width="6.34" height="6.31" fill="#ffc892"/>
<rect x="223.16" y="648.20" width="6.34" height="6.31" fill="#fff5eb"/>
<rect x="229.46" y="648.20" width="6.34" height="6.31" fill="#ffdebd"/>
<rect x="235.75" y="648.20" width="6.34" height="6.31" fill="#ffdebd"/>
<rect x="242.05" y="648.20" width="6.34" height="6.31" fill="#fff5eb"/>
<rect x="248.34" y="648.20" width="6.34" height="6.31" fill="#fff5eb"/>
<rect x="254.63" y="648.20" width="6.34" height="6.31" fill="#fff5eb"/>
<rect x="260.93" y="648.20" width="6.34" height="6.31" fill="#fff5eb"/>
<rect x="267.22" y="648.20" width="6.34" height="6.31" fill="#fff5eb"/>
<rect x="273.52" y="648.20" width="6.34" height="6.31" fill="#fff5eb"/>
<rect x="279.81" y="648.20" width="6.34" height="6.31" fill="#fff5eb"/>
<rect x="286.11" y="648.20" width="6.34" height="6.31" fill="#fff5eb"/>
<rect x="292.40" y="648.20" width="6.34" height="6.31" fill="#fff5eb"/>
<rect x="298.70" y="648.20" width="6.34" height="6.31" fill="#fff5eb"/>
<rect x="46.90" y="654.46" width="6.34" height="6.31" fill="#fff5eb"/>
<rect x="53.20" y="654.46" width="6.34" height="6.31" fill="#fff5eb"/>
<rect x="59.49" y="654.46" width="6.34" height="6.31" fill="#ffc892"/>
<rect x="65.78" y="654.46" width="6.34" height="6.31" fill="#ffc892"/>
<rect x="72.08" y="654.46" width="6.34" height="6.31" fill="#fff5eb"/>
<rect x="78.38" y="654.46" width="6.34" height="6.31" fill="#fff5eb"/>
<rect x="84.67" y="654.46" width="6.34" height="6.31" fill="#ffdebd"/>
<rect x="90.97" y="654.46" width="6.34" height="6.31" fill="#fff5eb"/>
<rect x="97.26" y="654.46" width="6.34" height="6.31" fill="#fff5eb"/>
<rect x="103.56" y="654.46" width="6.34" height="6.31" fill="#fff5eb"/>
<rect x="109.85" y="654.46" width="6.34" height="6.31" fill="#fff5eb"/>
<rect x="116.15" y="654.46" width="6.34" height="6.31" fill="#fff5eb"/>
<rect x="122.44" y="654.46" width="6.34" height="6.31" fill="#fff5eb"/>
<rect x="128.73" y="654.46" width="6.34" height="6.31" fill="#fff5eb"/>
<rect x="135.03" y="654.46" width="6.34" height="6.31" fill="#fff5eb"/>
<rect x="141.32" y="654.46" width="6.34" height="6.31" fill="#fff5eb"/>
<rect x="147.62" y="654.46" width="6.34" height="6.31" fill="#fff5eb"/>
<rect x="153.91" y="654.46" width="6.34" height="6.31" fill="#ffdebd"/>
<rect x="160.21" y="654.46" width="6.34" height="6.31" fill="#fff5eb"/>
<rect x="166.50" y="654.46" width="6.34" height="6.31" fill="#ffdebd"/>
<rect x="172.80" y="654.46" width="6.34" height="6.31" fill="#fff5eb"/>
<rect x="179.09" y="654.46" width="6.34" height="6.31" fill="#ffdebd"/>
<rect x="185.39" y="654.46" width="6.34" height="6.31" fill="#ffdebd"/>
<rect x="191.69" y="654.46" width="6.34" height="6.31" fill="#ffdebd"/>
<rect x="197.98" y="654.46" width="6.34" height="6.31" fill="#ff9933"/>
<rect x="204.28" y="654.46" width="6.34" height="6.31" fill="#fff5eb"/>
<rect x="210.57" y="654.46" width="6.34" height="6.31" fill="#ffc892"/>
<rect x="216.87" y="654.46" width="6.34" height="6.31" fill="#ffc892"/>
<rect x="223.16" y="654.46" width="6.34" height="6.31" fill="#fff5eb"/>
<rect x="229.46" y="654.46" width="6.34" height="6.31" fill="#fff5eb"/>
<rect x="235.75" y="654.46" width="6.34" height="6.31" fill="#fff5eb"/>
<rect x="242.05" y="654.46" width="6.34" height="6.31" fill="#fff5eb"/>
<rect x="248.34" y="654.46" width="6.34" height="6.31" fill="#fff5eb"/>
<rect x="254.63" y="654.46" width="6.34" height="6.31" fill="#fff5eb"/>
<rect x="260.93" y="654.46" width="6.34" height="6.31" fill="#fff5eb"/>
<rect x="267.22" y="654.46" width="6.34" height="6.31" fill="#fff5eb"/>
<rect x="273.52" y="654.46" width="6.34" height="6.31" fill="#fff5eb"/>
<rect x="279.81" y="654.46" width="6.34" height="6.31" fill="#fff5eb"/>
<rect x="286.11" y="654.46" width="6.34" height="6.31" fill="#fff5eb"/>
<rect x="292.40" y="654.46" width="6.34" height="6.31" fill="#fff5eb"/>
<rect x="298.70" y="654.46" width="6.34" height="6.31" fill="#fff5eb"/>
<rect x="46.90" y="660.73" width="6.34" height="6.31" fill="#fff5eb"/>
<rect x="53.20" y="660.73" width="6.34" height="6.31" fill="#ffc892"/>
<rect x="59.49" y="660.73" width="6.34" height="6.31" fill="#ffaf5f"/>
<rect x="65.78" y="660.73" width="6.34" height="6.31" fill="#ff9933"/>
<rect x="72.08" y="660.73" width="6.34" height="6.31" fill="#ffc892"/>
<rect x="78.38" y="660.73" width="6.34" height="6.31" fill="#ffbc78"/>
<rect x="84.67" y="660.73" width="6.34" height="6.31" fill="#ff9933"/>
<rect x="90.97" y="660.73" width="6.34" height="6.31" fill="#fff5eb"/>
<rect x="97.26" y="660.73" width="6.34" height="6.31" fill="#ffc892"/>
<rect x="103.56" y="660.73" width="6.34" height="6.31" fill="#ffc892"/>
<rect x="109.85" y="660.73" width="6.34" height="6.31" fill="#ffc892"/>
<rect x="116.15" y="660.73" width="6.34" height="6.31" fill="#ffc892"/>
<rect x="122.44" y="660.73" width="6.34" height="6.31" fill="#ffaf5f"/>
<rect x="128.73" y="660.73" width="6.34" height="6.31" fill="#ffaf5f"/>
<rect x="135.03" y="660.73" width="6.34" height="6.31" fill="#ffaf5f"/>
<rect x="141.32" y="660.73" width="6.34" height="6.31" fill="#ffaf5f"/>
<rect x="147.62" y="660.73" width="6.34" height="6.31" fill="#ffaf5f"/>
<rect x="153.91" y="660.73" width="6.34" height="6.31" fill="#ff9933"/>
<rect x="160.21" y="660.73" width="6.34" height="6.31" fill="#ffa449"/>
<rect x="166.50" y="660.73" width="6.34" height="6.31" fill="#ff7c00"/>
<rect x="172.80" y="660.73" width="6.34" height="6.31" fill="#e83700"/>
<rect x="179.09" y="660.73" width="6.34" height="6.31" fill="#ffa449"/>
<rect x="185.39" y="660.73" width="6.34" height="6.31" fill="#ff9933"/>
<rect x="191.69" y="660.73" width="6.34" height="6.31" fill="#ff6400"/>
<rect x="197.98" y="660.73" width="6.34" height="6.31" fill="#0e0000"/>
<rect x="204.28" y="660.73" width="6.34" height="6.31" fill="#ffc892"/>
<rect x="210.57" y="660.73" width="6.34" height="6.31" fill="#ff7c00"/>
<rect x="216.87" y="660.73" width="6.34" height="6.31" fill="#ff7c00"/>
<rect x="223.16" y="660.73" width="6.34" height="6.31" fill="#ffc892"/>
<rect x="229.46" y="660.73" width="6.34" height="6.31" fill="#ff8c1a"/>
<rect x="235.75" y="660.73" width="6.34" height="6.31" fill="#ff9933"/>
<rect x="242.05" y="660.73" width="6.34" height="6.31" fill="#ffc892"/>
<rect x="248.34" y="660.73" width="6.34" height="6.31" fill="#ffd3a8"/>
<rect x="254.63" y="660.73" width="6.34" height="6.31" fill="#ffbc78"/>
<rect x="260.93" y="660.73" width="6.34" height="6.31" fill="#ffd3a8"/>
<rect x="267.22" y="660.73" width="6.34" height="6.31" fill="#ffdebd"/>
<rect x="273.52" y="660.73" width="6.34" height="6.31" fill="#ffdebd"/>
<rect x="279.81" y="660.73" width="6.34" height="6.31" fill="#ffd3a8"/>
<rect x="286.11" y="660.73" width="6.34" height="6.31" fill="#ffdebd"/>
<rect x="292.40" y="660.73" width="6.34" height="6.31" fill="#ffd3a8"/>
<rect x="298.70" y="660.73" width="6.34" height="6.31" fill="#fff5eb"/>
<rect x="46.90" y="666.99" width="6.34" height="6.31" fill="#fff5eb"/>
<rect x="53.20" y="666.99" width="6.34" height="6.31" fill="#ffdebd"/>
<rect x="59.49" y="666.99" width="6.34" height="6.31" fill="#ffdebd"/>
<rect x="65.78" y="666.99" width="6.34" height="6.31" fill="#ffdebd"/>
<rect x="72.08" y="666.99" width="6.34" height="6.31" fill="#fff5eb"/>
<rect x="78.38" y="666.99" width="6.34" height="6.31" fill="#ffe9d3"/>
<rect x="84.67" y="666.99" width="6.34" height="6.31" fill="#ffdebd"/>
<rect x="97.26" y="666.99" width="6.34" height="6.31" fill="#fff5eb"/>
<rect x="103.56" y="666.99" width="6.34" height="6.31" fill="#fff5eb"/>
<rect x="109.85" y="666.99" width="6.34" height="6.31" fill="#fff5eb"/>
<rect x="116.15" y="666.99" width="6.34" height="6.31" fill="#fff5eb"/>
<rect x="122.44" y="666.99" width="6.34" height="6.31" fill="#ffdebd"/>
<rect x="128.73" y="666.99" width="6.34" height="6.31" fill="#fff5eb"/>
<rect x="135.03" y="666.99" width="6.34" height="6.31" fill="#fff5eb"/>
<rect x="141.32" y="666.99" width="6.34" height="6.31" fill="#ffdebd"/>
<rect x="147.62" y="666.99" width="6.34" height="6.31" fill="#ffe9d3"/>
<rect x="153.91" y="666.99" width="6.34" height="6.31" fill="#fff5eb"/>
<rect x="160.21" y="666.99" width="6.34" height="6.31" fill="#ffdebd"/>
<rect x="166.50" y="666.99" width="6.34" height="6.31" fill="#ffdebd"/>
<rect x="172.80" y="666.99" width="6.34" height="6.31" fill="#ffc892"/>
<rect x="179.09" y="666.99" width="6.34" height="6.31" fill="#fff5eb"/>
<rect x="185.39" y="666.99" width="6.34" height="6.31" fill="#ffe9d3"/>
<rect x="191.69" y="666.99" width="6.34" height="6.31" fill="#ffc892"/>
<rect x="197.98" y="666.99" width="6.34" height="6.31" fill="#ff7c00"/>
<rect x="204.28" y="666.99" width="6.34" height="6.31" fill="#fffaf6"/>
<rect x="210.57" y="666.99" width="6.34" height="6.31" fill="#ffdebd"/>
<rect x="216.87" y="666.99" width="6.34" height="6.31" fill="#ffdebd"/>
<rect x="223.16" y="666.99" width="6.34" height="6.31" fill="#fff5eb"/>
<rect x="229.46" y="666.99" width="6.34" height="6.31" fill="#ffdebd"/>
<rect x="235.75" y="666.99" width="6.34" height="6.31" fill="#ffd3a8"/>
<rect x="242.05" y="666.99" width="6.34" height="6.31" fill="#fff5eb"/>
<rect x="248.34" y="666.99" width="6.34" height="6.31" fill="#ffe9d3"/>
<rect x="254.63" y="666.99" width="6.34" height="6.31" fill="#ffdebd"/>
<rect x="260.93" y="666.99" width="6.34" height="6.31" fill="#ffe9d3"/>
<rect x="267.22" y="666.99" width="6.34" height="6.31" fill="#fff5eb"/>
<rect x="273.52" y="666.99" width="6.34" height="6.31" fill="#fff5eb"/>
<rect x="279.81" y="666.99" width="6.34" height="6.31" fill="#fff5eb"/>
<rect x="286.11" y="666.99" width="6.34" height="6.31" fill="#fff5eb"/>
<rect x="292.40" y="666.99" width="6.34" height="6.31" fill="#fff5eb"/>
<rect x="298.70" y="666.99" width="6.34" height="6.31" fill="#fff5eb"/>
<rect x="46.90" y="673.25" width="6.34" height="6.31" fill="#fff5eb"/>
<rect x="53.20" y="673.25" width="6.34" height="6.31" fill="#ffdebd"/>
<rect x="59.49" y="673.25" width="6.34" height="6.31" fill="#ffdebd"/>
<rect x="65.78" y="673.25" width="6.34" height="6.31" fill="#ffdebd"/>
<rect x="72.08" y="673.25" width="6.34" height="6.31" fill="#ffdebd"/>
<rect x="78.38" y="673.25" width="6.34" height="6.31" fill="#ffdebd"/>
<rect x="84.67" y="673.25" width="6.34" height="6.31" fill="#ffdebd"/>
<rect x="90.97" y="673.25" width="6.34" height="6.31" fill="#fff5eb"/>
<rect x="97.26" y="673.25" width="6.34" height="6.31" fill="#fff5eb"/>
<rect x="103.56" y="673.25" width="6.34" height="6.31" fill="#fff5eb"/>
<rect x="109.85" y="673.25" width="6.34" height="6.31" fill="#fff5eb"/>
<rect x="116.15" y="673.25" width="6.34" height="6.31" fill="#fff5eb"/>
<rect x="122.44" y="673.25" width="6.34" height="6.31" fill="#fff5eb"/>
<rect x="128.73" y="673.25" width="6.34" height="6.31" fill="#fff5eb"/>
<rect x="135.03" y="673.25" width="6.34" height="6.31" fill="#fff5eb"/>
<rect x="141.32" y="673.25" width="6.34" height="6.31" fill="#fff5eb"/>
<rect x="147.62" y="673.25" width="6.34" height="6.31" fill="#fff5eb"/>
<rect x="153.91" y="673.25" width="6.34" height="6.31" fill="#fff5eb"/>
<rect x="160.21" y="673.25" width="6.34" height="6.31" fill="#fff5eb"/>
<rect x="166.50" y="673.25" width="6.34" height="6.31" fill="#ffe9d3"/>
<rect x="172.80" y="673.25" width="6.34" height="6.31" fill="#ffe9d3"/>
<rect x="179.09" y="673.25" width="6.34" height="6.31" fill="#ffe9d3"/>
<rect x="185.39" y="673.25" width="6.34" height="6.31" fill="#ffdebd"/>
<rect x="191.69" y="673.25" width="6.34" height="6.31" fill="#ffc892"/>
<rect x="197.98" y="673.25" width="6.34" height="6.31" fill="#ff7c00"/>
<rect x="204.28" y="673.25" width="6.34" height="6.31" fill="#fff5eb"/>
<rect x="210.57" y="673.25" width="6.34" height="6.31" fill="#ffdebd"/>
<rect x="216.87" y="673.25" width="6.34" height="6.31" fill="#ffdebd"/>
<rect x="223.16" y="673.25" width="6.34" height="6.31" fill="#fff5eb"/>
<rect x="229.46" y="673.25" width="6.34" height="6.31" fill="#ffe9d3"/>
<rect x="235.75" y="673.25" width="6.34" height="6.31" fill="#ffe9d3"/>
<rect x="242.05" y="673.25" width="6.34" height="6.31" fill="#fff5eb"/>
<rect x="248.34" y="673.25" width="6.34" height="6.31" fill="#ffe9d3"/>
<rect x="254.63" y="673.25" width="6.34" height="6.31" fill="#ffe9d3"/>
<rect x="260.93" y="673.25" width="6.34" height="6.31" fill="#ffe9d3"/>
<rect x="267.22" y="673.25" width="6.34" height="6.31" fill="#ffe9d3"/>
<rect x="273.52" y="673.25" width="6.34" height="6.31" fill="#ffe9d3"/>
<rect x="279.81" y="673.25" width="6.34" height="6.31" fill="#ffe9d3"/>
<rect x="286.11" y="673.25" width="6.34" height="6.31" fill="#fff5eb"/>
<rect x="292.40" y="673.25" width="6.34" height="6.31" fill="#fff5eb"/>
<rect x="298.70" y="673.25" width="6.34" height="6.31" fill="#fff5eb"/>
<rect x="46.90" y="679.51" width="6.34" height="6.31" fill="#ffdebd"/>
<rect x="53.20" y="679.51" width="6.34" height="6.31" fill="#ff9933"/>
<rect x="59.49" y="679.51" width="6.34" height="6.31" fill="#ff9933"/>
<rect x="65.78" y="679.51" width="6.34" height="6.31" fill="#e83700"/>
<rect x="72.08" y="679.51" width="6.34" height="6.31" fill="#ffa449"/>
<rect x="78.38" y="679.51" width="6.34" height="6.31" fill="#ffa449"/>
<rect x="84.67" y="679.51" width="6.34" height="6.31" fill="#e83700"/>
<rect x="90.97" y="679.51" width="6.34" height="6.31" fill="#ffdebd"/>
<rect x="97.26" y="679.51" width="6.34" height="6.31" fill="#ffaf5f"/>
<rect x="103.56" y="679.51" width="6.34" height="6.31" fill="#ffdebd"/>
<rect x="109.85" y="679.51" width="6.34" height="6.31" fill="#ffc892"/>
<rect x="116.15" y="679.51" width="6.34" height="6.31" fill="#ffc892"/>
<rect x="122.44" y="679.51" width="6.34" height="6.31" fill="#ff8c1a"/>
<rect x="128.73" y="679.51" width="6.34" height="6.31" fill="#ff7c00"/>
<rect x="135.03" y="679.51" width="6.34" height="6.31" fill="#ffa449"/>
<rect x="141.32" y="679.51" width="6.34" height="6.31" fill="#ff9933"/>
<rect x="147.62" y="679.51" width="6.34" height="6.31" fill="#ff6400"/>
<rect x="153.91" y="679.51" width="6.34" height="6.31" fill="#ff6400"/>
<rect x="160.21" y="679.51" width="6.34" height="6.31" fill="#ffa449"/>
<rect x="166.50" y="679.51" width="6.34" height="6.31" fill="#e83700"/>
<rect x="172.80" y="679.51" width="6.34" height="6.31" fill="#b20000"/>
<rect x="179.09" y="679.51" width="6.34" height="6.31" fill="#ff6400"/>
<rect x="185.39" y="679.51" width="6.34" height="6.31" fill="#ffa449"/>
<rect x="191.69" y="679.51" width="6.34" height="6.31" fill="#e83700"/>
<rect x="197.98" y="679.51" width="6.34" height="6.31" fill="#660000"/>
<rect x="204.28" y="679.51" width="6.34" height="6.31" fill="#ffc892"/>
<rect x="210.57" y="679.51" width="6.34" height="6.31" fill="#ff7c00"/>
<rect x="216.87" y="679.51" width="6.34" height="6.31" fill="#ff7c00"/>
<rect x="223.16" y="679.51" width="6.34" height="6.31" fill="#ffbc78"/>
<rect x="229.46" y="679.51" width="6.34" height="6.31" fill="#ff6400"/>
<rect x="235.75" y="679.51" width="6.34" height="6.31" fill="#ffaf5f"/>
<rect x="242.05" y="679.51" width="6.34" height="6.31" fill="#ffc892"/>
<rect x="248.34" y="679.51" width="6.34" height="6.31" fill="#ffbc78"/>
<rect x="254.63" y="679.51" width="6.34" height="6.31" fill="#ffaf5f"/>
<rect x="260.93" y="679.51" width="6.34" height="6.31" fill="#ffbc78"/>
<rect x="267.22" y="679.51" width="6.34" height="6.31" fill="#ffc892"/>
<rect x="273.52" y="679.51" width="6.34" height="6.31" fill="#ffc892"/>
<rect x="279.81" y="679.51" width="6.34" height="6.31" fill="#ffaf5f"/>
<rect x="286.11" y="679.51" width="6.34" height="6.31" fill="#ffc892"/>
<rect x="292.40" y="679.51" width="6.34" height="6.31" fill="#ffc892"/>
<rect x="298.70" y="679.51" width="6.34" height="6.31" fill="#ffe9d3"/>
<rect x="46.90" y="685.77" width="6.34" height="6.31" fill="#ffdebd"/>
<rect x="53.20" y="685.77" width="6.34" height="6.31" fill="#ffa449"/>
<rect x="59.49" y="685.77" width="6.34" height="6.31" fill="#ff8c1a"/>
<rect x="65.78" y="685.77" width="6.34" height="6.31" fill="#ffaf5f"/>
<rect x="72.08" y="685.77" width="6.34" height="6.31" fill="#fff5eb"/>
<rect x="78.38" y="685.77" width="6.34" height="6.31" fill="#fff5eb"/>
<rect x="84.67" y="685.77" width="6.34" height="6.31" fill="#ffdebd"/>
<rect x="90.97" y="685.77" width="6.34" height="6.31" fill="#ffe9d3"/>
<rect x="97.26" y="685.77" width="6.34" height="6.31" fill="#ffe9d3"/>
<rect x="103.56" y="685.77" width="6.34" height="6.31" fill="#fff5eb"/>
<rect x="109.85" y="685.77" width="6.34" height="6.31" fill="#fff5eb"/>
<rect x="116.15" y="685.77" width="6.34" height="6.31" fill="#fff5eb"/>
<rect x="122.44" y="685.77" width="6.34" height="6.31" fill="#ffdebd"/>
<rect x="128.73" y="685.77" width="6.34" height="6.31" fill="#fff5eb"/>
<rect x="135.03" y="685.77" width="6.34" height="6.31" fill="#ffe9d3"/>
<rect x="141.32" y="685.77" width="6.34" height="6.31" fill="#ffdebd"/>
<rect x="147.62" y="685.77" width="6.34" height="6.31" fill="#fff5eb"/>
<rect x="153.91" y="685.77" width="6.34" height="6.31" fill="#ffd3a8"/>
<rect x="160.21" y="685.77" width="6.34" height="6.31" fill="#ffdebd"/>
<rect x="166.50" y="685.77" width="6.34" height="6.31" fill="#ffc892"/>
<rect x="172.80" y="685.77" width="6.34" height="6.31" fill="#ffdebd"/>
<rect x="179.09" y="685.77" width="6.34" height="6.31" fill="#ffbc78"/>
<rect x="185.39" y="685.77" width="6.34" height="6.31" fill="#ffbc78"/>
<rect x="191.69" y="685.77" width="6.34" height="6.31" fill="#ffbc78"/>
<rect x="197.98" y="685.77" width="6.34" height="6.31" fill="#ff6400"/>
<rect x="204.28" y="685.77" width="6.34" height="6.31" fill="#ffe9d3"/>
<rect x="210.57" y="685.77" width="6.34" height="6.31" fill="#ffbc78"/>
<rect x="216.87" y="685.77" width="6.34" height="6.31" fill="#ffbc78"/>
<rect x="223.16" y="685.77" width="6.34" height="6.31" fill="#ffc892"/>
<rect x="229.46" y="685.77" width="6.34" height="6.31" fill="#ffbc78"/>
<rect x="235.75" y="685.77" width="6.34" height="6.31" fill="#ffc892"/>
<rect x="242.05" y="685.77" width="6.34" height="6.31" fill="#ffdebd"/>
<rect x="248.34" y="685.77" width="6.34" height="6.31" fill="#ffc892"/>
<rect x="254.63" y="685.77" width="6.34" height="6.31" fill="#ffaf5f"/>
<rect x="260.93" y="685.77" width="6.34" height="6.31" fill="#ffbc78"/>
<rect x="267.22" y="685.77" width="6.34" height="6.31" fill="#ffc892"/>
<rect x="273.52" y="685.77" width="6.34" height="6.31" fill="#ffbc78"/>
<rect x="279.81" y="685.77" width="6.34" height="6.31" fill="#ffc892"/>
<rect x="286.11" y="685.77" width="6.34" height="6.31" fill="#ffd3a8"/>
<rect x="292.40" y="685.77" width="6.34" height="6.31" fill="#ffc892"/>
<rect x="298.70" y="685.77" width="6.34" height="6.31" fill="#ffd3a8"/>
<rect x="46.90" y="692.04" width="6.34" height="6.31" fill="#fff5eb"/>
<rect x="53.20" y="692.04" width="6.34" height="6.31" fill="#ffa449"/>
<rect x="59.49" y="692.04" width="6.34" height="6.31" fill="#ffc892"/>
<rect x="65.78" y="692.04" width="6.34" height="6.31" fill="#ff8c1a"/>
<rect x="72.08" y="692.04" width="6.34" height="6.31" fill="#fff5eb"/>
<rect x="78.38" y="692.04" width="6.34" height="6.31" fill="#fff5eb"/>
<rect x="84.67" y="692.04" width="6.34" height="6.31" fill="#ffc892"/>
<rect x="90.97" y="692.04" width="6.34" height="6.31" fill="#fff5eb"/>
<rect x="97.26" y="692.04" width="6.34" height="6.31" fill="#ffdebd"/>
<rect x="103.56" y="692.04" width="6.34" height="6.31" fill="#ffdebd"/>
<rect x="109.85" y="692.04" width="6.34" height="6.31" fill="#ffc892"/>
<rect x="116.15" y="692.04" width="6.34" height="6.31" fill="#ffdebd"/>
<rect x="122.44" y="692.04" width="6.34" height="6.31" fill="#ffc892"/>
<rect x="128.73" y="692.04" width="6.34" height="6.31" fill="#ffc892"/>
<rect x="135.03" y="692.04" width="6.34" height="6.31" fill="#ffdebd"/>
<rect x="141.32" y="692.04" width="6.34" height="6.31" fill="#ffd3a8"/>
<rect x="147.62" y="692.04" width="6.34" height="6.31" fill="#ffaf5f"/>
<rect x="153.91" y="692.04" width="6.34" height="6.31" fill="#ff6400"/>
<rect x="160.21" y="692.04" width="6.34" height="6.31" fill="#ffc892"/>
<rect x="166.50" y="692.04" width="6.34" height="6.31" fill="#ff6400"/>
<rect x="172.80" y="692.04" width="6.34" height="6.31" fill="#e83700"/>
<rect x="179.09" y="692.04" width="6.34" height="6.31" fill="#ff7c00"/>
<rect x="185.39" y="692.04" width="6.34" height="6.31" fill="#ffa449"/>
<rect x="191.69" y="692.04" width="6.34" height="6.31" fill="#ff6400"/>
<rect x="197.98" y="692.04" width="6.34" height="6.31" fill="#8f0000"/>
<rect x="204.28" y="692.04" width="6.34" height="6.31" fill="#ffc892"/>
<rect x="210.57" y="692.04" width="6.34" height="6.31" fill="#ffa449"/>
<rect x="216.87" y="692.04" width="6.34" height="6.31" fill="#ffa449"/>
<rect x="223.16" y="692.04" width="6.34" height="6.31" fill="#ffc892"/>
<rect x="229.46" y="692.04" width="6.34" height="6.31" fill="#ff9933"/>
<rect x="235.75" y="692.04" width="6.34" height="6.31" fill="#ffc892"/>
<rect x="242.05" y="692.04" width="6.34" height="6.31" fill="#ffdebd"/>
<rect x="248.34" y="692.04" width="6.34" height="6.31" fill="#ffc892"/>
<rect x="254.63" y="692.04" width="6.34" height="6.31" fill="#ff9933"/>
<rect x="260.93" y="692.04" width="6.34" height="6.31" fill="#ffc892"/>
<rect x="267.22" y="692.04" width="6.34" height="6.31" fill="#ffc892"/>
<rect x="273.52" y="692.04" width="6.34" height="6.31" fill="#ffc892"/>
<rect x="279.81" y="692.04" width="6.34" height="6.31" fill="#ffd3a8"/>
<rect x="286.11" y="692.04" width="6.34" height="6.31" fill="#ffdebd"/>
<rect x="292.40" y="692.04" width="6.34" height="6.31" fill="#ffd3a8"/>
<rect x="298.70" y="692.04" width="6.34" height="6.31" fill="#ffbc78"/>
<rect x="46.90" y="698.30" width="6.34" height="6.31" fill="#fff5eb"/>
<rect x="53.20" y="698.30" width="6.34" height="6.31" fill="#fff5eb"/>
<rect x="59.49" y="698.30" width="6.34" height="6.31" fill="#fff5eb"/>
<rect x="65.78" y="698.30" width="6.34" height="6.31" fill="#fff5eb"/>
<rect x="72.08" y="698.30" width="6.34" height="6.31" fill="#fff5eb"/>
<rect x="78.38" y="698.30" width="6.34" height="6.31" fill="#fff5eb"/>
<rect x="84.67" y="698.30" width="6.34" height="6.31" fill="#fff5eb"/>
<rect x="90.97" y="698.30" width="6.34" height="6.31" fill="#fff5eb"/>
<rect x="97.26" y="698.30" width="6.34" height="6.31" fill="#fff5eb"/>
<rect x="103.56" y="698.30" width="6.34" height="6.31" fill="#fff5eb"/>
<rect x="109.85" y="698.30" width="6.34" height="6.31" fill="#fff5eb"/>
<rect x="116.15" y="698.30" width="6.34" height="6.31" fill="#fff5eb"/>
<rect x="122.44" y="698.30" width="6.34" height="6.31" fill="#fff5eb"/>
<rect x="128.73" y="698.30" width="6.34" height="6.31" fill="#fff5eb"/>
<rect x="135.03" y="698.30" width="6.34" height="6.31" fill="#fff5eb"/>
<rect x="153.91" y="698.30" width="6.34" height="6.31" fill="#ffdebd"/>
<rect x="160.21" y="698.30" width="6.34" height="6.31" fill="#fff5eb"/>
<rect x="166.50" y="698.30" width="6.34" height="6.31" fill="#ffdebd"/>
<rect x="172.80" y="698.30" width="6.34" height="6.31" fill="#fff5eb"/>
<rect x="179.09" y="698.30" width="6.34" height="6.31" fill="#ffdebd"/>
<rect x="185.39" y="698.30" width="6.34" height="6.31" fill="#ffc892"/>
<rect x="191.69" y="698.30" width="6.34" height="6.31" fill="#ffbc78"/>
<rect x="197.98" y="698.30" width="6.34" height="6.31" fill="#ffa449"/>
<rect x="204.28" y="698.30" width="6.34" height="6.31" fill="#ffdebd"/>
<rect x="210.57" y="698.30" width="6.34" height="6.31" fill="#ffdebd"/>
<rect x="216.87" y="698.30" width="6.34" height="6.31" fill="#ffd3a8"/>
<rect x="223.16" y="698.30" width="6.34" height="6.31" fill="#fff5eb"/>
<rect x="229.46" y="698.30" width="6.34" height="6.31" fill="#ffdebd"/>
<rect x="235.75" y="698.30" width="6.34" height="6.31" fill="#fff5eb"/>
<rect x="242.05" y="698.30" width="6.34" height="6.31" fill="#fff5eb"/>
<rect x="248.34" y="698.30" width="6.34" height="6.31" fill="#ffd3a8"/>
<rect x="254.63" y="698.30" width="6.34" height="6.31" fill="#ffbc78"/>
<rect x="260.93" y="698.30" width="6.34" height="6.31" fill="#ffe9d3"/>
<rect x="267.22" y="698.30" width="6.34" height="6.31" fill="#ffdebd"/>
<rect x="273.52" y="698.30" width="6.34" height="6.31" fill="#ffc892"/>
<rect x="279.81" y="698.30" width="6.34" height="6.31" fill="#ffdebd"/>
<rect x="286.11" y="698.30" width="6.34" height="6.31" fill="#ffdebd"/>
<rect x="292.40" y="698.30" width="6.34" height="6.31" fill="#ffdebd"/>
<rect x="298.70" y="698.30" width="6.34" height="6.31" fill="#ff9933"/>
<line x1="46.90" y1="704.56" x2="304.99" y2="447.80" stroke="#2a2a2a" stroke-width="1.15" stroke-dasharray="3.0 2.0"/>
<rect x="103.56" y="504.46" width="144.78" height="144.34" fill="none" stroke="#1ea6de" stroke-width="1.3"/>
<rect x="47.30" y="447.60" width="257.69" height="256.76" fill="none" stroke="#111" stroke-width="1.2"/>
<text x="50.05" y="444.50" font-size="8.9" text-anchor="middle" fill="#222">G</text>
<text x="56.34" y="444.50" font-size="8.9" text-anchor="middle" fill="#222">M</text>
<text x="62.64" y="444.50" font-size="8.9" text-anchor="middle" fill="#222">N</text>
<text x="68.93" y="444.50" font-size="8.9" text-anchor="middle" font-weight="bold" fill="#222">F</text>
<text x="75.23" y="444.50" font-size="8.9" text-anchor="middle" fill="#222">G</text>
<text x="81.52" y="444.50" font-size="8.9" text-anchor="middle" fill="#222">A</text>
<text x="87.82" y="444.50" font-size="8.9" text-anchor="middle" font-weight="bold" fill="#222">F</text>
<text x="94.11" y="444.50" font-size="8.9" text-anchor="middle" fill="#222">S</text>
<text x="100.41" y="444.50" font-size="8.9" text-anchor="middle" fill="#222">I</text>
<text x="106.70" y="444.50" font-size="8.9" text-anchor="middle" fill="#222">N</text>
<text x="113.00" y="444.50" font-size="8.9" text-anchor="middle" fill="#222">P</text>
<text x="119.29" y="444.50" font-size="8.9" text-anchor="middle" fill="#222">A</text>
<text x="125.59" y="444.50" font-size="8.9" text-anchor="middle" fill="#222">M</text>
<text x="131.88" y="444.50" font-size="8.9" text-anchor="middle" fill="#222">M</text>
<text x="138.18" y="444.50" font-size="8.9" text-anchor="middle" fill="#222">A</text>
<text x="144.47" y="444.50" font-size="8.9" text-anchor="middle" fill="#222">A</text>
<text x="150.77" y="444.50" font-size="8.9" text-anchor="middle" fill="#222">A</text>
<text x="157.06" y="444.50" font-size="8.9" text-anchor="middle" fill="#222">Q</text>
<text x="163.36" y="444.50" font-size="8.9" text-anchor="middle" fill="#222">A</text>
<text x="169.65" y="444.50" font-size="8.9" text-anchor="middle" fill="#222">A</text>
<text x="175.95" y="444.50" font-size="8.9" text-anchor="middle" font-weight="bold" fill="#222">L</text>
<text x="182.24" y="444.50" font-size="8.9" text-anchor="middle" fill="#222">Q</text>
<text x="188.54" y="444.50" font-size="8.9" text-anchor="middle" fill="#222">S</text>
<text x="194.83" y="444.50" font-size="8.9" text-anchor="middle" fill="#222">S</text>
<text x="201.13" y="444.50" font-size="8.9" text-anchor="middle" font-weight="bold" fill="#222">W</text>
<text x="207.42" y="444.50" font-size="8.9" text-anchor="middle" fill="#222">G</text>
<text x="213.72" y="444.50" font-size="8.9" text-anchor="middle" fill="#222">M</text>
<text x="220.01" y="444.50" font-size="8.9" text-anchor="middle" fill="#222">M</text>
<text x="226.31" y="444.50" font-size="8.9" text-anchor="middle" fill="#222">G</text>
<text x="232.60" y="444.50" font-size="8.9" text-anchor="middle" fill="#222">M</text>
<text x="238.90" y="444.50" font-size="8.9" text-anchor="middle" fill="#222">L</text>
<text x="245.19" y="444.50" font-size="8.9" text-anchor="middle" fill="#222">A</text>
<text x="251.49" y="444.50" font-size="8.9" text-anchor="middle" fill="#222">S</text>
<text x="257.78" y="444.50" font-size="8.9" text-anchor="middle" fill="#222">Q</text>
<text x="264.08" y="444.50" font-size="8.9" text-anchor="middle" fill="#222">Q</text>
<text x="270.37" y="444.50" font-size="8.9" text-anchor="middle" fill="#222">N</text>
<text x="276.67" y="444.50" font-size="8.9" text-anchor="middle" fill="#222">Q</text>
<text x="282.96" y="444.50" font-size="8.9" text-anchor="middle" fill="#222">S</text>
<text x="289.26" y="444.50" font-size="8.9" text-anchor="middle" fill="#222">G</text>
<text x="295.55" y="444.50" font-size="8.9" text-anchor="middle" fill="#222">P</text>
<text x="301.85" y="444.50" font-size="8.9" text-anchor="middle" fill="#222">S</text>
<line x1="37.40" y1="701.43" x2="47.30" y2="701.43" stroke="#111" stroke-width="1.2"/>
<text x="35.30" y="701.43" font-size="15.5" text-anchor="middle" fill="#000" transform="rotate(-90 35.3 701.43125)">310</text>
<line x1="42.10" y1="670.12" x2="47.30" y2="670.12" stroke="#111" stroke-width="1.2"/>
<line x1="37.40" y1="638.81" x2="47.30" y2="638.81" stroke="#111" stroke-width="1.2"/>
<text x="35.30" y="638.81" font-size="15.5" text-anchor="middle" fill="#000" transform="rotate(-90 35.3 638.80625)">320</text>
<line x1="42.10" y1="607.49" x2="47.30" y2="607.49" stroke="#111" stroke-width="1.2"/>
<line x1="37.40" y1="576.18" x2="47.30" y2="576.18" stroke="#111" stroke-width="1.2"/>
<text x="35.30" y="576.18" font-size="15.5" text-anchor="middle" fill="#000" transform="rotate(-90 35.3 576.18125)">330</text>
<line x1="42.10" y1="544.87" x2="47.30" y2="544.87" stroke="#111" stroke-width="1.2"/>
<line x1="37.40" y1="513.56" x2="47.30" y2="513.56" stroke="#111" stroke-width="1.2"/>
<text x="35.30" y="513.56" font-size="15.5" text-anchor="middle" fill="#000" transform="rotate(-90 35.3 513.55625)">340</text>
<line x1="42.10" y1="482.24" x2="47.30" y2="482.24" stroke="#111" stroke-width="1.2"/>
<line x1="37.40" y1="450.93" x2="47.30" y2="450.93" stroke="#111" stroke-width="1.2"/>
<text x="35.30" y="450.93" font-size="15.5" text-anchor="middle" fill="#000" transform="rotate(-90 35.3 450.93125000000003)">350</text>
<line x1="50.05" y1="704.56" x2="50.05" y2="709.76" stroke="#111" stroke-width="1.2"/>
<text x="50.05" y="729.80" font-size="15.5" text-anchor="middle" fill="#000">310</text>
<line x1="81.52" y1="704.56" x2="81.52" y2="708.16" stroke="#111" stroke-width="1.2"/>
<line x1="113.00" y1="704.56" x2="113.00" y2="709.76" stroke="#111" stroke-width="1.2"/>
<text x="113.00" y="729.80" font-size="15.5" text-anchor="middle" fill="#000">320</text>
<line x1="144.47" y1="704.56" x2="144.47" y2="708.16" stroke="#111" stroke-width="1.2"/>
<line x1="175.95" y1="704.56" x2="175.95" y2="709.76" stroke="#111" stroke-width="1.2"/>
<text x="175.95" y="729.80" font-size="15.5" text-anchor="middle" fill="#000">330</text>
<line x1="207.42" y1="704.56" x2="207.42" y2="708.16" stroke="#111" stroke-width="1.2"/>
<line x1="238.90" y1="704.56" x2="238.90" y2="709.76" stroke="#111" stroke-width="1.2"/>
<text x="238.90" y="729.80" font-size="15.5" text-anchor="middle" fill="#000">340</text>
<line x1="270.37" y1="704.56" x2="270.37" y2="708.16" stroke="#111" stroke-width="1.2"/>
<line x1="301.85" y1="704.56" x2="301.85" y2="709.76" stroke="#111" stroke-width="1.2"/>
<text x="301.85" y="729.80" font-size="15.5" text-anchor="middle" fill="#000">350</text>
<text x="181.80" y="747.30" font-size="19.3" text-anchor="middle" fill="#000">Residue index</text>
<text x="18.90" y="572.60" font-size="19.3" text-anchor="middle" fill="#000" transform="rotate(-90 18.9 572.6)">Residue index</text>
<defs><linearGradient id="cbar" x1="0" y1="1" x2="0" y2="0"><stop offset="0.000" stop-color="#ffffff"/><stop offset="0.050" stop-color="#ffe5cc"/><stop offset="0.100" stop-color="#ffcc99"/><stop offset="0.150" stop-color="#ffb266"/><stop offset="0.200" stop-color="#ff9933"/><stop offset="0.250" stop-color="#ff8000"/><stop offset="0.300" stop-color="#ff6600"/><stop offset="0.350" stop-color="#f94d00"/><stop offset="0.400" stop-color="#e63300"/><stop offset="0.450" stop-color="#d21a00"/><stop offset="0.500" stop-color="#bf0000"/><stop offset="0.550" stop-color="#ac0000"/><stop offset="0.600" stop-color="#990000"/><stop offset="0.650" stop-color="#860000"/><stop offset="0.700" stop-color="#730000"/><stop offset="0.750" stop-color="#600000"/><stop offset="0.800" stop-color="#4d0000"/><stop offset="0.850" stop-color="#390000"/><stop offset="0.900" stop-color="#260000"/><stop offset="0.950" stop-color="#130000"/><stop offset="1.000" stop-color="#000000"/></linearGradient></defs>
<rect x="308.50" y="447.60" width="10.20" height="256.90" fill="url(#cbar)" stroke="#111" stroke-width="1.0"/>
<line x1="318.70" y1="703.80" x2="326.40" y2="703.80" stroke="#111" stroke-width="1.2"/>
<text x="327.30" y="709.20" font-size="15.2" fill="#000">0.0</text>
<line x1="318.70" y1="658.00" x2="326.40" y2="658.00" stroke="#111" stroke-width="1.2"/>
<text x="327.30" y="663.40" font-size="15.2" fill="#000">0.5</text>
<line x1="318.70" y1="612.20" x2="326.40" y2="612.20" stroke="#111" stroke-width="1.2"/>
<text x="327.30" y="617.60" font-size="15.2" fill="#000">1.0</text>
<line x1="318.70" y1="566.40" x2="326.40" y2="566.40" stroke="#111" stroke-width="1.2"/>
<text x="327.30" y="571.80" font-size="15.2" fill="#000">1.5</text>
<line x1="318.70" y1="520.60" x2="326.40" y2="520.60" stroke="#111" stroke-width="1.2"/>
<text x="327.30" y="526.00" font-size="15.2" fill="#000">2.0</text>
<line x1="318.70" y1="474.80" x2="326.40" y2="474.80" stroke="#111" stroke-width="1.2"/>
<text x="327.30" y="480.20" font-size="15.2" fill="#000">2.5</text>
<text x="359.4" y="563.6" font-size="17" font-style="italic" transform="rotate(90 359.4 563.6)">N<tspan font-style="normal" font-size="11.2" dy="4.6" dx="0.3">contact</tspan></text>
<text x="0.50" y="766.00" font-size="24.5" font-weight="bold" fill="#000">E</text>
<path d="M11.7,778.4 C13.4,779.3 18.6,782.9 22.0,784.0 C25.4,785.1 29.5,786.0 32.0,785.0 C34.5,784.0 36.2,779.2 37.0,778.0" fill="none" stroke="#6a8cc6" stroke-width="2.6" stroke-linecap="round" stroke-linejoin="round"/>
<path d="M11.7,778.4 C13.4,779.3 18.6,782.9 22.0,784.0 C25.4,785.1 29.5,786.0 32.0,785.0 C34.5,784.0 36.2,779.2 37.0,778.0" fill="none" stroke="#a3c4f2" stroke-width="1.8" stroke-linecap="round" stroke-linejoin="round"/>
<path d="M32.0,784.2 L32.8,783.9 L33.7,783.3 L34.8,782.3 L35.9,781.0 L37.1,779.4 L38.4,777.7 L39.7,775.9 L41.0,774.0 L42.3,772.3 L43.5,770.7 L44.6,769.4 L45.7,768.4 L46.6,767.8 L47.4,767.5 L50.5,767.4 L49.6,767.6 L48.7,768.3 L47.7,769.3 L46.5,770.6 L45.3,772.2 L44.0,773.9 L42.7,775.7 L41.4,777.6 L40.2,779.3 L39.0,780.9 L37.8,782.2 L36.8,783.2 L35.8,783.8 L35.0,784.0 Z" fill="#6a8cc6" stroke="#6a8cc6" stroke-width="0.6" stroke-linejoin="round"/>
<path d="M52.8,783.3 L53.6,783.1 L54.5,782.5 L55.6,781.5 L56.7,780.2 L57.9,778.6 L59.2,776.9 L60.5,775.0 L61.8,773.2 L63.1,771.4 L64.3,769.9 L65.4,768.6 L66.5,767.6 L67.4,766.9 L68.2,766.7 L71.3,766.6 L70.5,766.8 L69.5,767.4 L68.5,768.4 L67.4,769.8 L66.2,771.3 L64.9,773.1 L63.6,774.9 L62.3,776.7 L61.0,778.5 L59.8,780.0 L58.6,781.4 L57.6,782.3 L56.7,783.0 L55.9,783.2 Z" fill="#6a8cc6" stroke="#6a8cc6" stroke-width="0.6" stroke-linejoin="round"/>
<path d="M73.6,782.5 L74.3,782.3 L75.0,781.9 L75.8,781.3 L76.6,780.4 L77.6,779.3 L78.5,778.1 L79.5,776.7 L80.6,775.3 L81.6,773.8 L82.6,772.4 L83.7,771.0 L84.7,769.7 L85.6,768.5 L86.5,767.5 L89.6,767.4 L88.7,768.4 L87.7,769.5 L86.7,770.8 L85.7,772.2 L84.7,773.7 L83.6,775.2 L82.6,776.6 L81.6,778.0 L80.6,779.2 L79.7,780.3 L78.8,781.2 L78.1,781.8 L77.3,782.2 L76.7,782.4 Z" fill="#6a8cc6" stroke="#6a8cc6" stroke-width="0.6" stroke-linejoin="round"/>
<path d="M29.1,784.3 L29.1,784.3 L29.1,784.3 L29.1,784.3 L29.1,784.3 L29.1,784.3 L29.1,784.3 L29.1,784.3 L29.1,784.3 L29.1,784.3 L29.1,784.3 L29.1,784.3 L29.1,784.3 L29.1,784.3 L29.1,784.3 L37.9,783.9 L37.9,783.9 L37.9,783.9 L37.9,783.9 L37.9,783.9 L37.9,783.9 L37.9,783.9 L37.9,783.9 L37.9,783.9 L37.9,783.9 L37.9,783.9 L37.9,783.9 L37.9,783.9 L37.9,783.9 L37.9,783.9 Z" fill="#a3c4f2" stroke="#6a8cc6" stroke-width="0.7" stroke-linejoin="round"/>
<path d="M44.5,767.7 L45.2,767.8 L45.8,768.4 L46.2,769.3 L46.6,770.6 L46.9,772.1 L47.1,773.8 L47.3,775.5 L47.4,777.3 L47.7,779.0 L47.9,780.5 L48.3,781.8 L48.7,782.7 L49.3,783.3 L50.0,783.4 L58.7,783.1 L58.0,782.9 L57.5,782.4 L57.0,781.4 L56.7,780.2 L56.4,778.7 L56.2,777.0 L56.0,775.2 L55.8,773.4 L55.6,771.7 L55.3,770.2 L55.0,769.0 L54.5,768.0 L54.0,767.5 L53.3,767.3 Z" fill="#a3c4f2" stroke="#6a8cc6" stroke-width="0.7" stroke-linejoin="round"/>
<path d="M65.4,766.8 L66.1,767.0 L66.6,767.6 L67.1,768.5 L67.4,769.8 L67.7,771.3 L67.9,772.9 L68.1,774.7 L68.3,776.5 L68.5,778.2 L68.8,779.7 L69.1,780.9 L69.6,781.9 L70.1,782.4 L70.8,782.6 L79.5,782.3 L78.9,782.1 L78.3,781.5 L77.9,780.6 L77.5,779.3 L77.2,777.8 L77.0,776.1 L76.8,774.4 L76.7,772.6 L76.4,770.9 L76.2,769.4 L75.8,768.1 L75.4,767.2 L74.8,766.6 L74.1,766.5 Z" fill="#a3c4f2" stroke="#6a8cc6" stroke-width="0.7" stroke-linejoin="round"/>
<path d="M86,772 C87.5,772.7 92.7,774.2 95.0,776.0 C97.3,777.8 98.5,780.3 100.0,783.0 C101.5,785.7 103.0,789.2 104.0,792.0 C105.0,794.8 105.7,798.7 106.0,800.0" fill="none" stroke="#6a8cc6" stroke-width="2.4000000000000004" stroke-linecap="round" stroke-linejoin="round"/>
<path d="M86,772 C87.5,772.7 92.7,774.2 95.0,776.0 C97.3,777.8 98.5,780.3 100.0,783.0 C101.5,785.7 103.0,789.2 104.0,792.0 C105.0,794.8 105.7,798.7 106.0,800.0" fill="none" stroke="#a3c4f2" stroke-width="1.6" stroke-linecap="round" stroke-linejoin="round"/>
<path d="M106,801 C107.0,800.3 109.7,798.5 112.0,797.0 C114.3,795.5 117.0,793.0 120.0,792.0 C123.0,791.0 128.3,791.2 130.0,791.0" fill="none" stroke="#6a8cc6" stroke-width="2.4000000000000004" stroke-linecap="round" stroke-linejoin="round"/>
<path d="M106,801 C107.0,800.3 109.7,798.5 112.0,797.0 C114.3,795.5 117.0,793.0 120.0,792.0 C123.0,791.0 128.3,791.2 130.0,791.0" fill="none" stroke="#a3c4f2" stroke-width="1.6" stroke-linecap="round" stroke-linejoin="round"/>
<path d="M128.7,808.9 L129.3,808.8 L130.1,808.3 L131.1,807.4 L132.2,806.2 L133.5,804.7 L134.8,803.1 L136.2,801.3 L137.5,799.5 L138.9,797.9 L140.1,796.4 L141.2,795.2 L142.2,794.3 L143.0,793.8 L143.7,793.7 L145.8,794.1 L145.2,794.2 L144.4,794.7 L143.4,795.6 L142.3,796.8 L141.0,798.3 L139.7,800.0 L138.3,801.8 L136.9,803.5 L135.6,805.2 L134.4,806.7 L133.2,807.9 L132.3,808.8 L131.4,809.3 L130.8,809.4 Z" fill="#6a8cc6" stroke="#6a8cc6" stroke-width="0.6" stroke-linejoin="round"/>
<path d="M143.3,812.0 L143.9,811.9 L144.7,811.4 L145.7,810.5 L146.8,809.3 L148.1,807.8 L149.4,806.1 L150.8,804.4 L152.2,802.6 L153.5,801.0 L154.7,799.5 L155.9,798.3 L156.8,797.4 L157.6,796.9 L158.3,796.8 L160.4,797.2 L159.8,797.3 L159.0,797.8 L158.0,798.7 L156.9,799.9 L155.6,801.4 L154.3,803.1 L152.9,804.8 L151.6,806.6 L150.2,808.2 L149.0,809.7 L147.8,810.9 L146.9,811.8 L146.1,812.3 L145.4,812.4 Z" fill="#6a8cc6" stroke="#6a8cc6" stroke-width="0.6" stroke-linejoin="round"/>
<path d="M157.9,815.1 L158.3,815.0 L158.8,814.8 L159.5,814.4 L160.1,813.7 L160.9,812.9 L161.8,812.0 L162.6,810.9 L163.6,809.8 L164.5,808.5 L165.5,807.3 L166.5,806.0 L167.5,804.8 L168.4,803.7 L169.3,802.6 L171.4,803.1 L170.5,804.1 L169.6,805.3 L168.6,806.5 L167.7,807.7 L166.7,809.0 L165.7,810.2 L164.8,811.4 L163.9,812.4 L163.1,813.4 L162.3,814.2 L161.6,814.8 L161.0,815.3 L160.5,815.5 L160.1,815.5 Z" fill="#6a8cc6" stroke="#6a8cc6" stroke-width="0.6" stroke-linejoin="round"/>
<path d="M126.8,799.6 L126.7,800.6 L126.5,801.5 L126.4,802.5 L126.2,803.4 L126.1,804.2 L126.0,805.0 L126.0,805.8 L126.0,806.4 L126.0,807.0 L126.0,807.5 L126.1,807.9 L126.3,808.2 L126.5,808.4 L126.7,808.5 L132.8,809.8 L132.6,809.7 L132.4,809.5 L132.3,809.2 L132.2,808.8 L132.1,808.3 L132.1,807.7 L132.1,807.0 L132.2,806.3 L132.3,805.5 L132.4,804.7 L132.5,803.8 L132.6,802.8 L132.8,801.9 L133.0,800.9 Z" fill="#a3c4f2" stroke="#6a8cc6" stroke-width="0.7" stroke-linejoin="round"/>
<path d="M141.7,793.3 L142.1,793.6 L142.3,794.3 L142.4,795.4 L142.3,796.9 L142.1,798.6 L141.8,800.4 L141.5,802.4 L141.1,804.4 L140.9,806.3 L140.7,808.0 L140.6,809.4 L140.6,810.5 L140.9,811.3 L141.3,811.6 L147.4,812.9 L147.0,812.5 L146.8,811.8 L146.7,810.7 L146.8,809.3 L147.0,807.6 L147.3,805.7 L147.6,803.7 L147.9,801.7 L148.2,799.8 L148.4,798.1 L148.5,796.7 L148.5,795.6 L148.2,794.9 L147.8,794.5 Z" fill="#a3c4f2" stroke="#6a8cc6" stroke-width="0.7" stroke-linejoin="round"/>
<path d="M156.3,796.3 L156.7,796.7 L156.9,797.4 L157.0,798.5 L156.9,799.9 L156.7,801.6 L156.4,803.5 L156.1,805.5 L155.8,807.5 L155.5,809.4 L155.3,811.1 L155.2,812.5 L155.3,813.6 L155.5,814.3 L155.9,814.7 L162.1,815.9 L161.6,815.6 L161.4,814.9 L161.3,813.8 L161.4,812.3 L161.6,810.6 L161.9,808.8 L162.2,806.8 L162.6,804.8 L162.9,802.9 L163.1,801.2 L163.1,799.8 L163.1,798.7 L162.8,797.9 L162.4,797.6 Z" fill="#a3c4f2" stroke="#6a8cc6" stroke-width="0.7" stroke-linejoin="round"/>
<path d="M168,809 C169.7,809.3 174.8,812.5 178.0,811.0 C181.2,809.5 185.0,803.0 187.0,800.0 C189.0,797.0 189.5,794.2 190.0,793.0" fill="none" stroke="#6a8cc6" stroke-width="2.3" stroke-linecap="round" stroke-linejoin="round"/>
<path d="M168,809 C169.7,809.3 174.8,812.5 178.0,811.0 C181.2,809.5 185.0,803.0 187.0,800.0 C189.0,797.0 189.5,794.2 190.0,793.0" fill="none" stroke="#a3c4f2" stroke-width="1.5" stroke-linecap="round" stroke-linejoin="round"/>
<path d="M170,803 C171.3,801.8 175.7,798.3 178.0,796.0 C180.3,793.7 183.0,790.2 184.0,789.0" fill="none" stroke="#6a8cc6" stroke-width="2.3" stroke-linecap="round" stroke-linejoin="round"/>
<path d="M170,803 C171.3,801.8 175.7,798.3 178.0,796.0 C180.3,793.7 183.0,790.2 184.0,789.0" fill="none" stroke="#a3c4f2" stroke-width="1.5" stroke-linecap="round" stroke-linejoin="round"/>
<path d="M180.9,782.2 L180.5,782.3 L180.1,782.4 L179.8,782.7 L179.5,782.9 L179.3,783.3 L179.1,783.7 L179.1,784.1 L179.1,784.5 L179.2,785.0 L179.5,785.5 L179.8,786.0 L180.3,786.5 L180.8,786.9 L181.5,787.4 L187.4,786.6 L186.7,786.2 L186.2,785.7 L185.7,785.2 L185.4,784.7 L185.1,784.2 L185.0,783.8 L185.0,783.3 L185.0,782.9 L185.2,782.5 L185.4,782.1 L185.7,781.9 L186.0,781.6 L186.4,781.5 L186.8,781.4 Z" fill="#6a8cc6" stroke="#6a8cc6" stroke-width="0.6" stroke-linejoin="round"/>
<path d="M171.6,791.5 L173.6,791.1 L175.5,790.6 L177.2,789.9 L178.8,789.0 L180.0,788.1 L181.0,787.1 L181.8,786.1 L182.2,785.1 L182.3,784.3 L182.1,783.5 L181.8,782.9 L181.2,782.5 L180.6,782.3 L179.9,782.3 L187.8,781.3 L188.5,781.3 L189.1,781.5 L189.6,781.9 L190.0,782.5 L190.1,783.2 L190.0,784.1 L189.6,785.0 L188.9,786.0 L187.9,787.0 L186.6,788.0 L185.1,788.8 L183.4,789.5 L181.5,790.1 L179.5,790.4 Z" fill="#a3c4f2" stroke="#6a8cc6" stroke-width="0.7" stroke-linejoin="round"/>
<path d="M88.3,758.0 L87.8,758.2 L87.4,758.9 L87.1,760.0 L86.9,761.4 L86.9,763.1 L87.1,765.0 L87.4,767.0 L88.0,769.0 L88.7,770.9 L89.6,772.6 L90.7,774.0 L91.9,775.1 L93.2,775.8 L94.5,776.0 L98.5,776.0 L97.1,775.8 L95.8,775.1 L94.6,774.0 L93.6,772.6 L92.6,770.9 L91.9,769.0 L91.3,767.0 L91.0,765.0 L90.8,763.1 L90.9,761.4 L91.1,760.0 L91.4,758.9 L91.8,758.2 L92.2,758.0 Z" fill="#c96aa6" stroke="#c96aa6" stroke-width="0.6" stroke-linejoin="round"/>
<path d="M100.8,758.0 L100.3,758.2 L99.9,758.9 L99.6,760.0 L99.4,761.4 L99.4,763.1 L99.6,765.0 L99.9,767.0 L100.5,769.0 L101.2,770.9 L102.1,772.6 L103.2,774.0 L104.4,775.1 L105.7,775.8 L107.0,776.0 L111.0,776.0 L109.6,775.8 L108.3,775.1 L107.1,774.0 L106.1,772.6 L105.1,770.9 L104.4,769.0 L103.8,767.0 L103.5,765.0 L103.3,763.1 L103.4,761.4 L103.6,760.0 L103.9,758.9 L104.3,758.2 L104.7,758.0 Z" fill="#c96aa6" stroke="#c96aa6" stroke-width="0.6" stroke-linejoin="round"/>
<path d="M113.3,758.0 L112.8,758.2 L112.4,758.9 L112.1,760.0 L111.9,761.4 L111.9,763.1 L112.1,765.0 L112.4,767.0 L113.0,769.0 L113.7,770.9 L114.6,772.6 L115.7,774.0 L116.9,775.1 L118.2,775.8 L119.5,776.0 L123.5,776.0 L122.1,775.8 L120.8,775.1 L119.6,774.0 L118.6,772.6 L117.6,770.9 L116.9,769.0 L116.3,767.0 L116.0,765.0 L115.8,763.1 L115.9,761.4 L116.1,760.0 L116.4,758.9 L116.8,758.2 L117.2,758.0 Z" fill="#c96aa6" stroke="#c96aa6" stroke-width="0.6" stroke-linejoin="round"/>
<path d="M81.4,776.0 L82.7,775.8 L84.0,775.1 L85.2,774.0 L86.3,772.6 L87.2,770.9 L88.0,769.0 L88.5,767.0 L88.8,765.0 L89.0,763.1 L89.0,761.4 L88.8,760.0 L88.5,758.9 L88.1,758.2 L87.6,758.0 L92.9,758.0 L93.3,758.2 L93.7,758.9 L94.0,760.0 L94.2,761.4 L94.2,763.1 L94.1,765.0 L93.8,767.0 L93.2,769.0 L92.5,770.9 L91.5,772.6 L90.5,774.0 L89.3,775.1 L88.0,775.8 L86.6,776.0 Z" fill="#f39ad8" stroke="#c96aa6" stroke-width="0.7" stroke-linejoin="round"/>
<path d="M93.9,776.0 L95.2,775.8 L96.5,775.1 L97.7,774.0 L98.8,772.6 L99.7,770.9 L100.5,769.0 L101.0,767.0 L101.3,765.0 L101.5,763.1 L101.5,761.4 L101.3,760.0 L101.0,758.9 L100.6,758.2 L100.1,758.0 L105.4,758.0 L105.8,758.2 L106.2,758.9 L106.5,760.0 L106.7,761.4 L106.7,763.1 L106.6,765.0 L106.2,767.0 L105.7,769.0 L105.0,770.9 L104.0,772.6 L103.0,774.0 L101.8,775.1 L100.5,775.8 L99.1,776.0 Z" fill="#f39ad8" stroke="#c96aa6" stroke-width="0.7" stroke-linejoin="round"/>
<path d="M106.4,776.0 L107.7,775.8 L109.0,775.1 L110.2,774.0 L111.3,772.6 L112.2,770.9 L113.0,769.0 L113.5,767.0 L113.8,765.0 L114.0,763.1 L114.0,761.4 L113.8,760.0 L113.5,758.9 L113.1,758.2 L112.6,758.0 L117.9,758.0 L118.3,758.2 L118.7,758.9 L119.0,760.0 L119.2,761.4 L119.2,763.1 L119.1,765.0 L118.8,767.0 L118.2,769.0 L117.5,770.9 L116.5,772.6 L115.5,774.0 L114.3,775.1 L113.0,775.8 L111.6,776.0 Z" fill="#f39ad8" stroke="#c96aa6" stroke-width="0.7" stroke-linejoin="round"/>
<path d="M118.9,776.0 L119.4,776.0 L119.9,775.9 L120.5,775.7 L121.0,775.4 L121.5,775.1 L122.0,774.7 L122.5,774.3 L122.9,773.8 L123.4,773.2 L123.8,772.6 L124.2,772.0 L124.5,771.3 L124.9,770.5 L125.2,769.8 L130.4,769.8 L130.1,770.5 L129.8,771.3 L129.4,772.0 L129.0,772.6 L128.6,773.2 L128.2,773.8 L127.7,774.3 L127.2,774.7 L126.8,775.1 L126.2,775.4 L125.7,775.7 L125.2,775.9 L124.7,776.0 L124.1,776.0 Z" fill="#f39ad8" stroke="#c96aa6" stroke-width="0.7" stroke-linejoin="round"/>
<path d="M18.8,819.2 L19.5,818.9 L20.2,818.2 L21.1,817.1 L22.0,815.6 L23.0,813.9 L24.1,811.9 L25.1,809.8 L26.2,807.8 L27.2,805.8 L28.2,804.1 L29.1,802.6 L30.0,801.5 L30.7,800.8 L31.4,800.5 L34.0,800.4 L33.3,800.6 L32.6,801.3 L31.7,802.5 L30.8,803.9 L29.8,805.7 L28.7,807.6 L27.7,809.7 L26.6,811.8 L25.6,813.7 L24.6,815.5 L23.7,817.0 L22.8,818.1 L22.1,818.8 L21.4,819.0 Z" fill="#c96aa6" stroke="#c96aa6" stroke-width="0.6" stroke-linejoin="round"/>
<path d="M36.4,818.3 L37.1,818.0 L37.8,817.3 L38.7,816.2 L39.6,814.7 L40.6,812.9 L41.6,811.0 L42.7,808.9 L43.7,806.9 L44.8,804.9 L45.8,803.2 L46.7,801.7 L47.5,800.6 L48.3,799.9 L49.0,799.6 L51.6,799.5 L50.9,799.7 L50.1,800.4 L49.3,801.5 L48.3,803.0 L47.4,804.8 L46.3,806.7 L45.3,808.8 L44.2,810.9 L43.2,812.8 L42.2,814.6 L41.3,816.0 L40.4,817.2 L39.6,817.9 L39.0,818.1 Z" fill="#c96aa6" stroke="#c96aa6" stroke-width="0.6" stroke-linejoin="round"/>
<path d="M54.0,817.4 L54.6,817.1 L55.4,816.4 L56.3,815.3 L57.2,813.8 L58.2,812.0 L59.2,810.1 L60.3,808.0 L61.3,806.0 L62.3,804.0 L63.3,802.2 L64.3,800.8 L65.1,799.7 L65.9,798.9 L66.6,798.7 L69.1,798.5 L68.5,798.8 L67.7,799.5 L66.8,800.6 L65.9,802.1 L64.9,803.9 L63.9,805.8 L62.8,807.9 L61.8,809.9 L60.8,811.9 L59.8,813.7 L58.8,815.1 L58.0,816.3 L57.2,817.0 L56.5,817.2 Z" fill="#c96aa6" stroke="#c96aa6" stroke-width="0.6" stroke-linejoin="round"/>
<path d="M71.5,816.5 L71.9,816.3 L72.3,816.1 L72.8,815.7 L73.3,815.1 L73.8,814.4 L74.4,813.5 L74.9,812.6 L75.5,811.5 L76.2,810.4 L76.8,809.2 L77.4,808.0 L78.0,806.7 L78.7,805.5 L79.3,804.3 L81.9,804.1 L81.3,805.3 L80.6,806.6 L80.0,807.8 L79.4,809.0 L78.7,810.2 L78.1,811.4 L77.5,812.4 L77.0,813.4 L76.4,814.2 L75.9,815.0 L75.4,815.5 L74.9,815.9 L74.5,816.2 L74.1,816.3 Z" fill="#c96aa6" stroke="#c96aa6" stroke-width="0.6" stroke-linejoin="round"/>
<path d="M16.4,819.3 L16.4,819.3 L16.4,819.3 L16.4,819.3 L16.4,819.3 L16.4,819.3 L16.4,819.3 L16.4,819.3 L16.4,819.3 L16.4,819.3 L16.4,819.3 L16.4,819.3 L16.4,819.3 L16.4,819.3 L16.4,819.3 L23.8,818.9 L23.8,818.9 L23.8,818.9 L23.8,818.9 L23.8,818.9 L23.8,818.9 L23.8,818.9 L23.8,818.9 L23.8,818.9 L23.8,818.9 L23.8,818.9 L23.8,818.9 L23.8,818.9 L23.8,818.9 L23.8,818.9 Z" fill="#f39ad8" stroke="#c96aa6" stroke-width="0.7" stroke-linejoin="round"/>
<path d="M29.0,800.6 L29.6,800.8 L30.1,801.5 L30.5,802.5 L30.8,803.9 L31.1,805.6 L31.3,807.5 L31.5,809.5 L31.7,811.5 L31.9,813.4 L32.2,815.1 L32.5,816.5 L32.9,817.6 L33.4,818.2 L34.0,818.4 L41.4,818.0 L40.8,817.8 L40.3,817.2 L39.9,816.1 L39.6,814.7 L39.3,813.0 L39.1,811.1 L38.9,809.1 L38.7,807.1 L38.5,805.2 L38.2,803.5 L37.9,802.1 L37.5,801.1 L37.0,800.4 L36.4,800.2 Z" fill="#f39ad8" stroke="#c96aa6" stroke-width="0.7" stroke-linejoin="round"/>
<path d="M46.6,799.7 L47.2,799.9 L47.7,800.6 L48.1,801.6 L48.4,803.0 L48.6,804.7 L48.9,806.6 L49.1,808.6 L49.3,810.6 L49.5,812.5 L49.8,814.2 L50.1,815.6 L50.5,816.6 L51.0,817.3 L51.6,817.5 L58.9,817.1 L58.4,816.9 L57.9,816.3 L57.5,815.2 L57.1,813.8 L56.9,812.1 L56.7,810.2 L56.5,808.2 L56.3,806.2 L56.0,804.3 L55.8,802.6 L55.4,801.2 L55.0,800.2 L54.6,799.5 L54.0,799.3 Z" fill="#f39ad8" stroke="#c96aa6" stroke-width="0.7" stroke-linejoin="round"/>
<path d="M64.2,798.8 L64.7,799.0 L65.2,799.6 L65.6,800.7 L66.0,802.1 L66.2,803.8 L66.4,805.7 L66.6,807.7 L66.8,809.7 L67.1,811.6 L67.3,813.3 L67.7,814.7 L68.1,815.7 L68.5,816.4 L69.1,816.6 L76.5,816.2 L75.9,816.0 L75.4,815.4 L75.0,814.3 L74.7,812.9 L74.5,811.2 L74.2,809.3 L74.0,807.3 L73.8,805.3 L73.6,803.4 L73.3,801.7 L73.0,800.3 L72.6,799.3 L72.1,798.6 L71.5,798.4 Z" fill="#f39ad8" stroke="#c96aa6" stroke-width="0.7" stroke-linejoin="round"/>
<path d="M80,806 C80.7,804.7 83.0,801.0 84.0,798.0 C85.0,795.0 86.0,791.0 86.0,788.0 C86.0,785.0 83.7,782.7 84.0,780.0 C84.3,777.3 87.3,773.3 88.0,772.0" fill="none" stroke="#c96aa6" stroke-width="2.4000000000000004" stroke-linecap="round" stroke-linejoin="round"/>
<path d="M80,806 C80.7,804.7 83.0,801.0 84.0,798.0 C85.0,795.0 86.0,791.0 86.0,788.0 C86.0,785.0 83.7,782.7 84.0,780.0 C84.3,777.3 87.3,773.3 88.0,772.0" fill="none" stroke="#f39ad8" stroke-width="1.6" stroke-linecap="round" stroke-linejoin="round"/>
<path d="M60,815 C60.2,816.8 60.5,822.5 61.0,826.0 C61.5,829.5 61.8,833.3 63.0,836.0 C64.2,838.7 67.2,841.0 68.0,842.0" fill="none" stroke="#c96aa6" stroke-width="2.4000000000000004" stroke-linecap="round" stroke-linejoin="round"/>
<path d="M60,815 C60.2,816.8 60.5,822.5 61.0,826.0 C61.5,829.5 61.8,833.3 63.0,836.0 C64.2,838.7 67.2,841.0 68.0,842.0" fill="none" stroke="#f39ad8" stroke-width="1.6" stroke-linecap="round" stroke-linejoin="round"/>
<path d="M61,826 C62.0,825.7 66.0,824.3 67.0,824.0" fill="none" stroke="#c96aa6" stroke-width="2.4000000000000004" stroke-linecap="round" stroke-linejoin="round"/>
<path d="M61,826 C62.0,825.7 66.0,824.3 67.0,824.0" fill="none" stroke="#f39ad8" stroke-width="1.6" stroke-linecap="round" stroke-linejoin="round"/>
<line x1="80.34" y1="795.47" x2="81.93" y2="794.00" stroke="#c96aa6" stroke-width="1.8" stroke-linecap="round"/>
<line x1="83.95" y1="791.49" x2="84.86" y2="793.23" stroke="#c96aa6" stroke-width="1.8" stroke-linecap="round"/>
<line x1="79.94" y1="787.28" x2="81.95" y2="786.88" stroke="#c96aa6" stroke-width="1.8" stroke-linecap="round"/>
<line x1="86.62" y1="787.02" x2="86.30" y2="788.35" stroke="#c96aa6" stroke-width="1.8" stroke-linecap="round"/>
<line x1="81.29" y1="796.45" x2="83.70" y2="793.64" stroke="#c96aa6" stroke-width="1.8" stroke-linecap="round"/>
<line x1="79.25" y1="792.41" x2="81.89" y2="791.70" stroke="#c96aa6" stroke-width="1.8" stroke-linecap="round"/>
<line x1="81.17" y1="791.22" x2="78.34" y2="789.55" stroke="#c96aa6" stroke-width="1.8" stroke-linecap="round"/>
<line x1="83.38" y1="791.96" x2="81.78" y2="790.34" stroke="#c96aa6" stroke-width="1.8" stroke-linecap="round"/>
<line x1="81.19" y1="791.60" x2="79.93" y2="788.72" stroke="#c96aa6" stroke-width="1.8" stroke-linecap="round"/>
<line x1="87.38" y1="792.56" x2="88.23" y2="790.68" stroke="#c96aa6" stroke-width="1.8" stroke-linecap="round"/>
<line x1="88.93" y1="795.60" x2="86.65" y2="794.60" stroke="#c96aa6" stroke-width="1.8" stroke-linecap="round"/>
<line x1="86.21" y1="794.11" x2="88.83" y2="793.64" stroke="#c96aa6" stroke-width="1.8" stroke-linecap="round"/>
<line x1="89.65" y1="783.58" x2="86.99" y2="781.09" stroke="#f39ad8" stroke-width="1.8" stroke-linecap="round"/>
<line x1="88.68" y1="781.89" x2="89.70" y2="780.74" stroke="#f39ad8" stroke-width="1.8" stroke-linecap="round"/>
<line x1="86.85" y1="780.85" x2="87.33" y2="778.80" stroke="#f39ad8" stroke-width="1.8" stroke-linecap="round"/>
<line x1="85.45" y1="779.15" x2="86.78" y2="782.12" stroke="#f39ad8" stroke-width="1.8" stroke-linecap="round"/>
<line x1="89.60" y1="780.35" x2="89.26" y2="778.96" stroke="#f39ad8" stroke-width="1.8" stroke-linecap="round"/>
<line x1="82.29" y1="776.22" x2="82.08" y2="775.13" stroke="#f39ad8" stroke-width="1.8" stroke-linecap="round"/>
<line x1="85.04" y1="783.13" x2="85.19" y2="783.50" stroke="#f39ad8" stroke-width="1.8" stroke-linecap="round"/>
<line x1="83.89" y1="776.19" x2="82.84" y2="774.01" stroke="#f39ad8" stroke-width="1.8" stroke-linecap="round"/>
<line x1="113.38" y1="779.44" x2="112.60" y2="780.07" stroke="#c96aa6" stroke-width="1.8" stroke-linecap="round"/>
<line x1="117.26" y1="774.66" x2="114.34" y2="776.68" stroke="#c96aa6" stroke-width="1.8" stroke-linecap="round"/>
<line x1="113.59" y1="776.34" x2="116.57" y2="776.16" stroke="#c96aa6" stroke-width="1.8" stroke-linecap="round"/>
<line x1="119.36" y1="778.76" x2="120.20" y2="776.67" stroke="#c96aa6" stroke-width="1.8" stroke-linecap="round"/>
<line x1="117.35" y1="782.68" x2="117.49" y2="784.13" stroke="#c96aa6" stroke-width="1.8" stroke-linecap="round"/>
<line x1="117.71" y1="774.64" x2="119.26" y2="775.19" stroke="#c96aa6" stroke-width="1.8" stroke-linecap="round"/>
<line x1="114.01" y1="774.31" x2="116.21" y2="774.15" stroke="#c96aa6" stroke-width="1.8" stroke-linecap="round"/>
<line x1="118.19" y1="782.79" x2="119.47" y2="785.31" stroke="#c96aa6" stroke-width="1.8" stroke-linecap="round"/>
<line x1="114.95" y1="782.01" x2="114.62" y2="784.62" stroke="#c96aa6" stroke-width="1.8" stroke-linecap="round"/>
<line x1="119.79" y1="774.97" x2="117.60" y2="773.28" stroke="#c96aa6" stroke-width="1.8" stroke-linecap="round"/>
<line x1="95.89" y1="795.83" x2="95.26" y2="793.76" stroke="#6a8cc6" stroke-width="1.8" stroke-linecap="round"/>
<line x1="94.53" y1="798.21" x2="97.04" y2="800.02" stroke="#6a8cc6" stroke-width="1.8" stroke-linecap="round"/>
<line x1="100.12" y1="796.78" x2="100.34" y2="795.44" stroke="#6a8cc6" stroke-width="1.8" stroke-linecap="round"/>
<line x1="95.38" y1="795.85" x2="93.67" y2="798.41" stroke="#6a8cc6" stroke-width="1.8" stroke-linecap="round"/>
<line x1="100.63" y1="801.45" x2="102.43" y2="799.61" stroke="#6a8cc6" stroke-width="1.8" stroke-linecap="round"/>
<line x1="96.48" y1="800.02" x2="97.87" y2="802.14" stroke="#6a8cc6" stroke-width="1.8" stroke-linecap="round"/>
<line x1="101.04" y1="795.69" x2="101.68" y2="796.72" stroke="#6a8cc6" stroke-width="1.8" stroke-linecap="round"/>
<line x1="98.05" y1="796.42" x2="97.89" y2="793.96" stroke="#6a8cc6" stroke-width="1.8" stroke-linecap="round"/>
<line x1="101.48" y1="801.92" x2="101.76" y2="800.73" stroke="#6a8cc6" stroke-width="1.8" stroke-linecap="round"/>
<line x1="101.27" y1="799.58" x2="103.56" y2="801.67" stroke="#6a8cc6" stroke-width="1.8" stroke-linecap="round"/>
<line x1="85.67" y1="800.12" x2="82.81" y2="803.11" stroke="#f39ad8" stroke-width="1.8" stroke-linecap="round"/>
<line x1="79.47" y1="799.96" x2="80.38" y2="799.04" stroke="#f39ad8" stroke-width="1.8" stroke-linecap="round"/>
<line x1="85.12" y1="800.85" x2="87.87" y2="799.77" stroke="#f39ad8" stroke-width="1.8" stroke-linecap="round"/>
<line x1="82.81" y1="806.46" x2="83.92" y2="809.00" stroke="#f39ad8" stroke-width="1.8" stroke-linecap="round"/>
<line x1="83.66" y1="799.39" x2="85.95" y2="799.92" stroke="#f39ad8" stroke-width="1.8" stroke-linecap="round"/>
<line x1="80.49" y1="800.52" x2="82.58" y2="801.02" stroke="#f39ad8" stroke-width="1.8" stroke-linecap="round"/>
<circle cx="105.00" cy="786.00" r="1.20" fill="#e02020"/>
<circle cx="110.00" cy="789.00" r="1.00" fill="#2a3ad0"/>
<text x="64.50" y="760.50" font-size="7.0" font-weight="bold" fill="#f070c6">L330</text>
<text x="124.30" y="776.40" font-size="7.0" font-weight="bold" fill="#f070c6">M339</text>
<text x="126.50" y="786.00" font-size="7.0" font-weight="bold" fill="#f070c6">Q343</text>
<text x="45.30" y="794.70" font-size="7.0" font-weight="bold" fill="#f070c6">W334</text>
<text x="95.50" y="811.80" font-size="7.0" font-weight="bold" fill="#86a4dc">W334</text>
<text x="73.70" y="826.50" font-size="7.0" font-weight="bold" fill="#f070c6">S333</text>
<path d="M211,784 C211.2,782.7 210.2,778.0 212.0,776.0 C213.8,774.0 218.0,773.3 222.0,772.0 C226.0,770.7 232.0,769.3 236.0,768.0 C240.0,766.7 242.5,764.8 246.0,764.0 C249.5,763.2 253.7,762.5 257.0,763.0 C260.3,763.5 263.5,766.8 266.0,767.0 C268.5,767.2 269.2,764.8 272.0,764.0 C274.8,763.2 281.2,762.3 283.0,762.0" fill="none" stroke="#c96aa6" stroke-width="2.6" stroke-linecap="round" stroke-linejoin="round"/>
<path d="M211,784 C211.2,782.7 210.2,778.0 212.0,776.0 C213.8,774.0 218.0,773.3 222.0,772.0 C226.0,770.7 232.0,769.3 236.0,768.0 C240.0,766.7 242.5,764.8 246.0,764.0 C249.5,763.2 253.7,762.5 257.0,763.0 C260.3,763.5 263.5,766.8 266.0,767.0 C268.5,767.2 269.2,764.8 272.0,764.0 C274.8,763.2 281.2,762.3 283.0,762.0" fill="none" stroke="#f39ad8" stroke-width="1.8" stroke-linecap="round" stroke-linejoin="round"/>
<path d="M252,768 C252.7,769.7 253.7,775.8 256.0,778.0 C258.3,780.2 262.7,781.2 266.0,781.0 C269.3,780.8 273.5,779.2 276.0,777.0 C278.5,774.8 281.2,770.5 281.0,768.0 C280.8,765.5 278.2,763.2 275.0,762.0 C271.8,760.8 265.7,760.5 262.0,761.0 C258.3,761.5 254.5,764.3 253.0,765.0" fill="none" stroke="#e0a0c8" stroke-width="2.3" stroke-linecap="round" stroke-linejoin="round"/>
<path d="M252,768 C252.7,769.7 253.7,775.8 256.0,778.0 C258.3,780.2 262.7,781.2 266.0,781.0 C269.3,780.8 273.5,779.2 276.0,777.0 C278.5,774.8 281.2,770.5 281.0,768.0 C280.8,765.5 278.2,763.2 275.0,762.0 C271.8,760.8 265.7,760.5 262.0,761.0 C258.3,761.5 254.5,764.3 253.0,765.0" fill="none" stroke="#f2c0dc" stroke-width="1.5" stroke-linecap="round" stroke-linejoin="round"/>
<path d="M211,784 C211.5,785.3 212.2,790.0 214.0,792.0 C215.8,794.0 219.7,795.5 222.0,796.0 C224.3,796.5 227.0,795.2 228.0,795.0" fill="none" stroke="#c96aa6" stroke-width="2.6" stroke-linecap="round" stroke-linejoin="round"/>
<path d="M211,784 C211.5,785.3 212.2,790.0 214.0,792.0 C215.8,794.0 219.7,795.5 222.0,796.0 C224.3,796.5 227.0,795.2 228.0,795.0" fill="none" stroke="#f39ad8" stroke-width="1.8" stroke-linecap="round" stroke-linejoin="round"/>
<path d="M227.7,785.0 L227.1,785.2 L226.5,785.8 L226.1,786.7 L226.0,787.8 L226.1,789.2 L226.4,790.6 L227.1,792.1 L228.1,793.6 L229.4,794.9 L230.9,796.1 L232.7,797.0 L234.6,797.6 L236.6,798.0 L238.7,797.9 L244.7,797.3 L242.6,797.3 L240.6,797.0 L238.7,796.4 L236.9,795.4 L235.4,794.3 L234.1,792.9 L233.1,791.5 L232.4,790.0 L232.0,788.5 L231.9,787.2 L232.1,786.1 L232.5,785.2 L233.1,784.6 L233.7,784.4 Z" fill="#c96aa6" stroke="#c96aa6" stroke-width="0.6" stroke-linejoin="round"/>
<path d="M246.7,783.0 L246.1,783.2 L245.5,783.8 L245.1,784.7 L245.0,785.8 L245.1,787.2 L245.4,788.6 L246.1,790.1 L247.1,791.6 L248.4,792.9 L249.9,794.1 L251.7,795.0 L253.6,795.6 L255.6,796.0 L257.7,795.9 L263.7,795.3 L261.6,795.3 L259.6,795.0 L257.7,794.4 L255.9,793.4 L254.4,792.3 L253.1,790.9 L252.1,789.5 L251.4,788.0 L251.0,786.5 L250.9,785.2 L251.1,784.1 L251.5,783.2 L252.1,782.6 L252.7,782.4 Z" fill="#c96aa6" stroke="#c96aa6" stroke-width="0.6" stroke-linejoin="round"/>
<path d="M265.7,781.0 L265.1,781.2 L264.5,781.8 L264.1,782.7 L264.0,783.8 L264.1,785.2 L264.4,786.6 L265.1,788.1 L266.1,789.6 L267.4,790.9 L268.9,792.1 L270.7,793.0 L272.6,793.6 L274.6,794.0 L276.7,793.9 L282.7,793.3 L280.6,793.3 L278.6,793.0 L276.7,792.4 L274.9,791.4 L273.4,790.3 L272.1,788.9 L271.1,787.5 L270.4,786.0 L270.0,784.5 L269.9,783.2 L270.1,782.1 L270.5,781.2 L271.1,780.6 L271.7,780.4 Z" fill="#c96aa6" stroke="#c96aa6" stroke-width="0.6" stroke-linejoin="round"/>
<path d="M229.2,788.9 L229.2,788.4 L229.1,788.0 L229.0,787.5 L228.9,787.1 L228.8,786.7 L228.6,786.3 L228.4,786.0 L228.2,785.8 L228.0,785.5 L227.7,785.4 L227.5,785.2 L227.2,785.1 L227.0,785.1 L226.7,785.1 L234.7,784.3 L235.0,784.3 L235.2,784.3 L235.5,784.4 L235.7,784.5 L235.9,784.7 L236.2,784.9 L236.4,785.2 L236.6,785.5 L236.8,785.9 L236.9,786.2 L237.0,786.7 L237.1,787.1 L237.2,787.6 L237.2,788.1 Z" fill="#f39ad8" stroke="#c96aa6" stroke-width="0.7" stroke-linejoin="round"/>
<path d="M237.7,798.0 L239.7,797.6 L241.6,796.9 L243.4,795.9 L244.9,794.6 L246.2,793.1 L247.1,791.6 L247.8,789.9 L248.2,788.3 L248.2,786.8 L248.0,785.5 L247.6,784.4 L247.1,783.6 L246.4,783.2 L245.7,783.1 L253.7,782.3 L254.4,782.4 L255.1,782.8 L255.6,783.6 L256.0,784.7 L256.2,786.0 L256.1,787.5 L255.8,789.1 L255.1,790.7 L254.1,792.3 L252.9,793.8 L251.3,795.0 L249.6,796.1 L247.7,796.8 L245.7,797.2 Z" fill="#f39ad8" stroke="#c96aa6" stroke-width="0.7" stroke-linejoin="round"/>
<path d="M256.7,796.0 L258.7,795.6 L260.6,794.9 L262.4,793.9 L263.9,792.6 L265.2,791.1 L266.1,789.6 L266.8,787.9 L267.2,786.3 L267.2,784.8 L267.0,783.5 L266.6,782.4 L266.1,781.6 L265.4,781.2 L264.7,781.1 L272.7,780.3 L273.4,780.4 L274.1,780.8 L274.6,781.6 L275.0,782.7 L275.2,784.0 L275.1,785.5 L274.8,787.1 L274.1,788.7 L273.1,790.3 L271.9,791.8 L270.3,793.0 L268.6,794.1 L266.7,794.8 L264.7,795.2 Z" fill="#f39ad8" stroke="#c96aa6" stroke-width="0.7" stroke-linejoin="round"/>
<path d="M275.7,794.0 L277.0,793.8 L278.2,793.5 L279.5,793.0 L280.6,792.4 L281.7,791.7 L282.6,790.9 L283.5,790.0 L284.3,789.0 L284.9,788.0 L285.4,787.0 L285.8,785.9 L286.1,784.9 L286.2,783.9 L286.2,782.9 L294.2,782.1 L294.2,783.0 L294.0,784.0 L293.8,785.1 L293.4,786.1 L292.9,787.2 L292.2,788.2 L291.5,789.1 L290.6,790.0 L289.6,790.8 L288.6,791.5 L287.4,792.1 L286.2,792.6 L285.0,793.0 L283.7,793.2 Z" fill="#f39ad8" stroke="#c96aa6" stroke-width="0.7" stroke-linejoin="round"/>
<path d="M285,785 C286.2,784.7 290.2,782.7 292.0,783.0 C293.8,783.3 295.3,786.3 296.0,787.0" fill="none" stroke="#c96aa6" stroke-width="2.4000000000000004" stroke-linecap="round" stroke-linejoin="round"/>
<path d="M285,785 C286.2,784.7 290.2,782.7 292.0,783.0 C293.8,783.3 295.3,786.3 296.0,787.0" fill="none" stroke="#f39ad8" stroke-width="1.6" stroke-linecap="round" stroke-linejoin="round"/>
<line x1="281.97" y1="800.87" x2="283.74" y2="803.52" stroke="#c96aa6" stroke-width="1.8" stroke-linecap="round"/>
<line x1="283.84" y1="803.76" x2="281.01" y2="803.55" stroke="#c96aa6" stroke-width="1.8" stroke-linecap="round"/>
<line x1="287.09" y1="799.38" x2="289.50" y2="797.06" stroke="#c96aa6" stroke-width="1.8" stroke-linecap="round"/>
<line x1="279.51" y1="792.95" x2="279.77" y2="793.39" stroke="#c96aa6" stroke-width="1.8" stroke-linecap="round"/>
<line x1="272.21" y1="792.47" x2="270.89" y2="794.97" stroke="#c96aa6" stroke-width="1.8" stroke-linecap="round"/>
<line x1="284.25" y1="791.55" x2="286.03" y2="789.39" stroke="#c96aa6" stroke-width="1.8" stroke-linecap="round"/>
<line x1="281.88" y1="791.03" x2="278.89" y2="793.26" stroke="#c96aa6" stroke-width="1.8" stroke-linecap="round"/>
<line x1="275.35" y1="792.45" x2="278.25" y2="794.68" stroke="#c96aa6" stroke-width="1.8" stroke-linecap="round"/>
<line x1="276.63" y1="804.38" x2="276.86" y2="805.45" stroke="#c96aa6" stroke-width="1.8" stroke-linecap="round"/>
<line x1="275.28" y1="804.06" x2="276.42" y2="806.86" stroke="#c96aa6" stroke-width="1.8" stroke-linecap="round"/>
<line x1="286.30" y1="793.78" x2="285.47" y2="791.78" stroke="#c96aa6" stroke-width="1.8" stroke-linecap="round"/>
<line x1="274.33" y1="790.04" x2="273.14" y2="790.66" stroke="#c96aa6" stroke-width="1.8" stroke-linecap="round"/>
<line x1="272.05" y1="799.85" x2="271.08" y2="798.71" stroke="#c96aa6" stroke-width="1.8" stroke-linecap="round"/>
<line x1="285.10" y1="796.69" x2="283.99" y2="796.58" stroke="#c96aa6" stroke-width="1.8" stroke-linecap="round"/>
<line x1="283.27" y1="789.91" x2="286.13" y2="787.05" stroke="#c96aa6" stroke-width="1.8" stroke-linecap="round"/>
<line x1="284.00" y1="802.52" x2="281.11" y2="804.24" stroke="#c96aa6" stroke-width="1.8" stroke-linecap="round"/>
<line x1="297.52" y1="793.86" x2="297.43" y2="792.43" stroke="#f39ad8" stroke-width="1.8" stroke-linecap="round"/>
<line x1="288.01" y1="791.95" x2="287.83" y2="793.51" stroke="#f39ad8" stroke-width="1.8" stroke-linecap="round"/>
<line x1="292.48" y1="793.24" x2="291.11" y2="795.05" stroke="#f39ad8" stroke-width="1.8" stroke-linecap="round"/>
<line x1="296.76" y1="788.97" x2="296.99" y2="790.06" stroke="#f39ad8" stroke-width="1.8" stroke-linecap="round"/>
<line x1="290.32" y1="790.64" x2="292.15" y2="789.24" stroke="#f39ad8" stroke-width="1.8" stroke-linecap="round"/>
<line x1="297.64" y1="792.23" x2="299.71" y2="791.24" stroke="#f39ad8" stroke-width="1.8" stroke-linecap="round"/>
<line x1="289.12" y1="793.60" x2="290.95" y2="793.27" stroke="#f39ad8" stroke-width="1.8" stroke-linecap="round"/>
<line x1="289.13" y1="786.37" x2="289.93" y2="785.11" stroke="#f39ad8" stroke-width="1.8" stroke-linecap="round"/>
<line x1="299.42" y1="791.06" x2="297.62" y2="792.00" stroke="#f39ad8" stroke-width="1.8" stroke-linecap="round"/>
<line x1="292.32" y1="795.19" x2="294.78" y2="795.28" stroke="#f39ad8" stroke-width="1.8" stroke-linecap="round"/>
<line x1="268.65" y1="803.90" x2="269.46" y2="803.77" stroke="#f39ad8" stroke-width="1.8" stroke-linecap="round"/>
<line x1="269.16" y1="804.93" x2="271.01" y2="805.00" stroke="#f39ad8" stroke-width="1.8" stroke-linecap="round"/>
<line x1="272.05" y1="799.36" x2="269.07" y2="798.59" stroke="#f39ad8" stroke-width="1.8" stroke-linecap="round"/>
<line x1="272.85" y1="797.69" x2="274.62" y2="796.09" stroke="#f39ad8" stroke-width="1.8" stroke-linecap="round"/>
<line x1="269.33" y1="797.42" x2="272.31" y2="798.86" stroke="#f39ad8" stroke-width="1.8" stroke-linecap="round"/>
<line x1="275.75" y1="803.16" x2="272.95" y2="802.13" stroke="#f39ad8" stroke-width="1.8" stroke-linecap="round"/>
<line x1="271.98" y1="798.16" x2="274.69" y2="797.37" stroke="#f39ad8" stroke-width="1.8" stroke-linecap="round"/>
<line x1="268.55" y1="805.18" x2="266.30" y2="807.74" stroke="#f39ad8" stroke-width="1.8" stroke-linecap="round"/>
<path d="M214,797 C216.3,796.3 222.8,794.2 228.0,793.0 C233.2,791.8 239.3,791.0 245.0,790.0 C250.7,789.0 256.2,788.2 262.0,787.0 C267.8,785.8 274.8,784.0 280.0,783.0 C285.2,782.0 290.8,781.3 293.0,781.0" fill="none" stroke="#6a8cc6" stroke-width="3.0" stroke-linecap="round" stroke-linejoin="round"/>
<path d="M214,797 C216.3,796.3 222.8,794.2 228.0,793.0 C233.2,791.8 239.3,791.0 245.0,790.0 C250.7,789.0 256.2,788.2 262.0,787.0 C267.8,785.8 274.8,784.0 280.0,783.0 C285.2,782.0 290.8,781.3 293.0,781.0" fill="none" stroke="#a3c4f2" stroke-width="2.2" stroke-linecap="round" stroke-linejoin="round"/>
<path d="M215.1,827.4 L215.7,826.5 L216.4,825.3 L217.2,823.8 L218.0,822.1 L218.8,820.2 L219.7,818.2 L220.5,816.2 L221.4,814.3 L222.2,812.5 L223.0,811.0 L223.7,809.7 L224.3,808.8 L224.9,808.2 L225.4,808.0 L227.6,808.0 L227.1,808.2 L226.5,808.8 L225.8,809.7 L225.1,811.0 L224.3,812.5 L223.5,814.3 L222.7,816.2 L221.8,818.2 L221.0,820.2 L220.1,822.1 L219.3,823.8 L218.6,825.3 L217.9,826.5 L217.2,827.4 Z" fill="#6a8cc6" stroke="#6a8cc6" stroke-width="0.6" stroke-linejoin="round"/>
<path d="M228.8,828.0 L229.3,827.7 L230.0,827.0 L230.8,825.8 L231.6,824.2 L232.5,822.3 L233.5,820.2 L234.4,818.0 L235.4,815.8 L236.3,813.7 L237.2,811.8 L238.1,810.2 L238.8,809.0 L239.5,808.3 L240.1,808.0 L242.2,808.0 L241.7,808.3 L241.0,809.0 L240.2,810.2 L239.4,811.8 L238.5,813.7 L237.5,815.8 L236.6,818.0 L235.6,820.2 L234.7,822.3 L233.8,824.2 L232.9,825.8 L232.2,827.0 L231.5,827.7 L230.9,828.0 Z" fill="#6a8cc6" stroke="#6a8cc6" stroke-width="0.6" stroke-linejoin="round"/>
<path d="M243.4,828.0 L244.0,827.7 L244.7,827.0 L245.4,825.8 L246.3,824.2 L247.2,822.3 L248.1,820.2 L249.1,818.0 L250.1,815.8 L251.0,813.7 L251.9,811.8 L252.7,810.2 L253.5,809.0 L254.2,808.3 L254.7,808.0 L256.9,808.0 L256.3,808.3 L255.6,809.0 L254.9,810.2 L254.0,811.8 L253.1,813.7 L252.2,815.8 L251.2,818.0 L250.3,820.2 L249.3,822.3 L248.4,824.2 L247.6,825.8 L246.8,827.0 L246.2,827.7 L245.6,828.0 Z" fill="#6a8cc6" stroke="#6a8cc6" stroke-width="0.6" stroke-linejoin="round"/>
<path d="M258.1,828.0 L258.2,828.0 L258.2,828.0 L258.3,828.0 L258.4,827.9 L258.4,827.9 L258.5,827.9 L258.6,827.8 L258.6,827.8 L258.7,827.7 L258.8,827.7 L258.8,827.6 L258.9,827.5 L259.0,827.5 L259.1,827.4 L261.2,827.4 L261.1,827.5 L261.1,827.5 L261.0,827.6 L260.9,827.7 L260.8,827.7 L260.8,827.8 L260.7,827.8 L260.6,827.9 L260.6,827.9 L260.5,827.9 L260.4,828.0 L260.4,828.0 L260.3,828.0 L260.3,828.0 Z" fill="#6a8cc6" stroke="#6a8cc6" stroke-width="0.6" stroke-linejoin="round"/>
<path d="M223.4,808.0 L223.9,808.3 L224.3,809.0 L224.5,810.2 L224.7,811.8 L224.9,813.7 L225.0,815.8 L225.1,818.0 L225.2,820.2 L225.3,822.3 L225.4,824.2 L225.6,825.8 L225.9,827.0 L226.3,827.7 L226.8,828.0 L232.9,828.0 L232.5,827.7 L232.1,827.0 L231.8,825.8 L231.6,824.2 L231.4,822.3 L231.3,820.2 L231.2,818.0 L231.2,815.8 L231.1,813.7 L230.9,811.8 L230.7,810.2 L230.4,809.0 L230.0,808.3 L229.6,808.0 Z" fill="#a3c4f2" stroke="#6a8cc6" stroke-width="0.7" stroke-linejoin="round"/>
<path d="M238.1,808.0 L238.5,808.3 L238.9,809.0 L239.2,810.2 L239.4,811.8 L239.6,813.7 L239.7,815.8 L239.8,818.0 L239.8,820.2 L239.9,822.3 L240.1,824.2 L240.3,825.8 L240.6,827.0 L241.0,827.7 L241.4,828.0 L247.6,828.0 L247.1,827.7 L246.7,827.0 L246.5,825.8 L246.2,824.2 L246.1,822.3 L246.0,820.2 L245.9,818.0 L245.8,815.8 L245.7,813.7 L245.6,811.8 L245.4,810.2 L245.1,809.0 L244.7,808.3 L244.2,808.0 Z" fill="#a3c4f2" stroke="#6a8cc6" stroke-width="0.7" stroke-linejoin="round"/>
<path d="M252.7,808.0 L253.2,808.3 L253.6,809.0 L253.9,810.2 L254.1,811.8 L254.2,813.7 L254.3,815.8 L254.4,818.0 L254.5,820.2 L254.6,822.3 L254.8,824.2 L255.0,825.8 L255.2,827.0 L255.6,827.7 L256.1,828.0 L262.3,828.0 L261.8,827.7 L261.4,827.0 L261.1,825.8 L260.9,824.2 L260.8,822.3 L260.7,820.2 L260.6,818.0 L260.5,815.8 L260.4,813.7 L260.2,811.8 L260.0,810.2 L259.7,809.0 L259.4,808.3 L258.9,808.0 Z" fill="#a3c4f2" stroke="#6a8cc6" stroke-width="0.7" stroke-linejoin="round"/>
<path d="M262,818 C263.3,817.3 267.7,815.0 270.0,814.0 C272.3,813.0 274.2,811.3 276.0,812.0 C277.8,812.7 280.2,817.0 281.0,818.0" fill="none" stroke="#6a8cc6" stroke-width="2.5" stroke-linecap="round" stroke-linejoin="round"/>
<path d="M262,818 C263.3,817.3 267.7,815.0 270.0,814.0 C272.3,813.0 274.2,811.3 276.0,812.0 C277.8,812.7 280.2,817.0 281.0,818.0" fill="none" stroke="#a3c4f2" stroke-width="1.7" stroke-linecap="round" stroke-linejoin="round"/>
<path d="M286.2,825.4 L286.9,825.1 L287.7,824.3 L288.5,823.0 L289.4,821.3 L290.3,819.2 L291.3,817.0 L292.2,814.6 L293.2,812.3 L294.2,810.0 L295.1,808.0 L296.0,806.3 L296.8,805.0 L297.6,804.1 L298.3,803.8 L301.1,803.5 L300.4,803.8 L299.6,804.6 L298.8,805.9 L297.9,807.7 L296.9,809.7 L296.0,811.9 L295.0,814.3 L294.1,816.6 L293.1,818.9 L292.2,820.9 L291.3,822.6 L290.5,823.9 L289.7,824.8 L289.0,825.1 Z" fill="#6a8cc6" stroke="#6a8cc6" stroke-width="0.6" stroke-linejoin="round"/>
<path d="M305.1,823.1 L305.8,822.8 L306.5,822.0 L307.4,820.6 L308.2,818.9 L309.2,816.9 L310.1,814.7 L311.1,812.3 L312.1,810.0 L313.0,807.7 L313.9,805.7 L314.8,804.0 L315.7,802.7 L316.4,801.8 L317.1,801.5 L319.9,801.2 L319.2,801.5 L318.4,802.3 L317.6,803.6 L316.7,805.3 L315.8,807.4 L314.8,809.6 L313.9,812.0 L312.9,814.3 L311.9,816.6 L311.0,818.6 L310.1,820.3 L309.3,821.6 L308.5,822.5 L307.8,822.8 Z" fill="#6a8cc6" stroke="#6a8cc6" stroke-width="0.6" stroke-linejoin="round"/>
<path d="M323.9,820.8 L324.1,820.8 L324.4,820.6 L324.7,820.4 L324.9,820.2 L325.2,819.9 L325.5,819.5 L325.8,819.0 L326.1,818.5 L326.4,818.0 L326.7,817.4 L327.0,816.7 L327.4,816.0 L327.7,815.3 L328.0,814.6 L330.8,814.2 L330.5,815.0 L330.1,815.7 L329.8,816.4 L329.5,817.0 L329.2,817.6 L328.9,818.2 L328.6,818.7 L328.3,819.1 L328.0,819.5 L327.7,819.8 L327.4,820.1 L327.2,820.3 L326.9,820.4 L326.7,820.5 Z" fill="#6a8cc6" stroke="#6a8cc6" stroke-width="0.6" stroke-linejoin="round"/>
<path d="M278.2,807.5 L278.6,808.5 L279.0,809.8 L279.4,811.3 L279.7,813.0 L280.0,814.8 L280.4,816.7 L280.7,818.5 L281.0,820.3 L281.4,821.9 L281.7,823.2 L282.1,824.4 L282.6,825.2 L283.1,825.6 L283.6,825.8 L291.5,824.8 L291.0,824.7 L290.5,824.2 L290.1,823.4 L289.6,822.3 L289.3,820.9 L288.9,819.3 L288.6,817.6 L288.3,815.7 L288.0,813.9 L287.6,812.1 L287.3,810.4 L286.9,808.8 L286.6,807.5 L286.1,806.5 Z" fill="#a3c4f2" stroke="#6a8cc6" stroke-width="0.7" stroke-linejoin="round"/>
<path d="M295.7,804.1 L296.4,804.3 L296.9,805.0 L297.5,806.1 L297.9,807.6 L298.3,809.5 L298.7,811.6 L299.1,813.8 L299.5,816.0 L299.9,818.1 L300.3,819.9 L300.7,821.5 L301.3,822.6 L301.8,823.3 L302.5,823.4 L310.4,822.5 L309.8,822.3 L309.2,821.6 L308.7,820.5 L308.2,819.0 L307.8,817.1 L307.4,815.0 L307.0,812.8 L306.6,810.6 L306.2,808.5 L305.8,806.7 L305.4,805.1 L304.9,804.0 L304.3,803.3 L303.6,803.2 Z" fill="#a3c4f2" stroke="#6a8cc6" stroke-width="0.7" stroke-linejoin="round"/>
<path d="M314.6,801.8 L315.2,802.0 L315.8,802.7 L316.3,803.8 L316.8,805.3 L317.2,807.2 L317.6,809.3 L317.9,811.5 L318.3,813.7 L318.7,815.8 L319.1,817.6 L319.6,819.2 L320.1,820.3 L320.7,821.0 L321.3,821.1 L329.2,820.2 L328.6,820.0 L328.0,819.3 L327.5,818.2 L327.0,816.6 L326.6,814.8 L326.2,812.7 L325.9,810.5 L325.5,808.3 L325.1,806.2 L324.7,804.4 L324.2,802.8 L323.7,801.7 L323.1,801.0 L322.5,800.8 Z" fill="#a3c4f2" stroke="#6a8cc6" stroke-width="0.7" stroke-linejoin="round"/>
<path d="M215,826 C216.2,827.2 219.8,831.7 222.0,833.0 C224.2,834.3 227.0,833.8 228.0,834.0" fill="none" stroke="#6a8cc6" stroke-width="2.6" stroke-linecap="round" stroke-linejoin="round"/>
<path d="M215,826 C216.2,827.2 219.8,831.7 222.0,833.0 C224.2,834.3 227.0,833.8 228.0,834.0" fill="none" stroke="#a3c4f2" stroke-width="1.8" stroke-linecap="round" stroke-linejoin="round"/>
<line x1="273.59" y1="815.21" x2="274.50" y2="812.64" stroke="#6a8cc6" stroke-width="1.8" stroke-linecap="round"/>
<line x1="275.29" y1="816.93" x2="272.64" y2="816.97" stroke="#6a8cc6" stroke-width="1.8" stroke-linecap="round"/>
<line x1="271.30" y1="817.47" x2="268.72" y2="815.01" stroke="#6a8cc6" stroke-width="1.8" stroke-linecap="round"/>
<line x1="274.40" y1="820.61" x2="272.14" y2="818.95" stroke="#6a8cc6" stroke-width="1.8" stroke-linecap="round"/>
<line x1="276.02" y1="821.58" x2="276.48" y2="820.96" stroke="#6a8cc6" stroke-width="1.8" stroke-linecap="round"/>
<line x1="278.81" y1="814.37" x2="280.96" y2="813.11" stroke="#6a8cc6" stroke-width="1.8" stroke-linecap="round"/>
<text x="273.50" y="778.20" font-size="7.0" font-weight="bold" fill="#f070c6">Q331</text>
<text x="305.00" y="790.00" font-size="7.0" font-weight="bold" fill="#f070c6">S332</text>
<text x="279.50" y="805.20" font-size="7.0" font-weight="bold" fill="#f070c6">W334</text>
<text x="244.00" y="810.00" font-size="7.0" font-weight="bold" fill="#f070c6">A326</text>
<text x="268.50" y="835.20" font-size="7.0" font-weight="bold" fill="#86a4dc">L330</text>
<path d="M16,903 C17.3,904.2 21.5,907.8 24.0,910.0 C26.5,912.2 28.7,915.0 31.0,916.0 C33.3,917.0 36.8,916.0 38.0,916.0" fill="none" stroke="#c96aa6" stroke-width="2.4000000000000004" stroke-linecap="round" stroke-linejoin="round"/>
<path d="M16,903 C17.3,904.2 21.5,907.8 24.0,910.0 C26.5,912.2 28.7,915.0 31.0,916.0 C33.3,917.0 36.8,916.0 38.0,916.0" fill="none" stroke="#f39ad8" stroke-width="1.6" stroke-linecap="round" stroke-linejoin="round"/>
<path d="M108,876 C108.8,875.3 111.7,871.3 113.0,872.0 C114.3,872.7 115.5,878.7 116.0,880.0" fill="none" stroke="#c96aa6" stroke-width="2.4000000000000004" stroke-linecap="round" stroke-linejoin="round"/>
<path d="M108,876 C108.8,875.3 111.7,871.3 113.0,872.0 C114.3,872.7 115.5,878.7 116.0,880.0" fill="none" stroke="#f39ad8" stroke-width="1.6" stroke-linecap="round" stroke-linejoin="round"/>
<path d="M110,850 C110.7,851.3 112.8,855.0 114.0,858.0 C115.2,861.0 115.5,865.2 117.0,868.0 C118.5,870.8 119.5,873.5 123.0,875.0 C126.5,876.5 134.5,874.7 138.0,877.0 C141.5,879.3 143.2,884.7 144.0,889.0 C144.8,893.3 142.5,898.5 143.0,903.0 C143.5,907.5 146.3,911.8 147.0,916.0 C147.7,920.2 147.3,925.2 147.0,928.0 C146.7,930.8 145.3,932.2 145.0,933.0" fill="none" stroke="#c96aa6" stroke-width="2.4000000000000004" stroke-linecap="round" stroke-linejoin="round"/>
<path d="M110,850 C110.7,851.3 112.8,855.0 114.0,858.0 C115.2,861.0 115.5,865.2 117.0,868.0 C118.5,870.8 119.5,873.5 123.0,875.0 C126.5,876.5 134.5,874.7 138.0,877.0 C141.5,879.3 143.2,884.7 144.0,889.0 C144.8,893.3 142.5,898.5 143.0,903.0 C143.5,907.5 146.3,911.8 147.0,916.0 C147.7,920.2 147.3,925.2 147.0,928.0 C146.7,930.8 145.3,932.2 145.0,933.0" fill="none" stroke="#f39ad8" stroke-width="1.6" stroke-linecap="round" stroke-linejoin="round"/>
<path d="M145,921 C145.5,920.5 147.5,918.5 148.0,918.0" fill="none" stroke="#c96aa6" stroke-width="2.3" stroke-linecap="round" stroke-linejoin="round"/>
<path d="M145,921 C145.5,920.5 147.5,918.5 148.0,918.0" fill="none" stroke="#f39ad8" stroke-width="1.5" stroke-linecap="round" stroke-linejoin="round"/>
<path d="M72,885 C72.7,883.7 73.7,879.0 76.0,877.0 C78.3,875.0 82.5,873.5 86.0,873.0 C89.5,872.5 94.7,872.8 97.0,874.0 C99.3,875.2 100.2,877.3 100.0,880.0 C99.8,882.7 96.7,888.3 96.0,890.0" fill="none" stroke="#a8c0e6" stroke-width="2.6" stroke-linecap="round" stroke-linejoin="round"/>
<path d="M72,885 C72.7,883.7 73.7,879.0 76.0,877.0 C78.3,875.0 82.5,873.5 86.0,873.0 C89.5,872.5 94.7,872.8 97.0,874.0 C99.3,875.2 100.2,877.3 100.0,880.0 C99.8,882.7 96.7,888.3 96.0,890.0" fill="none" stroke="#c4d6f2" stroke-width="1.8" stroke-linecap="round" stroke-linejoin="round"/>
<path d="M72,885 C71.7,886.8 69.5,892.7 70.0,896.0 C70.5,899.3 74.2,903.5 75.0,905.0" fill="none" stroke="#a8c0e6" stroke-width="2.4000000000000004" stroke-linecap="round" stroke-linejoin="round"/>
<path d="M72,885 C71.7,886.8 69.5,892.7 70.0,896.0 C70.5,899.3 74.2,903.5 75.0,905.0" fill="none" stroke="#c4d6f2" stroke-width="1.6" stroke-linecap="round" stroke-linejoin="round"/>
<path d="M40.4,894.5 L39.8,895.0 L39.5,895.9 L39.3,897.1 L39.6,898.6 L40.1,900.4 L41.0,902.2 L42.3,904.0 L43.8,905.7 L45.6,907.1 L47.7,908.3 L49.8,909.2 L52.1,909.6 L54.3,909.5 L56.5,909.0 L62.6,906.8 L60.4,907.4 L58.2,907.4 L56.0,907.0 L53.8,906.2 L51.7,905.0 L49.9,903.5 L48.4,901.8 L47.1,900.0 L46.2,898.2 L45.7,896.5 L45.4,895.0 L45.6,893.7 L45.9,892.8 L46.5,892.4 Z" fill="#c96aa6" stroke="#c96aa6" stroke-width="0.6" stroke-linejoin="round"/>
<path d="M59.8,887.7 L59.2,888.1 L58.8,889.0 L58.7,890.3 L58.9,891.8 L59.5,893.5 L60.4,895.3 L61.6,897.1 L63.2,898.8 L65.0,900.3 L67.0,901.5 L69.2,902.3 L71.5,902.7 L73.7,902.6 L75.9,902.1 L82.0,900.0 L79.8,900.5 L77.6,900.5 L75.3,900.1 L73.1,899.3 L71.1,898.1 L69.3,896.6 L67.7,894.9 L66.5,893.1 L65.6,891.3 L65.0,889.6 L64.8,888.1 L64.9,886.8 L65.3,886.0 L65.9,885.5 Z" fill="#c96aa6" stroke="#c96aa6" stroke-width="0.6" stroke-linejoin="round"/>
<path d="M79.2,880.8 L78.6,881.3 L78.2,882.1 L78.1,883.4 L78.3,884.9 L78.9,886.6 L79.8,888.4 L81.0,890.2 L82.6,891.9 L84.4,893.4 L86.4,894.6 L88.6,895.4 L90.8,895.8 L93.1,895.8 L95.2,895.3 L101.3,893.1 L99.2,893.6 L96.9,893.6 L94.7,893.2 L92.5,892.4 L90.5,891.2 L88.7,889.7 L87.1,888.1 L85.9,886.3 L85.0,884.4 L84.4,882.7 L84.2,881.2 L84.3,880.0 L84.7,879.1 L85.3,878.6 Z" fill="#c96aa6" stroke="#c96aa6" stroke-width="0.6" stroke-linejoin="round"/>
<path d="M98.6,873.9 L98.4,874.0 L98.3,874.1 L98.1,874.2 L98.0,874.3 L97.9,874.5 L97.8,874.7 L97.7,874.9 L97.6,875.1 L97.6,875.3 L97.5,875.6 L97.5,875.8 L97.5,876.1 L97.5,876.4 L97.5,876.8 L103.6,874.6 L103.6,874.3 L103.6,874.0 L103.6,873.7 L103.6,873.4 L103.7,873.1 L103.7,872.9 L103.8,872.7 L103.9,872.5 L104.0,872.3 L104.1,872.2 L104.2,872.0 L104.4,871.9 L104.5,871.8 L104.7,871.7 Z" fill="#c96aa6" stroke="#c96aa6" stroke-width="0.6" stroke-linejoin="round"/>
<path d="M41.4,895.6 L41.3,895.5 L41.1,895.4 L41.0,895.3 L40.8,895.2 L40.7,895.1 L40.5,895.0 L40.4,894.9 L40.2,894.9 L40.1,894.9 L39.9,894.8 L39.8,894.8 L39.7,894.8 L39.5,894.9 L39.4,894.9 L47.6,892.0 L47.7,892.0 L47.8,892.0 L47.9,891.9 L48.1,891.9 L48.2,892.0 L48.4,892.0 L48.5,892.0 L48.6,892.1 L48.8,892.2 L48.9,892.3 L49.1,892.4 L49.2,892.5 L49.4,892.6 L49.5,892.8 Z" fill="#f39ad8" stroke="#c96aa6" stroke-width="0.7" stroke-linejoin="round"/>
<path d="M55.5,909.4 L57.5,908.4 L59.2,907.0 L60.7,905.3 L61.9,903.3 L62.7,901.1 L63.2,898.8 L63.3,896.5 L63.2,894.3 L62.7,892.3 L62.1,890.7 L61.3,889.3 L60.4,888.4 L59.6,888.0 L58.8,888.0 L66.9,885.1 L67.7,885.1 L68.6,885.6 L69.4,886.5 L70.2,887.8 L70.9,889.4 L71.3,891.4 L71.5,893.6 L71.3,895.9 L70.9,898.2 L70.0,900.4 L68.9,902.4 L67.4,904.1 L65.6,905.5 L63.6,906.5 Z" fill="#f39ad8" stroke="#c96aa6" stroke-width="0.7" stroke-linejoin="round"/>
<path d="M74.8,902.5 L76.8,901.5 L78.6,900.2 L80.1,898.4 L81.3,896.4 L82.1,894.2 L82.6,891.9 L82.7,889.6 L82.5,887.4 L82.1,885.5 L81.5,883.8 L80.7,882.5 L79.8,881.6 L78.9,881.1 L78.2,881.1 L86.3,878.3 L87.1,878.2 L87.9,878.7 L88.8,879.6 L89.6,880.9 L90.2,882.6 L90.7,884.5 L90.8,886.7 L90.7,889.0 L90.2,891.3 L89.4,893.5 L88.2,895.5 L86.7,897.3 L85.0,898.6 L83.0,899.6 Z" fill="#f39ad8" stroke="#c96aa6" stroke-width="0.7" stroke-linejoin="round"/>
<path d="M94.2,895.6 L96.2,894.7 L98.0,893.3 L99.5,891.6 L100.6,889.5 L101.5,887.3 L101.9,885.0 L102.1,882.7 L101.9,880.6 L101.5,878.6 L100.8,876.9 L100.0,875.6 L99.2,874.7 L98.3,874.3 L97.5,874.3 L105.7,871.4 L106.5,871.4 L107.3,871.8 L108.2,872.7 L109.0,874.0 L109.6,875.7 L110.0,877.7 L110.2,879.9 L110.1,882.2 L109.6,884.5 L108.8,886.7 L107.6,888.7 L106.1,890.4 L104.3,891.8 L102.4,892.7 Z" fill="#f39ad8" stroke="#c96aa6" stroke-width="0.7" stroke-linejoin="round"/>
<ellipse cx="73" cy="929" rx="9.5" ry="9" fill="none" stroke="#6e92cc" stroke-width="3.4"/>
<ellipse cx="73" cy="929" rx="9.5" ry="9" fill="none" stroke="#a7c4ee" stroke-width="2.2"/>
<ellipse cx="73.5" cy="927.8" rx="8" ry="7.5" fill="none" stroke="#6e92cc" stroke-width="3.4"/>
<ellipse cx="73.5" cy="927.8" rx="8" ry="7.5" fill="none" stroke="#a7c4ee" stroke-width="2.2"/>
<ellipse cx="74" cy="926.8" rx="6.5" ry="6" fill="none" stroke="#6e92cc" stroke-width="3.4"/>
<ellipse cx="74" cy="926.8" rx="6.5" ry="6" fill="none" stroke="#a7c4ee" stroke-width="2.2"/>
<path d="M82,922 C82.7,920.3 84.3,914.7 86.0,912.0 C87.7,909.3 89.7,907.2 92.0,906.0 C94.3,904.8 97.3,904.7 100.0,905.0 C102.7,905.3 106.0,906.3 108.0,908.0 C110.0,909.7 112.0,912.8 112.0,915.0 C112.0,917.2 108.7,920.0 108.0,921.0" fill="none" stroke="#6a8cc6" stroke-width="3.8" stroke-linecap="round" stroke-linejoin="round"/>
<path d="M82,922 C82.7,920.3 84.3,914.7 86.0,912.0 C87.7,909.3 89.7,907.2 92.0,906.0 C94.3,904.8 97.3,904.7 100.0,905.0 C102.7,905.3 106.0,906.3 108.0,908.0 C110.0,909.7 112.0,912.8 112.0,915.0 C112.0,917.2 108.7,920.0 108.0,921.0" fill="none" stroke="#a3c4f2" stroke-width="3.0" stroke-linecap="round" stroke-linejoin="round"/>
<path d="M84,905 C84.7,903.8 87.7,900.7 88.0,898.0 C88.3,895.3 86.3,890.5 86.0,889.0" fill="none" stroke="#6a8cc6" stroke-width="2.4000000000000004" stroke-linecap="round" stroke-linejoin="round"/>
<path d="M84,905 C84.7,903.8 87.7,900.7 88.0,898.0 C88.3,895.3 86.3,890.5 86.0,889.0" fill="none" stroke="#a3c4f2" stroke-width="1.6" stroke-linecap="round" stroke-linejoin="round"/>
<line x1="58.72" y1="910.55" x2="56.48" y2="911.78" stroke="#c96aa6" stroke-width="1.8" stroke-linecap="round"/>
<line x1="57.02" y1="901.97" x2="60.02" y2="900.23" stroke="#c96aa6" stroke-width="1.8" stroke-linecap="round"/>
<line x1="63.70" y1="904.51" x2="63.42" y2="904.48" stroke="#c96aa6" stroke-width="1.8" stroke-linecap="round"/>
<line x1="58.31" y1="908.97" x2="55.84" y2="907.37" stroke="#c96aa6" stroke-width="1.8" stroke-linecap="round"/>
<line x1="56.24" y1="902.20" x2="55.69" y2="904.61" stroke="#c96aa6" stroke-width="1.8" stroke-linecap="round"/>
<line x1="60.55" y1="900.36" x2="59.10" y2="903.31" stroke="#c96aa6" stroke-width="1.8" stroke-linecap="round"/>
<line x1="56.76" y1="906.44" x2="56.02" y2="907.41" stroke="#c96aa6" stroke-width="1.8" stroke-linecap="round"/>
<line x1="60.06" y1="907.30" x2="60.05" y2="908.19" stroke="#c96aa6" stroke-width="1.8" stroke-linecap="round"/>
<line x1="66.82" y1="905.98" x2="64.67" y2="903.36" stroke="#c96aa6" stroke-width="1.8" stroke-linecap="round"/>
<line x1="67.35" y1="904.86" x2="65.52" y2="907.54" stroke="#c96aa6" stroke-width="1.8" stroke-linecap="round"/>
<line x1="62.95" y1="907.75" x2="65.23" y2="906.46" stroke="#c96aa6" stroke-width="1.8" stroke-linecap="round"/>
<line x1="60.28" y1="909.54" x2="58.09" y2="911.12" stroke="#c96aa6" stroke-width="1.8" stroke-linecap="round"/>
<line x1="85.63" y1="906.73" x2="83.46" y2="908.93" stroke="#6a8cc6" stroke-width="1.8" stroke-linecap="round"/>
<line x1="81.06" y1="908.03" x2="83.45" y2="905.51" stroke="#6a8cc6" stroke-width="1.8" stroke-linecap="round"/>
<line x1="86.54" y1="909.17" x2="83.79" y2="908.44" stroke="#6a8cc6" stroke-width="1.8" stroke-linecap="round"/>
<line x1="88.03" y1="907.52" x2="89.39" y2="905.46" stroke="#6a8cc6" stroke-width="1.8" stroke-linecap="round"/>
<line x1="83.38" y1="904.11" x2="83.42" y2="906.65" stroke="#6a8cc6" stroke-width="1.8" stroke-linecap="round"/>
<line x1="86.90" y1="910.74" x2="86.21" y2="912.22" stroke="#6a8cc6" stroke-width="1.8" stroke-linecap="round"/>
<line x1="82.02" y1="905.91" x2="83.06" y2="907.27" stroke="#6a8cc6" stroke-width="1.8" stroke-linecap="round"/>
<line x1="85.22" y1="903.88" x2="83.82" y2="902.14" stroke="#6a8cc6" stroke-width="1.8" stroke-linecap="round"/>
<line x1="83.81" y1="911.10" x2="82.01" y2="913.41" stroke="#6a8cc6" stroke-width="1.8" stroke-linecap="round"/>
<line x1="76.57" y1="896.43" x2="77.04" y2="894.67" stroke="#d8d8d8" stroke-width="1.8" stroke-linecap="round"/>
<line x1="78.51" y1="899.59" x2="79.43" y2="897.55" stroke="#d8d8d8" stroke-width="1.8" stroke-linecap="round"/>
<line x1="76.17" y1="895.62" x2="74.67" y2="898.34" stroke="#d8d8d8" stroke-width="1.8" stroke-linecap="round"/>
<line x1="79.97" y1="893.36" x2="82.13" y2="893.98" stroke="#d8d8d8" stroke-width="1.8" stroke-linecap="round"/>
<line x1="75.05" y1="895.27" x2="76.10" y2="895.01" stroke="#d8d8d8" stroke-width="1.8" stroke-linecap="round"/>
<text x="58.30" y="869.60" font-size="7.0" font-weight="bold" fill="#f070c6">A325/326/329</text>
<text x="28.40" y="903.80" font-size="7.0" font-weight="bold" fill="#f070c6">M322</text>
<text x="40.70" y="928.30" font-size="7.0" font-weight="bold" fill="#f070c6">W334</text>
<text x="87.10" y="939.70" font-size="7.0" font-weight="bold" fill="#86a4dc">F316</text>
<path d="M236,894 C234.3,893.3 229.3,891.3 226.0,890.0 C222.7,888.7 218.5,888.3 216.0,886.0 C213.5,883.7 212.8,878.5 211.0,876.0 C209.2,873.5 207.5,870.3 205.0,871.0 C202.5,871.7 199.3,877.7 196.0,880.0 C192.7,882.3 187.2,883.0 185.0,885.0 C182.8,887.0 181.0,889.7 183.0,892.0 C185.0,894.3 194.3,896.5 197.0,899.0 C199.7,901.5 200.5,904.0 199.0,907.0 C197.5,910.0 191.8,914.2 188.0,917.0 C184.2,919.8 178.8,921.3 176.0,924.0 C173.2,926.7 170.5,930.0 171.0,933.0 C171.5,936.0 175.8,940.3 179.0,942.0 C182.2,943.7 186.2,944.0 190.0,943.0 C193.8,942.0 199.0,938.7 202.0,936.0 C205.0,933.3 207.3,929.5 208.0,927.0 C208.7,924.5 206.3,922.0 206.0,921.0" fill="none" stroke="#6a8cc6" stroke-width="2.5" stroke-linecap="round" stroke-linejoin="round"/>
<path d="M236,894 C234.3,893.3 229.3,891.3 226.0,890.0 C222.7,888.7 218.5,888.3 216.0,886.0 C213.5,883.7 212.8,878.5 211.0,876.0 C209.2,873.5 207.5,870.3 205.0,871.0 C202.5,871.7 199.3,877.7 196.0,880.0 C192.7,882.3 187.2,883.0 185.0,885.0 C182.8,887.0 181.0,889.7 183.0,892.0 C185.0,894.3 194.3,896.5 197.0,899.0 C199.7,901.5 200.5,904.0 199.0,907.0 C197.5,910.0 191.8,914.2 188.0,917.0 C184.2,919.8 178.8,921.3 176.0,924.0 C173.2,926.7 170.5,930.0 171.0,933.0 C171.5,936.0 175.8,940.3 179.0,942.0 C182.2,943.7 186.2,944.0 190.0,943.0 C193.8,942.0 199.0,938.7 202.0,936.0 C205.0,933.3 207.3,929.5 208.0,927.0 C208.7,924.5 206.3,922.0 206.0,921.0" fill="none" stroke="#a3c4f2" stroke-width="1.7" stroke-linecap="round" stroke-linejoin="round"/>
<path d="M289,873 C290.0,872.0 292.7,867.2 295.0,867.0 C297.3,866.8 301.0,870.0 303.0,872.0 C305.0,874.0 304.7,877.5 307.0,879.0 C309.3,880.5 314.8,879.7 317.0,881.0 C319.2,882.3 321.7,885.3 320.0,887.0 C318.3,888.7 309.7,888.8 307.0,891.0 C304.3,893.2 304.7,896.5 304.0,900.0 C303.3,903.5 304.8,909.7 303.0,912.0 C301.2,914.3 296.7,914.2 293.0,914.0 C289.3,913.8 285.5,910.7 281.0,911.0 C276.5,911.3 270.5,914.5 266.0,916.0 C261.5,917.5 258.0,920.3 254.0,920.0 C250.0,919.7 244.0,915.0 242.0,914.0" fill="none" stroke="#c96aa6" stroke-width="2.4000000000000004" stroke-linecap="round" stroke-linejoin="round"/>
<path d="M289,873 C290.0,872.0 292.7,867.2 295.0,867.0 C297.3,866.8 301.0,870.0 303.0,872.0 C305.0,874.0 304.7,877.5 307.0,879.0 C309.3,880.5 314.8,879.7 317.0,881.0 C319.2,882.3 321.7,885.3 320.0,887.0 C318.3,888.7 309.7,888.8 307.0,891.0 C304.3,893.2 304.7,896.5 304.0,900.0 C303.3,903.5 304.8,909.7 303.0,912.0 C301.2,914.3 296.7,914.2 293.0,914.0 C289.3,913.8 285.5,910.7 281.0,911.0 C276.5,911.3 270.5,914.5 266.0,916.0 C261.5,917.5 258.0,920.3 254.0,920.0 C250.0,919.7 244.0,915.0 242.0,914.0" fill="none" stroke="#f39ad8" stroke-width="1.6" stroke-linecap="round" stroke-linejoin="round"/>
<path d="M240,913 C239.7,915.0 238.7,920.5 238.0,925.0 C237.3,929.5 236.2,935.7 236.0,940.0 C235.8,944.3 236.8,949.2 237.0,951.0" fill="none" stroke="#c96aa6" stroke-width="2.4000000000000004" stroke-linecap="round" stroke-linejoin="round"/>
<path d="M240,913 C239.7,915.0 238.7,920.5 238.0,925.0 C237.3,929.5 236.2,935.7 236.0,940.0 C235.8,944.3 236.8,949.2 237.0,951.0" fill="none" stroke="#f39ad8" stroke-width="1.6" stroke-linecap="round" stroke-linejoin="round"/>
<path d="M214,921 C215.0,919.8 217.8,916.2 220.0,914.0 C222.2,911.8 225.8,909.0 227.0,908.0" fill="none" stroke="#c96aa6" stroke-width="2.4000000000000004" stroke-linecap="round" stroke-linejoin="round"/>
<path d="M214,921 C215.0,919.8 217.8,916.2 220.0,914.0 C222.2,911.8 225.8,909.0 227.0,908.0" fill="none" stroke="#f39ad8" stroke-width="1.6" stroke-linecap="round" stroke-linejoin="round"/>
<path d="M231.8,908.0 L232.4,907.9 L233.2,907.4 L234.1,906.5 L235.1,905.2 L236.2,903.7 L237.4,902.1 L238.7,900.3 L239.9,898.6 L241.1,896.9 L242.2,895.5 L243.2,894.2 L244.1,893.3 L244.9,892.8 L245.5,892.6 L247.7,892.9 L247.1,893.1 L246.3,893.6 L245.4,894.5 L244.4,895.7 L243.3,897.2 L242.1,898.9 L240.9,900.6 L239.6,902.4 L238.4,904.0 L237.3,905.5 L236.3,906.7 L235.4,907.6 L234.6,908.2 L234.0,908.3 Z" fill="#6a8cc6" stroke="#6a8cc6" stroke-width="0.6" stroke-linejoin="round"/>
<path d="M246.8,910.0 L247.4,909.8 L248.2,909.3 L249.1,908.4 L250.1,907.2 L251.2,905.7 L252.4,904.0 L253.7,902.3 L254.9,900.5 L256.1,898.9 L257.2,897.4 L258.2,896.1 L259.1,895.2 L259.9,894.7 L260.5,894.6 L262.7,894.9 L262.1,895.0 L261.3,895.5 L260.4,896.4 L259.4,897.7 L258.3,899.1 L257.1,900.8 L255.9,902.5 L254.6,904.3 L253.4,906.0 L252.3,907.4 L251.3,908.7 L250.4,909.6 L249.6,910.1 L249.0,910.2 Z" fill="#6a8cc6" stroke="#6a8cc6" stroke-width="0.6" stroke-linejoin="round"/>
<path d="M261.8,911.9 L262.4,911.7 L263.2,911.2 L264.1,910.3 L265.1,909.1 L266.2,907.6 L267.4,905.9 L268.7,904.2 L269.9,902.4 L271.1,900.8 L272.2,899.3 L273.2,898.1 L274.1,897.2 L274.9,896.6 L275.5,896.5 L277.7,896.8 L277.1,896.9 L276.3,897.5 L275.4,898.4 L274.4,899.6 L273.3,901.1 L272.1,902.7 L270.9,904.5 L269.6,906.2 L268.4,907.9 L267.3,909.4 L266.3,910.6 L265.4,911.5 L264.6,912.0 L264.0,912.2 Z" fill="#6a8cc6" stroke="#6a8cc6" stroke-width="0.6" stroke-linejoin="round"/>
<path d="M229.7,907.8 L229.7,907.8 L229.7,907.8 L229.7,907.8 L229.7,907.8 L229.7,907.8 L229.7,907.8 L229.7,907.8 L229.7,907.8 L229.7,907.8 L229.7,907.8 L229.7,907.8 L229.7,907.8 L229.7,907.8 L229.7,907.8 L236.0,908.6 L236.0,908.6 L236.0,908.6 L236.0,908.6 L236.0,908.6 L236.0,908.6 L236.0,908.6 L236.0,908.6 L236.0,908.6 L236.0,908.6 L236.0,908.6 L236.0,908.6 L236.0,908.6 L236.0,908.6 L236.0,908.6 Z" fill="#a3c4f2" stroke="#6a8cc6" stroke-width="0.7" stroke-linejoin="round"/>
<path d="M243.5,892.4 L243.9,892.7 L244.2,893.3 L244.4,894.4 L244.4,895.7 L244.4,897.4 L244.3,899.2 L244.1,901.0 L243.9,902.9 L243.8,904.7 L243.8,906.3 L243.8,907.7 L244.0,908.7 L244.3,909.4 L244.7,909.7 L251.0,910.5 L250.6,910.2 L250.3,909.6 L250.1,908.5 L250.1,907.1 L250.1,905.5 L250.2,903.7 L250.4,901.8 L250.6,900.0 L250.7,898.2 L250.7,896.5 L250.7,895.2 L250.5,894.1 L250.2,893.5 L249.8,893.2 Z" fill="#a3c4f2" stroke="#6a8cc6" stroke-width="0.7" stroke-linejoin="round"/>
<path d="M258.5,894.3 L258.9,894.6 L259.2,895.3 L259.4,896.3 L259.4,897.7 L259.4,899.3 L259.3,901.1 L259.1,903.0 L258.9,904.8 L258.8,906.6 L258.8,908.3 L258.8,909.6 L259.0,910.7 L259.3,911.3 L259.7,911.6 L266.0,912.4 L265.6,912.1 L265.3,911.5 L265.1,910.4 L265.1,909.1 L265.1,907.5 L265.2,905.7 L265.4,903.8 L265.6,901.9 L265.7,900.1 L265.7,898.5 L265.7,897.1 L265.5,896.1 L265.2,895.4 L264.8,895.1 Z" fill="#a3c4f2" stroke="#6a8cc6" stroke-width="0.7" stroke-linejoin="round"/>
<path d="M273.5,896.2 L273.6,896.3 L273.7,896.3 L273.8,896.3 L273.8,896.4 L273.9,896.5 L274.0,896.6 L274.1,896.7 L274.1,896.9 L274.2,897.0 L274.2,897.2 L274.3,897.4 L274.3,897.5 L274.3,897.8 L274.4,898.0 L280.7,898.8 L280.6,898.6 L280.6,898.4 L280.6,898.2 L280.5,898.0 L280.5,897.8 L280.4,897.7 L280.4,897.5 L280.3,897.4 L280.2,897.3 L280.1,897.2 L280.1,897.2 L280.0,897.1 L279.9,897.1 L279.8,897.0 Z" fill="#a3c4f2" stroke="#6a8cc6" stroke-width="0.7" stroke-linejoin="round"/>
<path d="M275,906 C276.3,905.8 280.5,905.8 283.0,905.0 C285.5,904.2 288.8,901.7 290.0,901.0" fill="none" stroke="#6a8cc6" stroke-width="2.4000000000000004" stroke-linecap="round" stroke-linejoin="round"/>
<path d="M275,906 C276.3,905.8 280.5,905.8 283.0,905.0 C285.5,904.2 288.8,901.7 290.0,901.0" fill="none" stroke="#a3c4f2" stroke-width="1.6" stroke-linecap="round" stroke-linejoin="round"/>
<path d="M220.6,867.0 L222.3,867.2 L224.0,867.8 L225.6,868.7 L227.0,870.0 L228.2,871.5 L229.2,873.2 L229.9,875.0 L230.3,876.8 L230.5,878.5 L230.5,880.0 L230.2,881.3 L229.8,882.2 L229.3,882.8 L228.7,883.0 L233.9,883.0 L234.5,882.8 L235.0,882.2 L235.4,881.3 L235.6,880.0 L235.7,878.5 L235.5,876.8 L235.0,875.0 L234.3,873.2 L233.3,871.5 L232.1,870.0 L230.7,868.7 L229.1,867.8 L227.5,867.2 L225.7,867.0 Z" fill="#c96aa6" stroke="#c96aa6" stroke-width="0.6" stroke-linejoin="round"/>
<path d="M236.9,867.0 L238.6,867.2 L240.3,867.8 L241.9,868.7 L243.3,870.0 L244.5,871.5 L245.5,873.2 L246.2,875.0 L246.6,876.8 L246.8,878.5 L246.8,880.0 L246.5,881.3 L246.1,882.2 L245.6,882.8 L245.0,883.0 L250.2,883.0 L250.8,882.8 L251.3,882.2 L251.7,881.3 L251.9,880.0 L252.0,878.5 L251.8,876.8 L251.3,875.0 L250.6,873.2 L249.6,871.5 L248.4,870.0 L247.0,868.7 L245.5,867.8 L243.8,867.2 L242.0,867.0 Z" fill="#c96aa6" stroke="#c96aa6" stroke-width="0.6" stroke-linejoin="round"/>
<path d="M253.2,867.0 L254.9,867.2 L256.6,867.8 L258.2,868.7 L259.6,870.0 L260.8,871.5 L261.8,873.2 L262.5,875.0 L262.9,876.8 L263.1,878.5 L263.1,880.0 L262.9,881.3 L262.4,882.2 L261.9,882.8 L261.3,883.0 L266.5,883.0 L267.1,882.8 L267.6,882.2 L268.0,881.3 L268.2,880.0 L268.3,878.5 L268.1,876.8 L267.6,875.0 L266.9,873.2 L265.9,871.5 L264.7,870.0 L263.3,868.7 L261.8,867.8 L260.1,867.2 L258.3,867.0 Z" fill="#c96aa6" stroke="#c96aa6" stroke-width="0.6" stroke-linejoin="round"/>
<path d="M269.5,867.0 L271.2,867.2 L272.9,867.8 L274.5,868.7 L275.9,870.0 L277.1,871.5 L278.1,873.2 L278.8,875.0 L279.2,876.8 L279.4,878.5 L279.4,880.0 L279.2,881.3 L278.7,882.2 L278.2,882.8 L277.6,883.0 L282.8,883.0 L283.4,882.8 L283.9,882.2 L284.3,881.3 L284.5,880.0 L284.6,878.5 L284.4,876.8 L283.9,875.0 L283.2,873.2 L282.2,871.5 L281.0,870.0 L279.6,868.7 L278.1,867.8 L276.4,867.2 L274.6,867.0 Z" fill="#c96aa6" stroke="#c96aa6" stroke-width="0.6" stroke-linejoin="round"/>
<path d="M285.8,867.0 L286.2,867.0 L286.5,867.0 L286.9,867.1 L287.2,867.1 L287.5,867.2 L287.9,867.3 L288.2,867.4 L288.6,867.5 L288.9,867.6 L289.2,867.8 L289.6,868.0 L289.9,868.1 L290.2,868.3 L290.5,868.5 L295.6,868.5 L295.3,868.3 L295.0,868.1 L294.7,868.0 L294.4,867.8 L294.0,867.6 L293.7,867.5 L293.4,867.4 L293.0,867.3 L292.7,867.2 L292.3,867.1 L292.0,867.1 L291.6,867.0 L291.3,867.0 L290.9,867.0 Z" fill="#c96aa6" stroke="#c96aa6" stroke-width="0.6" stroke-linejoin="round"/>
<path d="M211.6,883.0 L211.0,882.8 L210.5,882.2 L210.1,881.3 L209.8,880.0 L209.8,878.5 L210.0,876.8 L210.4,875.0 L211.1,873.2 L212.1,871.5 L213.3,870.0 L214.7,868.7 L216.3,867.8 L218.0,867.2 L219.7,867.0 L226.6,867.0 L224.8,867.2 L223.1,867.8 L221.6,868.7 L220.2,870.0 L219.0,871.5 L218.0,873.2 L217.3,875.0 L216.8,876.8 L216.6,878.5 L216.7,880.0 L216.9,881.3 L217.3,882.2 L217.8,882.8 L218.4,883.0 Z" fill="#f39ad8" stroke="#c96aa6" stroke-width="0.7" stroke-linejoin="round"/>
<path d="M227.9,883.0 L227.3,882.8 L226.8,882.2 L226.4,881.3 L226.1,880.0 L226.1,878.5 L226.3,876.8 L226.7,875.0 L227.5,873.2 L228.4,871.5 L229.6,870.0 L231.0,868.7 L232.6,867.8 L234.3,867.2 L236.0,867.0 L242.9,867.0 L241.1,867.2 L239.5,867.8 L237.9,868.7 L236.5,870.0 L235.3,871.5 L234.3,873.2 L233.6,875.0 L233.1,876.8 L232.9,878.5 L233.0,880.0 L233.2,881.3 L233.6,882.2 L234.1,882.8 L234.7,883.0 Z" fill="#f39ad8" stroke="#c96aa6" stroke-width="0.7" stroke-linejoin="round"/>
<path d="M244.2,883.0 L243.6,882.8 L243.1,882.2 L242.7,881.3 L242.4,880.0 L242.4,878.5 L242.6,876.8 L243.0,875.0 L243.8,873.2 L244.7,871.5 L245.9,870.0 L247.3,868.7 L248.9,867.8 L250.6,867.2 L252.3,867.0 L259.2,867.0 L257.4,867.2 L255.8,867.8 L254.2,868.7 L252.8,870.0 L251.6,871.5 L250.6,873.2 L249.9,875.0 L249.4,876.8 L249.2,878.5 L249.3,880.0 L249.5,881.3 L249.9,882.2 L250.5,882.8 L251.0,883.0 Z" fill="#f39ad8" stroke="#c96aa6" stroke-width="0.7" stroke-linejoin="round"/>
<path d="M260.5,883.0 L259.9,882.8 L259.4,882.2 L259.0,881.3 L258.7,880.0 L258.7,878.5 L258.9,876.8 L259.3,875.0 L260.1,873.2 L261.0,871.5 L262.2,870.0 L263.6,868.7 L265.2,867.8 L266.9,867.2 L268.6,867.0 L275.5,867.0 L273.7,867.2 L272.1,867.8 L270.5,868.7 L269.1,870.0 L267.9,871.5 L266.9,873.2 L266.2,875.0 L265.7,876.8 L265.5,878.5 L265.6,880.0 L265.8,881.3 L266.2,882.2 L266.8,882.8 L267.3,883.0 Z" fill="#f39ad8" stroke="#c96aa6" stroke-width="0.7" stroke-linejoin="round"/>
<path d="M276.8,883.0 L276.2,882.8 L275.7,882.2 L275.3,881.3 L275.0,880.0 L275.0,878.5 L275.2,876.8 L275.7,875.0 L276.4,873.2 L277.3,871.5 L278.5,870.0 L279.9,868.7 L281.5,867.8 L283.2,867.2 L284.9,867.0 L291.8,867.0 L290.1,867.2 L288.4,867.8 L286.8,868.7 L285.4,870.0 L284.2,871.5 L283.2,873.2 L282.5,875.0 L282.0,876.8 L281.9,878.5 L281.9,880.0 L282.1,881.3 L282.5,882.2 L283.1,882.8 L283.6,883.0 Z" fill="#f39ad8" stroke="#c96aa6" stroke-width="0.7" stroke-linejoin="round"/>
<line x1="299.43" y1="892.72" x2="301.97" y2="892.51" stroke="#c96aa6" stroke-width="1.8" stroke-linecap="round"/>
<line x1="300.09" y1="893.05" x2="298.20" y2="893.12" stroke="#c96aa6" stroke-width="1.8" stroke-linecap="round"/>
<line x1="301.56" y1="895.52" x2="299.12" y2="894.34" stroke="#c96aa6" stroke-width="1.8" stroke-linecap="round"/>
<line x1="295.09" y1="895.72" x2="296.25" y2="892.97" stroke="#c96aa6" stroke-width="1.8" stroke-linecap="round"/>
<line x1="305.79" y1="897.58" x2="306.71" y2="898.27" stroke="#c96aa6" stroke-width="1.8" stroke-linecap="round"/>
<line x1="295.89" y1="886.18" x2="296.06" y2="883.54" stroke="#c96aa6" stroke-width="1.8" stroke-linecap="round"/>
<line x1="296.28" y1="888.90" x2="293.46" y2="888.69" stroke="#c96aa6" stroke-width="1.8" stroke-linecap="round"/>
<line x1="299.29" y1="896.11" x2="299.40" y2="896.95" stroke="#c96aa6" stroke-width="1.8" stroke-linecap="round"/>
<line x1="300.00" y1="893.95" x2="299.74" y2="892.62" stroke="#c96aa6" stroke-width="1.8" stroke-linecap="round"/>
<line x1="305.97" y1="897.95" x2="308.01" y2="899.20" stroke="#c96aa6" stroke-width="1.8" stroke-linecap="round"/>
<line x1="297.78" y1="888.76" x2="296.52" y2="886.18" stroke="#c96aa6" stroke-width="1.8" stroke-linecap="round"/>
<line x1="303.20" y1="890.80" x2="305.27" y2="890.12" stroke="#c96aa6" stroke-width="1.8" stroke-linecap="round"/>
<line x1="269.80" y1="889.26" x2="270.80" y2="887.12" stroke="#f39ad8" stroke-width="1.8" stroke-linecap="round"/>
<line x1="266.09" y1="887.00" x2="264.73" y2="888.86" stroke="#f39ad8" stroke-width="1.8" stroke-linecap="round"/>
<line x1="271.52" y1="888.81" x2="271.87" y2="889.78" stroke="#f39ad8" stroke-width="1.8" stroke-linecap="round"/>
<line x1="267.16" y1="887.52" x2="265.14" y2="889.96" stroke="#f39ad8" stroke-width="1.8" stroke-linecap="round"/>
<line x1="266.47" y1="890.55" x2="263.92" y2="891.67" stroke="#f39ad8" stroke-width="1.8" stroke-linecap="round"/>
<line x1="268.70" y1="887.24" x2="270.75" y2="884.35" stroke="#f39ad8" stroke-width="1.8" stroke-linecap="round"/>
<line x1="281.07" y1="896.48" x2="282.18" y2="898.58" stroke="#6a8cc6" stroke-width="1.8" stroke-linecap="round"/>
<line x1="280.49" y1="892.84" x2="278.37" y2="891.20" stroke="#6a8cc6" stroke-width="1.8" stroke-linecap="round"/>
<line x1="284.87" y1="892.04" x2="285.06" y2="890.33" stroke="#6a8cc6" stroke-width="1.8" stroke-linecap="round"/>
<line x1="281.36" y1="894.45" x2="283.38" y2="895.10" stroke="#6a8cc6" stroke-width="1.8" stroke-linecap="round"/>
<line x1="279.12" y1="893.21" x2="277.00" y2="895.43" stroke="#6a8cc6" stroke-width="1.8" stroke-linecap="round"/>
<line x1="285.48" y1="897.45" x2="287.44" y2="898.92" stroke="#6a8cc6" stroke-width="1.8" stroke-linecap="round"/>
<line x1="286.59" y1="897.35" x2="285.13" y2="899.45" stroke="#6a8cc6" stroke-width="1.8" stroke-linecap="round"/>
<line x1="282.89" y1="897.04" x2="283.28" y2="896.62" stroke="#6a8cc6" stroke-width="1.8" stroke-linecap="round"/>
<circle cx="290.00" cy="890.00" r="1.60" fill="#f0e040"/>
<circle cx="300.00" cy="895.00" r="1.60" fill="#f0e040"/>
<circle cx="277.00" cy="884.00" r="1.30" fill="#e02020"/>
<circle cx="282.00" cy="888.00" r="1.20" fill="#e02020"/>
<text x="266.40" y="855.80" font-size="7.0" font-weight="bold" fill="#f070c6">S332/333</text>
<text x="313.00" y="875.00" font-size="7.0" font-weight="bold" fill="#f070c6">L340</text>
<text x="241.00" y="892.00" font-size="7.0" font-weight="bold" fill="#f070c6">A329</text>
<text x="280.40" y="909.50" font-size="7.0" font-weight="bold" fill="#86a4dc">M322</text>
<text x="310.00" y="909.50" font-size="7.0" font-weight="bold" fill="#f070c6">M336</text>
<text x="354.80" y="405.20" font-size="25.5" font-weight="bold" fill="#000">F</text>
<rect x="407.90" y="458.57" width="4.80" height="8.03" fill="#0b0bf5"/>
<line x1="410.30" y1="457.70" x2="410.30" y2="459.07" stroke="#111" stroke-width="0.9"/>
<line x1="408.80" y1="457.70" x2="411.80" y2="457.70" stroke="#111" stroke-width="0.9"/>
<rect x="414.48" y="440.60" width="4.80" height="26.00" fill="#0b0bf5"/>
<line x1="416.88" y1="438.33" x2="416.88" y2="441.10" stroke="#111" stroke-width="0.9"/>
<line x1="415.38" y1="438.33" x2="418.38" y2="438.33" stroke="#111" stroke-width="0.9"/>
<rect x="421.07" y="446.53" width="4.80" height="20.07" fill="#0b0bf5"/>
<line x1="423.47" y1="444.09" x2="423.47" y2="447.03" stroke="#111" stroke-width="0.9"/>
<line x1="421.97" y1="444.09" x2="424.97" y2="444.09" stroke="#111" stroke-width="0.9"/>
<rect x="427.65" y="426.47" width="4.80" height="40.13" fill="#0b0bf5"/>
<line x1="430.05" y1="422.98" x2="430.05" y2="426.97" stroke="#111" stroke-width="0.9"/>
<line x1="428.55" y1="422.98" x2="431.55" y2="422.98" stroke="#111" stroke-width="0.9"/>
<rect x="434.23" y="458.57" width="4.80" height="8.03" fill="#0b0bf5"/>
<line x1="436.63" y1="457.70" x2="436.63" y2="459.07" stroke="#111" stroke-width="0.9"/>
<line x1="435.13" y1="457.70" x2="438.13" y2="457.70" stroke="#111" stroke-width="0.9"/>
<rect x="440.82" y="457.35" width="4.80" height="9.25" fill="#0b0bf5"/>
<line x1="443.22" y1="456.30" x2="443.22" y2="457.85" stroke="#111" stroke-width="0.9"/>
<line x1="441.72" y1="456.30" x2="444.72" y2="456.30" stroke="#111" stroke-width="0.9"/>
<rect x="447.40" y="427.16" width="4.80" height="39.44" fill="#0b0bf5"/>
<line x1="449.80" y1="424.02" x2="449.80" y2="427.66" stroke="#111" stroke-width="0.9"/>
<line x1="448.30" y1="424.02" x2="451.30" y2="424.02" stroke="#111" stroke-width="0.9"/>
<rect x="453.98" y="459.10" width="4.80" height="7.50" fill="#0b0bf5"/>
<line x1="456.38" y1="458.22" x2="456.38" y2="459.60" stroke="#111" stroke-width="0.9"/>
<line x1="454.88" y1="458.22" x2="457.88" y2="458.22" stroke="#111" stroke-width="0.9"/>
<rect x="460.56" y="453.34" width="4.80" height="13.26" fill="#0b0bf5"/>
<line x1="462.96" y1="451.77" x2="462.96" y2="453.84" stroke="#111" stroke-width="0.9"/>
<line x1="461.46" y1="451.77" x2="464.46" y2="451.77" stroke="#111" stroke-width="0.9"/>
<rect x="467.15" y="459.79" width="4.80" height="6.81" fill="#0b0bf5"/>
<line x1="469.55" y1="458.92" x2="469.55" y2="460.29" stroke="#111" stroke-width="0.9"/>
<line x1="468.05" y1="458.92" x2="471.05" y2="458.92" stroke="#111" stroke-width="0.9"/>
<rect x="473.73" y="461.02" width="4.80" height="5.58" fill="#0b0bf5"/>
<line x1="476.13" y1="460.32" x2="476.13" y2="461.52" stroke="#111" stroke-width="0.9"/>
<line x1="474.63" y1="460.32" x2="477.63" y2="460.32" stroke="#111" stroke-width="0.9"/>
<rect x="480.31" y="457.18" width="4.80" height="9.42" fill="#0b0bf5"/>
<line x1="482.71" y1="456.13" x2="482.71" y2="457.68" stroke="#111" stroke-width="0.9"/>
<line x1="481.21" y1="456.13" x2="484.21" y2="456.13" stroke="#111" stroke-width="0.9"/>
<rect x="486.90" y="436.24" width="4.80" height="30.36" fill="#0b0bf5"/>
<line x1="489.30" y1="433.45" x2="489.30" y2="436.74" stroke="#111" stroke-width="0.9"/>
<line x1="487.80" y1="433.45" x2="490.80" y2="433.45" stroke="#111" stroke-width="0.9"/>
<rect x="493.48" y="451.24" width="4.80" height="15.36" fill="#0b0bf5"/>
<line x1="495.88" y1="449.50" x2="495.88" y2="451.74" stroke="#111" stroke-width="0.9"/>
<line x1="494.38" y1="449.50" x2="497.38" y2="449.50" stroke="#111" stroke-width="0.9"/>
<rect x="500.06" y="459.97" width="4.80" height="6.63" fill="#0b0bf5"/>
<line x1="502.46" y1="459.10" x2="502.46" y2="460.47" stroke="#111" stroke-width="0.9"/>
<line x1="500.96" y1="459.10" x2="503.96" y2="459.10" stroke="#111" stroke-width="0.9"/>
<rect x="506.65" y="447.58" width="4.80" height="19.02" fill="#0b0bf5"/>
<line x1="509.05" y1="445.49" x2="509.05" y2="448.08" stroke="#111" stroke-width="0.9"/>
<line x1="507.55" y1="445.49" x2="510.55" y2="445.49" stroke="#111" stroke-width="0.9"/>
<rect x="513.23" y="441.82" width="4.80" height="24.78" fill="#0b0bf5"/>
<line x1="515.63" y1="439.55" x2="515.63" y2="442.32" stroke="#111" stroke-width="0.9"/>
<line x1="514.13" y1="439.55" x2="517.13" y2="439.55" stroke="#111" stroke-width="0.9"/>
<rect x="519.81" y="450.37" width="4.80" height="16.23" fill="#0b0bf5"/>
<line x1="522.21" y1="448.45" x2="522.21" y2="450.87" stroke="#111" stroke-width="0.9"/>
<line x1="520.71" y1="448.45" x2="523.71" y2="448.45" stroke="#111" stroke-width="0.9"/>
<rect x="526.39" y="459.10" width="4.80" height="7.50" fill="#0b0bf5"/>
<line x1="528.79" y1="458.22" x2="528.79" y2="459.60" stroke="#111" stroke-width="0.9"/>
<line x1="527.29" y1="458.22" x2="530.29" y2="458.22" stroke="#111" stroke-width="0.9"/>
<rect x="532.98" y="444.26" width="4.80" height="22.34" fill="#0b0bf5"/>
<line x1="535.38" y1="441.82" x2="535.38" y2="444.76" stroke="#111" stroke-width="0.9"/>
<line x1="533.88" y1="441.82" x2="536.88" y2="441.82" stroke="#111" stroke-width="0.9"/>
<rect x="539.56" y="430.48" width="4.80" height="36.12" fill="#0b0bf5"/>
<line x1="541.96" y1="427.16" x2="541.96" y2="430.98" stroke="#111" stroke-width="0.9"/>
<line x1="540.46" y1="427.16" x2="543.46" y2="427.16" stroke="#111" stroke-width="0.9"/>
<rect x="546.14" y="456.13" width="4.80" height="10.47" fill="#0b0bf5"/>
<line x1="548.54" y1="455.08" x2="548.54" y2="456.63" stroke="#111" stroke-width="0.9"/>
<line x1="547.04" y1="455.08" x2="550.04" y2="455.08" stroke="#111" stroke-width="0.9"/>
<rect x="552.73" y="457.70" width="4.80" height="8.90" fill="#0b0bf5"/>
<line x1="555.13" y1="456.65" x2="555.13" y2="458.20" stroke="#111" stroke-width="0.9"/>
<line x1="553.63" y1="456.65" x2="556.63" y2="456.65" stroke="#111" stroke-width="0.9"/>
<rect x="559.31" y="448.63" width="4.80" height="17.97" fill="#0b0bf5"/>
<line x1="561.71" y1="446.71" x2="561.71" y2="449.13" stroke="#111" stroke-width="0.9"/>
<line x1="560.21" y1="446.71" x2="563.21" y2="446.71" stroke="#111" stroke-width="0.9"/>
<rect x="565.89" y="405.70" width="4.80" height="60.90" fill="#0b0bf5"/>
<line x1="568.29" y1="401.16" x2="568.29" y2="406.20" stroke="#111" stroke-width="0.9"/>
<line x1="566.79" y1="401.16" x2="569.79" y2="401.16" stroke="#111" stroke-width="0.9"/>
<rect x="572.48" y="462.24" width="4.80" height="4.36" fill="#0b0bf5"/>
<line x1="574.88" y1="461.54" x2="574.88" y2="462.74" stroke="#111" stroke-width="0.9"/>
<line x1="573.38" y1="461.54" x2="576.38" y2="461.54" stroke="#111" stroke-width="0.9"/>
<rect x="579.06" y="452.64" width="4.80" height="13.96" fill="#0b0bf5"/>
<line x1="581.46" y1="451.07" x2="581.46" y2="453.14" stroke="#111" stroke-width="0.9"/>
<line x1="579.96" y1="451.07" x2="582.96" y2="451.07" stroke="#111" stroke-width="0.9"/>
<rect x="585.64" y="446.18" width="4.80" height="20.42" fill="#0b0bf5"/>
<line x1="588.04" y1="444.09" x2="588.04" y2="446.68" stroke="#111" stroke-width="0.9"/>
<line x1="586.54" y1="444.09" x2="589.54" y2="444.09" stroke="#111" stroke-width="0.9"/>
<rect x="592.22" y="459.45" width="4.80" height="7.15" fill="#0b0bf5"/>
<line x1="594.62" y1="458.57" x2="594.62" y2="459.95" stroke="#111" stroke-width="0.9"/>
<line x1="593.12" y1="458.57" x2="596.12" y2="458.57" stroke="#111" stroke-width="0.9"/>
<rect x="598.81" y="449.15" width="4.80" height="17.45" fill="#0b0bf5"/>
<line x1="601.21" y1="447.06" x2="601.21" y2="449.65" stroke="#111" stroke-width="0.9"/>
<line x1="599.71" y1="447.06" x2="602.71" y2="447.06" stroke="#111" stroke-width="0.9"/>
<rect x="605.39" y="455.61" width="4.80" height="10.99" fill="#0b0bf5"/>
<line x1="607.79" y1="454.39" x2="607.79" y2="456.11" stroke="#111" stroke-width="0.9"/>
<line x1="606.29" y1="454.39" x2="609.29" y2="454.39" stroke="#111" stroke-width="0.9"/>
<rect x="611.97" y="461.54" width="4.80" height="5.06" fill="#0b0bf5"/>
<line x1="614.37" y1="460.84" x2="614.37" y2="462.04" stroke="#111" stroke-width="0.9"/>
<line x1="612.87" y1="460.84" x2="615.87" y2="460.84" stroke="#111" stroke-width="0.9"/>
<rect x="618.56" y="460.67" width="4.80" height="5.93" fill="#0b0bf5"/>
<line x1="620.96" y1="459.97" x2="620.96" y2="461.17" stroke="#111" stroke-width="0.9"/>
<line x1="619.46" y1="459.97" x2="622.46" y2="459.97" stroke="#111" stroke-width="0.9"/>
<rect x="625.14" y="456.48" width="4.80" height="10.12" fill="#0b0bf5"/>
<line x1="627.54" y1="455.26" x2="627.54" y2="456.98" stroke="#111" stroke-width="0.9"/>
<line x1="626.04" y1="455.26" x2="629.04" y2="455.26" stroke="#111" stroke-width="0.9"/>
<rect x="631.72" y="458.22" width="4.80" height="8.38" fill="#0b0bf5"/>
<line x1="634.12" y1="457.18" x2="634.12" y2="458.72" stroke="#111" stroke-width="0.9"/>
<line x1="632.62" y1="457.18" x2="635.62" y2="457.18" stroke="#111" stroke-width="0.9"/>
<rect x="638.31" y="459.79" width="4.80" height="6.81" fill="#0b0bf5"/>
<line x1="640.71" y1="458.92" x2="640.71" y2="460.29" stroke="#111" stroke-width="0.9"/>
<line x1="639.21" y1="458.92" x2="642.21" y2="458.92" stroke="#111" stroke-width="0.9"/>
<rect x="644.89" y="459.79" width="4.80" height="6.81" fill="#0b0bf5"/>
<line x1="647.29" y1="458.92" x2="647.29" y2="460.29" stroke="#111" stroke-width="0.9"/>
<line x1="645.79" y1="458.92" x2="648.79" y2="458.92" stroke="#111" stroke-width="0.9"/>
<rect x="651.47" y="461.54" width="4.80" height="5.06" fill="#0b0bf5"/>
<line x1="653.87" y1="460.84" x2="653.87" y2="462.04" stroke="#111" stroke-width="0.9"/>
<line x1="652.37" y1="460.84" x2="655.37" y2="460.84" stroke="#111" stroke-width="0.9"/>
<rect x="658.05" y="463.98" width="4.80" height="2.62" fill="#0b0bf5"/>
<line x1="660.45" y1="463.46" x2="660.45" y2="464.48" stroke="#111" stroke-width="0.9"/>
<line x1="658.95" y1="463.46" x2="661.95" y2="463.46" stroke="#111" stroke-width="0.9"/>
<rect x="664.64" y="461.54" width="4.80" height="5.06" fill="#0b0bf5"/>
<line x1="667.04" y1="460.84" x2="667.04" y2="462.04" stroke="#111" stroke-width="0.9"/>
<line x1="665.54" y1="460.84" x2="668.54" y2="460.84" stroke="#111" stroke-width="0.9"/>
<rect x="671.22" y="462.94" width="4.80" height="3.66" fill="#0b0bf5"/>
<line x1="673.62" y1="462.24" x2="673.62" y2="463.44" stroke="#111" stroke-width="0.9"/>
<line x1="672.12" y1="462.24" x2="675.12" y2="462.24" stroke="#111" stroke-width="0.9"/>
<rect x="405.5" y="397.0" width="273.5" height="69.60000000000002" fill="none" stroke="#111" stroke-width="1.3"/>
<line x1="398.50" y1="466.60" x2="405.50" y2="466.60" stroke="#111" stroke-width="1.3"/>
<text x="396.60" y="471.20" font-size="13.2" text-anchor="end" fill="#000">0</text>
<line x1="398.50" y1="449.15" x2="405.50" y2="449.15" stroke="#111" stroke-width="1.3"/>
<text x="396.60" y="453.75" font-size="13.2" text-anchor="end" fill="#000">10</text>
<line x1="398.50" y1="431.70" x2="405.50" y2="431.70" stroke="#111" stroke-width="1.3"/>
<text x="396.60" y="436.30" font-size="13.2" text-anchor="end" fill="#000">20</text>
<line x1="398.50" y1="414.25" x2="405.50" y2="414.25" stroke="#111" stroke-width="1.3"/>
<text x="396.60" y="418.85" font-size="13.2" text-anchor="end" fill="#000">30</text>
<line x1="398.50" y1="396.80" x2="405.50" y2="396.80" stroke="#111" stroke-width="1.3"/>
<text x="396.60" y="401.40" font-size="13.2" text-anchor="end" fill="#000">40</text>
<line x1="410.30" y1="466.60" x2="410.30" y2="473.10" stroke="#111" stroke-width="1.3"/>
<text x="410.30" y="487.50" font-size="13.6" text-anchor="middle" fill="#000">310</text>
<line x1="443.22" y1="466.60" x2="443.22" y2="470.60" stroke="#111" stroke-width="1.3"/>
<line x1="476.13" y1="466.60" x2="476.13" y2="473.10" stroke="#111" stroke-width="1.3"/>
<text x="476.13" y="487.50" font-size="13.6" text-anchor="middle" fill="#000">320</text>
<line x1="509.05" y1="466.60" x2="509.05" y2="470.60" stroke="#111" stroke-width="1.3"/>
<line x1="541.96" y1="466.60" x2="541.96" y2="473.10" stroke="#111" stroke-width="1.3"/>
<text x="541.96" y="487.50" font-size="13.6" text-anchor="middle" fill="#000">330</text>
<line x1="574.88" y1="466.60" x2="574.88" y2="470.60" stroke="#111" stroke-width="1.3"/>
<line x1="607.79" y1="466.60" x2="607.79" y2="473.10" stroke="#111" stroke-width="1.3"/>
<text x="607.79" y="487.50" font-size="13.6" text-anchor="middle" fill="#000">340</text>
<line x1="640.71" y1="466.60" x2="640.71" y2="470.60" stroke="#111" stroke-width="1.3"/>
<line x1="673.62" y1="466.60" x2="673.62" y2="473.10" stroke="#111" stroke-width="1.3"/>
<text x="673.62" y="487.50" font-size="13.6" text-anchor="middle" fill="#000">350</text>
<text x="547.50" y="499.90" font-size="16.4" text-anchor="middle" fill="#000">Residue index</text>
<text x="373.9" y="454.6" font-size="16.4" font-style="italic" transform="rotate(-90 373.9 454.6)">N<tspan font-style="normal" font-size="9.4" dy="6.4" dx="0.4">contact</tspan></text>
<text x="410.30" y="395.90" font-size="8.9" text-anchor="middle" fill="#222">G</text>
<text x="416.88" y="395.90" font-size="8.9" text-anchor="middle" fill="#222">M</text>
<text x="423.47" y="395.90" font-size="8.9" text-anchor="middle" fill="#222">N</text>
<text x="430.05" y="395.90" font-size="8.9" text-anchor="middle" font-weight="bold" fill="#222">F</text>
<text x="436.63" y="395.90" font-size="8.9" text-anchor="middle" fill="#222">G</text>
<text x="443.22" y="395.90" font-size="8.9" text-anchor="middle" fill="#222">A</text>
<text x="449.80" y="395.90" font-size="8.9" text-anchor="middle" font-weight="bold" fill="#222">F</text>
<text x="456.38" y="395.90" font-size="8.9" text-anchor="middle" fill="#222">S</text>
<text x="462.96" y="395.90" font-size="8.9" text-anchor="middle" fill="#222">I</text>
<text x="469.55" y="395.90" font-size="8.9" text-anchor="middle" fill="#222">N</text>
<text x="476.13" y="395.90" font-size="8.9" text-anchor="middle" fill="#222">P</text>
<text x="482.71" y="395.90" font-size="8.9" text-anchor="middle" fill="#222">A</text>
<text x="489.30" y="395.90" font-size="8.9" text-anchor="middle" fill="#222">M</text>
<text x="495.88" y="395.90" font-size="8.9" text-anchor="middle" fill="#222">M</text>
<text x="502.46" y="395.90" font-size="8.9" text-anchor="middle" fill="#222">A</text>
<text x="509.05" y="395.90" font-size="8.9" text-anchor="middle" fill="#222">A</text>
<text x="515.63" y="395.90" font-size="8.9" text-anchor="middle" fill="#222">A</text>
<text x="522.21" y="395.90" font-size="8.9" text-anchor="middle" fill="#222">Q</text>
<text x="528.79" y="395.90" font-size="8.9" text-anchor="middle" fill="#222">A</text>
<text x="535.38" y="395.90" font-size="8.9" text-anchor="middle" fill="#222">A</text>
<text x="541.96" y="395.90" font-size="8.9" text-anchor="middle" font-weight="bold" fill="#222">L</text>
<text x="548.54" y="395.90" font-size="8.9" text-anchor="middle" fill="#222">Q</text>
<text x="555.13" y="395.90" font-size="8.9" text-anchor="middle" fill="#222">S</text>
<text x="561.71" y="395.90" font-size="8.9" text-anchor="middle" fill="#222">S</text>
<text x="568.29" y="395.90" font-size="8.9" text-anchor="middle" font-weight="bold" fill="#222">W</text>
<text x="574.88" y="395.90" font-size="8.9" text-anchor="middle" fill="#222">G</text>
<text x="581.46" y="395.90" font-size="8.9" text-anchor="middle" fill="#222">M</text>
<text x="588.04" y="395.90" font-size="8.9" text-anchor="middle" fill="#222">M</text>
<text x="594.62" y="395.90" font-size="8.9" text-anchor="middle" fill="#222">G</text>
<text x="601.21" y="395.90" font-size="8.9" text-anchor="middle" fill="#222">M</text>
<text x="607.79" y="395.90" font-size="8.9" text-anchor="middle" fill="#222">L</text>
<text x="614.37" y="395.90" font-size="8.9" text-anchor="middle" fill="#222">A</text>
<text x="620.96" y="395.90" font-size="8.9" text-anchor="middle" fill="#222">S</text>
<text x="627.54" y="395.90" font-size="8.9" text-anchor="middle" fill="#222">Q</text>
<text x="634.12" y="395.90" font-size="8.9" text-anchor="middle" fill="#222">Q</text>
<text x="640.71" y="395.90" font-size="8.9" text-anchor="middle" fill="#222">N</text>
<text x="647.29" y="395.90" font-size="8.9" text-anchor="middle" fill="#222">Q</text>
<text x="653.87" y="395.90" font-size="8.9" text-anchor="middle" fill="#222">S</text>
<text x="660.45" y="395.90" font-size="8.9" text-anchor="middle" fill="#222">G</text>
<text x="667.04" y="395.90" font-size="8.9" text-anchor="middle" fill="#222">P</text>
<text x="673.62" y="395.90" font-size="8.9" text-anchor="middle" fill="#222">S</text>
<text x="383.80" y="539.30" font-size="24.0" font-weight="bold" fill="#000">G</text>
<clipPath id="clipG"><rect x="467.4" y="528.2" width="161.80000000000007" height="168.5"/></clipPath>
<line x1="467.40" y1="681.70" x2="629.20" y2="534.90" stroke="#ee1c24" stroke-width="1.6" clip-path="url(#clipG)"/>
<line x1="573.50" y1="545.00" x2="592.60" y2="545.00" stroke="#2222ff" stroke-width="1.0"/>
<line x1="583.00" y1="530.00" x2="583.00" y2="559.40" stroke="#2222ff" stroke-width="1.0"/>
<circle cx="573.50" cy="545.00" r="0.90" fill="#2222ff"/>
<circle cx="592.60" cy="545.00" r="0.90" fill="#2222ff"/>
<circle cx="583.00" cy="530.00" r="0.90" fill="#2222ff"/>
<circle cx="583.00" cy="559.40" r="0.90" fill="#2222ff"/>
<line x1="579.40" y1="559.20" x2="600.70" y2="559.20" stroke="#2222ff" stroke-width="1.0"/>
<line x1="589.70" y1="545.40" x2="589.70" y2="573.00" stroke="#2222ff" stroke-width="1.0"/>
<circle cx="579.40" cy="559.20" r="0.90" fill="#2222ff"/>
<circle cx="600.70" cy="559.20" r="0.90" fill="#2222ff"/>
<circle cx="589.70" cy="545.40" r="0.90" fill="#2222ff"/>
<circle cx="589.70" cy="573.00" r="0.90" fill="#2222ff"/>
<line x1="511.00" y1="583.40" x2="520.30" y2="583.40" stroke="#2222ff" stroke-width="1.0"/>
<line x1="515.60" y1="565.30" x2="515.60" y2="600.00" stroke="#2222ff" stroke-width="1.0"/>
<circle cx="511.00" cy="583.40" r="0.90" fill="#2222ff"/>
<circle cx="520.30" cy="583.40" r="0.90" fill="#2222ff"/>
<circle cx="515.60" cy="565.30" r="0.90" fill="#2222ff"/>
<circle cx="515.60" cy="600.00" r="0.90" fill="#2222ff"/>
<line x1="553.80" y1="603.40" x2="571.10" y2="603.40" stroke="#2222ff" stroke-width="1.0"/>
<line x1="562.30" y1="588.70" x2="562.30" y2="618.30" stroke="#2222ff" stroke-width="1.0"/>
<circle cx="553.80" cy="603.40" r="0.90" fill="#2222ff"/>
<circle cx="571.10" cy="603.40" r="0.90" fill="#2222ff"/>
<circle cx="562.30" cy="588.70" r="0.90" fill="#2222ff"/>
<circle cx="562.30" cy="618.30" r="0.90" fill="#2222ff"/>
<line x1="582.00" y1="606.50" x2="602.40" y2="606.50" stroke="#2222ff" stroke-width="1.0"/>
<line x1="592.20" y1="597.30" x2="592.20" y2="615.40" stroke="#2222ff" stroke-width="1.0"/>
<circle cx="582.00" cy="606.50" r="0.90" fill="#2222ff"/>
<circle cx="602.40" cy="606.50" r="0.90" fill="#2222ff"/>
<circle cx="592.20" cy="597.30" r="0.90" fill="#2222ff"/>
<circle cx="592.20" cy="615.40" r="0.90" fill="#2222ff"/>
<line x1="500.00" y1="605.00" x2="508.00" y2="605.00" stroke="#2222ff" stroke-width="1.0"/>
<line x1="503.90" y1="590.40" x2="503.90" y2="620.10" stroke="#2222ff" stroke-width="1.0"/>
<circle cx="500.00" cy="605.00" r="0.90" fill="#2222ff"/>
<circle cx="508.00" cy="605.00" r="0.90" fill="#2222ff"/>
<circle cx="503.90" cy="590.40" r="0.90" fill="#2222ff"/>
<circle cx="503.90" cy="620.10" r="0.90" fill="#2222ff"/>
<line x1="505.00" y1="606.70" x2="512.00" y2="606.70" stroke="#2222ff" stroke-width="1.0"/>
<line x1="508.40" y1="596.80" x2="508.40" y2="617.20" stroke="#2222ff" stroke-width="1.0"/>
<circle cx="505.00" cy="606.70" r="0.90" fill="#2222ff"/>
<circle cx="512.00" cy="606.70" r="0.90" fill="#2222ff"/>
<circle cx="508.40" cy="596.80" r="0.90" fill="#2222ff"/>
<circle cx="508.40" cy="617.20" r="0.90" fill="#2222ff"/>
<line x1="508.00" y1="604.40" x2="516.50" y2="604.40" stroke="#2222ff" stroke-width="1.0"/>
<line x1="512.10" y1="590.10" x2="512.10" y2="619.00" stroke="#2222ff" stroke-width="1.0"/>
<circle cx="508.00" cy="604.40" r="0.90" fill="#2222ff"/>
<circle cx="516.50" cy="604.40" r="0.90" fill="#2222ff"/>
<circle cx="512.10" cy="590.10" r="0.90" fill="#2222ff"/>
<circle cx="512.10" cy="619.00" r="0.90" fill="#2222ff"/>
<line x1="526.70" y1="605.00" x2="538.40" y2="605.00" stroke="#2222ff" stroke-width="1.0"/>
<line x1="532.60" y1="590.60" x2="532.60" y2="620.10" stroke="#2222ff" stroke-width="1.0"/>
<circle cx="526.70" cy="605.00" r="0.90" fill="#2222ff"/>
<circle cx="538.40" cy="605.00" r="0.90" fill="#2222ff"/>
<circle cx="532.60" cy="590.60" r="0.90" fill="#2222ff"/>
<circle cx="532.60" cy="620.10" r="0.90" fill="#2222ff"/>
<line x1="518.50" y1="619.60" x2="531.40" y2="619.60" stroke="#2222ff" stroke-width="1.0"/>
<line x1="524.70" y1="607.30" x2="524.70" y2="632.00" stroke="#2222ff" stroke-width="1.0"/>
<circle cx="518.50" cy="619.60" r="0.90" fill="#2222ff"/>
<circle cx="531.40" cy="619.60" r="0.90" fill="#2222ff"/>
<circle cx="524.70" cy="607.30" r="0.90" fill="#2222ff"/>
<circle cx="524.70" cy="632.00" r="0.90" fill="#2222ff"/>
<line x1="485.50" y1="657.60" x2="490.00" y2="657.60" stroke="#2222ff" stroke-width="1.0"/>
<line x1="487.70" y1="650.00" x2="487.70" y2="665.00" stroke="#2222ff" stroke-width="1.0"/>
<circle cx="485.50" cy="657.60" r="0.90" fill="#2222ff"/>
<circle cx="490.00" cy="657.60" r="0.90" fill="#2222ff"/>
<circle cx="487.70" cy="650.00" r="0.90" fill="#2222ff"/>
<circle cx="487.70" cy="665.00" r="0.90" fill="#2222ff"/>
<line x1="488.50" y1="656.40" x2="494.00" y2="656.40" stroke="#2222ff" stroke-width="1.0"/>
<line x1="491.10" y1="651.00" x2="491.10" y2="662.00" stroke="#2222ff" stroke-width="1.0"/>
<circle cx="488.50" cy="656.40" r="0.90" fill="#2222ff"/>
<circle cx="494.00" cy="656.40" r="0.90" fill="#2222ff"/>
<circle cx="491.10" cy="651.00" r="0.90" fill="#2222ff"/>
<circle cx="491.10" cy="662.00" r="0.90" fill="#2222ff"/>
<line x1="494.00" y1="665.60" x2="499.00" y2="665.60" stroke="#2222ff" stroke-width="1.0"/>
<line x1="496.50" y1="661.00" x2="496.50" y2="670.00" stroke="#2222ff" stroke-width="1.0"/>
<circle cx="494.00" cy="665.60" r="0.90" fill="#2222ff"/>
<circle cx="499.00" cy="665.60" r="0.90" fill="#2222ff"/>
<circle cx="496.50" cy="661.00" r="0.90" fill="#2222ff"/>
<circle cx="496.50" cy="670.00" r="0.90" fill="#2222ff"/>
<line x1="497.50" y1="674.70" x2="505.00" y2="674.70" stroke="#2222ff" stroke-width="1.0"/>
<line x1="500.90" y1="669.50" x2="500.90" y2="680.00" stroke="#2222ff" stroke-width="1.0"/>
<circle cx="497.50" cy="674.70" r="0.90" fill="#2222ff"/>
<circle cx="505.00" cy="674.70" r="0.90" fill="#2222ff"/>
<circle cx="500.90" cy="669.50" r="0.90" fill="#2222ff"/>
<circle cx="500.90" cy="680.00" r="0.90" fill="#2222ff"/>
<line x1="481.00" y1="677.90" x2="484.50" y2="677.90" stroke="#2222ff" stroke-width="1.0"/>
<line x1="482.60" y1="673.00" x2="482.60" y2="683.00" stroke="#2222ff" stroke-width="1.0"/>
<circle cx="481.00" cy="677.90" r="0.90" fill="#2222ff"/>
<circle cx="484.50" cy="677.90" r="0.90" fill="#2222ff"/>
<circle cx="482.60" cy="673.00" r="0.90" fill="#2222ff"/>
<circle cx="482.60" cy="683.00" r="0.90" fill="#2222ff"/>
<line x1="489.00" y1="680.80" x2="492.50" y2="680.80" stroke="#2222ff" stroke-width="1.0"/>
<line x1="490.70" y1="676.50" x2="490.70" y2="685.00" stroke="#2222ff" stroke-width="1.0"/>
<circle cx="489.00" cy="680.80" r="0.90" fill="#2222ff"/>
<circle cx="492.50" cy="680.80" r="0.90" fill="#2222ff"/>
<circle cx="490.70" cy="676.50" r="0.90" fill="#2222ff"/>
<circle cx="490.70" cy="685.00" r="0.90" fill="#2222ff"/>
<line x1="498.50" y1="688.80" x2="504.50" y2="688.80" stroke="#2222ff" stroke-width="1.0"/>
<line x1="501.30" y1="687.00" x2="501.30" y2="690.50" stroke="#2222ff" stroke-width="1.0"/>
<circle cx="498.50" cy="688.80" r="0.90" fill="#2222ff"/>
<circle cx="504.50" cy="688.80" r="0.90" fill="#2222ff"/>
<circle cx="501.30" cy="687.00" r="0.90" fill="#2222ff"/>
<circle cx="501.30" cy="690.50" r="0.90" fill="#2222ff"/>
<line x1="519.00" y1="683.00" x2="532.00" y2="683.00" stroke="#2222ff" stroke-width="1.0"/>
<line x1="525.40" y1="680.00" x2="525.40" y2="686.00" stroke="#2222ff" stroke-width="1.0"/>
<circle cx="519.00" cy="683.00" r="0.90" fill="#2222ff"/>
<circle cx="532.00" cy="683.00" r="0.90" fill="#2222ff"/>
<circle cx="525.40" cy="680.00" r="0.90" fill="#2222ff"/>
<circle cx="525.40" cy="686.00" r="0.90" fill="#2222ff"/>
<line x1="513.00" y1="687.10" x2="526.00" y2="687.10" stroke="#2222ff" stroke-width="1.0"/>
<line x1="519.40" y1="684.00" x2="519.40" y2="690.00" stroke="#2222ff" stroke-width="1.0"/>
<circle cx="513.00" cy="687.10" r="0.90" fill="#2222ff"/>
<circle cx="526.00" cy="687.10" r="0.90" fill="#2222ff"/>
<circle cx="519.40" cy="684.00" r="0.90" fill="#2222ff"/>
<circle cx="519.40" cy="690.00" r="0.90" fill="#2222ff"/>
<circle cx="583.00" cy="545.00" r="3.20" fill="#0a0af5"/>
<circle cx="589.70" cy="559.20" r="3.20" fill="#0a0af5"/>
<circle cx="515.60" cy="583.40" r="3.20" fill="#0a0af5"/>
<circle cx="562.30" cy="603.40" r="3.20" fill="#0a0af5"/>
<circle cx="592.20" cy="606.50" r="3.20" fill="#0a0af5"/>
<circle cx="503.90" cy="605.00" r="3.20" fill="#0a0af5"/>
<circle cx="508.40" cy="606.70" r="3.20" fill="#0a0af5"/>
<circle cx="512.10" cy="604.40" r="3.20" fill="#0a0af5"/>
<circle cx="532.60" cy="605.00" r="3.20" fill="#0a0af5"/>
<circle cx="524.70" cy="619.60" r="3.20" fill="#0a0af5"/>
<circle cx="487.70" cy="657.60" r="3.20" fill="#0a0af5"/>
<circle cx="491.10" cy="656.40" r="3.20" fill="#0a0af5"/>
<circle cx="496.50" cy="665.60" r="3.20" fill="#0a0af5"/>
<circle cx="500.90" cy="674.70" r="3.20" fill="#0a0af5"/>
<circle cx="482.60" cy="677.90" r="3.20" fill="#0a0af5"/>
<circle cx="490.70" cy="680.80" r="3.20" fill="#0a0af5"/>
<circle cx="501.30" cy="688.80" r="3.20" fill="#0a0af5"/>
<circle cx="525.40" cy="683.00" r="3.20" fill="#0a0af5"/>
<circle cx="519.40" cy="687.10" r="3.20" fill="#0a0af5"/>
<text x="586.00" y="540.80" font-size="8.0" fill="#333">L330</text>
<text x="568.90" y="567.70" font-size="8.0" fill="#333">F316</text>
<text x="517.10" y="580.80" font-size="8.0" fill="#333">M323</text>
<text x="565.00" y="601.90" font-size="8.0" fill="#333">M322</text>
<text x="594.30" y="603.20" font-size="8.0" fill="#333">F313</text>
<text x="485.80" y="602.60" font-size="8.0" fill="#333">L340</text>
<text x="513.00" y="601.50" font-size="8.0" fill="#333">M336</text>
<text x="533.10" y="601.50" font-size="8.0" fill="#333">M337</text>
<text x="492.60" y="614.30" font-size="8.0" fill="#333">I318</text>
<text x="503.90" y="627.70" font-size="8.0" fill="#333">M339</text>
<text x="468.80" y="654.50" font-size="8.0" fill="#333">S342</text>
<text x="492.10" y="653.50" font-size="8.0" fill="#333">S317</text>
<text x="498.70" y="663.70" font-size="8.0" fill="#333">S332</text>
<text x="502.00" y="672.50" font-size="8.0" fill="#333">Q343</text>
<text x="474.60" y="673.20" font-size="8.0" fill="#333">G335</text>
<text x="477.20" y="689.60" font-size="8.0" fill="#333">G338</text>
<text x="495.80" y="685.60" font-size="8.0" fill="#333">Q331</text>
<text x="526.90" y="681.20" font-size="8.0" fill="#333">S333</text>
<text x="521.00" y="694.00" font-size="8.0" fill="#333">Q327</text>
<rect x="467.4" y="528.2" width="161.80000000000007" height="168.5" fill="none" stroke="#111" stroke-width="1.4"/>
<line x1="459.60" y1="696.70" x2="467.40" y2="696.70" stroke="#111" stroke-width="1.3"/>
<text x="457.30" y="701.40" font-size="13.2" text-anchor="end" fill="#000">0.0</text>
<line x1="465.00" y1="691.88" x2="467.40" y2="691.88" stroke="#111" stroke-width="0.8"/>
<line x1="465.00" y1="687.06" x2="467.40" y2="687.06" stroke="#111" stroke-width="0.8"/>
<line x1="465.00" y1="682.24" x2="467.40" y2="682.24" stroke="#111" stroke-width="0.8"/>
<line x1="465.00" y1="677.42" x2="467.40" y2="677.42" stroke="#111" stroke-width="0.8"/>
<line x1="459.60" y1="672.60" x2="467.40" y2="672.60" stroke="#111" stroke-width="1.3"/>
<text x="457.30" y="677.30" font-size="13.2" text-anchor="end" fill="#000">0.5</text>
<line x1="465.00" y1="667.78" x2="467.40" y2="667.78" stroke="#111" stroke-width="0.8"/>
<line x1="465.00" y1="662.96" x2="467.40" y2="662.96" stroke="#111" stroke-width="0.8"/>
<line x1="465.00" y1="658.14" x2="467.40" y2="658.14" stroke="#111" stroke-width="0.8"/>
<line x1="465.00" y1="653.32" x2="467.40" y2="653.32" stroke="#111" stroke-width="0.8"/>
<line x1="459.60" y1="648.50" x2="467.40" y2="648.50" stroke="#111" stroke-width="1.3"/>
<text x="457.30" y="653.20" font-size="13.2" text-anchor="end" fill="#000">1.0</text>
<line x1="465.00" y1="643.68" x2="467.40" y2="643.68" stroke="#111" stroke-width="0.8"/>
<line x1="465.00" y1="638.86" x2="467.40" y2="638.86" stroke="#111" stroke-width="0.8"/>
<line x1="465.00" y1="634.04" x2="467.40" y2="634.04" stroke="#111" stroke-width="0.8"/>
<line x1="465.00" y1="629.22" x2="467.40" y2="629.22" stroke="#111" stroke-width="0.8"/>
<line x1="459.60" y1="624.40" x2="467.40" y2="624.40" stroke="#111" stroke-width="1.3"/>
<text x="457.30" y="629.10" font-size="13.2" text-anchor="end" fill="#000">1.5</text>
<line x1="465.00" y1="619.58" x2="467.40" y2="619.58" stroke="#111" stroke-width="0.8"/>
<line x1="465.00" y1="614.76" x2="467.40" y2="614.76" stroke="#111" stroke-width="0.8"/>
<line x1="465.00" y1="609.94" x2="467.40" y2="609.94" stroke="#111" stroke-width="0.8"/>
<line x1="465.00" y1="605.12" x2="467.40" y2="605.12" stroke="#111" stroke-width="0.8"/>
<line x1="459.60" y1="600.30" x2="467.40" y2="600.30" stroke="#111" stroke-width="1.3"/>
<text x="457.30" y="605.00" font-size="13.2" text-anchor="end" fill="#000">2.0</text>
<line x1="465.00" y1="595.48" x2="467.40" y2="595.48" stroke="#111" stroke-width="0.8"/>
<line x1="465.00" y1="590.66" x2="467.40" y2="590.66" stroke="#111" stroke-width="0.8"/>
<line x1="465.00" y1="585.84" x2="467.40" y2="585.84" stroke="#111" stroke-width="0.8"/>
<line x1="465.00" y1="581.02" x2="467.40" y2="581.02" stroke="#111" stroke-width="0.8"/>
<line x1="459.60" y1="576.20" x2="467.40" y2="576.20" stroke="#111" stroke-width="1.3"/>
<text x="457.30" y="580.90" font-size="13.2" text-anchor="end" fill="#000">2.5</text>
<line x1="465.00" y1="571.38" x2="467.40" y2="571.38" stroke="#111" stroke-width="0.8"/>
<line x1="465.00" y1="566.56" x2="467.40" y2="566.56" stroke="#111" stroke-width="0.8"/>
<line x1="465.00" y1="561.74" x2="467.40" y2="561.74" stroke="#111" stroke-width="0.8"/>
<line x1="465.00" y1="556.92" x2="467.40" y2="556.92" stroke="#111" stroke-width="0.8"/>
<line x1="459.60" y1="552.10" x2="467.40" y2="552.10" stroke="#111" stroke-width="1.3"/>
<text x="457.30" y="556.80" font-size="13.2" text-anchor="end" fill="#000">3.0</text>
<line x1="465.00" y1="547.28" x2="467.40" y2="547.28" stroke="#111" stroke-width="0.8"/>
<line x1="465.00" y1="542.46" x2="467.40" y2="542.46" stroke="#111" stroke-width="0.8"/>
<line x1="465.00" y1="537.64" x2="467.40" y2="537.64" stroke="#111" stroke-width="0.8"/>
<line x1="465.00" y1="532.82" x2="467.40" y2="532.82" stroke="#111" stroke-width="0.8"/>
<line x1="459.60" y1="528.00" x2="467.40" y2="528.00" stroke="#111" stroke-width="1.3"/>
<text x="457.30" y="532.70" font-size="13.2" text-anchor="end" fill="#000">3.5</text>
<line x1="467.40" y1="696.70" x2="467.40" y2="702.20" stroke="#111" stroke-width="1.3"/>
<text x="467.40" y="716.40" font-size="13.2" text-anchor="middle" fill="#000">0</text>
<line x1="472.80" y1="696.70" x2="472.80" y2="699.20" stroke="#111" stroke-width="0.8"/>
<line x1="478.20" y1="696.70" x2="478.20" y2="699.20" stroke="#111" stroke-width="0.8"/>
<line x1="483.60" y1="696.70" x2="483.60" y2="699.20" stroke="#111" stroke-width="0.8"/>
<line x1="489.00" y1="696.70" x2="489.00" y2="699.20" stroke="#111" stroke-width="0.8"/>
<line x1="494.40" y1="696.70" x2="494.40" y2="702.20" stroke="#111" stroke-width="1.3"/>
<text x="494.40" y="716.40" font-size="13.2" text-anchor="middle" fill="#000">5</text>
<line x1="499.80" y1="696.70" x2="499.80" y2="699.20" stroke="#111" stroke-width="0.8"/>
<line x1="505.20" y1="696.70" x2="505.20" y2="699.20" stroke="#111" stroke-width="0.8"/>
<line x1="510.60" y1="696.70" x2="510.60" y2="699.20" stroke="#111" stroke-width="0.8"/>
<line x1="516.00" y1="696.70" x2="516.00" y2="699.20" stroke="#111" stroke-width="0.8"/>
<line x1="521.40" y1="696.70" x2="521.40" y2="702.20" stroke="#111" stroke-width="1.3"/>
<text x="521.40" y="716.40" font-size="13.2" text-anchor="middle" fill="#000">10</text>
<line x1="526.80" y1="696.70" x2="526.80" y2="699.20" stroke="#111" stroke-width="0.8"/>
<line x1="532.20" y1="696.70" x2="532.20" y2="699.20" stroke="#111" stroke-width="0.8"/>
<line x1="537.60" y1="696.70" x2="537.60" y2="699.20" stroke="#111" stroke-width="0.8"/>
<line x1="543.00" y1="696.70" x2="543.00" y2="699.20" stroke="#111" stroke-width="0.8"/>
<line x1="548.40" y1="696.70" x2="548.40" y2="702.20" stroke="#111" stroke-width="1.3"/>
<text x="548.40" y="716.40" font-size="13.2" text-anchor="middle" fill="#000">15</text>
<line x1="553.80" y1="696.70" x2="553.80" y2="699.20" stroke="#111" stroke-width="0.8"/>
<line x1="559.20" y1="696.70" x2="559.20" y2="699.20" stroke="#111" stroke-width="0.8"/>
<line x1="564.60" y1="696.70" x2="564.60" y2="699.20" stroke="#111" stroke-width="0.8"/>
<line x1="570.00" y1="696.70" x2="570.00" y2="699.20" stroke="#111" stroke-width="0.8"/>
<line x1="575.40" y1="696.70" x2="575.40" y2="702.20" stroke="#111" stroke-width="1.3"/>
<text x="575.40" y="716.40" font-size="13.2" text-anchor="middle" fill="#000">20</text>
<line x1="580.80" y1="696.70" x2="580.80" y2="699.20" stroke="#111" stroke-width="0.8"/>
<line x1="586.20" y1="696.70" x2="586.20" y2="699.20" stroke="#111" stroke-width="0.8"/>
<line x1="591.60" y1="696.70" x2="591.60" y2="699.20" stroke="#111" stroke-width="0.8"/>
<line x1="597.00" y1="696.70" x2="597.00" y2="699.20" stroke="#111" stroke-width="0.8"/>
<line x1="602.40" y1="696.70" x2="602.40" y2="702.20" stroke="#111" stroke-width="1.3"/>
<text x="602.40" y="716.40" font-size="13.2" text-anchor="middle" fill="#000">25</text>
<line x1="607.80" y1="696.70" x2="607.80" y2="699.20" stroke="#111" stroke-width="0.8"/>
<line x1="613.20" y1="696.70" x2="613.20" y2="699.20" stroke="#111" stroke-width="0.8"/>
<line x1="618.60" y1="696.70" x2="618.60" y2="699.20" stroke="#111" stroke-width="0.8"/>
<line x1="624.00" y1="696.70" x2="624.00" y2="699.20" stroke="#111" stroke-width="0.8"/>
<line x1="629.40" y1="696.70" x2="629.40" y2="702.20" stroke="#111" stroke-width="1.3"/>
<text x="629.40" y="716.40" font-size="13.2" text-anchor="middle" fill="#000">30</text>
<text x="528.3" y="731.6" font-size="16.2" font-style="italic">N<tspan font-style="normal" font-size="10" dy="4.2" dx="0.5">contact</tspan></text>
<text x="426.3" y="663.4" font-size="17.5" transform="rotate(-90 426.3 663.4)">C<tspan font-size="9.8" dy="5">sat,X→A</tspan><tspan dy="-5">/C</tspan><tspan font-size="9.8" dy="5">sat,WT</tspan></text>
<line x1="466.60" y1="522.60" x2="626.00" y2="522.60" stroke="#111" stroke-width="1.4"/>
<path d="M624.5,519.2 L632.1,522.6 L624.5,526.0 Z" fill="#111"/>
<text x="546.30" y="518.90" font-size="11.3" text-anchor="middle" fill="#222">more contacts at this site</text>
<line x1="636.20" y1="698.30" x2="636.20" y2="535.00" stroke="#111" stroke-width="1.4"/>
<path d="M632.8,536.5 L636.2,528.9 L639.6,536.5 Z" fill="#111"/>
<text x="650.60" y="610.20" font-size="11.4" text-anchor="middle" fill="#222" transform="rotate(-90 650.6 610.2)">more disruption to phase separation</text>
<text x="663.30" y="610.70" font-size="11.4" text-anchor="middle" fill="#222" transform="rotate(-90 663.3 610.7)">by alanine substitution</text>
<text x="482.3" y="542.8" font-size="13.6" font-weight="bold"><tspan font-style="italic">r</tspan> = 0.7</text>
<text x="384.80" y="740.80" font-size="25.0" font-weight="bold" fill="#000">H</text>
<rect x="473.30" y="851.69" width="14.80" height="30.51" fill="#ffffff" stroke="#333" stroke-width="0.9"/>
<rect x="496.05" y="838.98" width="14.80" height="43.22" fill="#8fd0c0" stroke="#333" stroke-width="0.9"/>
<rect x="518.80" y="876.27" width="14.80" height="5.93" fill="#ff00ff" stroke="#333" stroke-width="0.9"/>
<rect x="541.55" y="840.16" width="14.80" height="42.04" fill="#8fd0c0" stroke="#333" stroke-width="0.9"/>
<rect x="564.30" y="793.04" width="14.80" height="89.16" fill="#b5d6f1" stroke="#333" stroke-width="0.9"/>
<rect x="587.05" y="880.17" width="14.80" height="2.03" fill="#8fd0c0" stroke="#333" stroke-width="0.9"/>
<rect x="609.80" y="829.15" width="14.80" height="53.05" fill="#ff00ff" stroke="#333" stroke-width="0.9"/>
<rect x="632.55" y="836.27" width="14.80" height="45.93" fill="#8fd0c0" stroke="#333" stroke-width="0.9"/>
<rect x="655.30" y="877.12" width="14.80" height="5.09" fill="#a8a8a8" stroke="#333" stroke-width="0.9"/>
<line x1="480.70" y1="845.76" x2="480.70" y2="857.62" stroke="#333" stroke-width="0.9"/>
<line x1="477.50" y1="845.76" x2="483.90" y2="845.76" stroke="#333" stroke-width="0.9"/>
<line x1="477.50" y1="857.62" x2="483.90" y2="857.62" stroke="#333" stroke-width="0.9"/>
<rect x="477.99" y="859.17" width="4.60" height="3.68" fill="#111"/>
<rect x="482.18" y="857.48" width="4.60" height="3.68" fill="#111"/>
<rect x="473.72" y="855.78" width="4.60" height="3.68" fill="#111"/>
<rect x="476.22" y="854.09" width="4.60" height="3.68" fill="#111"/>
<rect x="483.02" y="852.39" width="4.60" height="3.68" fill="#111"/>
<rect x="480.04" y="851.54" width="4.60" height="3.68" fill="#111"/>
<rect x="474.68" y="850.70" width="4.60" height="3.68" fill="#111"/>
<rect x="476.88" y="849.00" width="4.60" height="3.68" fill="#111"/>
<rect x="482.20" y="848.15" width="4.60" height="3.68" fill="#111"/>
<rect x="477.81" y="846.46" width="4.60" height="3.68" fill="#111"/>
<rect x="473.69" y="844.76" width="4.60" height="3.68" fill="#111"/>
<rect x="482.36" y="843.07" width="4.60" height="3.68" fill="#111"/>
<rect x="474.70" y="841.38" width="4.60" height="3.68" fill="#111"/>
<rect x="479.81" y="839.68" width="4.60" height="3.68" fill="#111"/>
<line x1="503.45" y1="822.03" x2="503.45" y2="855.08" stroke="#333" stroke-width="0.9"/>
<line x1="500.25" y1="822.03" x2="506.65" y2="822.03" stroke="#333" stroke-width="0.9"/>
<line x1="500.25" y1="855.08" x2="506.65" y2="855.08" stroke="#333" stroke-width="0.9"/>
<path d="M497.6,817.2 L499.9,821.3 L495.3,821.3 Z" fill="#111"/>
<path d="M509.6,820.7 L511.9,824.9 L507.3,824.9 Z" fill="#111"/>
<path d="M509.6,838.7 L511.9,842.9 L507.3,842.9 Z" fill="#111"/>
<path d="M497.6,841.6 L499.9,845.7 L495.3,845.7 Z" fill="#111"/>
<path d="M503.4,860.6 L505.8,864.7 L501.1,864.7 Z" fill="#111"/>
<path d="M503.4,818.9 L505.8,823.0 L501.1,823.0 Z" fill="#111"/>
<line x1="526.20" y1="873.73" x2="526.20" y2="877.96" stroke="#333" stroke-width="0.9"/>
<line x1="523.00" y1="873.73" x2="529.40" y2="873.73" stroke="#333" stroke-width="0.9"/>
<line x1="523.00" y1="877.96" x2="529.40" y2="877.96" stroke="#333" stroke-width="0.9"/>
<path d="M527.3,870.9 L529.3,874.5 L525.3,874.5 Z" fill="#111"/>
<path d="M522.4,871.7 L524.4,875.3 L520.4,875.3 Z" fill="#111"/>
<path d="M524.4,874.3 L526.4,877.9 L522.4,877.9 Z" fill="#111"/>
<path d="M524.0,876.0 L526.0,879.6 L522.0,879.6 Z" fill="#111"/>
<path d="M528.1,872.6 L530.1,876.2 L526.1,876.2 Z" fill="#111"/>
<line x1="548.95" y1="820.33" x2="548.95" y2="860.17" stroke="#333" stroke-width="0.9"/>
<line x1="545.75" y1="820.33" x2="552.15" y2="820.33" stroke="#333" stroke-width="0.9"/>
<line x1="545.75" y1="860.17" x2="552.15" y2="860.17" stroke="#333" stroke-width="0.9"/>
<path d="M548.9,815.5 L551.2,817.8 L548.9,820.1 L546.6,817.8 Z" fill="#111"/>
<path d="M548.9,821.8 L551.2,824.1 L548.9,826.4 L546.6,824.1 Z" fill="#111"/>
<path d="M548.9,826.5 L551.2,828.8 L548.9,831.1 L546.6,828.8 Z" fill="#111"/>
<path d="M548.9,845.5 L551.2,847.8 L548.9,850.1 L546.6,847.8 Z" fill="#111"/>
<path d="M548.9,852.6 L551.2,854.9 L548.9,857.2 L546.6,854.9 Z" fill="#111"/>
<path d="M548.9,867.2 L551.2,869.5 L548.9,871.8 L546.6,869.5 Z" fill="#111"/>
<line x1="571.70" y1="775.42" x2="571.70" y2="809.65" stroke="#333" stroke-width="0.9"/>
<line x1="568.50" y1="775.42" x2="574.90" y2="775.42" stroke="#333" stroke-width="0.9"/>
<line x1="568.50" y1="809.65" x2="574.90" y2="809.65" stroke="#333" stroke-width="0.9"/>
<circle cx="571.70" cy="767.96" r="2.18" fill="#111"/>
<circle cx="571.70" cy="775.42" r="2.18" fill="#111"/>
<circle cx="571.70" cy="781.69" r="2.18" fill="#111"/>
<circle cx="571.70" cy="788.47" r="2.18" fill="#111"/>
<circle cx="566.00" cy="801.18" r="2.18" fill="#111"/>
<circle cx="577.40" cy="801.18" r="2.18" fill="#111"/>
<circle cx="571.70" cy="807.45" r="2.18" fill="#111"/>
<circle cx="571.70" cy="817.79" r="2.18" fill="#111"/>
<line x1="594.45" y1="875.42" x2="594.45" y2="882.20" stroke="#333" stroke-width="0.9"/>
<line x1="591.25" y1="875.42" x2="597.65" y2="875.42" stroke="#333" stroke-width="0.9"/>
<line x1="591.25" y1="882.20" x2="597.65" y2="882.20" stroke="#333" stroke-width="0.9"/>
<rect x="590.63" y="873.65" width="4.00" height="3.20" fill="#111"/>
<rect x="592.35" y="873.65" width="4.00" height="3.20" fill="#111"/>
<rect x="589.11" y="879.24" width="4.00" height="3.20" fill="#111"/>
<rect x="591.16" y="879.24" width="4.00" height="3.20" fill="#111"/>
<rect x="589.03" y="878.90" width="4.00" height="3.20" fill="#111"/>
<rect x="588.54" y="878.06" width="4.00" height="3.20" fill="#111"/>
<line x1="617.20" y1="809.99" x2="617.20" y2="847.62" stroke="#333" stroke-width="0.9"/>
<line x1="614.00" y1="809.99" x2="620.40" y2="809.99" stroke="#333" stroke-width="0.9"/>
<line x1="614.00" y1="847.62" x2="620.40" y2="847.62" stroke="#333" stroke-width="0.9"/>
<path d="M617.2,791.8 L619.5,795.9 L614.9,795.9 Z" fill="#111"/>
<path d="M617.2,816.8 L619.5,821.0 L614.9,821.0 Z" fill="#111"/>
<path d="M617.2,830.2 L619.5,834.4 L614.9,834.4 Z" fill="#111"/>
<path d="M617.2,835.0 L619.5,839.1 L614.9,839.1 Z" fill="#111"/>
<path d="M617.2,841.3 L619.5,845.4 L614.9,845.4 Z" fill="#111"/>
<path d="M617.2,850.1 L619.5,854.2 L614.9,854.2 Z" fill="#111"/>
<line x1="639.95" y1="817.28" x2="639.95" y2="854.74" stroke="#333" stroke-width="0.9"/>
<line x1="636.75" y1="817.28" x2="643.15" y2="817.28" stroke="#333" stroke-width="0.9"/>
<line x1="636.75" y1="854.74" x2="643.15" y2="854.74" stroke="#333" stroke-width="0.9"/>
<path d="M637.1,806.5 L639.4,808.8 L637.1,811.1 L634.9,808.8 Z" fill="#fff" stroke="#111" stroke-width="0.9"/>
<path d="M642.8,805.5 L645.1,807.8 L642.8,810.1 L640.5,807.8 Z" fill="#fff" stroke="#111" stroke-width="0.9"/>
<path d="M634.1,838.7 L636.4,841.0 L634.1,843.3 L631.9,841.0 Z" fill="#fff" stroke="#111" stroke-width="0.9"/>
<path d="M639.9,836.3 L642.2,838.6 L639.9,840.9 L637.6,838.6 Z" fill="#fff" stroke="#111" stroke-width="0.9"/>
<path d="M645.8,839.2 L648.1,841.5 L645.8,843.8 L643.5,841.5 Z" fill="#fff" stroke="#111" stroke-width="0.9"/>
<path d="M639.9,844.0 L642.2,846.3 L639.9,848.6 L637.6,846.3 Z" fill="#fff" stroke="#111" stroke-width="0.9"/>
<path d="M639.9,861.9 L642.2,864.2 L639.9,866.5 L637.6,864.2 Z" fill="#fff" stroke="#111" stroke-width="0.9"/>
<line x1="662.70" y1="875.42" x2="662.70" y2="878.81" stroke="#333" stroke-width="0.9"/>
<line x1="659.50" y1="875.42" x2="665.90" y2="875.42" stroke="#333" stroke-width="0.9"/>
<line x1="659.50" y1="878.81" x2="665.90" y2="878.81" stroke="#333" stroke-width="0.9"/>
<path d="M663.1,877.4 L665.1,873.8 L661.1,873.8 Z" fill="#111"/>
<path d="M659.8,878.3 L661.8,874.7 L657.8,874.7 Z" fill="#111"/>
<path d="M664.4,879.1 L666.4,875.5 L662.4,875.5 Z" fill="#111"/>
<path d="M661.1,880.0 L663.1,876.4 L659.1,876.4 Z" fill="#111"/>
<path d="M666.2,877.8 L668.2,874.2 L664.2,874.2 Z" fill="#111"/>
<rect x="469.9" y="746.7" width="204.30000000000007" height="135.5" fill="none" stroke="#111" stroke-width="1.4"/>
<line x1="460.50" y1="882.20" x2="469.90" y2="882.20" stroke="#111" stroke-width="1.3"/>
<text x="458.60" y="887.00" font-size="13.4" text-anchor="end" fill="#000">0</text>
<line x1="460.50" y1="848.30" x2="469.90" y2="848.30" stroke="#111" stroke-width="1.3"/>
<text x="458.60" y="853.10" font-size="13.4" text-anchor="end" fill="#000">2</text>
<line x1="460.50" y1="814.40" x2="469.90" y2="814.40" stroke="#111" stroke-width="1.3"/>
<text x="458.60" y="819.20" font-size="13.4" text-anchor="end" fill="#000">4</text>
<line x1="460.50" y1="780.50" x2="469.90" y2="780.50" stroke="#111" stroke-width="1.3"/>
<text x="458.60" y="785.30" font-size="13.4" text-anchor="end" fill="#000">6</text>
<line x1="460.50" y1="746.60" x2="469.90" y2="746.60" stroke="#111" stroke-width="1.3"/>
<text x="458.60" y="751.40" font-size="13.4" text-anchor="end" fill="#000">8</text>
<line x1="480.70" y1="882.20" x2="480.70" y2="891.40" stroke="#111" stroke-width="1.3"/>
<text x="491.2" y="898.0" font-size="14.8" text-anchor="end" transform="rotate(-45 491.2 898.0)">WT</text>
<line x1="503.45" y1="882.20" x2="503.45" y2="891.40" stroke="#111" stroke-width="1.3"/>
<text x="514.0" y="898.0" font-size="14.8" text-anchor="end" transform="rotate(-45 514.0 898.0)">Q327A</text>
<line x1="526.20" y1="882.20" x2="526.20" y2="891.40" stroke="#111" stroke-width="1.3"/>
<text x="536.7" y="898.0" font-size="14.8" text-anchor="end" transform="rotate(-45 536.7 898.0)">L330A</text>
<line x1="548.95" y1="882.20" x2="548.95" y2="891.40" stroke="#111" stroke-width="1.3"/>
<text x="559.4" y="898.0" font-size="14.8" text-anchor="end" transform="rotate(-45 559.4 898.0)">Q331A</text>
<line x1="571.70" y1="882.20" x2="571.70" y2="891.40" stroke="#111" stroke-width="1.3"/>
<text x="582.2" y="898.0" font-size="14.8" text-anchor="end" transform="rotate(-45 582.2 898.0)">S333A</text>
<line x1="594.45" y1="882.20" x2="594.45" y2="891.40" stroke="#111" stroke-width="1.3"/>
<text x="604.9" y="898.0" font-size="14.8" text-anchor="end" transform="rotate(-45 604.9 898.0)">W334A</text>
<line x1="617.20" y1="882.20" x2="617.20" y2="891.40" stroke="#111" stroke-width="1.3"/>
<text x="627.7" y="898.0" font-size="14.8" text-anchor="end" transform="rotate(-45 627.7 898.0)">L340A</text>
<line x1="639.95" y1="882.20" x2="639.95" y2="891.40" stroke="#111" stroke-width="1.3"/>
<text x="650.4" y="898.0" font-size="14.8" text-anchor="end" transform="rotate(-45 650.4 898.0)">Q343A</text>
<line x1="662.70" y1="882.20" x2="662.70" y2="891.40" stroke="#111" stroke-width="1.3"/>
<text x="673.2" y="898.0" font-size="14.8" text-anchor="end" transform="rotate(-45 673.2 898.0)">A326P</text>
<text x="526.20" y="760.30" font-size="11.5" text-anchor="middle" fill="#222">***</text>
<text x="571.70" y="760.30" font-size="11.5" text-anchor="middle" fill="#222">****</text>
<text x="617.20" y="760.30" font-size="11.5" text-anchor="middle" fill="#222">**</text>
<text x="503.45" y="779.60" font-size="11.8" text-anchor="middle" fill="#222">ns</text>
<text x="548.95" y="779.60" font-size="11.8" text-anchor="middle" fill="#222">ns</text>
<text x="594.45" y="782.50" font-size="11.5" text-anchor="middle" fill="#222">***</text>
<text x="639.95" y="782.50" font-size="11.5" text-anchor="middle" fill="#222">*</text>
<text x="662.70" y="782.50" font-size="11.5" text-anchor="middle" fill="#222">***</text>
<text font-size="16.4" text-anchor="middle" transform="rotate(-90)"><tspan x="-825.8" y="414.5">Ratio TDP-43</tspan><tspan x="-825.3" y="431.5">nuclear/cytoplasmic</tspan><tspan x="-825.0" y="447.6">fractionation</tspan></text>
</svg>
</body></html>
